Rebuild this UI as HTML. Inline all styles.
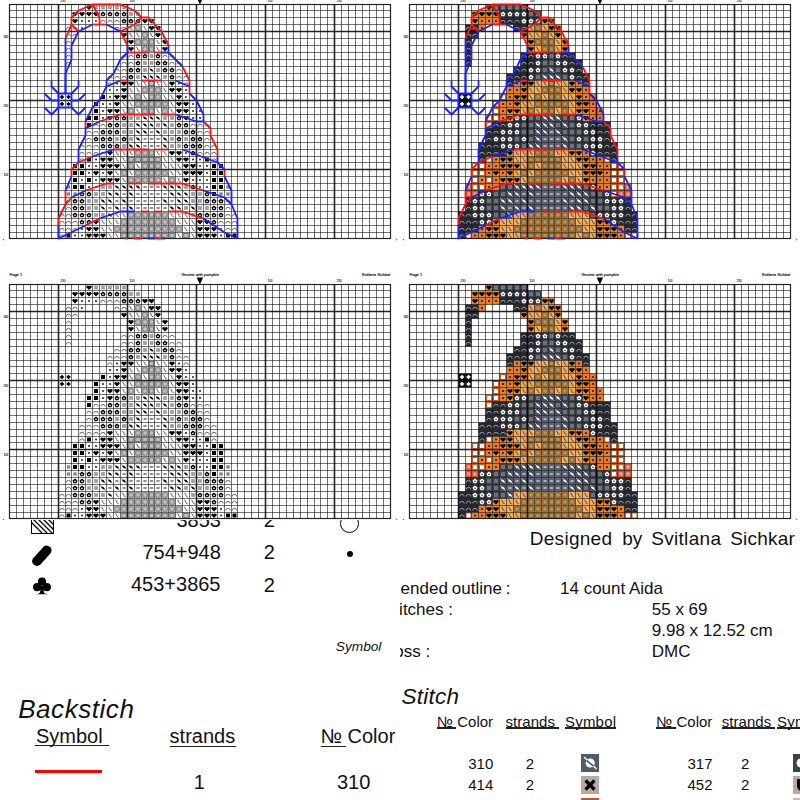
<!DOCTYPE html>
<html><head><meta charset="utf-8">
<style>
html,body{margin:0;padding:0;background:#fff;}
body{width:800px;height:800px;position:relative;overflow:hidden;font-family:"Liberation Sans",sans-serif;color:#111;}
.t{position:absolute;white-space:nowrap;line-height:1;}
.pan{position:absolute;left:0;top:0;}
u{text-decoration:none;border-bottom:1.2px solid #222;}
</style></head><body>
<div class="t" style="left:30.5px;top:510.5px;width:23px;height:23.25px;box-sizing:border-box;border:1.3px solid #000;overflow:hidden;"><svg width="23" height="24" style="display:block"><path d="M-6,0L18,24M-1,0L23,24M4,0L28,24M9,0L33,24M-11,0L13,24M14,0L38,24M19,0L43,24" stroke="#000" stroke-width="1.3"/></svg></div>
<div class="t" style="top:510.37px;font-size:20px;right:579.00px;">3853</div>
<div class="t" style="top:510.37px;font-size:20px;left:263.80px;">2</div>
<div class="t" style="left:340.2px;top:513.8px;width:18.8px;height:18.8px;box-sizing:border-box;border:1.3px solid #000;border-radius:50%;"></div>
<div class="t" style="left:31px;top:544px;width:22px;height:22px;"><svg width="22" height="22" style="display:block"><path d="M2.2,14.2 L12.8,2.6 Q15.5,0.2 19.2,3.2 Q21.8,6.2 19.4,9.4 L9.2,20.8 Q6.2,23.2 2.6,20.6 Q-0.2,17.4 2.2,14.2Z" fill="#000"/></svg></div>
<div class="t" style="top:542.07px;font-size:20px;right:579.20px;">754+948</div>
<div class="t" style="top:542.27px;font-size:20px;left:263.80px;">2</div>
<div class="t" style="left:346.6px;top:551.1px;width:6.4px;height:6.4px;border-radius:50%;background:#000;"></div>
<div class="t" style="left:33px;top:576.5px;width:18px;height:18px;"><svg width="18" height="18" style="display:block"><circle cx="9" cy="4.6" r="4.1" fill="#000"/><circle cx="4.2" cy="10.2" r="4.1" fill="#000"/><circle cx="13.8" cy="10.2" r="4.1" fill="#000"/><path d="M8,9 L10,9 L11,15.5 Q12.5,17 14.5,17.3 L3.5,17.3 Q5.5,17 7,15.5Z" fill="#000"/></svg></div>
<div class="t" style="top:573.67px;font-size:20px;right:579.50px;">453+3865</div>
<div class="t" style="top:574.57px;font-size:20px;left:263.80px;">2</div>
<div class="t" style="top:640.40px;font-size:13.7px;font-style:italic;left:335.75px;">Symbol</div>
<div class="t" style="top:696.39px;font-size:26px;font-style:italic;letter-spacing:0.55px;left:18.20px;">Backstich</div>
<div class="t" style="top:726.47px;font-size:20px;left:36.00px;">Symbol</div>
<div class="t" style="left:35.20px;top:745.10px;width:73.40px;height:1.30px;background:#222;"></div>
<div class="t" style="top:725.67px;font-size:20px;left:169.60px;">strands</div>
<div class="t" style="left:169.60px;top:745.60px;width:66.00px;height:1.30px;background:#222;"></div>
<div class="t" style="top:725.67px;font-size:20px;left:320.50px;">№ Color</div>
<div class="t" style="left:320.50px;top:745.60px;width:25.50px;height:1.30px;background:#222;"></div>
<div class="t" style="left:35.00px;top:770.40px;width:66.50px;height:2.50px;background:#ff0000;"></div>
<div class="t" style="top:772.07px;font-size:20px;left:193.80px;">1</div>
<div class="t" style="top:772.07px;font-size:20px;left:337.00px;">310</div>
<div style="position:absolute;left:400px;top:520px;width:400px;height:280px;overflow:hidden;">
<div class="t" style="top:8.67px;font-size:19px;letter-spacing:0.28px;left:129.75px;">Designed</div>
<div class="t" style="top:8.67px;font-size:19px;letter-spacing:0.1px;left:222.20px;">by</div>
<div class="t" style="top:8.67px;font-size:19px;letter-spacing:0.3px;left:251.25px;">Svitlana</div>
<div class="t" style="top:8.67px;font-size:19px;letter-spacing:0.2px;left:330.20px;">Sichkar</div>
<div class="t" style="top:60.31px;font-size:17px;left:-13.57px;word-spacing:-0.8px;">mended outline :</div>
<div class="t" style="top:60.31px;font-size:17px;left:160.00px;">14 count Aida</div>
<div class="t" style="top:81.31px;font-size:17px;left:-16.96px;">Stitches :</div>
<div class="t" style="top:81.31px;font-size:17px;left:251.75px;">55 x 69</div>
<div class="t" style="top:102.31px;font-size:17px;left:251.75px;">9.98 x 12.52 cm</div>
<div class="t" style="top:123.31px;font-size:17px;left:-19.87px;">Floss :</div>
<div class="t" style="top:123.31px;font-size:17px;left:251.75px;">DMC</div>
<div class="t" style="top:166.45px;font-size:22.5px;font-style:italic;letter-spacing:0.25px;left:1.50px;">Stitch</div>
<div class="t" style="top:193.55px;font-size:15px;left:37.00px;">№ Color</div>
<div class="t" style="left:37.00px;top:207.40px;width:19.25px;height:1.20px;background:#222;"></div>
<div class="t" style="top:193.55px;font-size:15px;letter-spacing:0.05px;left:105.50px;">strands</div>
<div class="t" style="left:105.50px;top:207.40px;width:53.25px;height:1.20px;background:#222;"></div>
<div class="t" style="top:193.55px;font-size:15px;letter-spacing:0.2px;left:165.00px;">Symbol</div>
<div class="t" style="left:165.00px;top:207.40px;width:51.25px;height:1.20px;background:#222;"></div>
<div class="t" style="top:193.55px;font-size:15px;left:256.25px;">№ Color</div>
<div class="t" style="left:256.25px;top:207.40px;width:19.25px;height:1.20px;background:#222;"></div>
<div class="t" style="top:193.55px;font-size:15px;letter-spacing:0.05px;left:321.75px;">strands</div>
<div class="t" style="left:321.75px;top:207.40px;width:53.25px;height:1.20px;background:#222;"></div>
<div class="t" style="top:193.55px;font-size:15px;letter-spacing:0.2px;left:377.00px;">Symbol</div>
<div class="t" style="left:377.00px;top:207.40px;width:51.25px;height:1.20px;background:#222;"></div>
<div class="t" style="top:236.05px;font-size:15px;left:68.25px;">310</div>
<div class="t" style="top:236.05px;font-size:15px;left:125.75px;">2</div>
<div class="t" style="top:257.30px;font-size:15px;left:68.25px;">414</div>
<div class="t" style="top:257.30px;font-size:15px;left:125.75px;">2</div>
<div class="t" style="top:236.05px;font-size:15px;left:287.50px;">317</div>
<div class="t" style="top:236.05px;font-size:15px;left:341.00px;">2</div>
<div class="t" style="top:257.30px;font-size:15px;left:287.50px;">452</div>
<div class="t" style="top:257.30px;font-size:15px;left:341.00px;">2</div>
<div class="t" style="left:181.25px;top:234.25px;width:18px;height:17.5px;background:#525a6c;"><svg width="18" height="18" style="display:block"><circle cx="9.2" cy="9" r="4.6" fill="#fff"/><path d="M3,3 L15.5,15" stroke="#fff" stroke-width="1.4"/><path d="M5.5,6.5 L12.5,12" stroke="#525a6c" stroke-width="1.6"/></svg></div>
<div class="t" style="left:181.25px;top:256.25px;width:18px;height:17.5px;background:#b9a9a3;"><svg width="18" height="18" style="display:block"><path d="M4.5,4.5 L13.5,13.5 M13.5,4.5 L4.5,13.5" stroke="#000" stroke-width="3.2"/></svg></div>
<div class="t" style="left:181.25px;top:278.25px;width:18.00px;height:3.75px;background:#d0502c;"></div>
<div class="t" style="left:393px;top:234.25px;width:18px;height:17.5px;background:#3c414a;"><svg width="18" height="18" style="display:block"><circle cx="8" cy="9" r="4.5" fill="#fff"/></svg></div>
<div class="t" style="left:393px;top:256.25px;width:18px;height:17.5px;background:#bba89c;"><svg width="18" height="18" style="display:block"><path d="M4,3 L13,3 L13,9 Q13,14 8.5,15.5 Q4,14 4,9Z" fill="#000"/></svg></div>
<div class="t" style="left:393.00px;top:278.25px;width:18.00px;height:3.75px;background:#f4b08a;"></div>
</div>

<svg class="pan" width="800" height="520" viewBox="0 0 800 520"><rect x="0" y="252" width="800" height="268" fill="#fff"/><path d="M16.5,4.5V238.5M23.5,4.5V238.5M30.5,4.5V238.5M37.5,4.5V238.5M44.5,4.5V238.5M51.5,4.5V238.5M65.5,4.5V238.5M71.5,4.5V238.5M78.5,4.5V238.5M85.5,4.5V238.5M92.5,4.5V238.5M99.5,4.5V238.5M106.5,4.5V238.5M113.5,4.5V238.5M120.5,4.5V238.5M134.5,4.5V238.5M141.5,4.5V238.5M148.5,4.5V238.5M154.5,4.5V238.5M161.5,4.5V238.5M168.5,4.5V238.5M175.5,4.5V238.5M182.5,4.5V238.5M189.5,4.5V238.5M203.5,4.5V238.5M210.5,4.5V238.5M217.5,4.5V238.5M224.5,4.5V238.5M231.5,4.5V238.5M237.5,4.5V238.5M244.5,4.5V238.5M251.5,4.5V238.5M258.5,4.5V238.5M272.5,4.5V238.5M279.5,4.5V238.5M286.5,4.5V238.5M293.5,4.5V238.5M300.5,4.5V238.5M307.5,4.5V238.5M314.5,4.5V238.5M320.5,4.5V238.5M327.5,4.5V238.5M341.5,4.5V238.5M348.5,4.5V238.5M355.5,4.5V238.5M362.5,4.5V238.5M369.5,4.5V238.5M376.5,4.5V238.5M383.5,4.5V238.5M9.5,10.5H390.5M9.5,17.5H390.5M9.5,24.5H390.5M9.5,38.5H390.5M9.5,45.5H390.5M9.5,52.5H390.5M9.5,59.5H390.5M9.5,66.5H390.5M9.5,73.5H390.5M9.5,80.5H390.5M9.5,86.5H390.5M9.5,93.5H390.5M9.5,107.5H390.5M9.5,114.5H390.5M9.5,121.5H390.5M9.5,128.5H390.5M9.5,135.5H390.5M9.5,142.5H390.5M9.5,149.5H390.5M9.5,156.5H390.5M9.5,162.5H390.5M9.5,176.5H390.5M9.5,183.5H390.5M9.5,190.5H390.5M9.5,197.5H390.5M9.5,204.5H390.5M9.5,211.5H390.5M9.5,218.5H390.5M9.5,225.5H390.5M9.5,232.5H390.5" stroke="rgba(0,0,0,0.55)" stroke-width="1" fill="none"/><path d="M58.5,4.5V238.5M127.5,4.5V238.5M196.5,4.5V238.5M265.5,4.5V238.5M334.5,4.5V238.5M9.5,31.5H390.5M9.5,100.5H390.5M9.5,169.5H390.5" stroke="rgba(0,0,0,0.85)" stroke-width="1.6" fill="none"/><rect x="9.5" y="4.5" width="381.0" height="234.0" stroke="rgba(0,0,0,0.85)" stroke-width="1.2" fill="none"/><path d="M89.0,9.9 L86.2,7.2 Q86.2,5.4 87.6,5.4 Q89.0,5.4 89.0,6.5 Q89.0,5.4 90.4,5.4 Q91.8,5.4 91.8,7.2 Z" fill="#000"/><rect x="94.2" y="5.7" width="3.6" height="3.6" fill="#8e8e8e"/><path d="M96.0,5.7V9.3M94.2,7.5H97.8" stroke="#c8c8c8" stroke-width="0.35"/><rect x="101.2" y="5.7" width="3.6" height="3.6" fill="#8e8e8e"/><path d="M103.0,5.7V9.3M101.2,7.5H104.8" stroke="#c8c8c8" stroke-width="0.35"/><rect x="108.2" y="5.7" width="3.6" height="3.6" fill="#8e8e8e"/><path d="M110.0,5.7V9.3M108.2,7.5H111.8" stroke="#c8c8c8" stroke-width="0.35"/><rect x="115.2" y="5.7" width="3.6" height="3.6" fill="#8e8e8e"/><path d="M117.0,5.7V9.3M115.2,7.5H118.8" stroke="#c8c8c8" stroke-width="0.35"/><rect x="122.2" y="5.7" width="3.6" height="3.6" fill="#8e8e8e"/><path d="M124.0,5.7V9.3M122.2,7.5H125.8" stroke="#c8c8c8" stroke-width="0.35"/><path d="M75.0,16.4 L72.2,13.7 Q72.2,11.9 73.6,11.9 Q75.0,11.9 75.0,13.0 Q75.0,11.9 76.4,11.9 Q77.8,11.9 77.8,13.7 Z" fill="#000"/><path d="M82.0,16.4 L79.2,13.7 Q79.2,11.9 80.6,11.9 Q82.0,11.9 82.0,13.0 Q82.0,11.9 83.4,11.9 Q84.8,11.9 84.8,13.7 Z" fill="#000"/><path d="M89.0,16.4 L86.2,13.7 Q86.2,11.9 87.6,11.9 Q89.0,11.9 89.0,13.0 Q89.0,11.9 90.4,11.9 Q91.8,11.9 91.8,13.7 Z" fill="#000"/><path d="M96.0,16.4 L93.2,13.7 Q93.2,11.9 94.6,11.9 Q96.0,11.9 96.0,13.0 Q96.0,11.9 97.4,11.9 Q98.8,11.9 98.8,13.7 Z" fill="#000"/><polygon points="103.0,11.6 105.5,13.4 104.5,16.3 101.5,16.3 100.5,13.4" fill="#000"/><circle cx="103.0" cy="14.3" r="0.85" fill="#fff"/><circle cx="103.0" cy="14.3" r="0.35" fill="#555"/><polygon points="110.0,11.6 112.5,13.4 111.5,16.3 108.5,16.3 107.5,13.4" fill="#000"/><circle cx="110.0" cy="14.3" r="0.85" fill="#fff"/><circle cx="110.0" cy="14.3" r="0.35" fill="#555"/><polygon points="117.0,11.6 119.5,13.4 118.5,16.3 115.5,16.3 114.5,13.4" fill="#000"/><circle cx="117.0" cy="14.3" r="0.85" fill="#fff"/><circle cx="117.0" cy="14.3" r="0.35" fill="#555"/><polygon points="124.0,11.6 126.5,13.4 125.5,16.3 122.5,16.3 121.5,13.4" fill="#000"/><circle cx="124.0" cy="14.3" r="0.85" fill="#fff"/><circle cx="124.0" cy="14.3" r="0.35" fill="#555"/><rect x="129.2" y="12.2" width="3.6" height="3.6" fill="#8e8e8e"/><path d="M131.0,12.2V15.8M129.2,14.0H132.8" stroke="#c8c8c8" stroke-width="0.35"/><rect x="136.2" y="12.2" width="3.6" height="3.6" fill="#8e8e8e"/><path d="M138.0,12.2V15.8M136.2,14.0H139.8" stroke="#c8c8c8" stroke-width="0.35"/><path d="M75.0,23.4 L72.2,20.7 Q72.2,18.9 73.6,18.9 Q75.0,18.9 75.0,20.0 Q75.0,18.9 76.4,18.9 Q77.8,18.9 77.8,20.7 Z" fill="#000"/><rect x="81.2" y="20.2" width="1.6" height="1.6" fill="#000"/><rect x="88.2" y="20.2" width="1.6" height="1.6" fill="#000"/><rect x="95.2" y="20.2" width="1.6" height="1.6" fill="#000"/><path d="M100.8,22.5 A2.2,2.2 0 0 1 105.2,22.5" fill="none" stroke="#3a3a3a" stroke-width="0.7"/><path d="M107.8,22.5 A2.2,2.2 0 0 1 112.2,22.5" fill="none" stroke="#3a3a3a" stroke-width="0.7"/><path d="M114.8,22.5 A2.2,2.2 0 0 1 119.2,22.5" fill="none" stroke="#3a3a3a" stroke-width="0.7"/><polygon points="124.0,18.6 126.5,20.4 125.5,23.3 122.5,23.3 121.5,20.4" fill="#000"/><circle cx="124.0" cy="21.3" r="0.85" fill="#fff"/><circle cx="124.0" cy="21.3" r="0.35" fill="#555"/><polygon points="131.0,18.6 133.5,20.4 132.5,23.3 129.5,23.3 128.5,20.4" fill="#000"/><circle cx="131.0" cy="21.3" r="0.85" fill="#fff"/><circle cx="131.0" cy="21.3" r="0.35" fill="#555"/><polygon points="138.0,18.6 140.5,20.4 139.5,23.3 136.5,23.3 135.5,20.4" fill="#000"/><circle cx="138.0" cy="21.3" r="0.85" fill="#fff"/><circle cx="138.0" cy="21.3" r="0.35" fill="#555"/><path d="M145.0,23.4 L142.2,20.7 Q142.2,18.9 143.6,18.9 Q145.0,18.9 145.0,20.0 Q145.0,18.9 146.4,18.9 Q147.8,18.9 147.8,20.7 Z" fill="#000"/><path d="M151.5,23.4 L148.7,20.7 Q148.7,18.9 150.1,18.9 Q151.5,18.9 151.5,20.0 Q151.5,18.9 152.9,18.9 Q154.3,18.9 154.3,20.7 Z" fill="#000"/><path d="M66.3,29.5 A2.2,2.2 0 0 1 70.7,29.5" fill="none" stroke="#3a3a3a" stroke-width="0.7"/><path d="M72.8,29.5 A2.2,2.2 0 0 1 77.2,29.5" fill="none" stroke="#3a3a3a" stroke-width="0.7"/><rect x="81.2" y="27.2" width="1.6" height="1.6" fill="#000"/><path d="M114.8,29.5 A2.2,2.2 0 0 1 119.2,29.5" fill="none" stroke="#3a3a3a" stroke-width="0.7"/><path d="M121.8,29.5 A2.2,2.2 0 0 1 126.2,29.5" fill="none" stroke="#3a3a3a" stroke-width="0.7"/><path d="M129.3,26.1 L130.4,26.7 L130.8,28.1 L131.5,29.4 L132.7,29.8" fill="none" stroke="#505050" stroke-width="0.9"/><rect x="135.8" y="25.8" width="4.4" height="4.4" fill="#c2c2c2" stroke="#4a4a4a" stroke-width="0.75"/><path d="M143.3,26.1 L144.4,26.7 L144.8,28.1 L145.5,29.4 L146.7,29.8" fill="none" stroke="#505050" stroke-width="0.9"/><path d="M151.5,30.4 L148.7,27.7 Q148.7,25.9 150.1,25.9 Q151.5,25.9 151.5,27.0 Q151.5,25.9 152.9,25.9 Q154.3,25.9 154.3,27.7 Z" fill="#000"/><path d="M158.0,30.4 L155.2,27.7 Q155.2,25.9 156.6,25.9 Q158.0,25.9 158.0,27.0 Q158.0,25.9 159.4,25.9 Q160.8,25.9 160.8,27.7 Z" fill="#000"/><path d="M66.3,36.5 A2.2,2.2 0 0 1 70.7,36.5" fill="none" stroke="#3a3a3a" stroke-width="0.7"/><path d="M72.8,36.5 A2.2,2.2 0 0 1 77.2,36.5" fill="none" stroke="#3a3a3a" stroke-width="0.7"/><path d="M124.0,37.4 L121.2,34.7 Q121.2,32.9 122.6,32.9 Q124.0,32.9 124.0,34.0 Q124.0,32.9 125.4,32.9 Q126.8,32.9 126.8,34.7 Z" fill="#000"/><path d="M129.3,33.1 L130.4,33.7 L130.8,35.1 L131.5,36.4 L132.7,36.8" fill="none" stroke="#505050" stroke-width="0.9"/><path d="M136.3,33.1 L137.4,33.7 L137.8,35.1 L138.5,36.4 L139.7,36.8" fill="none" stroke="#505050" stroke-width="0.9"/><rect x="142.8" y="32.8" width="4.4" height="4.4" fill="#c2c2c2" stroke="#4a4a4a" stroke-width="0.75"/><path d="M149.8,33.1 L150.9,33.7 L151.3,35.1 L152.0,36.4 L153.2,36.8" fill="none" stroke="#505050" stroke-width="0.9"/><path d="M158.0,37.4 L155.2,34.7 Q155.2,32.9 156.6,32.9 Q158.0,32.9 158.0,34.0 Q158.0,32.9 159.4,32.9 Q160.8,32.9 160.8,34.7 Z" fill="#000"/><path d="M66.3,43.5 A2.2,2.2 0 0 1 70.7,43.5" fill="none" stroke="#3a3a3a" stroke-width="0.7"/><path d="M131.0,44.4 L128.2,41.7 Q128.2,39.9 129.6,39.9 Q131.0,39.9 131.0,41.0 Q131.0,39.9 132.4,39.9 Q133.8,39.9 133.8,41.7 Z" fill="#000"/><rect x="135.8" y="39.8" width="4.4" height="4.4" fill="#c2c2c2" stroke="#4a4a4a" stroke-width="0.75"/><rect x="142.8" y="39.8" width="4.4" height="4.4" fill="#c2c2c2" stroke="#4a4a4a" stroke-width="0.75"/><rect x="149.3" y="39.8" width="4.4" height="4.4" fill="#c2c2c2" stroke="#4a4a4a" stroke-width="0.75"/><path d="M156.3,40.1 L157.4,40.7 L157.8,42.1 L158.5,43.4 L159.7,43.8" fill="none" stroke="#505050" stroke-width="0.9"/><path d="M165.0,44.4 L162.2,41.7 Q162.2,39.9 163.6,39.9 Q165.0,39.9 165.0,41.0 Q165.0,39.9 166.4,39.9 Q167.8,39.9 167.8,41.7 Z" fill="#000"/><path d="M66.3,50.5 A2.2,2.2 0 0 1 70.7,50.5" fill="none" stroke="#3a3a3a" stroke-width="0.7"/><path d="M131.0,51.4 L128.2,48.7 Q128.2,46.9 129.6,46.9 Q131.0,46.9 131.0,48.0 Q131.0,46.9 132.4,46.9 Q133.8,46.9 133.8,48.7 Z" fill="#000"/><path d="M136.3,47.1 L137.4,47.7 L137.8,49.1 L138.5,50.4 L139.7,50.8" fill="none" stroke="#505050" stroke-width="0.9"/><rect x="142.8" y="46.8" width="4.4" height="4.4" fill="#c2c2c2" stroke="#4a4a4a" stroke-width="0.75"/><rect x="149.3" y="46.8" width="4.4" height="4.4" fill="#c2c2c2" stroke="#4a4a4a" stroke-width="0.75"/><path d="M156.3,47.1 L157.4,47.7 L157.8,49.1 L158.5,50.4 L159.7,50.8" fill="none" stroke="#505050" stroke-width="0.9"/><path d="M165.0,51.4 L162.2,48.7 Q162.2,46.9 163.6,46.9 Q165.0,46.9 165.0,48.0 Q165.0,46.9 166.4,46.9 Q167.8,46.9 167.8,48.7 Z" fill="#000"/><path d="M66.3,57.5 A2.2,2.2 0 0 1 70.7,57.5" fill="none" stroke="#3a3a3a" stroke-width="0.7"/><path d="M121.8,57.5 A2.2,2.2 0 0 1 126.2,57.5" fill="none" stroke="#3a3a3a" stroke-width="0.7"/><path d="M128.8,57.5 A2.2,2.2 0 0 1 133.2,57.5" fill="none" stroke="#3a3a3a" stroke-width="0.7"/><polygon points="138.0,53.6 140.5,55.4 139.5,58.3 136.5,58.3 135.5,55.4" fill="#000"/><circle cx="138.0" cy="56.3" r="0.85" fill="#fff"/><circle cx="138.0" cy="56.3" r="0.35" fill="#555"/><polygon points="145.0,53.6 147.5,55.4 146.5,58.3 143.5,58.3 142.5,55.4" fill="#000"/><circle cx="145.0" cy="56.3" r="0.85" fill="#fff"/><circle cx="145.0" cy="56.3" r="0.35" fill="#555"/><rect x="149.7" y="54.2" width="3.6" height="3.6" fill="#8e8e8e"/><path d="M151.5,54.2V57.8M149.7,56.0H153.3" stroke="#c8c8c8" stroke-width="0.35"/><polygon points="158.0,53.6 160.5,55.4 159.5,58.3 156.5,58.3 155.5,55.4" fill="#000"/><circle cx="158.0" cy="56.3" r="0.85" fill="#fff"/><circle cx="158.0" cy="56.3" r="0.35" fill="#555"/><path d="M162.8,57.5 A2.2,2.2 0 0 1 167.2,57.5" fill="none" stroke="#3a3a3a" stroke-width="0.7"/><path d="M169.8,57.5 A2.2,2.2 0 0 1 174.2,57.5" fill="none" stroke="#3a3a3a" stroke-width="0.7"/><path d="M66.3,64.5 A2.2,2.2 0 0 1 70.7,64.5" fill="none" stroke="#3a3a3a" stroke-width="0.7"/><path d="M121.8,64.5 A2.2,2.2 0 0 1 126.2,64.5" fill="none" stroke="#3a3a3a" stroke-width="0.7"/><path d="M128.8,64.5 A2.2,2.2 0 0 1 133.2,64.5" fill="none" stroke="#3a3a3a" stroke-width="0.7"/><polygon points="138.0,60.6 140.5,62.4 139.5,65.3 136.5,65.3 135.5,62.4" fill="#000"/><circle cx="138.0" cy="63.3" r="0.85" fill="#fff"/><circle cx="138.0" cy="63.3" r="0.35" fill="#555"/><rect x="143.2" y="61.2" width="3.6" height="3.6" fill="#8e8e8e"/><path d="M145.0,61.2V64.8M143.2,63.0H146.8" stroke="#c8c8c8" stroke-width="0.35"/><rect x="149.7" y="61.2" width="3.6" height="3.6" fill="#8e8e8e"/><path d="M151.5,61.2V64.8M149.7,63.0H153.3" stroke="#c8c8c8" stroke-width="0.35"/><polygon points="158.0,60.6 160.5,62.4 159.5,65.3 156.5,65.3 155.5,62.4" fill="#000"/><circle cx="158.0" cy="63.3" r="0.85" fill="#fff"/><circle cx="158.0" cy="63.3" r="0.35" fill="#555"/><polygon points="165.0,60.6 167.5,62.4 166.5,65.3 163.5,65.3 162.5,62.4" fill="#000"/><circle cx="165.0" cy="63.3" r="0.85" fill="#fff"/><circle cx="165.0" cy="63.3" r="0.35" fill="#555"/><path d="M169.8,64.5 A2.2,2.2 0 0 1 174.2,64.5" fill="none" stroke="#3a3a3a" stroke-width="0.7"/><path d="M176.8,64.5 A2.2,2.2 0 0 1 181.2,64.5" fill="none" stroke="#3a3a3a" stroke-width="0.7"/><path d="M114.8,71.5 A2.2,2.2 0 0 1 119.2,71.5" fill="none" stroke="#3a3a3a" stroke-width="0.7"/><path d="M121.8,71.5 A2.2,2.2 0 0 1 126.2,71.5" fill="none" stroke="#3a3a3a" stroke-width="0.7"/><polygon points="131.0,67.6 133.5,69.4 132.5,72.3 129.5,72.3 128.5,69.4" fill="#000"/><circle cx="131.0" cy="70.3" r="0.85" fill="#fff"/><circle cx="131.0" cy="70.3" r="0.35" fill="#555"/><polygon points="138.0,67.6 140.5,69.4 139.5,72.3 136.5,72.3 135.5,69.4" fill="#000"/><circle cx="138.0" cy="70.3" r="0.85" fill="#fff"/><circle cx="138.0" cy="70.3" r="0.35" fill="#555"/><rect x="143.2" y="68.2" width="3.6" height="3.6" fill="#8e8e8e"/><path d="M145.0,68.2V71.8M143.2,70.0H146.8" stroke="#c8c8c8" stroke-width="0.35"/><line x1="148.5" y1="67.0" x2="154.5" y2="73.0" stroke="#777" stroke-width="0.5"/><ellipse cx="151.5" cy="70.0" rx="2.1" ry="1.05" transform="rotate(38 151.5 70.0)" fill="#000"/><rect x="156.2" y="68.2" width="3.6" height="3.6" fill="#8e8e8e"/><path d="M158.0,68.2V71.8M156.2,70.0H159.8" stroke="#c8c8c8" stroke-width="0.35"/><polygon points="165.0,67.6 167.5,69.4 166.5,72.3 163.5,72.3 162.5,69.4" fill="#000"/><circle cx="165.0" cy="70.3" r="0.85" fill="#fff"/><circle cx="165.0" cy="70.3" r="0.35" fill="#555"/><polygon points="172.0,67.6 174.5,69.4 173.5,72.3 170.5,72.3 169.5,69.4" fill="#000"/><circle cx="172.0" cy="70.3" r="0.85" fill="#fff"/><circle cx="172.0" cy="70.3" r="0.35" fill="#555"/><path d="M176.8,71.5 A2.2,2.2 0 0 1 181.2,71.5" fill="none" stroke="#3a3a3a" stroke-width="0.7"/><path d="M107.8,78.5 A2.2,2.2 0 0 1 112.2,78.5" fill="none" stroke="#3a3a3a" stroke-width="0.7"/><path d="M114.8,78.5 A2.2,2.2 0 0 1 119.2,78.5" fill="none" stroke="#3a3a3a" stroke-width="0.7"/><path d="M121.8,78.5 A2.2,2.2 0 0 1 126.2,78.5" fill="none" stroke="#3a3a3a" stroke-width="0.7"/><polygon points="131.0,74.6 133.5,76.4 132.5,79.3 129.5,79.3 128.5,76.4" fill="#000"/><circle cx="131.0" cy="77.3" r="0.85" fill="#fff"/><circle cx="131.0" cy="77.3" r="0.35" fill="#555"/><rect x="136.2" y="75.2" width="3.6" height="3.6" fill="#8e8e8e"/><path d="M138.0,75.2V78.8M136.2,77.0H139.8" stroke="#c8c8c8" stroke-width="0.35"/><line x1="142.0" y1="74.0" x2="148.0" y2="80.0" stroke="#777" stroke-width="0.5"/><ellipse cx="145.0" cy="77.0" rx="2.1" ry="1.05" transform="rotate(38 145.0 77.0)" fill="#000"/><line x1="148.5" y1="74.0" x2="154.5" y2="80.0" stroke="#777" stroke-width="0.5"/><ellipse cx="151.5" cy="77.0" rx="2.1" ry="1.05" transform="rotate(38 151.5 77.0)" fill="#000"/><line x1="155.0" y1="74.0" x2="161.0" y2="80.0" stroke="#777" stroke-width="0.5"/><ellipse cx="158.0" cy="77.0" rx="2.1" ry="1.05" transform="rotate(38 158.0 77.0)" fill="#000"/><rect x="163.2" y="75.2" width="3.6" height="3.6" fill="#8e8e8e"/><path d="M165.0,75.2V78.8M163.2,77.0H166.8" stroke="#c8c8c8" stroke-width="0.35"/><polygon points="172.0,74.6 174.5,76.4 173.5,79.3 170.5,79.3 169.5,76.4" fill="#000"/><circle cx="172.0" cy="77.3" r="0.85" fill="#fff"/><circle cx="172.0" cy="77.3" r="0.35" fill="#555"/><path d="M176.8,78.5 A2.2,2.2 0 0 1 181.2,78.5" fill="none" stroke="#3a3a3a" stroke-width="0.7"/><path d="M183.8,78.5 A2.2,2.2 0 0 1 188.2,78.5" fill="none" stroke="#3a3a3a" stroke-width="0.7"/><path d="M107.8,85.0 A2.2,2.2 0 0 1 112.2,85.0" fill="none" stroke="#3a3a3a" stroke-width="0.7"/><rect x="116.2" y="82.7" width="1.6" height="1.6" fill="#000"/><path d="M124.0,85.9 L121.2,83.2 Q121.2,81.4 122.6,81.4 Q124.0,81.4 124.0,82.5 Q124.0,81.4 125.4,81.4 Q126.8,81.4 126.8,83.2 Z" fill="#000"/><path d="M131.0,85.9 L128.2,83.2 Q128.2,81.4 129.6,81.4 Q131.0,81.4 131.0,82.5 Q131.0,81.4 132.4,81.4 Q133.8,81.4 133.8,83.2 Z" fill="#000"/><path d="M136.3,81.6 L137.4,82.2 L137.8,83.6 L138.5,84.9 L139.7,85.3" fill="none" stroke="#505050" stroke-width="0.9"/><path d="M143.3,81.6 L144.4,82.2 L144.8,83.6 L145.5,84.9 L146.7,85.3" fill="none" stroke="#505050" stroke-width="0.9"/><rect x="149.3" y="81.3" width="4.4" height="4.4" fill="#c2c2c2" stroke="#4a4a4a" stroke-width="0.75"/><path d="M156.3,81.6 L157.4,82.2 L157.8,83.6 L158.5,84.9 L159.7,85.3" fill="none" stroke="#505050" stroke-width="0.9"/><path d="M163.3,81.6 L164.4,82.2 L164.8,83.6 L165.5,84.9 L166.7,85.3" fill="none" stroke="#505050" stroke-width="0.9"/><path d="M172.0,85.9 L169.2,83.2 Q169.2,81.4 170.6,81.4 Q172.0,81.4 172.0,82.5 Q172.0,81.4 173.4,81.4 Q174.8,81.4 174.8,83.2 Z" fill="#000"/><rect x="178.2" y="82.7" width="1.6" height="1.6" fill="#000"/><path d="M183.8,85.0 A2.2,2.2 0 0 1 188.2,85.0" fill="none" stroke="#3a3a3a" stroke-width="0.7"/><rect x="109.2" y="89.2" width="1.6" height="1.6" fill="#000"/><rect x="116.2" y="89.2" width="1.6" height="1.6" fill="#000"/><path d="M124.0,92.4 L121.2,89.7 Q121.2,87.9 122.6,87.9 Q124.0,87.9 124.0,89.0 Q124.0,87.9 125.4,87.9 Q126.8,87.9 126.8,89.7 Z" fill="#000"/><path d="M129.3,88.1 L130.4,88.7 L130.8,90.1 L131.5,91.4 L132.7,91.8" fill="none" stroke="#505050" stroke-width="0.9"/><path d="M136.3,88.1 L137.4,88.7 L137.8,90.1 L138.5,91.4 L139.7,91.8" fill="none" stroke="#505050" stroke-width="0.9"/><rect x="142.8" y="87.8" width="4.4" height="4.4" fill="#c2c2c2" stroke="#4a4a4a" stroke-width="0.75"/><rect x="149.3" y="87.8" width="4.4" height="4.4" fill="#c2c2c2" stroke="#4a4a4a" stroke-width="0.75"/><rect x="155.8" y="87.8" width="4.4" height="4.4" fill="#c2c2c2" stroke="#4a4a4a" stroke-width="0.75"/><path d="M163.3,88.1 L164.4,88.7 L164.8,90.1 L165.5,91.4 L166.7,91.8" fill="none" stroke="#505050" stroke-width="0.9"/><path d="M172.0,92.4 L169.2,89.7 Q169.2,87.9 170.6,87.9 Q172.0,87.9 172.0,89.0 Q172.0,87.9 173.4,87.9 Q174.8,87.9 174.8,89.7 Z" fill="#000"/><path d="M179.0,92.4 L176.2,89.7 Q176.2,87.9 177.6,87.9 Q179.0,87.9 179.0,89.0 Q179.0,87.9 180.4,87.9 Q181.8,87.9 181.8,89.7 Z" fill="#000"/><rect x="185.2" y="89.2" width="1.6" height="1.6" fill="#000"/><path d="M62.0,94.7L64.3,97.0L62.0,99.3L59.7,97.0Z" fill="#000"/><path d="M68.5,94.7L70.8,97.0L68.5,99.3L66.2,97.0Z" fill="#000"/><rect x="101.0" y="95.0" width="4.0" height="4.0" fill="#000"/><rect x="109.2" y="96.2" width="1.6" height="1.6" fill="#000"/><path d="M117.0,99.4 L114.2,96.7 Q114.2,94.9 115.6,94.9 Q117.0,94.9 117.0,96.0 Q117.0,94.9 118.4,94.9 Q119.8,94.9 119.8,96.7 Z" fill="#000"/><path d="M124.0,99.4 L121.2,96.7 Q121.2,94.9 122.6,94.9 Q124.0,94.9 124.0,96.0 Q124.0,94.9 125.4,94.9 Q126.8,94.9 126.8,96.7 Z" fill="#000"/><path d="M129.3,95.1 L130.4,95.7 L130.8,97.1 L131.5,98.4 L132.7,98.8" fill="none" stroke="#505050" stroke-width="0.9"/><rect x="135.8" y="94.8" width="4.4" height="4.4" fill="#c2c2c2" stroke="#4a4a4a" stroke-width="0.75"/><path d="M143.3,95.1 L144.4,95.7 L144.8,97.1 L145.5,98.4 L146.7,98.8" fill="none" stroke="#505050" stroke-width="0.9"/><rect x="149.3" y="94.8" width="4.4" height="4.4" fill="#c2c2c2" stroke="#4a4a4a" stroke-width="0.75"/><rect x="155.8" y="94.8" width="4.4" height="4.4" fill="#c2c2c2" stroke="#4a4a4a" stroke-width="0.75"/><path d="M163.3,95.1 L164.4,95.7 L164.8,97.1 L165.5,98.4 L166.7,98.8" fill="none" stroke="#505050" stroke-width="0.9"/><path d="M170.3,95.1 L171.4,95.7 L171.8,97.1 L172.5,98.4 L173.7,98.8" fill="none" stroke="#505050" stroke-width="0.9"/><path d="M179.0,99.4 L176.2,96.7 Q176.2,94.9 177.6,94.9 Q179.0,94.9 179.0,96.0 Q179.0,94.9 180.4,94.9 Q181.8,94.9 181.8,96.7 Z" fill="#000"/><rect x="185.2" y="96.2" width="1.6" height="1.6" fill="#000"/><rect x="192.2" y="96.2" width="1.6" height="1.6" fill="#000"/><path d="M62.0,101.7L64.3,104.0L62.0,106.3L59.7,104.0Z" fill="#000"/><path d="M68.5,101.7L70.8,104.0L68.5,106.3L66.2,104.0Z" fill="#000"/><rect x="94.0" y="102.0" width="4.0" height="4.0" fill="#000"/><rect x="102.2" y="103.2" width="1.6" height="1.6" fill="#000"/><rect x="109.2" y="103.2" width="1.6" height="1.6" fill="#000"/><path d="M117.0,106.4 L114.2,103.7 Q114.2,101.9 115.6,101.9 Q117.0,101.9 117.0,103.0 Q117.0,101.9 118.4,101.9 Q119.8,101.9 119.8,103.7 Z" fill="#000"/><path d="M122.3,102.1 L123.4,102.7 L123.8,104.1 L124.5,105.4 L125.7,105.8" fill="none" stroke="#505050" stroke-width="0.9"/><path d="M129.3,102.1 L130.4,102.7 L130.8,104.1 L131.5,105.4 L132.7,105.8" fill="none" stroke="#505050" stroke-width="0.9"/><rect x="135.8" y="101.8" width="4.4" height="4.4" fill="#c2c2c2" stroke="#4a4a4a" stroke-width="0.75"/><rect x="142.8" y="101.8" width="4.4" height="4.4" fill="#c2c2c2" stroke="#4a4a4a" stroke-width="0.75"/><rect x="149.3" y="101.8" width="4.4" height="4.4" fill="#c2c2c2" stroke="#4a4a4a" stroke-width="0.75"/><rect x="155.8" y="101.8" width="4.4" height="4.4" fill="#c2c2c2" stroke="#4a4a4a" stroke-width="0.75"/><rect x="162.8" y="101.8" width="4.4" height="4.4" fill="#c2c2c2" stroke="#4a4a4a" stroke-width="0.75"/><path d="M170.3,102.1 L171.4,102.7 L171.8,104.1 L172.5,105.4 L173.7,105.8" fill="none" stroke="#505050" stroke-width="0.9"/><path d="M179.0,106.4 L176.2,103.7 Q176.2,101.9 177.6,101.9 Q179.0,101.9 179.0,103.0 Q179.0,101.9 180.4,101.9 Q181.8,101.9 181.8,103.7 Z" fill="#000"/><path d="M186.0,106.4 L183.2,103.7 Q183.2,101.9 184.6,101.9 Q186.0,101.9 186.0,103.0 Q186.0,101.9 187.4,101.9 Q188.8,101.9 188.8,103.7 Z" fill="#000"/><rect x="192.2" y="103.2" width="1.6" height="1.6" fill="#000"/><rect x="94.0" y="109.0" width="4.0" height="4.0" fill="#000"/><rect x="102.2" y="110.2" width="1.6" height="1.6" fill="#000"/><path d="M110.0,113.4 L107.2,110.7 Q107.2,108.9 108.6,108.9 Q110.0,108.9 110.0,110.0 Q110.0,108.9 111.4,108.9 Q112.8,108.9 112.8,110.7 Z" fill="#000"/><path d="M117.0,113.4 L114.2,110.7 Q114.2,108.9 115.6,108.9 Q117.0,108.9 117.0,110.0 Q117.0,108.9 118.4,108.9 Q119.8,108.9 119.8,110.7 Z" fill="#000"/><path d="M122.3,109.1 L123.4,109.7 L123.8,111.1 L124.5,112.4 L125.7,112.8" fill="none" stroke="#505050" stroke-width="0.9"/><rect x="128.8" y="108.8" width="4.4" height="4.4" fill="#c2c2c2" stroke="#4a4a4a" stroke-width="0.75"/><path d="M136.3,109.1 L137.4,109.7 L137.8,111.1 L138.5,112.4 L139.7,112.8" fill="none" stroke="#505050" stroke-width="0.9"/><rect x="142.8" y="108.8" width="4.4" height="4.4" fill="#c2c2c2" stroke="#4a4a4a" stroke-width="0.75"/><rect x="149.3" y="108.8" width="4.4" height="4.4" fill="#c2c2c2" stroke="#4a4a4a" stroke-width="0.75"/><path d="M156.3,109.1 L157.4,109.7 L157.8,111.1 L158.5,112.4 L159.7,112.8" fill="none" stroke="#505050" stroke-width="0.9"/><rect x="162.8" y="108.8" width="4.4" height="4.4" fill="#c2c2c2" stroke="#4a4a4a" stroke-width="0.75"/><path d="M170.3,109.1 L171.4,109.7 L171.8,111.1 L172.5,112.4 L173.7,112.8" fill="none" stroke="#505050" stroke-width="0.9"/><path d="M179.0,113.4 L176.2,110.7 Q176.2,108.9 177.6,108.9 Q179.0,108.9 179.0,110.0 Q179.0,108.9 180.4,108.9 Q181.8,108.9 181.8,110.7 Z" fill="#000"/><path d="M186.0,113.4 L183.2,110.7 Q183.2,108.9 184.6,108.9 Q186.0,108.9 186.0,110.0 Q186.0,108.9 187.4,108.9 Q188.8,108.9 188.8,110.7 Z" fill="#000"/><rect x="192.2" y="110.2" width="1.6" height="1.6" fill="#000"/><rect x="199.2" y="110.2" width="1.6" height="1.6" fill="#000"/><rect x="87.0" y="116.0" width="4.0" height="4.0" fill="#000"/><rect x="94.0" y="116.0" width="4.0" height="4.0" fill="#000"/><rect x="102.2" y="117.2" width="1.6" height="1.6" fill="#000"/><path d="M110.0,120.4 L107.2,117.7 Q107.2,115.9 108.6,115.9 Q110.0,115.9 110.0,117.0 Q110.0,115.9 111.4,115.9 Q112.8,115.9 112.8,117.7 Z" fill="#000"/><polygon points="117.0,115.6 119.5,117.4 118.5,120.3 115.5,120.3 114.5,117.4" fill="#000"/><circle cx="117.0" cy="118.3" r="0.85" fill="#fff"/><circle cx="117.0" cy="118.3" r="0.35" fill="#555"/><polygon points="124.0,115.6 126.5,117.4 125.5,120.3 122.5,120.3 121.5,117.4" fill="#000"/><circle cx="124.0" cy="118.3" r="0.85" fill="#fff"/><circle cx="124.0" cy="118.3" r="0.35" fill="#555"/><rect x="129.2" y="116.2" width="3.6" height="3.6" fill="#8e8e8e"/><path d="M131.0,116.2V119.8M129.2,118.0H132.8" stroke="#c8c8c8" stroke-width="0.35"/><rect x="136.2" y="116.2" width="3.6" height="3.6" fill="#8e8e8e"/><path d="M138.0,116.2V119.8M136.2,118.0H139.8" stroke="#c8c8c8" stroke-width="0.35"/><line x1="142.0" y1="115.0" x2="148.0" y2="121.0" stroke="#777" stroke-width="0.5"/><ellipse cx="145.0" cy="118.0" rx="2.1" ry="1.05" transform="rotate(38 145.0 118.0)" fill="#000"/><line x1="148.5" y1="115.0" x2="154.5" y2="121.0" stroke="#777" stroke-width="0.5"/><ellipse cx="151.5" cy="118.0" rx="2.1" ry="1.05" transform="rotate(38 151.5 118.0)" fill="#000"/><line x1="155.0" y1="115.0" x2="161.0" y2="121.0" stroke="#777" stroke-width="0.5"/><ellipse cx="158.0" cy="118.0" rx="2.1" ry="1.05" transform="rotate(38 158.0 118.0)" fill="#000"/><rect x="163.2" y="116.2" width="3.6" height="3.6" fill="#8e8e8e"/><path d="M165.0,116.2V119.8M163.2,118.0H166.8" stroke="#c8c8c8" stroke-width="0.35"/><rect x="170.2" y="116.2" width="3.6" height="3.6" fill="#8e8e8e"/><path d="M172.0,116.2V119.8M170.2,118.0H173.8" stroke="#c8c8c8" stroke-width="0.35"/><polygon points="179.0,115.6 181.5,117.4 180.5,120.3 177.5,120.3 176.5,117.4" fill="#000"/><circle cx="179.0" cy="118.3" r="0.85" fill="#fff"/><circle cx="179.0" cy="118.3" r="0.35" fill="#555"/><path d="M186.0,120.4 L183.2,117.7 Q183.2,115.9 184.6,115.9 Q186.0,115.9 186.0,117.0 Q186.0,115.9 187.4,115.9 Q188.8,115.9 188.8,117.7 Z" fill="#000"/><rect x="192.2" y="117.2" width="1.6" height="1.6" fill="#000"/><rect x="199.2" y="117.2" width="1.6" height="1.6" fill="#000"/><rect x="87.0" y="123.0" width="4.0" height="4.0" fill="#000"/><path d="M93.8,126.5 A2.2,2.2 0 0 1 98.2,126.5" fill="none" stroke="#3a3a3a" stroke-width="0.7"/><path d="M100.8,126.5 A2.2,2.2 0 0 1 105.2,126.5" fill="none" stroke="#3a3a3a" stroke-width="0.7"/><polygon points="110.0,122.6 112.5,124.4 111.5,127.3 108.5,127.3 107.5,124.4" fill="#000"/><circle cx="110.0" cy="125.3" r="0.85" fill="#fff"/><circle cx="110.0" cy="125.3" r="0.35" fill="#555"/><polygon points="117.0,122.6 119.5,124.4 118.5,127.3 115.5,127.3 114.5,124.4" fill="#000"/><circle cx="117.0" cy="125.3" r="0.85" fill="#fff"/><circle cx="117.0" cy="125.3" r="0.35" fill="#555"/><rect x="122.2" y="123.2" width="3.6" height="3.6" fill="#8e8e8e"/><path d="M124.0,123.2V126.8M122.2,125.0H125.8" stroke="#c8c8c8" stroke-width="0.35"/><rect x="129.2" y="123.2" width="3.6" height="3.6" fill="#8e8e8e"/><path d="M131.0,123.2V126.8M129.2,125.0H132.8" stroke="#c8c8c8" stroke-width="0.35"/><line x1="135.0" y1="122.0" x2="141.0" y2="128.0" stroke="#777" stroke-width="0.5"/><ellipse cx="138.0" cy="125.0" rx="2.1" ry="1.05" transform="rotate(38 138.0 125.0)" fill="#000"/><line x1="142.0" y1="122.0" x2="148.0" y2="128.0" stroke="#777" stroke-width="0.5"/><ellipse cx="145.0" cy="125.0" rx="2.1" ry="1.05" transform="rotate(38 145.0 125.0)" fill="#000"/><line x1="148.5" y1="122.0" x2="154.5" y2="128.0" stroke="#777" stroke-width="0.5"/><ellipse cx="151.5" cy="125.0" rx="2.1" ry="1.05" transform="rotate(38 151.5 125.0)" fill="#000"/><rect x="156.2" y="123.2" width="3.6" height="3.6" fill="#8e8e8e"/><path d="M158.0,123.2V126.8M156.2,125.0H159.8" stroke="#c8c8c8" stroke-width="0.35"/><line x1="162.0" y1="122.0" x2="168.0" y2="128.0" stroke="#777" stroke-width="0.5"/><ellipse cx="165.0" cy="125.0" rx="2.1" ry="1.05" transform="rotate(38 165.0 125.0)" fill="#000"/><rect x="170.2" y="123.2" width="3.6" height="3.6" fill="#8e8e8e"/><path d="M172.0,123.2V126.8M170.2,125.0H173.8" stroke="#c8c8c8" stroke-width="0.35"/><polygon points="179.0,122.6 181.5,124.4 180.5,127.3 177.5,127.3 176.5,124.4" fill="#000"/><circle cx="179.0" cy="125.3" r="0.85" fill="#fff"/><circle cx="179.0" cy="125.3" r="0.35" fill="#555"/><polygon points="186.0,122.6 188.5,124.4 187.5,127.3 184.5,127.3 183.5,124.4" fill="#000"/><circle cx="186.0" cy="125.3" r="0.85" fill="#fff"/><circle cx="186.0" cy="125.3" r="0.35" fill="#555"/><path d="M190.8,126.5 A2.2,2.2 0 0 1 195.2,126.5" fill="none" stroke="#3a3a3a" stroke-width="0.7"/><path d="M197.8,126.5 A2.2,2.2 0 0 1 202.2,126.5" fill="none" stroke="#3a3a3a" stroke-width="0.7"/><path d="M204.8,126.5 A2.2,2.2 0 0 1 209.2,126.5" fill="none" stroke="#3a3a3a" stroke-width="0.7"/><path d="M86.8,133.5 A2.2,2.2 0 0 1 91.2,133.5" fill="none" stroke="#3a3a3a" stroke-width="0.7"/><path d="M93.8,133.5 A2.2,2.2 0 0 1 98.2,133.5" fill="none" stroke="#3a3a3a" stroke-width="0.7"/><polygon points="103.0,129.6 105.5,131.4 104.5,134.3 101.5,134.3 100.5,131.4" fill="#000"/><circle cx="103.0" cy="132.3" r="0.85" fill="#fff"/><circle cx="103.0" cy="132.3" r="0.35" fill="#555"/><polygon points="110.0,129.6 112.5,131.4 111.5,134.3 108.5,134.3 107.5,131.4" fill="#000"/><circle cx="110.0" cy="132.3" r="0.85" fill="#fff"/><circle cx="110.0" cy="132.3" r="0.35" fill="#555"/><polygon points="117.0,129.6 119.5,131.4 118.5,134.3 115.5,134.3 114.5,131.4" fill="#000"/><circle cx="117.0" cy="132.3" r="0.85" fill="#fff"/><circle cx="117.0" cy="132.3" r="0.35" fill="#555"/><rect x="122.2" y="130.2" width="3.6" height="3.6" fill="#8e8e8e"/><path d="M124.0,130.2V133.8M122.2,132.0H125.8" stroke="#c8c8c8" stroke-width="0.35"/><rect x="129.2" y="130.2" width="3.6" height="3.6" fill="#8e8e8e"/><path d="M131.0,130.2V133.8M129.2,132.0H132.8" stroke="#c8c8c8" stroke-width="0.35"/><line x1="135.0" y1="129.0" x2="141.0" y2="135.0" stroke="#777" stroke-width="0.5"/><ellipse cx="138.0" cy="132.0" rx="2.1" ry="1.05" transform="rotate(38 138.0 132.0)" fill="#000"/><line x1="142.0" y1="129.0" x2="148.0" y2="135.0" stroke="#777" stroke-width="0.5"/><ellipse cx="145.0" cy="132.0" rx="2.1" ry="1.05" transform="rotate(38 145.0 132.0)" fill="#000"/><rect x="149.9" y="131.4" width="3.2" height="1.2" fill="#444"/><line x1="155.0" y1="129.0" x2="161.0" y2="135.0" stroke="#777" stroke-width="0.5"/><ellipse cx="158.0" cy="132.0" rx="2.1" ry="1.05" transform="rotate(38 158.0 132.0)" fill="#000"/><rect x="163.2" y="130.2" width="3.6" height="3.6" fill="#8e8e8e"/><path d="M165.0,130.2V133.8M163.2,132.0H166.8" stroke="#c8c8c8" stroke-width="0.35"/><rect x="170.2" y="130.2" width="3.6" height="3.6" fill="#8e8e8e"/><path d="M172.0,130.2V133.8M170.2,132.0H173.8" stroke="#c8c8c8" stroke-width="0.35"/><rect x="177.2" y="130.2" width="3.6" height="3.6" fill="#8e8e8e"/><path d="M179.0,130.2V133.8M177.2,132.0H180.8" stroke="#c8c8c8" stroke-width="0.35"/><polygon points="186.0,129.6 188.5,131.4 187.5,134.3 184.5,134.3 183.5,131.4" fill="#000"/><circle cx="186.0" cy="132.3" r="0.85" fill="#fff"/><circle cx="186.0" cy="132.3" r="0.35" fill="#555"/><polygon points="193.0,129.6 195.5,131.4 194.5,134.3 191.5,134.3 190.5,131.4" fill="#000"/><circle cx="193.0" cy="132.3" r="0.85" fill="#fff"/><circle cx="193.0" cy="132.3" r="0.35" fill="#555"/><path d="M197.8,133.5 A2.2,2.2 0 0 1 202.2,133.5" fill="none" stroke="#3a3a3a" stroke-width="0.7"/><path d="M204.8,133.5 A2.2,2.2 0 0 1 209.2,133.5" fill="none" stroke="#3a3a3a" stroke-width="0.7"/><path d="M86.8,140.5 A2.2,2.2 0 0 1 91.2,140.5" fill="none" stroke="#3a3a3a" stroke-width="0.7"/><polygon points="96.0,136.6 98.5,138.4 97.5,141.3 94.5,141.3 93.5,138.4" fill="#000"/><circle cx="96.0" cy="139.3" r="0.85" fill="#fff"/><circle cx="96.0" cy="139.3" r="0.35" fill="#555"/><polygon points="103.0,136.6 105.5,138.4 104.5,141.3 101.5,141.3 100.5,138.4" fill="#000"/><circle cx="103.0" cy="139.3" r="0.85" fill="#fff"/><circle cx="103.0" cy="139.3" r="0.35" fill="#555"/><polygon points="110.0,136.6 112.5,138.4 111.5,141.3 108.5,141.3 107.5,138.4" fill="#000"/><circle cx="110.0" cy="139.3" r="0.85" fill="#fff"/><circle cx="110.0" cy="139.3" r="0.35" fill="#555"/><rect x="115.2" y="137.2" width="3.6" height="3.6" fill="#8e8e8e"/><path d="M117.0,137.2V140.8M115.2,139.0H118.8" stroke="#c8c8c8" stroke-width="0.35"/><polygon points="124.0,136.6 126.5,138.4 125.5,141.3 122.5,141.3 121.5,138.4" fill="#000"/><circle cx="124.0" cy="139.3" r="0.85" fill="#fff"/><circle cx="124.0" cy="139.3" r="0.35" fill="#555"/><rect x="129.2" y="137.2" width="3.6" height="3.6" fill="#8e8e8e"/><path d="M131.0,137.2V140.8M129.2,139.0H132.8" stroke="#c8c8c8" stroke-width="0.35"/><line x1="135.0" y1="136.0" x2="141.0" y2="142.0" stroke="#777" stroke-width="0.5"/><ellipse cx="138.0" cy="139.0" rx="2.1" ry="1.05" transform="rotate(38 138.0 139.0)" fill="#000"/><rect x="143.4" y="138.4" width="3.2" height="1.2" fill="#444"/><rect x="149.9" y="138.4" width="3.2" height="1.2" fill="#444"/><rect x="156.4" y="138.4" width="3.2" height="1.2" fill="#444"/><line x1="162.0" y1="136.0" x2="168.0" y2="142.0" stroke="#777" stroke-width="0.5"/><ellipse cx="165.0" cy="139.0" rx="2.1" ry="1.05" transform="rotate(38 165.0 139.0)" fill="#000"/><rect x="170.2" y="137.2" width="3.6" height="3.6" fill="#8e8e8e"/><path d="M172.0,137.2V140.8M170.2,139.0H173.8" stroke="#c8c8c8" stroke-width="0.35"/><polygon points="179.0,136.6 181.5,138.4 180.5,141.3 177.5,141.3 176.5,138.4" fill="#000"/><circle cx="179.0" cy="139.3" r="0.85" fill="#fff"/><circle cx="179.0" cy="139.3" r="0.35" fill="#555"/><rect x="184.2" y="137.2" width="3.6" height="3.6" fill="#8e8e8e"/><path d="M186.0,137.2V140.8M184.2,139.0H187.8" stroke="#c8c8c8" stroke-width="0.35"/><polygon points="193.0,136.6 195.5,138.4 194.5,141.3 191.5,141.3 190.5,138.4" fill="#000"/><circle cx="193.0" cy="139.3" r="0.85" fill="#fff"/><circle cx="193.0" cy="139.3" r="0.35" fill="#555"/><polygon points="200.0,136.6 202.5,138.4 201.5,141.3 198.5,141.3 197.5,138.4" fill="#000"/><circle cx="200.0" cy="139.3" r="0.85" fill="#fff"/><circle cx="200.0" cy="139.3" r="0.35" fill="#555"/><path d="M204.8,140.5 A2.2,2.2 0 0 1 209.2,140.5" fill="none" stroke="#3a3a3a" stroke-width="0.7"/><path d="M79.8,147.5 A2.2,2.2 0 0 1 84.2,147.5" fill="none" stroke="#3a3a3a" stroke-width="0.7"/><path d="M86.8,147.5 A2.2,2.2 0 0 1 91.2,147.5" fill="none" stroke="#3a3a3a" stroke-width="0.7"/><path d="M93.8,147.5 A2.2,2.2 0 0 1 98.2,147.5" fill="none" stroke="#3a3a3a" stroke-width="0.7"/><polygon points="103.0,143.6 105.5,145.4 104.5,148.3 101.5,148.3 100.5,145.4" fill="#000"/><circle cx="103.0" cy="146.3" r="0.85" fill="#fff"/><circle cx="103.0" cy="146.3" r="0.35" fill="#555"/><polygon points="110.0,143.6 112.5,145.4 111.5,148.3 108.5,148.3 107.5,145.4" fill="#000"/><circle cx="110.0" cy="146.3" r="0.85" fill="#fff"/><circle cx="110.0" cy="146.3" r="0.35" fill="#555"/><polygon points="117.0,143.6 119.5,145.4 118.5,148.3 115.5,148.3 114.5,145.4" fill="#000"/><circle cx="117.0" cy="146.3" r="0.85" fill="#fff"/><circle cx="117.0" cy="146.3" r="0.35" fill="#555"/><rect x="122.2" y="144.2" width="3.6" height="3.6" fill="#8e8e8e"/><path d="M124.0,144.2V147.8M122.2,146.0H125.8" stroke="#c8c8c8" stroke-width="0.35"/><line x1="128.0" y1="143.0" x2="134.0" y2="149.0" stroke="#777" stroke-width="0.5"/><ellipse cx="131.0" cy="146.0" rx="2.1" ry="1.05" transform="rotate(38 131.0 146.0)" fill="#000"/><line x1="135.0" y1="143.0" x2="141.0" y2="149.0" stroke="#777" stroke-width="0.5"/><ellipse cx="138.0" cy="146.0" rx="2.1" ry="1.05" transform="rotate(38 138.0 146.0)" fill="#000"/><rect x="143.4" y="145.4" width="3.2" height="1.2" fill="#444"/><rect x="149.9" y="145.4" width="3.2" height="1.2" fill="#444"/><rect x="156.4" y="145.4" width="3.2" height="1.2" fill="#444"/><line x1="162.0" y1="143.0" x2="168.0" y2="149.0" stroke="#777" stroke-width="0.5"/><ellipse cx="165.0" cy="146.0" rx="2.1" ry="1.05" transform="rotate(38 165.0 146.0)" fill="#000"/><rect x="170.2" y="144.2" width="3.6" height="3.6" fill="#8e8e8e"/><path d="M172.0,144.2V147.8M170.2,146.0H173.8" stroke="#c8c8c8" stroke-width="0.35"/><rect x="177.2" y="144.2" width="3.6" height="3.6" fill="#8e8e8e"/><path d="M179.0,144.2V147.8M177.2,146.0H180.8" stroke="#c8c8c8" stroke-width="0.35"/><polygon points="186.0,143.6 188.5,145.4 187.5,148.3 184.5,148.3 183.5,145.4" fill="#000"/><circle cx="186.0" cy="146.3" r="0.85" fill="#fff"/><circle cx="186.0" cy="146.3" r="0.35" fill="#555"/><polygon points="193.0,143.6 195.5,145.4 194.5,148.3 191.5,148.3 190.5,145.4" fill="#000"/><circle cx="193.0" cy="146.3" r="0.85" fill="#fff"/><circle cx="193.0" cy="146.3" r="0.35" fill="#555"/><polygon points="200.0,143.6 202.5,145.4 201.5,148.3 198.5,148.3 197.5,145.4" fill="#000"/><circle cx="200.0" cy="146.3" r="0.85" fill="#fff"/><circle cx="200.0" cy="146.3" r="0.35" fill="#555"/><path d="M204.8,147.5 A2.2,2.2 0 0 1 209.2,147.5" fill="none" stroke="#3a3a3a" stroke-width="0.7"/><path d="M211.8,147.5 A2.2,2.2 0 0 1 216.2,147.5" fill="none" stroke="#3a3a3a" stroke-width="0.7"/><path d="M79.8,154.5 A2.2,2.2 0 0 1 84.2,154.5" fill="none" stroke="#3a3a3a" stroke-width="0.7"/><path d="M86.8,154.5 A2.2,2.2 0 0 1 91.2,154.5" fill="none" stroke="#3a3a3a" stroke-width="0.7"/><path d="M93.8,154.5 A2.2,2.2 0 0 1 98.2,154.5" fill="none" stroke="#3a3a3a" stroke-width="0.7"/><path d="M100.8,154.5 A2.2,2.2 0 0 1 105.2,154.5" fill="none" stroke="#3a3a3a" stroke-width="0.7"/><path d="M110.0,155.4 L107.2,152.7 Q107.2,150.9 108.6,150.9 Q110.0,150.9 110.0,152.0 Q110.0,150.9 111.4,150.9 Q112.8,150.9 112.8,152.7 Z" fill="#000"/><path d="M115.3,151.1 L116.4,151.7 L116.8,153.1 L117.5,154.4 L118.7,154.8" fill="none" stroke="#505050" stroke-width="0.9"/><path d="M122.3,151.1 L123.4,151.7 L123.8,153.1 L124.5,154.4 L125.7,154.8" fill="none" stroke="#505050" stroke-width="0.9"/><path d="M129.3,151.1 L130.4,151.7 L130.8,153.1 L131.5,154.4 L132.7,154.8" fill="none" stroke="#505050" stroke-width="0.9"/><rect x="135.8" y="150.8" width="4.4" height="4.4" fill="#c2c2c2" stroke="#4a4a4a" stroke-width="0.75"/><rect x="142.8" y="150.8" width="4.4" height="4.4" fill="#c2c2c2" stroke="#4a4a4a" stroke-width="0.75"/><rect x="149.3" y="150.8" width="4.4" height="4.4" fill="#c2c2c2" stroke="#4a4a4a" stroke-width="0.75"/><path d="M156.3,151.1 L157.4,151.7 L157.8,153.1 L158.5,154.4 L159.7,154.8" fill="none" stroke="#505050" stroke-width="0.9"/><path d="M163.3,151.1 L164.4,151.7 L164.8,153.1 L165.5,154.4 L166.7,154.8" fill="none" stroke="#505050" stroke-width="0.9"/><path d="M172.0,155.4 L169.2,152.7 Q169.2,150.9 170.6,150.9 Q172.0,150.9 172.0,152.0 Q172.0,150.9 173.4,150.9 Q174.8,150.9 174.8,152.7 Z" fill="#000"/><path d="M179.0,155.4 L176.2,152.7 Q176.2,150.9 177.6,150.9 Q179.0,150.9 179.0,152.0 Q179.0,150.9 180.4,150.9 Q181.8,150.9 181.8,152.7 Z" fill="#000"/><rect x="185.2" y="152.2" width="1.6" height="1.6" fill="#000"/><polygon points="193.0,150.6 195.5,152.4 194.5,155.3 191.5,155.3 190.5,152.4" fill="#000"/><circle cx="193.0" cy="153.3" r="0.85" fill="#fff"/><circle cx="193.0" cy="153.3" r="0.35" fill="#555"/><path d="M197.8,154.5 A2.2,2.2 0 0 1 202.2,154.5" fill="none" stroke="#3a3a3a" stroke-width="0.7"/><path d="M204.8,154.5 A2.2,2.2 0 0 1 209.2,154.5" fill="none" stroke="#3a3a3a" stroke-width="0.7"/><path d="M211.8,154.5 A2.2,2.2 0 0 1 216.2,154.5" fill="none" stroke="#3a3a3a" stroke-width="0.7"/><path d="M79.8,161.0 A2.2,2.2 0 0 1 84.2,161.0" fill="none" stroke="#3a3a3a" stroke-width="0.7"/><rect x="87.0" y="157.5" width="4.0" height="4.0" fill="#000"/><rect x="95.2" y="158.7" width="1.6" height="1.6" fill="#000"/><path d="M103.0,161.9 L100.2,159.2 Q100.2,157.4 101.6,157.4 Q103.0,157.4 103.0,158.5 Q103.0,157.4 104.4,157.4 Q105.8,157.4 105.8,159.2 Z" fill="#000"/><path d="M110.0,161.9 L107.2,159.2 Q107.2,157.4 108.6,157.4 Q110.0,157.4 110.0,158.5 Q110.0,157.4 111.4,157.4 Q112.8,157.4 112.8,159.2 Z" fill="#000"/><path d="M115.3,157.6 L116.4,158.2 L116.8,159.6 L117.5,160.9 L118.7,161.3" fill="none" stroke="#505050" stroke-width="0.9"/><path d="M122.3,157.6 L123.4,158.2 L123.8,159.6 L124.5,160.9 L125.7,161.3" fill="none" stroke="#505050" stroke-width="0.9"/><rect x="128.8" y="157.3" width="4.4" height="4.4" fill="#c2c2c2" stroke="#4a4a4a" stroke-width="0.75"/><rect x="135.8" y="157.3" width="4.4" height="4.4" fill="#c2c2c2" stroke="#4a4a4a" stroke-width="0.75"/><rect x="142.8" y="157.3" width="4.4" height="4.4" fill="#c2c2c2" stroke="#4a4a4a" stroke-width="0.75"/><rect x="149.3" y="157.3" width="4.4" height="4.4" fill="#c2c2c2" stroke="#4a4a4a" stroke-width="0.75"/><rect x="155.8" y="157.3" width="4.4" height="4.4" fill="#c2c2c2" stroke="#4a4a4a" stroke-width="0.75"/><path d="M163.3,157.6 L164.4,158.2 L164.8,159.6 L165.5,160.9 L166.7,161.3" fill="none" stroke="#505050" stroke-width="0.9"/><path d="M170.3,157.6 L171.4,158.2 L171.8,159.6 L172.5,160.9 L173.7,161.3" fill="none" stroke="#505050" stroke-width="0.9"/><path d="M179.0,161.9 L176.2,159.2 Q176.2,157.4 177.6,157.4 Q179.0,157.4 179.0,158.5 Q179.0,157.4 180.4,157.4 Q181.8,157.4 181.8,159.2 Z" fill="#000"/><path d="M186.0,161.9 L183.2,159.2 Q183.2,157.4 184.6,157.4 Q186.0,157.4 186.0,158.5 Q186.0,157.4 187.4,157.4 Q188.8,157.4 188.8,159.2 Z" fill="#000"/><rect x="192.2" y="158.7" width="1.6" height="1.6" fill="#000"/><rect x="199.2" y="158.7" width="1.6" height="1.6" fill="#000"/><rect x="205.0" y="157.5" width="4.0" height="4.0" fill="#000"/><path d="M211.8,161.0 A2.2,2.2 0 0 1 216.2,161.0" fill="none" stroke="#3a3a3a" stroke-width="0.7"/><rect x="73.0" y="164.0" width="4.0" height="4.0" fill="#000"/><rect x="80.0" y="164.0" width="4.0" height="4.0" fill="#000"/><rect x="88.2" y="165.2" width="1.6" height="1.6" fill="#000"/><rect x="95.2" y="165.2" width="1.6" height="1.6" fill="#000"/><path d="M103.0,168.4 L100.2,165.7 Q100.2,163.9 101.6,163.9 Q103.0,163.9 103.0,165.0 Q103.0,163.9 104.4,163.9 Q105.8,163.9 105.8,165.7 Z" fill="#000"/><path d="M110.0,168.4 L107.2,165.7 Q107.2,163.9 108.6,163.9 Q110.0,163.9 110.0,165.0 Q110.0,163.9 111.4,163.9 Q112.8,163.9 112.8,165.7 Z" fill="#000"/><path d="M117.0,168.4 L114.2,165.7 Q114.2,163.9 115.6,163.9 Q117.0,163.9 117.0,165.0 Q117.0,163.9 118.4,163.9 Q119.8,163.9 119.8,165.7 Z" fill="#000"/><path d="M122.3,164.1 L123.4,164.7 L123.8,166.1 L124.5,167.4 L125.7,167.8" fill="none" stroke="#505050" stroke-width="0.9"/><rect x="128.8" y="163.8" width="4.4" height="4.4" fill="#c2c2c2" stroke="#4a4a4a" stroke-width="0.75"/><path d="M136.3,164.1 L137.4,164.7 L137.8,166.1 L138.5,167.4 L139.7,167.8" fill="none" stroke="#505050" stroke-width="0.9"/><rect x="142.8" y="163.8" width="4.4" height="4.4" fill="#c2c2c2" stroke="#4a4a4a" stroke-width="0.75"/><rect x="149.3" y="163.8" width="4.4" height="4.4" fill="#c2c2c2" stroke="#4a4a4a" stroke-width="0.75"/><rect x="155.8" y="163.8" width="4.4" height="4.4" fill="#c2c2c2" stroke="#4a4a4a" stroke-width="0.75"/><path d="M163.3,164.1 L164.4,164.7 L164.8,166.1 L165.5,167.4 L166.7,167.8" fill="none" stroke="#505050" stroke-width="0.9"/><path d="M170.3,164.1 L171.4,164.7 L171.8,166.1 L172.5,167.4 L173.7,167.8" fill="none" stroke="#505050" stroke-width="0.9"/><path d="M177.3,164.1 L178.4,164.7 L178.8,166.1 L179.5,167.4 L180.7,167.8" fill="none" stroke="#505050" stroke-width="0.9"/><path d="M186.0,168.4 L183.2,165.7 Q183.2,163.9 184.6,163.9 Q186.0,163.9 186.0,165.0 Q186.0,163.9 187.4,163.9 Q188.8,163.9 188.8,165.7 Z" fill="#000"/><path d="M193.0,168.4 L190.2,165.7 Q190.2,163.9 191.6,163.9 Q193.0,163.9 193.0,165.0 Q193.0,163.9 194.4,163.9 Q195.8,163.9 195.8,165.7 Z" fill="#000"/><rect x="199.2" y="165.2" width="1.6" height="1.6" fill="#000"/><rect x="206.2" y="165.2" width="1.6" height="1.6" fill="#000"/><rect x="212.0" y="164.0" width="4.0" height="4.0" fill="#000"/><rect x="219.0" y="164.0" width="4.0" height="4.0" fill="#000"/><rect x="73.0" y="171.0" width="4.0" height="4.0" fill="#000"/><rect x="80.0" y="171.0" width="4.0" height="4.0" fill="#000"/><rect x="88.2" y="172.2" width="1.6" height="1.6" fill="#000"/><path d="M96.0,175.4 L93.2,172.7 Q93.2,170.9 94.6,170.9 Q96.0,170.9 96.0,172.0 Q96.0,170.9 97.4,170.9 Q98.8,170.9 98.8,172.7 Z" fill="#000"/><rect x="102.2" y="172.2" width="1.6" height="1.6" fill="#000"/><path d="M110.0,175.4 L107.2,172.7 Q107.2,170.9 108.6,170.9 Q110.0,170.9 110.0,172.0 Q110.0,170.9 111.4,170.9 Q112.8,170.9 112.8,172.7 Z" fill="#000"/><path d="M115.3,171.1 L116.4,171.7 L116.8,173.1 L117.5,174.4 L118.7,174.8" fill="none" stroke="#505050" stroke-width="0.9"/><rect x="121.8" y="170.8" width="4.4" height="4.4" fill="#c2c2c2" stroke="#4a4a4a" stroke-width="0.75"/><path d="M129.3,171.1 L130.4,171.7 L130.8,173.1 L131.5,174.4 L132.7,174.8" fill="none" stroke="#505050" stroke-width="0.9"/><rect x="135.8" y="170.8" width="4.4" height="4.4" fill="#c2c2c2" stroke="#4a4a4a" stroke-width="0.75"/><rect x="142.8" y="170.8" width="4.4" height="4.4" fill="#c2c2c2" stroke="#4a4a4a" stroke-width="0.75"/><rect x="149.3" y="170.8" width="4.4" height="4.4" fill="#c2c2c2" stroke="#4a4a4a" stroke-width="0.75"/><rect x="155.8" y="170.8" width="4.4" height="4.4" fill="#c2c2c2" stroke="#4a4a4a" stroke-width="0.75"/><rect x="162.8" y="170.8" width="4.4" height="4.4" fill="#c2c2c2" stroke="#4a4a4a" stroke-width="0.75"/><path d="M170.3,171.1 L171.4,171.7 L171.8,173.1 L172.5,174.4 L173.7,174.8" fill="none" stroke="#505050" stroke-width="0.9"/><path d="M177.3,171.1 L178.4,171.7 L178.8,173.1 L179.5,174.4 L180.7,174.8" fill="none" stroke="#505050" stroke-width="0.9"/><path d="M186.0,175.4 L183.2,172.7 Q183.2,170.9 184.6,170.9 Q186.0,170.9 186.0,172.0 Q186.0,170.9 187.4,170.9 Q188.8,170.9 188.8,172.7 Z" fill="#000"/><path d="M193.0,175.4 L190.2,172.7 Q190.2,170.9 191.6,170.9 Q193.0,170.9 193.0,172.0 Q193.0,170.9 194.4,170.9 Q195.8,170.9 195.8,172.7 Z" fill="#000"/><path d="M200.0,175.4 L197.2,172.7 Q197.2,170.9 198.6,170.9 Q200.0,170.9 200.0,172.0 Q200.0,170.9 201.4,170.9 Q202.8,170.9 202.8,172.7 Z" fill="#000"/><rect x="206.2" y="172.2" width="1.6" height="1.6" fill="#000"/><rect x="212.0" y="171.0" width="4.0" height="4.0" fill="#000"/><rect x="219.0" y="171.0" width="4.0" height="4.0" fill="#000"/><rect x="73.0" y="178.0" width="4.0" height="4.0" fill="#000"/><rect x="81.2" y="179.2" width="1.6" height="1.6" fill="#000"/><rect x="87.0" y="178.0" width="4.0" height="4.0" fill="#000"/><rect x="95.2" y="179.2" width="1.6" height="1.6" fill="#000"/><path d="M103.0,182.4 L100.2,179.7 Q100.2,177.9 101.6,177.9 Q103.0,177.9 103.0,179.0 Q103.0,177.9 104.4,177.9 Q105.8,177.9 105.8,179.7 Z" fill="#000"/><path d="M110.0,182.4 L107.2,179.7 Q107.2,177.9 108.6,177.9 Q110.0,177.9 110.0,179.0 Q110.0,177.9 111.4,177.9 Q112.8,177.9 112.8,179.7 Z" fill="#000"/><path d="M117.0,182.4 L114.2,179.7 Q114.2,177.9 115.6,177.9 Q117.0,177.9 117.0,179.0 Q117.0,177.9 118.4,177.9 Q119.8,177.9 119.8,179.7 Z" fill="#000"/><path d="M122.3,178.1 L123.4,178.7 L123.8,180.1 L124.5,181.4 L125.7,181.8" fill="none" stroke="#505050" stroke-width="0.9"/><rect x="128.8" y="177.8" width="4.4" height="4.4" fill="#c2c2c2" stroke="#4a4a4a" stroke-width="0.75"/><rect x="135.8" y="177.8" width="4.4" height="4.4" fill="#c2c2c2" stroke="#4a4a4a" stroke-width="0.75"/><rect x="142.8" y="177.8" width="4.4" height="4.4" fill="#c2c2c2" stroke="#4a4a4a" stroke-width="0.75"/><rect x="149.3" y="177.8" width="4.4" height="4.4" fill="#c2c2c2" stroke="#4a4a4a" stroke-width="0.75"/><rect x="155.8" y="177.8" width="4.4" height="4.4" fill="#c2c2c2" stroke="#4a4a4a" stroke-width="0.75"/><path d="M163.3,178.1 L164.4,178.7 L164.8,180.1 L165.5,181.4 L166.7,181.8" fill="none" stroke="#505050" stroke-width="0.9"/><rect x="169.8" y="177.8" width="4.4" height="4.4" fill="#c2c2c2" stroke="#4a4a4a" stroke-width="0.75"/><path d="M177.3,178.1 L178.4,178.7 L178.8,180.1 L179.5,181.4 L180.7,181.8" fill="none" stroke="#505050" stroke-width="0.9"/><path d="M186.0,182.4 L183.2,179.7 Q183.2,177.9 184.6,177.9 Q186.0,177.9 186.0,179.0 Q186.0,177.9 187.4,177.9 Q188.8,177.9 188.8,179.7 Z" fill="#000"/><rect x="192.2" y="179.2" width="1.6" height="1.6" fill="#000"/><rect x="199.2" y="179.2" width="1.6" height="1.6" fill="#000"/><rect x="206.2" y="179.2" width="1.6" height="1.6" fill="#000"/><rect x="212.0" y="178.0" width="4.0" height="4.0" fill="#000"/><rect x="219.0" y="178.0" width="4.0" height="4.0" fill="#000"/><path d="M67.7,185.3V188.7M69.3,185.3V188.7M66.8,186.2H70.2M66.8,187.8H70.2" stroke="#555" stroke-width="0.7"/><rect x="73.0" y="185.0" width="4.0" height="4.0" fill="#000"/><rect x="80.0" y="185.0" width="4.0" height="4.0" fill="#000"/><rect x="88.2" y="186.2" width="1.6" height="1.6" fill="#000"/><rect x="95.2" y="186.2" width="1.6" height="1.6" fill="#000"/><rect x="101.2" y="185.2" width="3.6" height="3.6" fill="#8e8e8e"/><path d="M103.0,185.2V188.8M101.2,187.0H104.8" stroke="#c8c8c8" stroke-width="0.35"/><rect x="108.2" y="185.2" width="3.6" height="3.6" fill="#8e8e8e"/><path d="M110.0,185.2V188.8M108.2,187.0H111.8" stroke="#c8c8c8" stroke-width="0.35"/><line x1="114.0" y1="184.0" x2="120.0" y2="190.0" stroke="#777" stroke-width="0.5"/><ellipse cx="117.0" cy="187.0" rx="2.1" ry="1.05" transform="rotate(38 117.0 187.0)" fill="#000"/><line x1="121.0" y1="184.0" x2="127.0" y2="190.0" stroke="#777" stroke-width="0.5"/><ellipse cx="124.0" cy="187.0" rx="2.1" ry="1.05" transform="rotate(38 124.0 187.0)" fill="#000"/><line x1="128.0" y1="184.0" x2="134.0" y2="190.0" stroke="#777" stroke-width="0.5"/><ellipse cx="131.0" cy="187.0" rx="2.1" ry="1.05" transform="rotate(38 131.0 187.0)" fill="#000"/><line x1="135.0" y1="184.0" x2="141.0" y2="190.0" stroke="#777" stroke-width="0.5"/><ellipse cx="138.0" cy="187.0" rx="2.1" ry="1.05" transform="rotate(38 138.0 187.0)" fill="#000"/><rect x="143.4" y="186.4" width="3.2" height="1.2" fill="#444"/><rect x="149.9" y="186.4" width="3.2" height="1.2" fill="#444"/><rect x="156.4" y="186.4" width="3.2" height="1.2" fill="#444"/><line x1="162.0" y1="184.0" x2="168.0" y2="190.0" stroke="#777" stroke-width="0.5"/><ellipse cx="165.0" cy="187.0" rx="2.1" ry="1.05" transform="rotate(38 165.0 187.0)" fill="#000"/><line x1="169.0" y1="184.0" x2="175.0" y2="190.0" stroke="#777" stroke-width="0.5"/><ellipse cx="172.0" cy="187.0" rx="2.1" ry="1.05" transform="rotate(38 172.0 187.0)" fill="#000"/><line x1="176.0" y1="184.0" x2="182.0" y2="190.0" stroke="#777" stroke-width="0.5"/><ellipse cx="179.0" cy="187.0" rx="2.1" ry="1.05" transform="rotate(38 179.0 187.0)" fill="#000"/><rect x="184.2" y="185.2" width="3.6" height="3.6" fill="#8e8e8e"/><path d="M186.0,185.2V188.8M184.2,187.0H187.8" stroke="#c8c8c8" stroke-width="0.35"/><polygon points="193.0,184.6 195.5,186.4 194.5,189.3 191.5,189.3 190.5,186.4" fill="#000"/><circle cx="193.0" cy="187.3" r="0.85" fill="#fff"/><circle cx="193.0" cy="187.3" r="0.35" fill="#555"/><rect x="199.2" y="186.2" width="1.6" height="1.6" fill="#000"/><rect x="206.2" y="186.2" width="1.6" height="1.6" fill="#000"/><rect x="212.0" y="185.0" width="4.0" height="4.0" fill="#000"/><rect x="219.0" y="185.0" width="4.0" height="4.0" fill="#000"/><path d="M227.2,185.3V188.7M228.8,185.3V188.7M226.3,186.2H229.7M226.3,187.8H229.7" stroke="#555" stroke-width="0.7"/><path d="M67.7,192.3V195.7M69.3,192.3V195.7M66.8,193.2H70.2M66.8,194.8H70.2" stroke="#555" stroke-width="0.7"/><path d="M74.2,192.3V195.7M75.8,192.3V195.7M73.3,193.2H76.7M73.3,194.8H76.7" stroke="#555" stroke-width="0.7"/><polygon points="82.0,191.6 84.5,193.4 83.5,196.3 80.5,196.3 79.5,193.4" fill="#000"/><circle cx="82.0" cy="194.3" r="0.85" fill="#fff"/><circle cx="82.0" cy="194.3" r="0.35" fill="#555"/><polygon points="89.0,191.6 91.5,193.4 90.5,196.3 87.5,196.3 86.5,193.4" fill="#000"/><circle cx="89.0" cy="194.3" r="0.85" fill="#fff"/><circle cx="89.0" cy="194.3" r="0.35" fill="#555"/><rect x="94.2" y="192.2" width="3.6" height="3.6" fill="#8e8e8e"/><path d="M96.0,192.2V195.8M94.2,194.0H97.8" stroke="#c8c8c8" stroke-width="0.35"/><rect x="101.2" y="192.2" width="3.6" height="3.6" fill="#8e8e8e"/><path d="M103.0,192.2V195.8M101.2,194.0H104.8" stroke="#c8c8c8" stroke-width="0.35"/><line x1="107.0" y1="191.0" x2="113.0" y2="197.0" stroke="#777" stroke-width="0.5"/><ellipse cx="110.0" cy="194.0" rx="2.1" ry="1.05" transform="rotate(38 110.0 194.0)" fill="#000"/><line x1="114.0" y1="191.0" x2="120.0" y2="197.0" stroke="#777" stroke-width="0.5"/><ellipse cx="117.0" cy="194.0" rx="2.1" ry="1.05" transform="rotate(38 117.0 194.0)" fill="#000"/><rect x="122.4" y="193.4" width="3.2" height="1.2" fill="#444"/><line x1="128.0" y1="191.0" x2="134.0" y2="197.0" stroke="#777" stroke-width="0.5"/><ellipse cx="131.0" cy="194.0" rx="2.1" ry="1.05" transform="rotate(38 131.0 194.0)" fill="#000"/><rect x="136.4" y="193.4" width="3.2" height="1.2" fill="#444"/><rect x="143.4" y="193.4" width="3.2" height="1.2" fill="#444"/><rect x="149.9" y="193.4" width="3.2" height="1.2" fill="#444"/><rect x="156.4" y="193.4" width="3.2" height="1.2" fill="#444"/><rect x="163.4" y="193.4" width="3.2" height="1.2" fill="#444"/><line x1="169.0" y1="191.0" x2="175.0" y2="197.0" stroke="#777" stroke-width="0.5"/><ellipse cx="172.0" cy="194.0" rx="2.1" ry="1.05" transform="rotate(38 172.0 194.0)" fill="#000"/><line x1="176.0" y1="191.0" x2="182.0" y2="197.0" stroke="#777" stroke-width="0.5"/><ellipse cx="179.0" cy="194.0" rx="2.1" ry="1.05" transform="rotate(38 179.0 194.0)" fill="#000"/><line x1="183.0" y1="191.0" x2="189.0" y2="197.0" stroke="#777" stroke-width="0.5"/><ellipse cx="186.0" cy="194.0" rx="2.1" ry="1.05" transform="rotate(38 186.0 194.0)" fill="#000"/><rect x="191.2" y="192.2" width="3.6" height="3.6" fill="#8e8e8e"/><path d="M193.0,192.2V195.8M191.2,194.0H194.8" stroke="#c8c8c8" stroke-width="0.35"/><rect x="198.2" y="192.2" width="3.6" height="3.6" fill="#8e8e8e"/><path d="M200.0,192.2V195.8M198.2,194.0H201.8" stroke="#c8c8c8" stroke-width="0.35"/><polygon points="207.0,191.6 209.5,193.4 208.5,196.3 205.5,196.3 204.5,193.4" fill="#000"/><circle cx="207.0" cy="194.3" r="0.85" fill="#fff"/><circle cx="207.0" cy="194.3" r="0.35" fill="#555"/><rect x="212.0" y="192.0" width="4.0" height="4.0" fill="#000"/><path d="M220.2,192.3V195.7M221.8,192.3V195.7M219.3,193.2H222.7M219.3,194.8H222.7" stroke="#555" stroke-width="0.7"/><path d="M227.2,192.3V195.7M228.8,192.3V195.7M226.3,193.2H229.7M226.3,194.8H229.7" stroke="#555" stroke-width="0.7"/><path d="M66.3,202.5 A2.2,2.2 0 0 1 70.7,202.5" fill="none" stroke="#3a3a3a" stroke-width="0.7"/><polygon points="75.0,198.6 77.5,200.4 76.5,203.3 73.5,203.3 72.5,200.4" fill="#000"/><circle cx="75.0" cy="201.3" r="0.85" fill="#fff"/><circle cx="75.0" cy="201.3" r="0.35" fill="#555"/><polygon points="82.0,198.6 84.5,200.4 83.5,203.3 80.5,203.3 79.5,200.4" fill="#000"/><circle cx="82.0" cy="201.3" r="0.85" fill="#fff"/><circle cx="82.0" cy="201.3" r="0.35" fill="#555"/><rect x="87.2" y="199.2" width="3.6" height="3.6" fill="#8e8e8e"/><path d="M89.0,199.2V202.8M87.2,201.0H90.8" stroke="#c8c8c8" stroke-width="0.35"/><rect x="94.2" y="199.2" width="3.6" height="3.6" fill="#8e8e8e"/><path d="M96.0,199.2V202.8M94.2,201.0H97.8" stroke="#c8c8c8" stroke-width="0.35"/><line x1="100.0" y1="198.0" x2="106.0" y2="204.0" stroke="#777" stroke-width="0.5"/><ellipse cx="103.0" cy="201.0" rx="2.1" ry="1.05" transform="rotate(38 103.0 201.0)" fill="#000"/><line x1="107.0" y1="198.0" x2="113.0" y2="204.0" stroke="#777" stroke-width="0.5"/><ellipse cx="110.0" cy="201.0" rx="2.1" ry="1.05" transform="rotate(38 110.0 201.0)" fill="#000"/><rect x="115.4" y="200.4" width="3.2" height="1.2" fill="#444"/><line x1="121.0" y1="198.0" x2="127.0" y2="204.0" stroke="#777" stroke-width="0.5"/><ellipse cx="124.0" cy="201.0" rx="2.1" ry="1.05" transform="rotate(38 124.0 201.0)" fill="#000"/><rect x="129.4" y="200.4" width="3.2" height="1.2" fill="#444"/><rect x="136.4" y="200.4" width="3.2" height="1.2" fill="#444"/><rect x="143.4" y="200.4" width="3.2" height="1.2" fill="#444"/><rect x="149.9" y="200.4" width="3.2" height="1.2" fill="#444"/><rect x="156.4" y="200.4" width="3.2" height="1.2" fill="#444"/><line x1="162.0" y1="198.0" x2="168.0" y2="204.0" stroke="#777" stroke-width="0.5"/><ellipse cx="165.0" cy="201.0" rx="2.1" ry="1.05" transform="rotate(38 165.0 201.0)" fill="#000"/><rect x="170.4" y="200.4" width="3.2" height="1.2" fill="#444"/><line x1="176.0" y1="198.0" x2="182.0" y2="204.0" stroke="#777" stroke-width="0.5"/><ellipse cx="179.0" cy="201.0" rx="2.1" ry="1.05" transform="rotate(38 179.0 201.0)" fill="#000"/><line x1="183.0" y1="198.0" x2="189.0" y2="204.0" stroke="#777" stroke-width="0.5"/><ellipse cx="186.0" cy="201.0" rx="2.1" ry="1.05" transform="rotate(38 186.0 201.0)" fill="#000"/><rect x="191.2" y="199.2" width="3.6" height="3.6" fill="#8e8e8e"/><path d="M193.0,199.2V202.8M191.2,201.0H194.8" stroke="#c8c8c8" stroke-width="0.35"/><rect x="198.2" y="199.2" width="3.6" height="3.6" fill="#8e8e8e"/><path d="M200.0,199.2V202.8M198.2,201.0H201.8" stroke="#c8c8c8" stroke-width="0.35"/><polygon points="207.0,198.6 209.5,200.4 208.5,203.3 205.5,203.3 204.5,200.4" fill="#000"/><circle cx="207.0" cy="201.3" r="0.85" fill="#fff"/><circle cx="207.0" cy="201.3" r="0.35" fill="#555"/><polygon points="214.0,198.6 216.5,200.4 215.5,203.3 212.5,203.3 211.5,200.4" fill="#000"/><circle cx="214.0" cy="201.3" r="0.85" fill="#fff"/><circle cx="214.0" cy="201.3" r="0.35" fill="#555"/><polygon points="221.0,198.6 223.5,200.4 222.5,203.3 219.5,203.3 218.5,200.4" fill="#000"/><circle cx="221.0" cy="201.3" r="0.85" fill="#fff"/><circle cx="221.0" cy="201.3" r="0.35" fill="#555"/><path d="M225.8,202.5 A2.2,2.2 0 0 1 230.2,202.5" fill="none" stroke="#3a3a3a" stroke-width="0.7"/><path d="M66.3,209.5 A2.2,2.2 0 0 1 70.7,209.5" fill="none" stroke="#3a3a3a" stroke-width="0.7"/><polygon points="75.0,205.6 77.5,207.4 76.5,210.3 73.5,210.3 72.5,207.4" fill="#000"/><circle cx="75.0" cy="208.3" r="0.85" fill="#fff"/><circle cx="75.0" cy="208.3" r="0.35" fill="#555"/><polygon points="82.0,205.6 84.5,207.4 83.5,210.3 80.5,210.3 79.5,207.4" fill="#000"/><circle cx="82.0" cy="208.3" r="0.85" fill="#fff"/><circle cx="82.0" cy="208.3" r="0.35" fill="#555"/><rect x="87.2" y="206.2" width="3.6" height="3.6" fill="#8e8e8e"/><path d="M89.0,206.2V209.8M87.2,208.0H90.8" stroke="#c8c8c8" stroke-width="0.35"/><rect x="94.2" y="206.2" width="3.6" height="3.6" fill="#8e8e8e"/><path d="M96.0,206.2V209.8M94.2,208.0H97.8" stroke="#c8c8c8" stroke-width="0.35"/><line x1="100.0" y1="205.0" x2="106.0" y2="211.0" stroke="#777" stroke-width="0.5"/><ellipse cx="103.0" cy="208.0" rx="2.1" ry="1.05" transform="rotate(38 103.0 208.0)" fill="#000"/><rect x="108.4" y="207.4" width="3.2" height="1.2" fill="#444"/><line x1="114.0" y1="205.0" x2="120.0" y2="211.0" stroke="#777" stroke-width="0.5"/><ellipse cx="117.0" cy="208.0" rx="2.1" ry="1.05" transform="rotate(38 117.0 208.0)" fill="#000"/><rect x="122.4" y="207.4" width="3.2" height="1.2" fill="#444"/><line x1="128.0" y1="205.0" x2="134.0" y2="211.0" stroke="#777" stroke-width="0.5"/><ellipse cx="131.0" cy="208.0" rx="2.1" ry="1.05" transform="rotate(38 131.0 208.0)" fill="#000"/><rect x="136.4" y="207.4" width="3.2" height="1.2" fill="#444"/><rect x="143.4" y="207.4" width="3.2" height="1.2" fill="#444"/><rect x="149.9" y="207.4" width="3.2" height="1.2" fill="#444"/><rect x="156.4" y="207.4" width="3.2" height="1.2" fill="#444"/><rect x="163.4" y="207.4" width="3.2" height="1.2" fill="#444"/><line x1="169.0" y1="205.0" x2="175.0" y2="211.0" stroke="#777" stroke-width="0.5"/><ellipse cx="172.0" cy="208.0" rx="2.1" ry="1.05" transform="rotate(38 172.0 208.0)" fill="#000"/><line x1="176.0" y1="205.0" x2="182.0" y2="211.0" stroke="#777" stroke-width="0.5"/><ellipse cx="179.0" cy="208.0" rx="2.1" ry="1.05" transform="rotate(38 179.0 208.0)" fill="#000"/><rect x="184.2" y="206.2" width="3.6" height="3.6" fill="#8e8e8e"/><path d="M186.0,206.2V209.8M184.2,208.0H187.8" stroke="#c8c8c8" stroke-width="0.35"/><line x1="190.0" y1="205.0" x2="196.0" y2="211.0" stroke="#777" stroke-width="0.5"/><ellipse cx="193.0" cy="208.0" rx="2.1" ry="1.05" transform="rotate(38 193.0 208.0)" fill="#000"/><rect x="198.2" y="206.2" width="3.6" height="3.6" fill="#8e8e8e"/><path d="M200.0,206.2V209.8M198.2,208.0H201.8" stroke="#c8c8c8" stroke-width="0.35"/><rect x="205.2" y="206.2" width="3.6" height="3.6" fill="#8e8e8e"/><path d="M207.0,206.2V209.8M205.2,208.0H208.8" stroke="#c8c8c8" stroke-width="0.35"/><polygon points="214.0,205.6 216.5,207.4 215.5,210.3 212.5,210.3 211.5,207.4" fill="#000"/><circle cx="214.0" cy="208.3" r="0.85" fill="#fff"/><circle cx="214.0" cy="208.3" r="0.35" fill="#555"/><polygon points="221.0,205.6 223.5,207.4 222.5,210.3 219.5,210.3 218.5,207.4" fill="#000"/><circle cx="221.0" cy="208.3" r="0.85" fill="#fff"/><circle cx="221.0" cy="208.3" r="0.35" fill="#555"/><path d="M225.8,209.5 A2.2,2.2 0 0 1 230.2,209.5" fill="none" stroke="#3a3a3a" stroke-width="0.7"/><path d="M59.8,216.5 A2.2,2.2 0 0 1 64.2,216.5" fill="none" stroke="#3a3a3a" stroke-width="0.7"/><path d="M66.3,216.5 A2.2,2.2 0 0 1 70.7,216.5" fill="none" stroke="#3a3a3a" stroke-width="0.7"/><polygon points="75.0,212.6 77.5,214.4 76.5,217.3 73.5,217.3 72.5,214.4" fill="#000"/><circle cx="75.0" cy="215.3" r="0.85" fill="#fff"/><circle cx="75.0" cy="215.3" r="0.35" fill="#555"/><polygon points="82.0,212.6 84.5,214.4 83.5,217.3 80.5,217.3 79.5,214.4" fill="#000"/><circle cx="82.0" cy="215.3" r="0.85" fill="#fff"/><circle cx="82.0" cy="215.3" r="0.35" fill="#555"/><polygon points="89.0,212.6 91.5,214.4 90.5,217.3 87.5,217.3 86.5,214.4" fill="#000"/><circle cx="89.0" cy="215.3" r="0.85" fill="#fff"/><circle cx="89.0" cy="215.3" r="0.35" fill="#555"/><rect x="94.2" y="213.2" width="3.6" height="3.6" fill="#8e8e8e"/><path d="M96.0,213.2V216.8M94.2,215.0H97.8" stroke="#c8c8c8" stroke-width="0.35"/><rect x="101.2" y="213.2" width="3.6" height="3.6" fill="#8e8e8e"/><path d="M103.0,213.2V216.8M101.2,215.0H104.8" stroke="#c8c8c8" stroke-width="0.35"/><line x1="107.0" y1="212.0" x2="113.0" y2="218.0" stroke="#777" stroke-width="0.5"/><ellipse cx="110.0" cy="215.0" rx="2.1" ry="1.05" transform="rotate(38 110.0 215.0)" fill="#000"/><path d="M115.3,213.1 L116.4,213.7 L116.8,215.1 L117.5,216.4 L118.7,216.8" fill="none" stroke="#505050" stroke-width="0.9"/><path d="M122.3,213.1 L123.4,213.7 L123.8,215.1 L124.5,216.4 L125.7,216.8" fill="none" stroke="#505050" stroke-width="0.9"/><rect x="128.8" y="212.8" width="4.4" height="4.4" fill="#c2c2c2" stroke="#4a4a4a" stroke-width="0.75"/><rect x="135.8" y="212.8" width="4.4" height="4.4" fill="#c2c2c2" stroke="#4a4a4a" stroke-width="0.75"/><rect x="142.8" y="212.8" width="4.4" height="4.4" fill="#c2c2c2" stroke="#4a4a4a" stroke-width="0.75"/><rect x="149.3" y="212.8" width="4.4" height="4.4" fill="#c2c2c2" stroke="#4a4a4a" stroke-width="0.75"/><rect x="155.8" y="212.8" width="4.4" height="4.4" fill="#c2c2c2" stroke="#4a4a4a" stroke-width="0.75"/><rect x="162.8" y="212.8" width="4.4" height="4.4" fill="#c2c2c2" stroke="#4a4a4a" stroke-width="0.75"/><path d="M170.3,213.1 L171.4,213.7 L171.8,215.1 L172.5,216.4 L173.7,216.8" fill="none" stroke="#505050" stroke-width="0.9"/><path d="M177.3,213.1 L178.4,213.7 L178.8,215.1 L179.5,216.4 L180.7,216.8" fill="none" stroke="#505050" stroke-width="0.9"/><path d="M184.3,213.1 L185.4,213.7 L185.8,215.1 L186.5,216.4 L187.7,216.8" fill="none" stroke="#505050" stroke-width="0.9"/><rect x="191.2" y="213.2" width="3.6" height="3.6" fill="#8e8e8e"/><path d="M193.0,213.2V216.8M191.2,215.0H194.8" stroke="#c8c8c8" stroke-width="0.35"/><polygon points="200.0,212.6 202.5,214.4 201.5,217.3 198.5,217.3 197.5,214.4" fill="#000"/><circle cx="200.0" cy="215.3" r="0.85" fill="#fff"/><circle cx="200.0" cy="215.3" r="0.35" fill="#555"/><polygon points="207.0,212.6 209.5,214.4 208.5,217.3 205.5,217.3 204.5,214.4" fill="#000"/><circle cx="207.0" cy="215.3" r="0.85" fill="#fff"/><circle cx="207.0" cy="215.3" r="0.35" fill="#555"/><polygon points="214.0,212.6 216.5,214.4 215.5,217.3 212.5,217.3 211.5,214.4" fill="#000"/><circle cx="214.0" cy="215.3" r="0.85" fill="#fff"/><circle cx="214.0" cy="215.3" r="0.35" fill="#555"/><polygon points="221.0,212.6 223.5,214.4 222.5,217.3 219.5,217.3 218.5,214.4" fill="#000"/><circle cx="221.0" cy="215.3" r="0.85" fill="#fff"/><circle cx="221.0" cy="215.3" r="0.35" fill="#555"/><path d="M225.8,216.5 A2.2,2.2 0 0 1 230.2,216.5" fill="none" stroke="#3a3a3a" stroke-width="0.7"/><path d="M232.3,216.5 A2.2,2.2 0 0 1 236.7,216.5" fill="none" stroke="#3a3a3a" stroke-width="0.7"/><path d="M59.8,223.5 A2.2,2.2 0 0 1 64.2,223.5" fill="none" stroke="#3a3a3a" stroke-width="0.7"/><path d="M66.3,223.5 A2.2,2.2 0 0 1 70.7,223.5" fill="none" stroke="#3a3a3a" stroke-width="0.7"/><path d="M72.8,223.5 A2.2,2.2 0 0 1 77.2,223.5" fill="none" stroke="#3a3a3a" stroke-width="0.7"/><polygon points="82.0,219.6 84.5,221.4 83.5,224.3 80.5,224.3 79.5,221.4" fill="#000"/><circle cx="82.0" cy="222.3" r="0.85" fill="#fff"/><circle cx="82.0" cy="222.3" r="0.35" fill="#555"/><polygon points="89.0,219.6 91.5,221.4 90.5,224.3 87.5,224.3 86.5,221.4" fill="#000"/><circle cx="89.0" cy="222.3" r="0.85" fill="#fff"/><circle cx="89.0" cy="222.3" r="0.35" fill="#555"/><path d="M96.0,224.4 L93.2,221.7 Q93.2,219.9 94.6,219.9 Q96.0,219.9 96.0,221.0 Q96.0,219.9 97.4,219.9 Q98.8,219.9 98.8,221.7 Z" fill="#000"/><path d="M101.3,220.1 L102.4,220.7 L102.8,222.1 L103.5,223.4 L104.7,223.8" fill="none" stroke="#505050" stroke-width="0.9"/><path d="M108.3,220.1 L109.4,220.7 L109.8,222.1 L110.5,223.4 L111.7,223.8" fill="none" stroke="#505050" stroke-width="0.9"/><path d="M115.3,220.1 L116.4,220.7 L116.8,222.1 L117.5,223.4 L118.7,223.8" fill="none" stroke="#505050" stroke-width="0.9"/><rect x="121.8" y="219.8" width="4.4" height="4.4" fill="#c2c2c2" stroke="#4a4a4a" stroke-width="0.75"/><rect x="128.8" y="219.8" width="4.4" height="4.4" fill="#c2c2c2" stroke="#4a4a4a" stroke-width="0.75"/><rect x="135.8" y="219.8" width="4.4" height="4.4" fill="#c2c2c2" stroke="#4a4a4a" stroke-width="0.75"/><rect x="142.8" y="219.8" width="4.4" height="4.4" fill="#c2c2c2" stroke="#4a4a4a" stroke-width="0.75"/><rect x="149.3" y="219.8" width="4.4" height="4.4" fill="#c2c2c2" stroke="#4a4a4a" stroke-width="0.75"/><rect x="155.8" y="219.8" width="4.4" height="4.4" fill="#c2c2c2" stroke="#4a4a4a" stroke-width="0.75"/><rect x="162.8" y="219.8" width="4.4" height="4.4" fill="#c2c2c2" stroke="#4a4a4a" stroke-width="0.75"/><rect x="169.8" y="219.8" width="4.4" height="4.4" fill="#c2c2c2" stroke="#4a4a4a" stroke-width="0.75"/><path d="M177.3,220.1 L178.4,220.7 L178.8,222.1 L179.5,223.4 L180.7,223.8" fill="none" stroke="#505050" stroke-width="0.9"/><path d="M184.3,220.1 L185.4,220.7 L185.8,222.1 L186.5,223.4 L187.7,223.8" fill="none" stroke="#505050" stroke-width="0.9"/><path d="M191.3,220.1 L192.4,220.7 L192.8,222.1 L193.5,223.4 L194.7,223.8" fill="none" stroke="#505050" stroke-width="0.9"/><path d="M200.0,224.4 L197.2,221.7 Q197.2,219.9 198.6,219.9 Q200.0,219.9 200.0,221.0 Q200.0,219.9 201.4,219.9 Q202.8,219.9 202.8,221.7 Z" fill="#000"/><path d="M207.0,224.4 L204.2,221.7 Q204.2,219.9 205.6,219.9 Q207.0,219.9 207.0,221.0 Q207.0,219.9 208.4,219.9 Q209.8,219.9 209.8,221.7 Z" fill="#000"/><polygon points="214.0,219.6 216.5,221.4 215.5,224.3 212.5,224.3 211.5,221.4" fill="#000"/><circle cx="214.0" cy="222.3" r="0.85" fill="#fff"/><circle cx="214.0" cy="222.3" r="0.35" fill="#555"/><path d="M218.8,223.5 A2.2,2.2 0 0 1 223.2,223.5" fill="none" stroke="#3a3a3a" stroke-width="0.7"/><path d="M225.8,223.5 A2.2,2.2 0 0 1 230.2,223.5" fill="none" stroke="#3a3a3a" stroke-width="0.7"/><path d="M232.3,223.5 A2.2,2.2 0 0 1 236.7,223.5" fill="none" stroke="#3a3a3a" stroke-width="0.7"/><path d="M59.8,230.5 A2.2,2.2 0 0 1 64.2,230.5" fill="none" stroke="#3a3a3a" stroke-width="0.7"/><path d="M66.3,230.5 A2.2,2.2 0 0 1 70.7,230.5" fill="none" stroke="#3a3a3a" stroke-width="0.7"/><path d="M72.8,230.5 A2.2,2.2 0 0 1 77.2,230.5" fill="none" stroke="#3a3a3a" stroke-width="0.7"/><rect x="81.2" y="228.2" width="1.6" height="1.6" fill="#000"/><path d="M89.0,231.4 L86.2,228.7 Q86.2,226.9 87.6,226.9 Q89.0,226.9 89.0,228.0 Q89.0,226.9 90.4,226.9 Q91.8,226.9 91.8,228.7 Z" fill="#000"/><path d="M96.0,231.4 L93.2,228.7 Q93.2,226.9 94.6,226.9 Q96.0,226.9 96.0,228.0 Q96.0,226.9 97.4,226.9 Q98.8,226.9 98.8,228.7 Z" fill="#000"/><path d="M101.3,227.1 L102.4,227.7 L102.8,229.1 L103.5,230.4 L104.7,230.8" fill="none" stroke="#505050" stroke-width="0.9"/><path d="M108.3,227.1 L109.4,227.7 L109.8,229.1 L110.5,230.4 L111.7,230.8" fill="none" stroke="#505050" stroke-width="0.9"/><rect x="114.8" y="226.8" width="4.4" height="4.4" fill="#c2c2c2" stroke="#4a4a4a" stroke-width="0.75"/><rect x="121.8" y="226.8" width="4.4" height="4.4" fill="#c2c2c2" stroke="#4a4a4a" stroke-width="0.75"/><rect x="128.8" y="226.8" width="4.4" height="4.4" fill="#c2c2c2" stroke="#4a4a4a" stroke-width="0.75"/><rect x="135.8" y="226.8" width="4.4" height="4.4" fill="#c2c2c2" stroke="#4a4a4a" stroke-width="0.75"/><rect x="142.8" y="226.8" width="4.4" height="4.4" fill="#c2c2c2" stroke="#4a4a4a" stroke-width="0.75"/><rect x="149.3" y="226.8" width="4.4" height="4.4" fill="#c2c2c2" stroke="#4a4a4a" stroke-width="0.75"/><rect x="155.8" y="226.8" width="4.4" height="4.4" fill="#c2c2c2" stroke="#4a4a4a" stroke-width="0.75"/><rect x="162.8" y="226.8" width="4.4" height="4.4" fill="#c2c2c2" stroke="#4a4a4a" stroke-width="0.75"/><rect x="169.8" y="226.8" width="4.4" height="4.4" fill="#c2c2c2" stroke="#4a4a4a" stroke-width="0.75"/><rect x="176.8" y="226.8" width="4.4" height="4.4" fill="#c2c2c2" stroke="#4a4a4a" stroke-width="0.75"/><path d="M184.3,227.1 L185.4,227.7 L185.8,229.1 L186.5,230.4 L187.7,230.8" fill="none" stroke="#505050" stroke-width="0.9"/><path d="M191.3,227.1 L192.4,227.7 L192.8,229.1 L193.5,230.4 L194.7,230.8" fill="none" stroke="#505050" stroke-width="0.9"/><path d="M200.0,231.4 L197.2,228.7 Q197.2,226.9 198.6,226.9 Q200.0,226.9 200.0,228.0 Q200.0,226.9 201.4,226.9 Q202.8,226.9 202.8,228.7 Z" fill="#000"/><path d="M207.0,231.4 L204.2,228.7 Q204.2,226.9 205.6,226.9 Q207.0,226.9 207.0,228.0 Q207.0,226.9 208.4,226.9 Q209.8,226.9 209.8,228.7 Z" fill="#000"/><path d="M214.0,231.4 L211.2,228.7 Q211.2,226.9 212.6,226.9 Q214.0,226.9 214.0,228.0 Q214.0,226.9 215.4,226.9 Q216.8,226.9 216.8,228.7 Z" fill="#000"/><rect x="220.2" y="228.2" width="1.6" height="1.6" fill="#000"/><path d="M225.8,230.5 A2.2,2.2 0 0 1 230.2,230.5" fill="none" stroke="#3a3a3a" stroke-width="0.7"/><path d="M232.3,230.5 A2.2,2.2 0 0 1 236.7,230.5" fill="none" stroke="#3a3a3a" stroke-width="0.7"/><path d="M59.8,237.0 A2.2,2.2 0 0 1 64.2,237.0" fill="none" stroke="#3a3a3a" stroke-width="0.7"/><rect x="66.5" y="233.5" width="4.0" height="4.0" fill="#000"/><rect x="74.2" y="234.7" width="1.6" height="1.6" fill="#000"/><rect x="81.2" y="234.7" width="1.6" height="1.6" fill="#000"/><path d="M89.0,237.9 L86.2,235.2 Q86.2,233.4 87.6,233.4 Q89.0,233.4 89.0,234.5 Q89.0,233.4 90.4,233.4 Q91.8,233.4 91.8,235.2 Z" fill="#000"/><path d="M96.0,237.9 L93.2,235.2 Q93.2,233.4 94.6,233.4 Q96.0,233.4 96.0,234.5 Q96.0,233.4 97.4,233.4 Q98.8,233.4 98.8,235.2 Z" fill="#000"/><path d="M103.0,237.9 L100.2,235.2 Q100.2,233.4 101.6,233.4 Q103.0,233.4 103.0,234.5 Q103.0,233.4 104.4,233.4 Q105.8,233.4 105.8,235.2 Z" fill="#000"/><path d="M108.3,233.6 L109.4,234.2 L109.8,235.6 L110.5,236.9 L111.7,237.3" fill="none" stroke="#505050" stroke-width="0.9"/><path d="M115.3,233.6 L116.4,234.2 L116.8,235.6 L117.5,236.9 L118.7,237.3" fill="none" stroke="#505050" stroke-width="0.9"/><rect x="121.8" y="233.3" width="4.4" height="4.4" fill="#c2c2c2" stroke="#4a4a4a" stroke-width="0.75"/><rect x="128.8" y="233.3" width="4.4" height="4.4" fill="#c2c2c2" stroke="#4a4a4a" stroke-width="0.75"/><rect x="135.8" y="233.3" width="4.4" height="4.4" fill="#c2c2c2" stroke="#4a4a4a" stroke-width="0.75"/><rect x="142.8" y="233.3" width="4.4" height="4.4" fill="#c2c2c2" stroke="#4a4a4a" stroke-width="0.75"/><rect x="149.3" y="233.3" width="4.4" height="4.4" fill="#c2c2c2" stroke="#4a4a4a" stroke-width="0.75"/><rect x="155.8" y="233.3" width="4.4" height="4.4" fill="#c2c2c2" stroke="#4a4a4a" stroke-width="0.75"/><rect x="162.8" y="233.3" width="4.4" height="4.4" fill="#c2c2c2" stroke="#4a4a4a" stroke-width="0.75"/><rect x="169.8" y="233.3" width="4.4" height="4.4" fill="#c2c2c2" stroke="#4a4a4a" stroke-width="0.75"/><path d="M177.3,233.6 L178.4,234.2 L178.8,235.6 L179.5,236.9 L180.7,237.3" fill="none" stroke="#505050" stroke-width="0.9"/><rect x="183.8" y="233.3" width="4.4" height="4.4" fill="#c2c2c2" stroke="#4a4a4a" stroke-width="0.75"/><path d="M191.3,233.6 L192.4,234.2 L192.8,235.6 L193.5,236.9 L194.7,237.3" fill="none" stroke="#505050" stroke-width="0.9"/><path d="M200.0,237.9 L197.2,235.2 Q197.2,233.4 198.6,233.4 Q200.0,233.4 200.0,234.5 Q200.0,233.4 201.4,233.4 Q202.8,233.4 202.8,235.2 Z" fill="#000"/><path d="M207.0,237.9 L204.2,235.2 Q204.2,233.4 205.6,233.4 Q207.0,233.4 207.0,234.5 Q207.0,233.4 208.4,233.4 Q209.8,233.4 209.8,235.2 Z" fill="#000"/><path d="M214.0,237.9 L211.2,235.2 Q211.2,233.4 212.6,233.4 Q214.0,233.4 214.0,234.5 Q214.0,233.4 215.4,233.4 Q216.8,233.4 216.8,235.2 Z" fill="#000"/><rect x="220.2" y="234.7" width="1.6" height="1.6" fill="#000"/><rect x="226.0" y="233.5" width="4.0" height="4.0" fill="#000"/><rect x="232.5" y="233.5" width="4.0" height="4.0" fill="#000"/><polyline points="65.5,38.5 71.5,24.5 71.5,17.5 78.5,10.5 92.5,4.5 120.5,4.5 134.5,10.5 141.5,17.5 148.5,17.5 161.5,31.5 168.5,45.5" fill="none" stroke="#ff1010" stroke-width="1.8" stroke-linejoin="round"/><polyline points="141.5,17.5 134.5,24.5 120.5,31.5 127.5,45.5" fill="none" stroke="#ff1010" stroke-width="1.8" stroke-linejoin="round"/><polyline points="92.5,4.5 99.5,17.5 99.5,24.5" fill="none" stroke="#ff1010" stroke-width="1.8" stroke-linejoin="round"/><polyline points="92.5,24.5 106.5,24.5" fill="none" stroke="#ff1010" stroke-width="1.8" stroke-linejoin="round"/><polyline points="71.5,24.5 78.5,31.5" fill="none" stroke="#ff1010" stroke-width="1.8" stroke-linejoin="round"/><polyline points="127.5,52.5 148.5,52.5" fill="none" stroke="#ff1010" stroke-width="1.8" stroke-linejoin="round"/><polyline points="154.5,52.5 161.5,52.5" fill="none" stroke="#ff1010" stroke-width="1.8" stroke-linejoin="round"/><polyline points="120.5,80.5 127.5,80.5" fill="none" stroke="#ff1010" stroke-width="1.8" stroke-linejoin="round"/><polyline points="141.5,80.5 161.5,80.5" fill="none" stroke="#ff1010" stroke-width="1.8" stroke-linejoin="round"/><polyline points="182.5,66.5 189.5,80.5 189.5,93.5" fill="none" stroke="#ff1010" stroke-width="1.8" stroke-linejoin="round"/><polyline points="85.5,121.5 85.5,128.5" fill="none" stroke="#ff1010" stroke-width="1.8" stroke-linejoin="round"/><polyline points="99.5,121.5 120.5,114.5 154.5,114.5" fill="none" stroke="#ff1010" stroke-width="1.8" stroke-linejoin="round"/><polyline points="161.5,114.5 175.5,114.5" fill="none" stroke="#ff1010" stroke-width="1.8" stroke-linejoin="round"/><polyline points="203.5,121.5 210.5,128.5 210.5,135.5 217.5,149.5 217.5,156.5" fill="none" stroke="#ff1010" stroke-width="1.8" stroke-linejoin="round"/><polyline points="71.5,176.5 71.5,169.5 78.5,162.5 92.5,156.5" fill="none" stroke="#ff1010" stroke-width="1.8" stroke-linejoin="round"/><polyline points="113.5,149.5 148.5,149.5" fill="none" stroke="#ff1010" stroke-width="1.8" stroke-linejoin="round"/><polyline points="154.5,149.5 168.5,149.5" fill="none" stroke="#ff1010" stroke-width="1.8" stroke-linejoin="round"/><polyline points="224.5,169.5 224.5,176.5" fill="none" stroke="#ff1010" stroke-width="1.8" stroke-linejoin="round"/><polyline points="65.5,190.5 65.5,204.5 58.5,218.5 58.5,225.5" fill="none" stroke="#ff1010" stroke-width="1.8" stroke-linejoin="round"/><polyline points="65.5,204.5 71.5,197.5" fill="none" stroke="#ff1010" stroke-width="1.8" stroke-linejoin="round"/><polyline points="85.5,190.5 106.5,183.5 113.5,183.5" fill="none" stroke="#ff1010" stroke-width="1.8" stroke-linejoin="round"/><polyline points="127.5,183.5 141.5,183.5" fill="none" stroke="#ff1010" stroke-width="1.8" stroke-linejoin="round"/><polyline points="148.5,183.5 182.5,183.5 203.5,190.5" fill="none" stroke="#ff1010" stroke-width="1.8" stroke-linejoin="round"/><polyline points="85.5,225.5 99.5,218.5" fill="none" stroke="#ff1010" stroke-width="1.8" stroke-linejoin="round"/><polyline points="141.5,211.5 148.5,211.5" fill="none" stroke="#ff1010" stroke-width="1.8" stroke-linejoin="round"/><polyline points="154.5,211.5 161.5,211.5" fill="none" stroke="#ff1010" stroke-width="1.8" stroke-linejoin="round"/><polyline points="168.5,211.5 182.5,211.5 203.5,218.5" fill="none" stroke="#ff1010" stroke-width="1.8" stroke-linejoin="round"/><polyline points="78.5,31.5 92.5,24.5" fill="none" stroke="#1a22ff" stroke-width="1.8" stroke-linejoin="round"/><polyline points="106.5,24.5 120.5,31.5" fill="none" stroke="#1a22ff" stroke-width="1.8" stroke-linejoin="round"/><polyline points="127.5,45.5 127.5,52.5 120.5,59.5 113.5,73.5 106.5,80.5 106.5,86.5 99.5,100.5 92.5,107.5 85.5,121.5" fill="none" stroke="#1a22ff" stroke-width="1.8" stroke-linejoin="round"/><polyline points="106.5,86.5 120.5,80.5" fill="none" stroke="#1a22ff" stroke-width="1.8" stroke-linejoin="round"/><polyline points="85.5,128.5 99.5,121.5" fill="none" stroke="#1a22ff" stroke-width="1.8" stroke-linejoin="round"/><polyline points="85.5,128.5 85.5,135.5 78.5,149.5 78.5,162.5" fill="none" stroke="#1a22ff" stroke-width="1.8" stroke-linejoin="round"/><polyline points="92.5,156.5 113.5,149.5" fill="none" stroke="#1a22ff" stroke-width="1.8" stroke-linejoin="round"/><polyline points="71.5,176.5 65.5,190.5" fill="none" stroke="#1a22ff" stroke-width="1.8" stroke-linejoin="round"/><polyline points="58.5,225.5 58.5,238.5 85.5,225.5" fill="none" stroke="#1a22ff" stroke-width="1.8" stroke-linejoin="round"/><polyline points="99.5,218.5 120.5,211.5 134.5,211.5" fill="none" stroke="#1a22ff" stroke-width="1.8" stroke-linejoin="round"/><polyline points="71.5,197.5 85.5,190.5" fill="none" stroke="#1a22ff" stroke-width="1.8" stroke-linejoin="round"/><polyline points="78.5,31.5 71.5,45.5 71.5,59.5 65.5,73.5 65.5,93.5" fill="none" stroke="#1a22ff" stroke-width="1.8" stroke-linejoin="round"/><polyline points="65.5,38.5 65.5,93.5" fill="none" stroke="#1a22ff" stroke-width="1.8" stroke-linejoin="round"/><polyline points="58.5,93.5 71.5,93.5 71.5,107.5 58.5,107.5 58.5,93.5" fill="none" stroke="#1a22ff" stroke-width="1.8" stroke-linejoin="round"/><polyline points="58.5,93.5 51.5,86.5 51.5,80.5" fill="none" stroke="#1a22ff" stroke-width="1.8" stroke-linejoin="round"/><polyline points="71.5,93.5 78.5,86.5 78.5,80.5" fill="none" stroke="#1a22ff" stroke-width="1.8" stroke-linejoin="round"/><polyline points="58.5,100.5 51.5,100.5 44.5,93.5" fill="none" stroke="#1a22ff" stroke-width="1.8" stroke-linejoin="round"/><polyline points="71.5,100.5 78.5,100.5 85.5,93.5" fill="none" stroke="#1a22ff" stroke-width="1.8" stroke-linejoin="round"/><polyline points="58.5,107.5 51.5,114.5 44.5,107.5" fill="none" stroke="#1a22ff" stroke-width="1.8" stroke-linejoin="round"/><polyline points="71.5,107.5 78.5,114.5 85.5,107.5" fill="none" stroke="#1a22ff" stroke-width="1.8" stroke-linejoin="round"/><polyline points="161.5,52.5 168.5,52.5 182.5,66.5" fill="none" stroke="#1a22ff" stroke-width="1.8" stroke-linejoin="round"/><polyline points="168.5,45.5 168.5,52.5" fill="none" stroke="#1a22ff" stroke-width="1.8" stroke-linejoin="round"/><polyline points="175.5,80.5 189.5,86.5" fill="none" stroke="#1a22ff" stroke-width="1.8" stroke-linejoin="round"/><polyline points="189.5,93.5 196.5,100.5 203.5,114.5 203.5,121.5" fill="none" stroke="#1a22ff" stroke-width="1.8" stroke-linejoin="round"/><polyline points="175.5,114.5 196.5,121.5 203.5,121.5" fill="none" stroke="#1a22ff" stroke-width="1.8" stroke-linejoin="round"/><polyline points="217.5,156.5 217.5,162.5" fill="none" stroke="#1a22ff" stroke-width="1.8" stroke-linejoin="round"/><polyline points="182.5,149.5 217.5,162.5" fill="none" stroke="#1a22ff" stroke-width="1.8" stroke-linejoin="round"/><polyline points="217.5,162.5 224.5,169.5" fill="none" stroke="#1a22ff" stroke-width="1.8" stroke-linejoin="round"/><polyline points="224.5,176.5 231.5,190.5 231.5,204.5 237.5,218.5 237.5,238.5" fill="none" stroke="#1a22ff" stroke-width="1.8" stroke-linejoin="round"/><polyline points="203.5,190.5 224.5,197.5 231.5,204.5" fill="none" stroke="#1a22ff" stroke-width="1.8" stroke-linejoin="round"/><polyline points="203.5,218.5 224.5,232.5 237.5,238.5" fill="none" stroke="#1a22ff" stroke-width="1.8" stroke-linejoin="round"/><line x1="125.0" y1="238.5" x2="128.0" y2="238.5" stroke="#ff1010" stroke-width="1.8"/><line x1="134.0" y1="238.5" x2="141.5" y2="238.5" stroke="#ff1010" stroke-width="1.8"/><line x1="147.5" y1="238.5" x2="155.0" y2="238.5" stroke="#1a22ff" stroke-width="1.8"/><line x1="155.0" y1="238.5" x2="161.0" y2="238.5" stroke="#ff1010" stroke-width="1.8"/><line x1="161.0" y1="238.5" x2="165.0" y2="238.5" stroke="#1a22ff" stroke-width="1.8"/><text x="60.6" y="2.4" font-family="Liberation Sans" font-size="4.3" fill="#111" stroke="#111" stroke-width="0.12">20</text><text x="129.6" y="2.4" font-family="Liberation Sans" font-size="4.3" fill="#111" stroke="#111" stroke-width="0.12">10</text><text x="267.6" y="2.4" font-family="Liberation Sans" font-size="4.3" fill="#111" stroke="#111" stroke-width="0.12">10</text><text x="336.6" y="2.4" font-family="Liberation Sans" font-size="4.3" fill="#111" stroke="#111" stroke-width="0.12">20</text><path d="M196.7,-2.4H203.1L199.9,4.5Z" fill="#000"/><text x="8.2" y="37.8" font-family="Liberation Sans" font-size="4.3" fill="#111" stroke="#111" stroke-width="0.12" text-anchor="end">30</text><text x="8.2" y="106.8" font-family="Liberation Sans" font-size="4.3" fill="#111" stroke="#111" stroke-width="0.12" text-anchor="end">20</text><text x="8.2" y="175.8" font-family="Liberation Sans" font-size="4.3" fill="#111" stroke="#111" stroke-width="0.12" text-anchor="end">10</text><rect x="485.5" y="4.5" width="7" height="6" fill="#f0882c"/><rect x="492.5" y="4.5" width="7" height="6" fill="#3c414a"/><rect x="499.5" y="4.5" width="7" height="6" fill="#3c414a"/><rect x="506.5" y="4.5" width="7" height="6" fill="#3c414a"/><rect x="513.5" y="4.5" width="7" height="6" fill="#3c414a"/><rect x="520.5" y="4.5" width="7" height="6" fill="#3c414a"/><rect x="471.5" y="10.5" width="7" height="7" fill="#f0882c"/><rect x="478.5" y="10.5" width="7" height="7" fill="#f0882c"/><rect x="485.5" y="10.5" width="7" height="7" fill="#f0882c"/><rect x="492.5" y="10.5" width="7" height="7" fill="#f0882c"/><rect x="499.5" y="10.5" width="7" height="7" fill="#2c2f37"/><rect x="506.5" y="10.5" width="7" height="7" fill="#2c2f37"/><rect x="513.5" y="10.5" width="7" height="7" fill="#2c2f37"/><rect x="520.5" y="10.5" width="7" height="7" fill="#2c2f37"/><rect x="527.5" y="10.5" width="7" height="7" fill="#3c414a"/><rect x="534.5" y="10.5" width="7" height="7" fill="#3c414a"/><rect x="471.5" y="17.5" width="7" height="7" fill="#f0882c"/><rect x="478.5" y="17.5" width="7" height="7" fill="#ea7b2c"/><rect x="485.5" y="17.5" width="7" height="7" fill="#ea7b2c"/><rect x="492.5" y="17.5" width="7" height="7" fill="#ea7b2c"/><rect x="499.5" y="17.5" width="7" height="7" fill="#24272e"/><rect x="506.5" y="17.5" width="7" height="7" fill="#24272e"/><rect x="513.5" y="17.5" width="7" height="7" fill="#24272e"/><rect x="520.5" y="17.5" width="7" height="7" fill="#2c2f37"/><rect x="527.5" y="17.5" width="7" height="7" fill="#2c2f37"/><rect x="534.5" y="17.5" width="7" height="7" fill="#2c2f37"/><rect x="541.5" y="17.5" width="7" height="7" fill="#f0882c"/><rect x="548.5" y="17.5" width="6" height="7" fill="#f0882c"/><rect x="465.5" y="24.5" width="6" height="7" fill="#24272e"/><rect x="471.5" y="24.5" width="7" height="7" fill="#24272e"/><rect x="478.5" y="24.5" width="7" height="7" fill="#ea7b2c"/><rect x="513.5" y="24.5" width="7" height="7" fill="#24272e"/><rect x="520.5" y="24.5" width="7" height="7" fill="#24272e"/><rect x="527.5" y="24.5" width="7" height="7" fill="#f4ae5e"/><rect x="534.5" y="24.5" width="7" height="7" fill="#d8a458"/><rect x="541.5" y="24.5" width="7" height="7" fill="#f4ae5e"/><rect x="548.5" y="24.5" width="6" height="7" fill="#f0882c"/><rect x="554.5" y="24.5" width="7" height="7" fill="#f0882c"/><rect x="465.5" y="31.5" width="6" height="7" fill="#24272e"/><rect x="471.5" y="31.5" width="7" height="7" fill="#24272e"/><rect x="520.5" y="31.5" width="7" height="7" fill="#f0882c"/><rect x="527.5" y="31.5" width="7" height="7" fill="#f4ae5e"/><rect x="534.5" y="31.5" width="7" height="7" fill="#f4ae5e"/><rect x="541.5" y="31.5" width="7" height="7" fill="#d8a458"/><rect x="548.5" y="31.5" width="6" height="7" fill="#f4ae5e"/><rect x="554.5" y="31.5" width="7" height="7" fill="#f0882c"/><rect x="465.5" y="38.5" width="6" height="7" fill="#24272e"/><rect x="527.5" y="38.5" width="7" height="7" fill="#f0882c"/><rect x="534.5" y="38.5" width="7" height="7" fill="#d8a458"/><rect x="541.5" y="38.5" width="7" height="7" fill="#d8a458"/><rect x="548.5" y="38.5" width="6" height="7" fill="#d8a458"/><rect x="554.5" y="38.5" width="7" height="7" fill="#f4ae5e"/><rect x="561.5" y="38.5" width="7" height="7" fill="#f0882c"/><rect x="465.5" y="45.5" width="6" height="7" fill="#24272e"/><rect x="527.5" y="45.5" width="7" height="7" fill="#f0882c"/><rect x="534.5" y="45.5" width="7" height="7" fill="#f4ae5e"/><rect x="541.5" y="45.5" width="7" height="7" fill="#d8a458"/><rect x="548.5" y="45.5" width="6" height="7" fill="#d8a458"/><rect x="554.5" y="45.5" width="7" height="7" fill="#f4ae5e"/><rect x="561.5" y="45.5" width="7" height="7" fill="#f0882c"/><rect x="465.5" y="52.5" width="6" height="7" fill="#24272e"/><rect x="520.5" y="52.5" width="7" height="7" fill="#24272e"/><rect x="527.5" y="52.5" width="7" height="7" fill="#24272e"/><rect x="534.5" y="52.5" width="7" height="7" fill="#2c2f37"/><rect x="541.5" y="52.5" width="7" height="7" fill="#2c2f37"/><rect x="548.5" y="52.5" width="6" height="7" fill="#3c414a"/><rect x="554.5" y="52.5" width="7" height="7" fill="#2c2f37"/><rect x="561.5" y="52.5" width="7" height="7" fill="#24272e"/><rect x="568.5" y="52.5" width="7" height="7" fill="#24272e"/><rect x="465.5" y="59.5" width="6" height="7" fill="#24272e"/><rect x="520.5" y="59.5" width="7" height="7" fill="#24272e"/><rect x="527.5" y="59.5" width="7" height="7" fill="#24272e"/><rect x="534.5" y="59.5" width="7" height="7" fill="#2c2f37"/><rect x="541.5" y="59.5" width="7" height="7" fill="#3c414a"/><rect x="548.5" y="59.5" width="6" height="7" fill="#3c414a"/><rect x="554.5" y="59.5" width="7" height="7" fill="#2c2f37"/><rect x="561.5" y="59.5" width="7" height="7" fill="#2c2f37"/><rect x="568.5" y="59.5" width="7" height="7" fill="#24272e"/><rect x="575.5" y="59.5" width="7" height="7" fill="#24272e"/><rect x="513.5" y="66.5" width="7" height="7" fill="#24272e"/><rect x="520.5" y="66.5" width="7" height="7" fill="#24272e"/><rect x="527.5" y="66.5" width="7" height="7" fill="#2c2f37"/><rect x="534.5" y="66.5" width="7" height="7" fill="#2c2f37"/><rect x="541.5" y="66.5" width="7" height="7" fill="#3c414a"/><rect x="548.5" y="66.5" width="6" height="7" fill="#4a5060"/><rect x="554.5" y="66.5" width="7" height="7" fill="#3c414a"/><rect x="561.5" y="66.5" width="7" height="7" fill="#2c2f37"/><rect x="568.5" y="66.5" width="7" height="7" fill="#2c2f37"/><rect x="575.5" y="66.5" width="7" height="7" fill="#24272e"/><rect x="506.5" y="73.5" width="7" height="7" fill="#24272e"/><rect x="513.5" y="73.5" width="7" height="7" fill="#24272e"/><rect x="520.5" y="73.5" width="7" height="7" fill="#24272e"/><rect x="527.5" y="73.5" width="7" height="7" fill="#2c2f37"/><rect x="534.5" y="73.5" width="7" height="7" fill="#3c414a"/><rect x="541.5" y="73.5" width="7" height="7" fill="#4a5060"/><rect x="548.5" y="73.5" width="6" height="7" fill="#4a5060"/><rect x="554.5" y="73.5" width="7" height="7" fill="#4a5060"/><rect x="561.5" y="73.5" width="7" height="7" fill="#3c414a"/><rect x="568.5" y="73.5" width="7" height="7" fill="#2c2f37"/><rect x="575.5" y="73.5" width="7" height="7" fill="#24272e"/><rect x="582.5" y="73.5" width="7" height="7" fill="#24272e"/><rect x="506.5" y="80.5" width="7" height="6" fill="#24272e"/><rect x="513.5" y="80.5" width="7" height="6" fill="#ea7b2c"/><rect x="520.5" y="80.5" width="7" height="6" fill="#f0882c"/><rect x="527.5" y="80.5" width="7" height="6" fill="#f0882c"/><rect x="534.5" y="80.5" width="7" height="6" fill="#f4ae5e"/><rect x="541.5" y="80.5" width="7" height="6" fill="#f4ae5e"/><rect x="548.5" y="80.5" width="6" height="6" fill="#d8a458"/><rect x="554.5" y="80.5" width="7" height="6" fill="#f4ae5e"/><rect x="561.5" y="80.5" width="7" height="6" fill="#f4ae5e"/><rect x="568.5" y="80.5" width="7" height="6" fill="#f0882c"/><rect x="575.5" y="80.5" width="7" height="6" fill="#ea7b2c"/><rect x="582.5" y="80.5" width="7" height="6" fill="#24272e"/><rect x="506.5" y="86.5" width="7" height="7" fill="#ea7b2c"/><rect x="513.5" y="86.5" width="7" height="7" fill="#ea7b2c"/><rect x="520.5" y="86.5" width="7" height="7" fill="#f0882c"/><rect x="527.5" y="86.5" width="7" height="7" fill="#f4ae5e"/><rect x="534.5" y="86.5" width="7" height="7" fill="#f4ae5e"/><rect x="541.5" y="86.5" width="7" height="7" fill="#d8a458"/><rect x="548.5" y="86.5" width="6" height="7" fill="#d8a458"/><rect x="554.5" y="86.5" width="7" height="7" fill="#d8a458"/><rect x="561.5" y="86.5" width="7" height="7" fill="#f4ae5e"/><rect x="568.5" y="86.5" width="7" height="7" fill="#f0882c"/><rect x="575.5" y="86.5" width="7" height="7" fill="#f0882c"/><rect x="582.5" y="86.5" width="7" height="7" fill="#ea7b2c"/><rect x="458.5" y="93.5" width="7" height="7" fill="#111111"/><rect x="465.5" y="93.5" width="6" height="7" fill="#111111"/><rect x="499.5" y="93.5" width="7" height="7" fill="#d0581e"/><rect x="506.5" y="93.5" width="7" height="7" fill="#ea7b2c"/><rect x="513.5" y="93.5" width="7" height="7" fill="#f0882c"/><rect x="520.5" y="93.5" width="7" height="7" fill="#f0882c"/><rect x="527.5" y="93.5" width="7" height="7" fill="#f4ae5e"/><rect x="534.5" y="93.5" width="7" height="7" fill="#d8a458"/><rect x="541.5" y="93.5" width="7" height="7" fill="#f4ae5e"/><rect x="548.5" y="93.5" width="6" height="7" fill="#d8a458"/><rect x="554.5" y="93.5" width="7" height="7" fill="#d8a458"/><rect x="561.5" y="93.5" width="7" height="7" fill="#f4ae5e"/><rect x="568.5" y="93.5" width="7" height="7" fill="#f4ae5e"/><rect x="575.5" y="93.5" width="7" height="7" fill="#f0882c"/><rect x="582.5" y="93.5" width="7" height="7" fill="#ea7b2c"/><rect x="589.5" y="93.5" width="7" height="7" fill="#ea7b2c"/><rect x="458.5" y="100.5" width="7" height="7" fill="#111111"/><rect x="465.5" y="100.5" width="6" height="7" fill="#111111"/><rect x="492.5" y="100.5" width="7" height="7" fill="#d0581e"/><rect x="499.5" y="100.5" width="7" height="7" fill="#ea7b2c"/><rect x="506.5" y="100.5" width="7" height="7" fill="#ea7b2c"/><rect x="513.5" y="100.5" width="7" height="7" fill="#f0882c"/><rect x="520.5" y="100.5" width="7" height="7" fill="#f4ae5e"/><rect x="527.5" y="100.5" width="7" height="7" fill="#f4ae5e"/><rect x="534.5" y="100.5" width="7" height="7" fill="#d8a458"/><rect x="541.5" y="100.5" width="7" height="7" fill="#d8a458"/><rect x="548.5" y="100.5" width="6" height="7" fill="#d8a458"/><rect x="554.5" y="100.5" width="7" height="7" fill="#d8a458"/><rect x="561.5" y="100.5" width="7" height="7" fill="#d8a458"/><rect x="568.5" y="100.5" width="7" height="7" fill="#f4ae5e"/><rect x="575.5" y="100.5" width="7" height="7" fill="#f0882c"/><rect x="582.5" y="100.5" width="7" height="7" fill="#f0882c"/><rect x="589.5" y="100.5" width="7" height="7" fill="#ea7b2c"/><rect x="492.5" y="107.5" width="7" height="7" fill="#d0581e"/><rect x="499.5" y="107.5" width="7" height="7" fill="#ea7b2c"/><rect x="506.5" y="107.5" width="7" height="7" fill="#f0882c"/><rect x="513.5" y="107.5" width="7" height="7" fill="#f0882c"/><rect x="520.5" y="107.5" width="7" height="7" fill="#f4ae5e"/><rect x="527.5" y="107.5" width="7" height="7" fill="#d8a458"/><rect x="534.5" y="107.5" width="7" height="7" fill="#f4ae5e"/><rect x="541.5" y="107.5" width="7" height="7" fill="#d8a458"/><rect x="548.5" y="107.5" width="6" height="7" fill="#d8a458"/><rect x="554.5" y="107.5" width="7" height="7" fill="#f4ae5e"/><rect x="561.5" y="107.5" width="7" height="7" fill="#d8a458"/><rect x="568.5" y="107.5" width="7" height="7" fill="#f4ae5e"/><rect x="575.5" y="107.5" width="7" height="7" fill="#f0882c"/><rect x="582.5" y="107.5" width="7" height="7" fill="#f0882c"/><rect x="589.5" y="107.5" width="7" height="7" fill="#ea7b2c"/><rect x="596.5" y="107.5" width="7" height="7" fill="#ea7b2c"/><rect x="485.5" y="114.5" width="7" height="7" fill="#d0581e"/><rect x="492.5" y="114.5" width="7" height="7" fill="#d0581e"/><rect x="499.5" y="114.5" width="7" height="7" fill="#ea7b2c"/><rect x="506.5" y="114.5" width="7" height="7" fill="#f0882c"/><rect x="513.5" y="114.5" width="7" height="7" fill="#2c2f37"/><rect x="520.5" y="114.5" width="7" height="7" fill="#2c2f37"/><rect x="527.5" y="114.5" width="7" height="7" fill="#3c414a"/><rect x="534.5" y="114.5" width="7" height="7" fill="#3c414a"/><rect x="541.5" y="114.5" width="7" height="7" fill="#4a5060"/><rect x="548.5" y="114.5" width="6" height="7" fill="#4a5060"/><rect x="554.5" y="114.5" width="7" height="7" fill="#4a5060"/><rect x="561.5" y="114.5" width="7" height="7" fill="#3c414a"/><rect x="568.5" y="114.5" width="7" height="7" fill="#3c414a"/><rect x="575.5" y="114.5" width="7" height="7" fill="#2c2f37"/><rect x="582.5" y="114.5" width="7" height="7" fill="#f0882c"/><rect x="589.5" y="114.5" width="7" height="7" fill="#ea7b2c"/><rect x="596.5" y="114.5" width="7" height="7" fill="#ea7b2c"/><rect x="485.5" y="121.5" width="7" height="7" fill="#d0581e"/><rect x="492.5" y="121.5" width="7" height="7" fill="#24272e"/><rect x="499.5" y="121.5" width="7" height="7" fill="#24272e"/><rect x="506.5" y="121.5" width="7" height="7" fill="#2c2f37"/><rect x="513.5" y="121.5" width="7" height="7" fill="#2c2f37"/><rect x="520.5" y="121.5" width="7" height="7" fill="#3c414a"/><rect x="527.5" y="121.5" width="7" height="7" fill="#3c414a"/><rect x="534.5" y="121.5" width="7" height="7" fill="#4a5060"/><rect x="541.5" y="121.5" width="7" height="7" fill="#4a5060"/><rect x="548.5" y="121.5" width="6" height="7" fill="#4a5060"/><rect x="554.5" y="121.5" width="7" height="7" fill="#3c414a"/><rect x="561.5" y="121.5" width="7" height="7" fill="#4a5060"/><rect x="568.5" y="121.5" width="7" height="7" fill="#3c414a"/><rect x="575.5" y="121.5" width="7" height="7" fill="#2c2f37"/><rect x="582.5" y="121.5" width="7" height="7" fill="#2c2f37"/><rect x="589.5" y="121.5" width="7" height="7" fill="#24272e"/><rect x="596.5" y="121.5" width="7" height="7" fill="#24272e"/><rect x="603.5" y="121.5" width="7" height="7" fill="#24272e"/><rect x="485.5" y="128.5" width="7" height="7" fill="#24272e"/><rect x="492.5" y="128.5" width="7" height="7" fill="#24272e"/><rect x="499.5" y="128.5" width="7" height="7" fill="#2c2f37"/><rect x="506.5" y="128.5" width="7" height="7" fill="#2c2f37"/><rect x="513.5" y="128.5" width="7" height="7" fill="#2c2f37"/><rect x="520.5" y="128.5" width="7" height="7" fill="#3c414a"/><rect x="527.5" y="128.5" width="7" height="7" fill="#3c414a"/><rect x="534.5" y="128.5" width="7" height="7" fill="#4a5060"/><rect x="541.5" y="128.5" width="7" height="7" fill="#4a5060"/><rect x="548.5" y="128.5" width="6" height="7" fill="#5a6172"/><rect x="554.5" y="128.5" width="7" height="7" fill="#4a5060"/><rect x="561.5" y="128.5" width="7" height="7" fill="#3c414a"/><rect x="568.5" y="128.5" width="7" height="7" fill="#3c414a"/><rect x="575.5" y="128.5" width="7" height="7" fill="#3c414a"/><rect x="582.5" y="128.5" width="7" height="7" fill="#2c2f37"/><rect x="589.5" y="128.5" width="7" height="7" fill="#2c2f37"/><rect x="596.5" y="128.5" width="7" height="7" fill="#24272e"/><rect x="603.5" y="128.5" width="7" height="7" fill="#24272e"/><rect x="485.5" y="135.5" width="7" height="7" fill="#24272e"/><rect x="492.5" y="135.5" width="7" height="7" fill="#2c2f37"/><rect x="499.5" y="135.5" width="7" height="7" fill="#2c2f37"/><rect x="506.5" y="135.5" width="7" height="7" fill="#2c2f37"/><rect x="513.5" y="135.5" width="7" height="7" fill="#3c414a"/><rect x="520.5" y="135.5" width="7" height="7" fill="#2c2f37"/><rect x="527.5" y="135.5" width="7" height="7" fill="#3c414a"/><rect x="534.5" y="135.5" width="7" height="7" fill="#4a5060"/><rect x="541.5" y="135.5" width="7" height="7" fill="#5a6172"/><rect x="548.5" y="135.5" width="6" height="7" fill="#5a6172"/><rect x="554.5" y="135.5" width="7" height="7" fill="#5a6172"/><rect x="561.5" y="135.5" width="7" height="7" fill="#4a5060"/><rect x="568.5" y="135.5" width="7" height="7" fill="#3c414a"/><rect x="575.5" y="135.5" width="7" height="7" fill="#2c2f37"/><rect x="582.5" y="135.5" width="7" height="7" fill="#3c414a"/><rect x="589.5" y="135.5" width="7" height="7" fill="#2c2f37"/><rect x="596.5" y="135.5" width="7" height="7" fill="#2c2f37"/><rect x="603.5" y="135.5" width="7" height="7" fill="#24272e"/><rect x="478.5" y="142.5" width="7" height="7" fill="#24272e"/><rect x="485.5" y="142.5" width="7" height="7" fill="#24272e"/><rect x="492.5" y="142.5" width="7" height="7" fill="#24272e"/><rect x="499.5" y="142.5" width="7" height="7" fill="#2c2f37"/><rect x="506.5" y="142.5" width="7" height="7" fill="#2c2f37"/><rect x="513.5" y="142.5" width="7" height="7" fill="#2c2f37"/><rect x="520.5" y="142.5" width="7" height="7" fill="#3c414a"/><rect x="527.5" y="142.5" width="7" height="7" fill="#4a5060"/><rect x="534.5" y="142.5" width="7" height="7" fill="#4a5060"/><rect x="541.5" y="142.5" width="7" height="7" fill="#5a6172"/><rect x="548.5" y="142.5" width="6" height="7" fill="#5a6172"/><rect x="554.5" y="142.5" width="7" height="7" fill="#5a6172"/><rect x="561.5" y="142.5" width="7" height="7" fill="#4a5060"/><rect x="568.5" y="142.5" width="7" height="7" fill="#3c414a"/><rect x="575.5" y="142.5" width="7" height="7" fill="#3c414a"/><rect x="582.5" y="142.5" width="7" height="7" fill="#2c2f37"/><rect x="589.5" y="142.5" width="7" height="7" fill="#2c2f37"/><rect x="596.5" y="142.5" width="7" height="7" fill="#2c2f37"/><rect x="603.5" y="142.5" width="7" height="7" fill="#24272e"/><rect x="610.5" y="142.5" width="7" height="7" fill="#24272e"/><rect x="478.5" y="149.5" width="7" height="7" fill="#24272e"/><rect x="485.5" y="149.5" width="7" height="7" fill="#24272e"/><rect x="492.5" y="149.5" width="7" height="7" fill="#24272e"/><rect x="499.5" y="149.5" width="7" height="7" fill="#24272e"/><rect x="506.5" y="149.5" width="7" height="7" fill="#f0882c"/><rect x="513.5" y="149.5" width="7" height="7" fill="#f4ae5e"/><rect x="520.5" y="149.5" width="7" height="7" fill="#f4ae5e"/><rect x="527.5" y="149.5" width="7" height="7" fill="#f4ae5e"/><rect x="534.5" y="149.5" width="7" height="7" fill="#d8a458"/><rect x="541.5" y="149.5" width="7" height="7" fill="#d8a458"/><rect x="548.5" y="149.5" width="6" height="7" fill="#d8a458"/><rect x="554.5" y="149.5" width="7" height="7" fill="#f4ae5e"/><rect x="561.5" y="149.5" width="7" height="7" fill="#f4ae5e"/><rect x="568.5" y="149.5" width="7" height="7" fill="#f0882c"/><rect x="575.5" y="149.5" width="7" height="7" fill="#f0882c"/><rect x="582.5" y="149.5" width="7" height="7" fill="#ea7b2c"/><rect x="589.5" y="149.5" width="7" height="7" fill="#2c2f37"/><rect x="596.5" y="149.5" width="7" height="7" fill="#24272e"/><rect x="603.5" y="149.5" width="7" height="7" fill="#24272e"/><rect x="610.5" y="149.5" width="7" height="7" fill="#24272e"/><rect x="478.5" y="156.5" width="7" height="6" fill="#24272e"/><rect x="485.5" y="156.5" width="7" height="6" fill="#d0581e"/><rect x="492.5" y="156.5" width="7" height="6" fill="#ea7b2c"/><rect x="499.5" y="156.5" width="7" height="6" fill="#f0882c"/><rect x="506.5" y="156.5" width="7" height="6" fill="#f0882c"/><rect x="513.5" y="156.5" width="7" height="6" fill="#f4ae5e"/><rect x="520.5" y="156.5" width="7" height="6" fill="#f4ae5e"/><rect x="527.5" y="156.5" width="7" height="6" fill="#d8a458"/><rect x="534.5" y="156.5" width="7" height="6" fill="#d8a458"/><rect x="541.5" y="156.5" width="7" height="6" fill="#d8a458"/><rect x="548.5" y="156.5" width="6" height="6" fill="#d8a458"/><rect x="554.5" y="156.5" width="7" height="6" fill="#d8a458"/><rect x="561.5" y="156.5" width="7" height="6" fill="#f4ae5e"/><rect x="568.5" y="156.5" width="7" height="6" fill="#f4ae5e"/><rect x="575.5" y="156.5" width="7" height="6" fill="#f0882c"/><rect x="582.5" y="156.5" width="7" height="6" fill="#f0882c"/><rect x="589.5" y="156.5" width="7" height="6" fill="#ea7b2c"/><rect x="596.5" y="156.5" width="7" height="6" fill="#ea7b2c"/><rect x="603.5" y="156.5" width="7" height="6" fill="#d0581e"/><rect x="610.5" y="156.5" width="7" height="6" fill="#24272e"/><rect x="471.5" y="162.5" width="7" height="7" fill="#d0581e"/><rect x="478.5" y="162.5" width="7" height="7" fill="#d0581e"/><rect x="485.5" y="162.5" width="7" height="7" fill="#ea7b2c"/><rect x="492.5" y="162.5" width="7" height="7" fill="#ea7b2c"/><rect x="499.5" y="162.5" width="7" height="7" fill="#f0882c"/><rect x="506.5" y="162.5" width="7" height="7" fill="#f0882c"/><rect x="513.5" y="162.5" width="7" height="7" fill="#f0882c"/><rect x="520.5" y="162.5" width="7" height="7" fill="#f4ae5e"/><rect x="527.5" y="162.5" width="7" height="7" fill="#d8a458"/><rect x="534.5" y="162.5" width="7" height="7" fill="#f4ae5e"/><rect x="541.5" y="162.5" width="7" height="7" fill="#d8a458"/><rect x="548.5" y="162.5" width="6" height="7" fill="#d8a458"/><rect x="554.5" y="162.5" width="7" height="7" fill="#d8a458"/><rect x="561.5" y="162.5" width="7" height="7" fill="#f4ae5e"/><rect x="568.5" y="162.5" width="7" height="7" fill="#f4ae5e"/><rect x="575.5" y="162.5" width="7" height="7" fill="#f4ae5e"/><rect x="582.5" y="162.5" width="7" height="7" fill="#f0882c"/><rect x="589.5" y="162.5" width="7" height="7" fill="#f0882c"/><rect x="596.5" y="162.5" width="7" height="7" fill="#ea7b2c"/><rect x="603.5" y="162.5" width="7" height="7" fill="#ea7b2c"/><rect x="610.5" y="162.5" width="7" height="7" fill="#d0581e"/><rect x="617.5" y="162.5" width="7" height="7" fill="#d0581e"/><rect x="471.5" y="169.5" width="7" height="7" fill="#d0581e"/><rect x="478.5" y="169.5" width="7" height="7" fill="#d0581e"/><rect x="485.5" y="169.5" width="7" height="7" fill="#ea7b2c"/><rect x="492.5" y="169.5" width="7" height="7" fill="#f0882c"/><rect x="499.5" y="169.5" width="7" height="7" fill="#ea7b2c"/><rect x="506.5" y="169.5" width="7" height="7" fill="#f0882c"/><rect x="513.5" y="169.5" width="7" height="7" fill="#f4ae5e"/><rect x="520.5" y="169.5" width="7" height="7" fill="#d8a458"/><rect x="527.5" y="169.5" width="7" height="7" fill="#f4ae5e"/><rect x="534.5" y="169.5" width="7" height="7" fill="#d8a458"/><rect x="541.5" y="169.5" width="7" height="7" fill="#d8a458"/><rect x="548.5" y="169.5" width="6" height="7" fill="#d8a458"/><rect x="554.5" y="169.5" width="7" height="7" fill="#d8a458"/><rect x="561.5" y="169.5" width="7" height="7" fill="#d8a458"/><rect x="568.5" y="169.5" width="7" height="7" fill="#f4ae5e"/><rect x="575.5" y="169.5" width="7" height="7" fill="#f4ae5e"/><rect x="582.5" y="169.5" width="7" height="7" fill="#f0882c"/><rect x="589.5" y="169.5" width="7" height="7" fill="#f0882c"/><rect x="596.5" y="169.5" width="7" height="7" fill="#f0882c"/><rect x="603.5" y="169.5" width="7" height="7" fill="#ea7b2c"/><rect x="610.5" y="169.5" width="7" height="7" fill="#d0581e"/><rect x="617.5" y="169.5" width="7" height="7" fill="#d0581e"/><rect x="471.5" y="176.5" width="7" height="7" fill="#d0581e"/><rect x="478.5" y="176.5" width="7" height="7" fill="#ea7b2c"/><rect x="485.5" y="176.5" width="7" height="7" fill="#d0581e"/><rect x="492.5" y="176.5" width="7" height="7" fill="#ea7b2c"/><rect x="499.5" y="176.5" width="7" height="7" fill="#f0882c"/><rect x="506.5" y="176.5" width="7" height="7" fill="#f0882c"/><rect x="513.5" y="176.5" width="7" height="7" fill="#f0882c"/><rect x="520.5" y="176.5" width="7" height="7" fill="#f4ae5e"/><rect x="527.5" y="176.5" width="7" height="7" fill="#d8a458"/><rect x="534.5" y="176.5" width="7" height="7" fill="#d8a458"/><rect x="541.5" y="176.5" width="7" height="7" fill="#d8a458"/><rect x="548.5" y="176.5" width="6" height="7" fill="#d8a458"/><rect x="554.5" y="176.5" width="7" height="7" fill="#d8a458"/><rect x="561.5" y="176.5" width="7" height="7" fill="#f4ae5e"/><rect x="568.5" y="176.5" width="7" height="7" fill="#d8a458"/><rect x="575.5" y="176.5" width="7" height="7" fill="#f4ae5e"/><rect x="582.5" y="176.5" width="7" height="7" fill="#f0882c"/><rect x="589.5" y="176.5" width="7" height="7" fill="#ea7b2c"/><rect x="596.5" y="176.5" width="7" height="7" fill="#ea7b2c"/><rect x="603.5" y="176.5" width="7" height="7" fill="#ea7b2c"/><rect x="610.5" y="176.5" width="7" height="7" fill="#d0581e"/><rect x="617.5" y="176.5" width="7" height="7" fill="#d0581e"/><rect x="465.5" y="183.5" width="6" height="7" fill="#d8502c"/><rect x="471.5" y="183.5" width="7" height="7" fill="#d0581e"/><rect x="478.5" y="183.5" width="7" height="7" fill="#d0581e"/><rect x="485.5" y="183.5" width="7" height="7" fill="#ea7b2c"/><rect x="492.5" y="183.5" width="7" height="7" fill="#ea7b2c"/><rect x="499.5" y="183.5" width="7" height="7" fill="#3c414a"/><rect x="506.5" y="183.5" width="7" height="7" fill="#3c414a"/><rect x="513.5" y="183.5" width="7" height="7" fill="#4a5060"/><rect x="520.5" y="183.5" width="7" height="7" fill="#4a5060"/><rect x="527.5" y="183.5" width="7" height="7" fill="#4a5060"/><rect x="534.5" y="183.5" width="7" height="7" fill="#4a5060"/><rect x="541.5" y="183.5" width="7" height="7" fill="#5a6172"/><rect x="548.5" y="183.5" width="6" height="7" fill="#5a6172"/><rect x="554.5" y="183.5" width="7" height="7" fill="#5a6172"/><rect x="561.5" y="183.5" width="7" height="7" fill="#4a5060"/><rect x="568.5" y="183.5" width="7" height="7" fill="#4a5060"/><rect x="575.5" y="183.5" width="7" height="7" fill="#4a5060"/><rect x="582.5" y="183.5" width="7" height="7" fill="#3c414a"/><rect x="589.5" y="183.5" width="7" height="7" fill="#2c2f37"/><rect x="596.5" y="183.5" width="7" height="7" fill="#ea7b2c"/><rect x="603.5" y="183.5" width="7" height="7" fill="#ea7b2c"/><rect x="610.5" y="183.5" width="7" height="7" fill="#d0581e"/><rect x="617.5" y="183.5" width="7" height="7" fill="#d0581e"/><rect x="624.5" y="183.5" width="7" height="7" fill="#d8502c"/><rect x="465.5" y="190.5" width="6" height="7" fill="#d8502c"/><rect x="471.5" y="190.5" width="7" height="7" fill="#d8502c"/><rect x="478.5" y="190.5" width="7" height="7" fill="#2c2f37"/><rect x="485.5" y="190.5" width="7" height="7" fill="#2c2f37"/><rect x="492.5" y="190.5" width="7" height="7" fill="#3c414a"/><rect x="499.5" y="190.5" width="7" height="7" fill="#3c414a"/><rect x="506.5" y="190.5" width="7" height="7" fill="#4a5060"/><rect x="513.5" y="190.5" width="7" height="7" fill="#4a5060"/><rect x="520.5" y="190.5" width="7" height="7" fill="#5a6172"/><rect x="527.5" y="190.5" width="7" height="7" fill="#4a5060"/><rect x="534.5" y="190.5" width="7" height="7" fill="#5a6172"/><rect x="541.5" y="190.5" width="7" height="7" fill="#5a6172"/><rect x="548.5" y="190.5" width="6" height="7" fill="#5a6172"/><rect x="554.5" y="190.5" width="7" height="7" fill="#5a6172"/><rect x="561.5" y="190.5" width="7" height="7" fill="#5a6172"/><rect x="568.5" y="190.5" width="7" height="7" fill="#4a5060"/><rect x="575.5" y="190.5" width="7" height="7" fill="#4a5060"/><rect x="582.5" y="190.5" width="7" height="7" fill="#4a5060"/><rect x="589.5" y="190.5" width="7" height="7" fill="#3c414a"/><rect x="596.5" y="190.5" width="7" height="7" fill="#3c414a"/><rect x="603.5" y="190.5" width="7" height="7" fill="#2c2f37"/><rect x="610.5" y="190.5" width="7" height="7" fill="#d0581e"/><rect x="617.5" y="190.5" width="7" height="7" fill="#d8502c"/><rect x="624.5" y="190.5" width="7" height="7" fill="#d8502c"/><rect x="465.5" y="197.5" width="6" height="7" fill="#24272e"/><rect x="471.5" y="197.5" width="7" height="7" fill="#2c2f37"/><rect x="478.5" y="197.5" width="7" height="7" fill="#2c2f37"/><rect x="485.5" y="197.5" width="7" height="7" fill="#3c414a"/><rect x="492.5" y="197.5" width="7" height="7" fill="#3c414a"/><rect x="499.5" y="197.5" width="7" height="7" fill="#4a5060"/><rect x="506.5" y="197.5" width="7" height="7" fill="#4a5060"/><rect x="513.5" y="197.5" width="7" height="7" fill="#5a6172"/><rect x="520.5" y="197.5" width="7" height="7" fill="#4a5060"/><rect x="527.5" y="197.5" width="7" height="7" fill="#5a6172"/><rect x="534.5" y="197.5" width="7" height="7" fill="#5a6172"/><rect x="541.5" y="197.5" width="7" height="7" fill="#5a6172"/><rect x="548.5" y="197.5" width="6" height="7" fill="#5a6172"/><rect x="554.5" y="197.5" width="7" height="7" fill="#5a6172"/><rect x="561.5" y="197.5" width="7" height="7" fill="#4a5060"/><rect x="568.5" y="197.5" width="7" height="7" fill="#5a6172"/><rect x="575.5" y="197.5" width="7" height="7" fill="#4a5060"/><rect x="582.5" y="197.5" width="7" height="7" fill="#4a5060"/><rect x="589.5" y="197.5" width="7" height="7" fill="#3c414a"/><rect x="596.5" y="197.5" width="7" height="7" fill="#3c414a"/><rect x="603.5" y="197.5" width="7" height="7" fill="#2c2f37"/><rect x="610.5" y="197.5" width="7" height="7" fill="#2c2f37"/><rect x="617.5" y="197.5" width="7" height="7" fill="#2c2f37"/><rect x="624.5" y="197.5" width="7" height="7" fill="#24272e"/><rect x="465.5" y="204.5" width="6" height="7" fill="#24272e"/><rect x="471.5" y="204.5" width="7" height="7" fill="#2c2f37"/><rect x="478.5" y="204.5" width="7" height="7" fill="#2c2f37"/><rect x="485.5" y="204.5" width="7" height="7" fill="#3c414a"/><rect x="492.5" y="204.5" width="7" height="7" fill="#3c414a"/><rect x="499.5" y="204.5" width="7" height="7" fill="#4a5060"/><rect x="506.5" y="204.5" width="7" height="7" fill="#5a6172"/><rect x="513.5" y="204.5" width="7" height="7" fill="#4a5060"/><rect x="520.5" y="204.5" width="7" height="7" fill="#5a6172"/><rect x="527.5" y="204.5" width="7" height="7" fill="#4a5060"/><rect x="534.5" y="204.5" width="7" height="7" fill="#5a6172"/><rect x="541.5" y="204.5" width="7" height="7" fill="#5a6172"/><rect x="548.5" y="204.5" width="6" height="7" fill="#5a6172"/><rect x="554.5" y="204.5" width="7" height="7" fill="#5a6172"/><rect x="561.5" y="204.5" width="7" height="7" fill="#5a6172"/><rect x="568.5" y="204.5" width="7" height="7" fill="#4a5060"/><rect x="575.5" y="204.5" width="7" height="7" fill="#4a5060"/><rect x="582.5" y="204.5" width="7" height="7" fill="#3c414a"/><rect x="589.5" y="204.5" width="7" height="7" fill="#4a5060"/><rect x="596.5" y="204.5" width="7" height="7" fill="#3c414a"/><rect x="603.5" y="204.5" width="7" height="7" fill="#3c414a"/><rect x="610.5" y="204.5" width="7" height="7" fill="#2c2f37"/><rect x="617.5" y="204.5" width="7" height="7" fill="#2c2f37"/><rect x="624.5" y="204.5" width="7" height="7" fill="#24272e"/><rect x="458.5" y="211.5" width="7" height="7" fill="#24272e"/><rect x="465.5" y="211.5" width="6" height="7" fill="#24272e"/><rect x="471.5" y="211.5" width="7" height="7" fill="#2c2f37"/><rect x="478.5" y="211.5" width="7" height="7" fill="#2c2f37"/><rect x="485.5" y="211.5" width="7" height="7" fill="#2c2f37"/><rect x="492.5" y="211.5" width="7" height="7" fill="#3c414a"/><rect x="499.5" y="211.5" width="7" height="7" fill="#3c414a"/><rect x="506.5" y="211.5" width="7" height="7" fill="#4a5060"/><rect x="513.5" y="211.5" width="7" height="7" fill="#f4ae5e"/><rect x="520.5" y="211.5" width="7" height="7" fill="#f4ae5e"/><rect x="527.5" y="211.5" width="7" height="7" fill="#d8a458"/><rect x="534.5" y="211.5" width="7" height="7" fill="#d8a458"/><rect x="541.5" y="211.5" width="7" height="7" fill="#d8a458"/><rect x="548.5" y="211.5" width="6" height="7" fill="#d8a458"/><rect x="554.5" y="211.5" width="7" height="7" fill="#d8a458"/><rect x="561.5" y="211.5" width="7" height="7" fill="#d8a458"/><rect x="568.5" y="211.5" width="7" height="7" fill="#f4ae5e"/><rect x="575.5" y="211.5" width="7" height="7" fill="#f4ae5e"/><rect x="582.5" y="211.5" width="7" height="7" fill="#f4ae5e"/><rect x="589.5" y="211.5" width="7" height="7" fill="#3c414a"/><rect x="596.5" y="211.5" width="7" height="7" fill="#2c2f37"/><rect x="603.5" y="211.5" width="7" height="7" fill="#2c2f37"/><rect x="610.5" y="211.5" width="7" height="7" fill="#2c2f37"/><rect x="617.5" y="211.5" width="7" height="7" fill="#2c2f37"/><rect x="624.5" y="211.5" width="7" height="7" fill="#24272e"/><rect x="631.5" y="211.5" width="6" height="7" fill="#24272e"/><rect x="458.5" y="218.5" width="7" height="7" fill="#24272e"/><rect x="465.5" y="218.5" width="6" height="7" fill="#24272e"/><rect x="471.5" y="218.5" width="7" height="7" fill="#24272e"/><rect x="478.5" y="218.5" width="7" height="7" fill="#2c2f37"/><rect x="485.5" y="218.5" width="7" height="7" fill="#2c2f37"/><rect x="492.5" y="218.5" width="7" height="7" fill="#f0882c"/><rect x="499.5" y="218.5" width="7" height="7" fill="#f4ae5e"/><rect x="506.5" y="218.5" width="7" height="7" fill="#f4ae5e"/><rect x="513.5" y="218.5" width="7" height="7" fill="#f4ae5e"/><rect x="520.5" y="218.5" width="7" height="7" fill="#d8a458"/><rect x="527.5" y="218.5" width="7" height="7" fill="#d8a458"/><rect x="534.5" y="218.5" width="7" height="7" fill="#d8a458"/><rect x="541.5" y="218.5" width="7" height="7" fill="#d8a458"/><rect x="548.5" y="218.5" width="6" height="7" fill="#d8a458"/><rect x="554.5" y="218.5" width="7" height="7" fill="#d8a458"/><rect x="561.5" y="218.5" width="7" height="7" fill="#d8a458"/><rect x="568.5" y="218.5" width="7" height="7" fill="#d8a458"/><rect x="575.5" y="218.5" width="7" height="7" fill="#f4ae5e"/><rect x="582.5" y="218.5" width="7" height="7" fill="#f4ae5e"/><rect x="589.5" y="218.5" width="7" height="7" fill="#f4ae5e"/><rect x="596.5" y="218.5" width="7" height="7" fill="#f0882c"/><rect x="603.5" y="218.5" width="7" height="7" fill="#f0882c"/><rect x="610.5" y="218.5" width="7" height="7" fill="#2c2f37"/><rect x="617.5" y="218.5" width="7" height="7" fill="#24272e"/><rect x="624.5" y="218.5" width="7" height="7" fill="#24272e"/><rect x="631.5" y="218.5" width="6" height="7" fill="#24272e"/><rect x="458.5" y="225.5" width="7" height="7" fill="#24272e"/><rect x="465.5" y="225.5" width="6" height="7" fill="#24272e"/><rect x="471.5" y="225.5" width="7" height="7" fill="#24272e"/><rect x="478.5" y="225.5" width="7" height="7" fill="#ea7b2c"/><rect x="485.5" y="225.5" width="7" height="7" fill="#f0882c"/><rect x="492.5" y="225.5" width="7" height="7" fill="#f0882c"/><rect x="499.5" y="225.5" width="7" height="7" fill="#f4ae5e"/><rect x="506.5" y="225.5" width="7" height="7" fill="#f4ae5e"/><rect x="513.5" y="225.5" width="7" height="7" fill="#d8a458"/><rect x="520.5" y="225.5" width="7" height="7" fill="#d8a458"/><rect x="527.5" y="225.5" width="7" height="7" fill="#d8a458"/><rect x="534.5" y="225.5" width="7" height="7" fill="#d8a458"/><rect x="541.5" y="225.5" width="7" height="7" fill="#d8a458"/><rect x="548.5" y="225.5" width="6" height="7" fill="#d8a458"/><rect x="554.5" y="225.5" width="7" height="7" fill="#d8a458"/><rect x="561.5" y="225.5" width="7" height="7" fill="#d8a458"/><rect x="568.5" y="225.5" width="7" height="7" fill="#d8a458"/><rect x="575.5" y="225.5" width="7" height="7" fill="#d8a458"/><rect x="582.5" y="225.5" width="7" height="7" fill="#f4ae5e"/><rect x="589.5" y="225.5" width="7" height="7" fill="#f4ae5e"/><rect x="596.5" y="225.5" width="7" height="7" fill="#f0882c"/><rect x="603.5" y="225.5" width="7" height="7" fill="#f0882c"/><rect x="610.5" y="225.5" width="7" height="7" fill="#f0882c"/><rect x="617.5" y="225.5" width="7" height="7" fill="#ea7b2c"/><rect x="624.5" y="225.5" width="7" height="7" fill="#24272e"/><rect x="631.5" y="225.5" width="6" height="7" fill="#24272e"/><rect x="458.5" y="232.5" width="7" height="6" fill="#24272e"/><rect x="465.5" y="232.5" width="6" height="6" fill="#d0581e"/><rect x="471.5" y="232.5" width="7" height="6" fill="#ea7b2c"/><rect x="478.5" y="232.5" width="7" height="6" fill="#ea7b2c"/><rect x="485.5" y="232.5" width="7" height="6" fill="#f0882c"/><rect x="492.5" y="232.5" width="7" height="6" fill="#f0882c"/><rect x="499.5" y="232.5" width="7" height="6" fill="#f0882c"/><rect x="506.5" y="232.5" width="7" height="6" fill="#f4ae5e"/><rect x="513.5" y="232.5" width="7" height="6" fill="#f4ae5e"/><rect x="520.5" y="232.5" width="7" height="6" fill="#d8a458"/><rect x="527.5" y="232.5" width="7" height="6" fill="#d8a458"/><rect x="534.5" y="232.5" width="7" height="6" fill="#d8a458"/><rect x="541.5" y="232.5" width="7" height="6" fill="#d8a458"/><rect x="548.5" y="232.5" width="6" height="6" fill="#d8a458"/><rect x="554.5" y="232.5" width="7" height="6" fill="#d8a458"/><rect x="561.5" y="232.5" width="7" height="6" fill="#d8a458"/><rect x="568.5" y="232.5" width="7" height="6" fill="#d8a458"/><rect x="575.5" y="232.5" width="7" height="6" fill="#f4ae5e"/><rect x="582.5" y="232.5" width="7" height="6" fill="#d8a458"/><rect x="589.5" y="232.5" width="7" height="6" fill="#f4ae5e"/><rect x="596.5" y="232.5" width="7" height="6" fill="#f0882c"/><rect x="603.5" y="232.5" width="7" height="6" fill="#f0882c"/><rect x="610.5" y="232.5" width="7" height="6" fill="#f0882c"/><rect x="617.5" y="232.5" width="7" height="6" fill="#ea7b2c"/><rect x="624.5" y="232.5" width="7" height="6" fill="#d0581e"/><rect x="631.5" y="232.5" width="6" height="6" fill="#d0581e"/><path d="M416.5,4.5V238.5M423.5,4.5V238.5M430.5,4.5V238.5M437.5,4.5V238.5M444.5,4.5V238.5M451.5,4.5V238.5M465.5,4.5V238.5M471.5,4.5V238.5M478.5,4.5V238.5M485.5,4.5V238.5M492.5,4.5V238.5M499.5,4.5V238.5M506.5,4.5V238.5M513.5,4.5V238.5M520.5,4.5V238.5M534.5,4.5V238.5M541.5,4.5V238.5M548.5,4.5V238.5M554.5,4.5V238.5M561.5,4.5V238.5M568.5,4.5V238.5M575.5,4.5V238.5M582.5,4.5V238.5M589.5,4.5V238.5M603.5,4.5V238.5M610.5,4.5V238.5M617.5,4.5V238.5M624.5,4.5V238.5M631.5,4.5V238.5M637.5,4.5V238.5M644.5,4.5V238.5M651.5,4.5V238.5M658.5,4.5V238.5M672.5,4.5V238.5M679.5,4.5V238.5M686.5,4.5V238.5M693.5,4.5V238.5M700.5,4.5V238.5M707.5,4.5V238.5M714.5,4.5V238.5M720.5,4.5V238.5M727.5,4.5V238.5M741.5,4.5V238.5M748.5,4.5V238.5M755.5,4.5V238.5M762.5,4.5V238.5M769.5,4.5V238.5M776.5,4.5V238.5M783.5,4.5V238.5M409.5,10.5H790.5M409.5,17.5H790.5M409.5,24.5H790.5M409.5,38.5H790.5M409.5,45.5H790.5M409.5,52.5H790.5M409.5,59.5H790.5M409.5,66.5H790.5M409.5,73.5H790.5M409.5,80.5H790.5M409.5,86.5H790.5M409.5,93.5H790.5M409.5,107.5H790.5M409.5,114.5H790.5M409.5,121.5H790.5M409.5,128.5H790.5M409.5,135.5H790.5M409.5,142.5H790.5M409.5,149.5H790.5M409.5,156.5H790.5M409.5,162.5H790.5M409.5,176.5H790.5M409.5,183.5H790.5M409.5,190.5H790.5M409.5,197.5H790.5M409.5,204.5H790.5M409.5,211.5H790.5M409.5,218.5H790.5M409.5,225.5H790.5M409.5,232.5H790.5" stroke="rgba(0,0,0,0.55)" stroke-width="1" fill="none"/><path d="M458.5,4.5V238.5M527.5,4.5V238.5M596.5,4.5V238.5M665.5,4.5V238.5M734.5,4.5V238.5M409.5,31.5H790.5M409.5,100.5H790.5M409.5,169.5H790.5" stroke="rgba(0,0,0,0.85)" stroke-width="1.6" fill="none"/><rect x="409.5" y="4.5" width="381.0" height="234.0" stroke="rgba(0,0,0,0.85)" stroke-width="1.2" fill="none"/><path d="M489.0,9.9 L486.2,7.2 Q486.2,5.4 487.6,5.4 Q489.0,5.4 489.0,6.5 Q489.0,5.4 490.4,5.4 Q491.8,5.4 491.8,7.2 Z" fill="#000"/><rect x="494.2" y="5.7" width="3.6" height="3.6" fill="#858b96"/><path d="M496.0,5.7V9.3M494.2,7.5H497.8" stroke="#3c414a" stroke-width="0.35"/><rect x="501.2" y="5.7" width="3.6" height="3.6" fill="#858b96"/><path d="M503.0,5.7V9.3M501.2,7.5H504.8" stroke="#3c414a" stroke-width="0.35"/><rect x="508.2" y="5.7" width="3.6" height="3.6" fill="#858b96"/><path d="M510.0,5.7V9.3M508.2,7.5H511.8" stroke="#3c414a" stroke-width="0.35"/><rect x="515.2" y="5.7" width="3.6" height="3.6" fill="#858b96"/><path d="M517.0,5.7V9.3M515.2,7.5H518.8" stroke="#3c414a" stroke-width="0.35"/><rect x="522.2" y="5.7" width="3.6" height="3.6" fill="#858b96"/><path d="M524.0,5.7V9.3M522.2,7.5H525.8" stroke="#3c414a" stroke-width="0.35"/><path d="M475.0,16.4 L472.2,13.7 Q472.2,11.9 473.6,11.9 Q475.0,11.9 475.0,13.0 Q475.0,11.9 476.4,11.9 Q477.8,11.9 477.8,13.7 Z" fill="#000"/><path d="M482.0,16.4 L479.2,13.7 Q479.2,11.9 480.6,11.9 Q482.0,11.9 482.0,13.0 Q482.0,11.9 483.4,11.9 Q484.8,11.9 484.8,13.7 Z" fill="#000"/><path d="M489.0,16.4 L486.2,13.7 Q486.2,11.9 487.6,11.9 Q489.0,11.9 489.0,13.0 Q489.0,11.9 490.4,11.9 Q491.8,11.9 491.8,13.7 Z" fill="#000"/><path d="M496.0,16.4 L493.2,13.7 Q493.2,11.9 494.6,11.9 Q496.0,11.9 496.0,13.0 Q496.0,11.9 497.4,11.9 Q498.8,11.9 498.8,13.7 Z" fill="#000"/><polygon points="503.0,11.6 505.5,13.4 504.5,16.3 501.5,16.3 500.5,13.4" fill="#fff"/><circle cx="503.0" cy="14.3" r="0.8" fill="#333"/><polygon points="510.0,11.6 512.5,13.4 511.5,16.3 508.5,16.3 507.5,13.4" fill="#fff"/><circle cx="510.0" cy="14.3" r="0.8" fill="#333"/><polygon points="517.0,11.6 519.5,13.4 518.5,16.3 515.5,16.3 514.5,13.4" fill="#fff"/><circle cx="517.0" cy="14.3" r="0.8" fill="#333"/><polygon points="524.0,11.6 526.5,13.4 525.5,16.3 522.5,16.3 521.5,13.4" fill="#fff"/><circle cx="524.0" cy="14.3" r="0.8" fill="#333"/><rect x="529.2" y="12.2" width="3.6" height="3.6" fill="#858b96"/><path d="M531.0,12.2V15.8M529.2,14.0H532.8" stroke="#3c414a" stroke-width="0.35"/><rect x="536.2" y="12.2" width="3.6" height="3.6" fill="#858b96"/><path d="M538.0,12.2V15.8M536.2,14.0H539.8" stroke="#3c414a" stroke-width="0.35"/><path d="M475.0,23.4 L472.2,20.7 Q472.2,18.9 473.6,18.9 Q475.0,18.9 475.0,20.0 Q475.0,18.9 476.4,18.9 Q477.8,18.9 477.8,20.7 Z" fill="#000"/><rect x="481.2" y="20.2" width="1.6" height="1.6" fill="#000"/><rect x="488.2" y="20.2" width="1.6" height="1.6" fill="#000"/><rect x="495.2" y="20.2" width="1.6" height="1.6" fill="#000"/><path d="M500.8,22.5 A2.2,2.2 0 0 1 505.2,22.5" fill="none" stroke="#a8aeb8" stroke-width="0.85"/><path d="M507.8,22.5 A2.2,2.2 0 0 1 512.2,22.5" fill="none" stroke="#a8aeb8" stroke-width="0.85"/><path d="M514.8,22.5 A2.2,2.2 0 0 1 519.2,22.5" fill="none" stroke="#a8aeb8" stroke-width="0.85"/><polygon points="524.0,18.6 526.5,20.4 525.5,23.3 522.5,23.3 521.5,20.4" fill="#fff"/><circle cx="524.0" cy="21.3" r="0.8" fill="#333"/><polygon points="531.0,18.6 533.5,20.4 532.5,23.3 529.5,23.3 528.5,20.4" fill="#fff"/><circle cx="531.0" cy="21.3" r="0.8" fill="#333"/><polygon points="538.0,18.6 540.5,20.4 539.5,23.3 536.5,23.3 535.5,20.4" fill="#fff"/><circle cx="538.0" cy="21.3" r="0.8" fill="#333"/><path d="M545.0,23.4 L542.2,20.7 Q542.2,18.9 543.6,18.9 Q545.0,18.9 545.0,20.0 Q545.0,18.9 546.4,18.9 Q547.8,18.9 547.8,20.7 Z" fill="#000"/><path d="M551.5,23.4 L548.7,20.7 Q548.7,18.9 550.1,18.9 Q551.5,18.9 551.5,20.0 Q551.5,18.9 552.9,18.9 Q554.3,18.9 554.3,20.7 Z" fill="#000"/><path d="M466.3,29.5 A2.2,2.2 0 0 1 470.7,29.5" fill="none" stroke="#a8aeb8" stroke-width="0.85"/><path d="M472.8,29.5 A2.2,2.2 0 0 1 477.2,29.5" fill="none" stroke="#a8aeb8" stroke-width="0.85"/><rect x="481.2" y="27.2" width="1.6" height="1.6" fill="#000"/><path d="M514.8,29.5 A2.2,2.2 0 0 1 519.2,29.5" fill="none" stroke="#a8aeb8" stroke-width="0.85"/><path d="M521.8,29.5 A2.2,2.2 0 0 1 526.2,29.5" fill="none" stroke="#a8aeb8" stroke-width="0.85"/><path d="M529.3,26.1 L530.4,26.7 L530.8,28.1 L531.5,29.4 L532.7,29.8" fill="none" stroke="#5a3410" stroke-width="0.9"/><rect x="535.8" y="25.8" width="4.4" height="4.4" fill="#c0904c" stroke="#5a3c18" stroke-width="0.7"/><path d="M543.3,26.1 L544.4,26.7 L544.8,28.1 L545.5,29.4 L546.7,29.8" fill="none" stroke="#5a3410" stroke-width="0.9"/><path d="M551.5,30.4 L548.7,27.7 Q548.7,25.9 550.1,25.9 Q551.5,25.9 551.5,27.0 Q551.5,25.9 552.9,25.9 Q554.3,25.9 554.3,27.7 Z" fill="#000"/><path d="M558.0,30.4 L555.2,27.7 Q555.2,25.9 556.6,25.9 Q558.0,25.9 558.0,27.0 Q558.0,25.9 559.4,25.9 Q560.8,25.9 560.8,27.7 Z" fill="#000"/><path d="M466.3,36.5 A2.2,2.2 0 0 1 470.7,36.5" fill="none" stroke="#a8aeb8" stroke-width="0.85"/><path d="M472.8,36.5 A2.2,2.2 0 0 1 477.2,36.5" fill="none" stroke="#a8aeb8" stroke-width="0.85"/><path d="M524.0,37.4 L521.2,34.7 Q521.2,32.9 522.6,32.9 Q524.0,32.9 524.0,34.0 Q524.0,32.9 525.4,32.9 Q526.8,32.9 526.8,34.7 Z" fill="#000"/><path d="M529.3,33.1 L530.4,33.7 L530.8,35.1 L531.5,36.4 L532.7,36.8" fill="none" stroke="#5a3410" stroke-width="0.9"/><path d="M536.3,33.1 L537.4,33.7 L537.8,35.1 L538.5,36.4 L539.7,36.8" fill="none" stroke="#5a3410" stroke-width="0.9"/><rect x="542.8" y="32.8" width="4.4" height="4.4" fill="#c0904c" stroke="#5a3c18" stroke-width="0.7"/><path d="M549.8,33.1 L550.9,33.7 L551.3,35.1 L552.0,36.4 L553.2,36.8" fill="none" stroke="#5a3410" stroke-width="0.9"/><path d="M558.0,37.4 L555.2,34.7 Q555.2,32.9 556.6,32.9 Q558.0,32.9 558.0,34.0 Q558.0,32.9 559.4,32.9 Q560.8,32.9 560.8,34.7 Z" fill="#000"/><path d="M466.3,43.5 A2.2,2.2 0 0 1 470.7,43.5" fill="none" stroke="#a8aeb8" stroke-width="0.85"/><path d="M531.0,44.4 L528.2,41.7 Q528.2,39.9 529.6,39.9 Q531.0,39.9 531.0,41.0 Q531.0,39.9 532.4,39.9 Q533.8,39.9 533.8,41.7 Z" fill="#000"/><rect x="535.8" y="39.8" width="4.4" height="4.4" fill="#c0904c" stroke="#5a3c18" stroke-width="0.7"/><rect x="542.8" y="39.8" width="4.4" height="4.4" fill="#c0904c" stroke="#5a3c18" stroke-width="0.7"/><rect x="549.3" y="39.8" width="4.4" height="4.4" fill="#c0904c" stroke="#5a3c18" stroke-width="0.7"/><path d="M556.3,40.1 L557.4,40.7 L557.8,42.1 L558.5,43.4 L559.7,43.8" fill="none" stroke="#5a3410" stroke-width="0.9"/><path d="M565.0,44.4 L562.2,41.7 Q562.2,39.9 563.6,39.9 Q565.0,39.9 565.0,41.0 Q565.0,39.9 566.4,39.9 Q567.8,39.9 567.8,41.7 Z" fill="#000"/><path d="M466.3,50.5 A2.2,2.2 0 0 1 470.7,50.5" fill="none" stroke="#a8aeb8" stroke-width="0.85"/><path d="M531.0,51.4 L528.2,48.7 Q528.2,46.9 529.6,46.9 Q531.0,46.9 531.0,48.0 Q531.0,46.9 532.4,46.9 Q533.8,46.9 533.8,48.7 Z" fill="#000"/><path d="M536.3,47.1 L537.4,47.7 L537.8,49.1 L538.5,50.4 L539.7,50.8" fill="none" stroke="#5a3410" stroke-width="0.9"/><rect x="542.8" y="46.8" width="4.4" height="4.4" fill="#c0904c" stroke="#5a3c18" stroke-width="0.7"/><rect x="549.3" y="46.8" width="4.4" height="4.4" fill="#c0904c" stroke="#5a3c18" stroke-width="0.7"/><path d="M556.3,47.1 L557.4,47.7 L557.8,49.1 L558.5,50.4 L559.7,50.8" fill="none" stroke="#5a3410" stroke-width="0.9"/><path d="M565.0,51.4 L562.2,48.7 Q562.2,46.9 563.6,46.9 Q565.0,46.9 565.0,48.0 Q565.0,46.9 566.4,46.9 Q567.8,46.9 567.8,48.7 Z" fill="#000"/><path d="M466.3,57.5 A2.2,2.2 0 0 1 470.7,57.5" fill="none" stroke="#a8aeb8" stroke-width="0.85"/><path d="M521.8,57.5 A2.2,2.2 0 0 1 526.2,57.5" fill="none" stroke="#a8aeb8" stroke-width="0.85"/><path d="M528.8,57.5 A2.2,2.2 0 0 1 533.2,57.5" fill="none" stroke="#a8aeb8" stroke-width="0.85"/><polygon points="538.0,53.6 540.5,55.4 539.5,58.3 536.5,58.3 535.5,55.4" fill="#fff"/><circle cx="538.0" cy="56.3" r="0.8" fill="#333"/><polygon points="545.0,53.6 547.5,55.4 546.5,58.3 543.5,58.3 542.5,55.4" fill="#fff"/><circle cx="545.0" cy="56.3" r="0.8" fill="#333"/><rect x="549.7" y="54.2" width="3.6" height="3.6" fill="#858b96"/><path d="M551.5,54.2V57.8M549.7,56.0H553.3" stroke="#3c414a" stroke-width="0.35"/><polygon points="558.0,53.6 560.5,55.4 559.5,58.3 556.5,58.3 555.5,55.4" fill="#fff"/><circle cx="558.0" cy="56.3" r="0.8" fill="#333"/><path d="M562.8,57.5 A2.2,2.2 0 0 1 567.2,57.5" fill="none" stroke="#a8aeb8" stroke-width="0.85"/><path d="M569.8,57.5 A2.2,2.2 0 0 1 574.2,57.5" fill="none" stroke="#a8aeb8" stroke-width="0.85"/><path d="M466.3,64.5 A2.2,2.2 0 0 1 470.7,64.5" fill="none" stroke="#a8aeb8" stroke-width="0.85"/><path d="M521.8,64.5 A2.2,2.2 0 0 1 526.2,64.5" fill="none" stroke="#a8aeb8" stroke-width="0.85"/><path d="M528.8,64.5 A2.2,2.2 0 0 1 533.2,64.5" fill="none" stroke="#a8aeb8" stroke-width="0.85"/><polygon points="538.0,60.6 540.5,62.4 539.5,65.3 536.5,65.3 535.5,62.4" fill="#fff"/><circle cx="538.0" cy="63.3" r="0.8" fill="#333"/><rect x="543.2" y="61.2" width="3.6" height="3.6" fill="#858b96"/><path d="M545.0,61.2V64.8M543.2,63.0H546.8" stroke="#3c414a" stroke-width="0.35"/><rect x="549.7" y="61.2" width="3.6" height="3.6" fill="#858b96"/><path d="M551.5,61.2V64.8M549.7,63.0H553.3" stroke="#3c414a" stroke-width="0.35"/><polygon points="558.0,60.6 560.5,62.4 559.5,65.3 556.5,65.3 555.5,62.4" fill="#fff"/><circle cx="558.0" cy="63.3" r="0.8" fill="#333"/><polygon points="565.0,60.6 567.5,62.4 566.5,65.3 563.5,65.3 562.5,62.4" fill="#fff"/><circle cx="565.0" cy="63.3" r="0.8" fill="#333"/><path d="M569.8,64.5 A2.2,2.2 0 0 1 574.2,64.5" fill="none" stroke="#a8aeb8" stroke-width="0.85"/><path d="M576.8,64.5 A2.2,2.2 0 0 1 581.2,64.5" fill="none" stroke="#a8aeb8" stroke-width="0.85"/><path d="M514.8,71.5 A2.2,2.2 0 0 1 519.2,71.5" fill="none" stroke="#a8aeb8" stroke-width="0.85"/><path d="M521.8,71.5 A2.2,2.2 0 0 1 526.2,71.5" fill="none" stroke="#a8aeb8" stroke-width="0.85"/><polygon points="531.0,67.6 533.5,69.4 532.5,72.3 529.5,72.3 528.5,69.4" fill="#fff"/><circle cx="531.0" cy="70.3" r="0.8" fill="#333"/><polygon points="538.0,67.6 540.5,69.4 539.5,72.3 536.5,72.3 535.5,69.4" fill="#fff"/><circle cx="538.0" cy="70.3" r="0.8" fill="#333"/><rect x="543.2" y="68.2" width="3.6" height="3.6" fill="#858b96"/><path d="M545.0,68.2V71.8M543.2,70.0H546.8" stroke="#3c414a" stroke-width="0.35"/><line x1="548.5" y1="67.0" x2="554.5" y2="73.0" stroke="#fff" stroke-width="0.5"/><ellipse cx="551.5" cy="70.0" rx="2.1" ry="1.05" transform="rotate(38 551.5 70.0)" fill="#fff"/><rect x="556.2" y="68.2" width="3.6" height="3.6" fill="#858b96"/><path d="M558.0,68.2V71.8M556.2,70.0H559.8" stroke="#3c414a" stroke-width="0.35"/><polygon points="565.0,67.6 567.5,69.4 566.5,72.3 563.5,72.3 562.5,69.4" fill="#fff"/><circle cx="565.0" cy="70.3" r="0.8" fill="#333"/><polygon points="572.0,67.6 574.5,69.4 573.5,72.3 570.5,72.3 569.5,69.4" fill="#fff"/><circle cx="572.0" cy="70.3" r="0.8" fill="#333"/><path d="M576.8,71.5 A2.2,2.2 0 0 1 581.2,71.5" fill="none" stroke="#a8aeb8" stroke-width="0.85"/><path d="M507.8,78.5 A2.2,2.2 0 0 1 512.2,78.5" fill="none" stroke="#a8aeb8" stroke-width="0.85"/><path d="M514.8,78.5 A2.2,2.2 0 0 1 519.2,78.5" fill="none" stroke="#a8aeb8" stroke-width="0.85"/><path d="M521.8,78.5 A2.2,2.2 0 0 1 526.2,78.5" fill="none" stroke="#a8aeb8" stroke-width="0.85"/><polygon points="531.0,74.6 533.5,76.4 532.5,79.3 529.5,79.3 528.5,76.4" fill="#fff"/><circle cx="531.0" cy="77.3" r="0.8" fill="#333"/><rect x="536.2" y="75.2" width="3.6" height="3.6" fill="#858b96"/><path d="M538.0,75.2V78.8M536.2,77.0H539.8" stroke="#3c414a" stroke-width="0.35"/><line x1="542.0" y1="74.0" x2="548.0" y2="80.0" stroke="#fff" stroke-width="0.5"/><ellipse cx="545.0" cy="77.0" rx="2.1" ry="1.05" transform="rotate(38 545.0 77.0)" fill="#fff"/><line x1="548.5" y1="74.0" x2="554.5" y2="80.0" stroke="#fff" stroke-width="0.5"/><ellipse cx="551.5" cy="77.0" rx="2.1" ry="1.05" transform="rotate(38 551.5 77.0)" fill="#fff"/><line x1="555.0" y1="74.0" x2="561.0" y2="80.0" stroke="#fff" stroke-width="0.5"/><ellipse cx="558.0" cy="77.0" rx="2.1" ry="1.05" transform="rotate(38 558.0 77.0)" fill="#fff"/><rect x="563.2" y="75.2" width="3.6" height="3.6" fill="#858b96"/><path d="M565.0,75.2V78.8M563.2,77.0H566.8" stroke="#3c414a" stroke-width="0.35"/><polygon points="572.0,74.6 574.5,76.4 573.5,79.3 570.5,79.3 569.5,76.4" fill="#fff"/><circle cx="572.0" cy="77.3" r="0.8" fill="#333"/><path d="M576.8,78.5 A2.2,2.2 0 0 1 581.2,78.5" fill="none" stroke="#a8aeb8" stroke-width="0.85"/><path d="M583.8,78.5 A2.2,2.2 0 0 1 588.2,78.5" fill="none" stroke="#a8aeb8" stroke-width="0.85"/><path d="M507.8,85.0 A2.2,2.2 0 0 1 512.2,85.0" fill="none" stroke="#a8aeb8" stroke-width="0.85"/><rect x="516.2" y="82.7" width="1.6" height="1.6" fill="#000"/><path d="M524.0,85.9 L521.2,83.2 Q521.2,81.4 522.6,81.4 Q524.0,81.4 524.0,82.5 Q524.0,81.4 525.4,81.4 Q526.8,81.4 526.8,83.2 Z" fill="#000"/><path d="M531.0,85.9 L528.2,83.2 Q528.2,81.4 529.6,81.4 Q531.0,81.4 531.0,82.5 Q531.0,81.4 532.4,81.4 Q533.8,81.4 533.8,83.2 Z" fill="#000"/><path d="M536.3,81.6 L537.4,82.2 L537.8,83.6 L538.5,84.9 L539.7,85.3" fill="none" stroke="#5a3410" stroke-width="0.9"/><path d="M543.3,81.6 L544.4,82.2 L544.8,83.6 L545.5,84.9 L546.7,85.3" fill="none" stroke="#5a3410" stroke-width="0.9"/><rect x="549.3" y="81.3" width="4.4" height="4.4" fill="#c0904c" stroke="#5a3c18" stroke-width="0.7"/><path d="M556.3,81.6 L557.4,82.2 L557.8,83.6 L558.5,84.9 L559.7,85.3" fill="none" stroke="#5a3410" stroke-width="0.9"/><path d="M563.3,81.6 L564.4,82.2 L564.8,83.6 L565.5,84.9 L566.7,85.3" fill="none" stroke="#5a3410" stroke-width="0.9"/><path d="M572.0,85.9 L569.2,83.2 Q569.2,81.4 570.6,81.4 Q572.0,81.4 572.0,82.5 Q572.0,81.4 573.4,81.4 Q574.8,81.4 574.8,83.2 Z" fill="#000"/><rect x="578.2" y="82.7" width="1.6" height="1.6" fill="#000"/><path d="M583.8,85.0 A2.2,2.2 0 0 1 588.2,85.0" fill="none" stroke="#a8aeb8" stroke-width="0.85"/><rect x="509.2" y="89.2" width="1.6" height="1.6" fill="#000"/><rect x="516.2" y="89.2" width="1.6" height="1.6" fill="#000"/><path d="M524.0,92.4 L521.2,89.7 Q521.2,87.9 522.6,87.9 Q524.0,87.9 524.0,89.0 Q524.0,87.9 525.4,87.9 Q526.8,87.9 526.8,89.7 Z" fill="#000"/><path d="M529.3,88.1 L530.4,88.7 L530.8,90.1 L531.5,91.4 L532.7,91.8" fill="none" stroke="#5a3410" stroke-width="0.9"/><path d="M536.3,88.1 L537.4,88.7 L537.8,90.1 L538.5,91.4 L539.7,91.8" fill="none" stroke="#5a3410" stroke-width="0.9"/><rect x="542.8" y="87.8" width="4.4" height="4.4" fill="#c0904c" stroke="#5a3c18" stroke-width="0.7"/><rect x="549.3" y="87.8" width="4.4" height="4.4" fill="#c0904c" stroke="#5a3c18" stroke-width="0.7"/><rect x="555.8" y="87.8" width="4.4" height="4.4" fill="#c0904c" stroke="#5a3c18" stroke-width="0.7"/><path d="M563.3,88.1 L564.4,88.7 L564.8,90.1 L565.5,91.4 L566.7,91.8" fill="none" stroke="#5a3410" stroke-width="0.9"/><path d="M572.0,92.4 L569.2,89.7 Q569.2,87.9 570.6,87.9 Q572.0,87.9 572.0,89.0 Q572.0,87.9 573.4,87.9 Q574.8,87.9 574.8,89.7 Z" fill="#000"/><path d="M579.0,92.4 L576.2,89.7 Q576.2,87.9 577.6,87.9 Q579.0,87.9 579.0,89.0 Q579.0,87.9 580.4,87.9 Q581.8,87.9 581.8,89.7 Z" fill="#000"/><rect x="585.2" y="89.2" width="1.6" height="1.6" fill="#000"/><path d="M462.0,94.7L464.3,97.0L462.0,99.3L459.7,97.0Z" fill="#fff"/><path d="M468.5,94.7L470.8,97.0L468.5,99.3L466.2,97.0Z" fill="#fff"/><rect x="501.0" y="95.0" width="4.0" height="4.0" fill="#fff"/><rect x="509.2" y="96.2" width="1.6" height="1.6" fill="#000"/><path d="M517.0,99.4 L514.2,96.7 Q514.2,94.9 515.6,94.9 Q517.0,94.9 517.0,96.0 Q517.0,94.9 518.4,94.9 Q519.8,94.9 519.8,96.7 Z" fill="#000"/><path d="M524.0,99.4 L521.2,96.7 Q521.2,94.9 522.6,94.9 Q524.0,94.9 524.0,96.0 Q524.0,94.9 525.4,94.9 Q526.8,94.9 526.8,96.7 Z" fill="#000"/><path d="M529.3,95.1 L530.4,95.7 L530.8,97.1 L531.5,98.4 L532.7,98.8" fill="none" stroke="#5a3410" stroke-width="0.9"/><rect x="535.8" y="94.8" width="4.4" height="4.4" fill="#c0904c" stroke="#5a3c18" stroke-width="0.7"/><path d="M543.3,95.1 L544.4,95.7 L544.8,97.1 L545.5,98.4 L546.7,98.8" fill="none" stroke="#5a3410" stroke-width="0.9"/><rect x="549.3" y="94.8" width="4.4" height="4.4" fill="#c0904c" stroke="#5a3c18" stroke-width="0.7"/><rect x="555.8" y="94.8" width="4.4" height="4.4" fill="#c0904c" stroke="#5a3c18" stroke-width="0.7"/><path d="M563.3,95.1 L564.4,95.7 L564.8,97.1 L565.5,98.4 L566.7,98.8" fill="none" stroke="#5a3410" stroke-width="0.9"/><path d="M570.3,95.1 L571.4,95.7 L571.8,97.1 L572.5,98.4 L573.7,98.8" fill="none" stroke="#5a3410" stroke-width="0.9"/><path d="M579.0,99.4 L576.2,96.7 Q576.2,94.9 577.6,94.9 Q579.0,94.9 579.0,96.0 Q579.0,94.9 580.4,94.9 Q581.8,94.9 581.8,96.7 Z" fill="#000"/><rect x="585.2" y="96.2" width="1.6" height="1.6" fill="#000"/><rect x="592.2" y="96.2" width="1.6" height="1.6" fill="#000"/><path d="M462.0,101.7L464.3,104.0L462.0,106.3L459.7,104.0Z" fill="#fff"/><path d="M468.5,101.7L470.8,104.0L468.5,106.3L466.2,104.0Z" fill="#fff"/><rect x="494.0" y="102.0" width="4.0" height="4.0" fill="#fff"/><rect x="502.2" y="103.2" width="1.6" height="1.6" fill="#000"/><rect x="509.2" y="103.2" width="1.6" height="1.6" fill="#000"/><path d="M517.0,106.4 L514.2,103.7 Q514.2,101.9 515.6,101.9 Q517.0,101.9 517.0,103.0 Q517.0,101.9 518.4,101.9 Q519.8,101.9 519.8,103.7 Z" fill="#000"/><path d="M522.3,102.1 L523.4,102.7 L523.8,104.1 L524.5,105.4 L525.7,105.8" fill="none" stroke="#5a3410" stroke-width="0.9"/><path d="M529.3,102.1 L530.4,102.7 L530.8,104.1 L531.5,105.4 L532.7,105.8" fill="none" stroke="#5a3410" stroke-width="0.9"/><rect x="535.8" y="101.8" width="4.4" height="4.4" fill="#c0904c" stroke="#5a3c18" stroke-width="0.7"/><rect x="542.8" y="101.8" width="4.4" height="4.4" fill="#c0904c" stroke="#5a3c18" stroke-width="0.7"/><rect x="549.3" y="101.8" width="4.4" height="4.4" fill="#c0904c" stroke="#5a3c18" stroke-width="0.7"/><rect x="555.8" y="101.8" width="4.4" height="4.4" fill="#c0904c" stroke="#5a3c18" stroke-width="0.7"/><rect x="562.8" y="101.8" width="4.4" height="4.4" fill="#c0904c" stroke="#5a3c18" stroke-width="0.7"/><path d="M570.3,102.1 L571.4,102.7 L571.8,104.1 L572.5,105.4 L573.7,105.8" fill="none" stroke="#5a3410" stroke-width="0.9"/><path d="M579.0,106.4 L576.2,103.7 Q576.2,101.9 577.6,101.9 Q579.0,101.9 579.0,103.0 Q579.0,101.9 580.4,101.9 Q581.8,101.9 581.8,103.7 Z" fill="#000"/><path d="M586.0,106.4 L583.2,103.7 Q583.2,101.9 584.6,101.9 Q586.0,101.9 586.0,103.0 Q586.0,101.9 587.4,101.9 Q588.8,101.9 588.8,103.7 Z" fill="#000"/><rect x="592.2" y="103.2" width="1.6" height="1.6" fill="#000"/><rect x="494.0" y="109.0" width="4.0" height="4.0" fill="#fff"/><rect x="502.2" y="110.2" width="1.6" height="1.6" fill="#000"/><path d="M510.0,113.4 L507.2,110.7 Q507.2,108.9 508.6,108.9 Q510.0,108.9 510.0,110.0 Q510.0,108.9 511.4,108.9 Q512.8,108.9 512.8,110.7 Z" fill="#000"/><path d="M517.0,113.4 L514.2,110.7 Q514.2,108.9 515.6,108.9 Q517.0,108.9 517.0,110.0 Q517.0,108.9 518.4,108.9 Q519.8,108.9 519.8,110.7 Z" fill="#000"/><path d="M522.3,109.1 L523.4,109.7 L523.8,111.1 L524.5,112.4 L525.7,112.8" fill="none" stroke="#5a3410" stroke-width="0.9"/><rect x="528.8" y="108.8" width="4.4" height="4.4" fill="#c0904c" stroke="#5a3c18" stroke-width="0.7"/><path d="M536.3,109.1 L537.4,109.7 L537.8,111.1 L538.5,112.4 L539.7,112.8" fill="none" stroke="#5a3410" stroke-width="0.9"/><rect x="542.8" y="108.8" width="4.4" height="4.4" fill="#c0904c" stroke="#5a3c18" stroke-width="0.7"/><rect x="549.3" y="108.8" width="4.4" height="4.4" fill="#c0904c" stroke="#5a3c18" stroke-width="0.7"/><path d="M556.3,109.1 L557.4,109.7 L557.8,111.1 L558.5,112.4 L559.7,112.8" fill="none" stroke="#5a3410" stroke-width="0.9"/><rect x="562.8" y="108.8" width="4.4" height="4.4" fill="#c0904c" stroke="#5a3c18" stroke-width="0.7"/><path d="M570.3,109.1 L571.4,109.7 L571.8,111.1 L572.5,112.4 L573.7,112.8" fill="none" stroke="#5a3410" stroke-width="0.9"/><path d="M579.0,113.4 L576.2,110.7 Q576.2,108.9 577.6,108.9 Q579.0,108.9 579.0,110.0 Q579.0,108.9 580.4,108.9 Q581.8,108.9 581.8,110.7 Z" fill="#000"/><path d="M586.0,113.4 L583.2,110.7 Q583.2,108.9 584.6,108.9 Q586.0,108.9 586.0,110.0 Q586.0,108.9 587.4,108.9 Q588.8,108.9 588.8,110.7 Z" fill="#000"/><rect x="592.2" y="110.2" width="1.6" height="1.6" fill="#000"/><rect x="599.2" y="110.2" width="1.6" height="1.6" fill="#000"/><rect x="487.0" y="116.0" width="4.0" height="4.0" fill="#fff"/><rect x="494.0" y="116.0" width="4.0" height="4.0" fill="#fff"/><rect x="502.2" y="117.2" width="1.6" height="1.6" fill="#000"/><path d="M510.0,120.4 L507.2,117.7 Q507.2,115.9 508.6,115.9 Q510.0,115.9 510.0,117.0 Q510.0,115.9 511.4,115.9 Q512.8,115.9 512.8,117.7 Z" fill="#000"/><polygon points="517.0,115.6 519.5,117.4 518.5,120.3 515.5,120.3 514.5,117.4" fill="#fff"/><circle cx="517.0" cy="118.3" r="0.8" fill="#333"/><polygon points="524.0,115.6 526.5,117.4 525.5,120.3 522.5,120.3 521.5,117.4" fill="#fff"/><circle cx="524.0" cy="118.3" r="0.8" fill="#333"/><rect x="529.2" y="116.2" width="3.6" height="3.6" fill="#858b96"/><path d="M531.0,116.2V119.8M529.2,118.0H532.8" stroke="#3c414a" stroke-width="0.35"/><rect x="536.2" y="116.2" width="3.6" height="3.6" fill="#858b96"/><path d="M538.0,116.2V119.8M536.2,118.0H539.8" stroke="#3c414a" stroke-width="0.35"/><line x1="542.0" y1="115.0" x2="548.0" y2="121.0" stroke="#fff" stroke-width="0.5"/><ellipse cx="545.0" cy="118.0" rx="2.1" ry="1.05" transform="rotate(38 545.0 118.0)" fill="#fff"/><line x1="548.5" y1="115.0" x2="554.5" y2="121.0" stroke="#fff" stroke-width="0.5"/><ellipse cx="551.5" cy="118.0" rx="2.1" ry="1.05" transform="rotate(38 551.5 118.0)" fill="#fff"/><line x1="555.0" y1="115.0" x2="561.0" y2="121.0" stroke="#fff" stroke-width="0.5"/><ellipse cx="558.0" cy="118.0" rx="2.1" ry="1.05" transform="rotate(38 558.0 118.0)" fill="#fff"/><rect x="563.2" y="116.2" width="3.6" height="3.6" fill="#858b96"/><path d="M565.0,116.2V119.8M563.2,118.0H566.8" stroke="#3c414a" stroke-width="0.35"/><rect x="570.2" y="116.2" width="3.6" height="3.6" fill="#858b96"/><path d="M572.0,116.2V119.8M570.2,118.0H573.8" stroke="#3c414a" stroke-width="0.35"/><polygon points="579.0,115.6 581.5,117.4 580.5,120.3 577.5,120.3 576.5,117.4" fill="#fff"/><circle cx="579.0" cy="118.3" r="0.8" fill="#333"/><path d="M586.0,120.4 L583.2,117.7 Q583.2,115.9 584.6,115.9 Q586.0,115.9 586.0,117.0 Q586.0,115.9 587.4,115.9 Q588.8,115.9 588.8,117.7 Z" fill="#000"/><rect x="592.2" y="117.2" width="1.6" height="1.6" fill="#000"/><rect x="599.2" y="117.2" width="1.6" height="1.6" fill="#000"/><rect x="487.0" y="123.0" width="4.0" height="4.0" fill="#fff"/><path d="M493.8,126.5 A2.2,2.2 0 0 1 498.2,126.5" fill="none" stroke="#a8aeb8" stroke-width="0.85"/><path d="M500.8,126.5 A2.2,2.2 0 0 1 505.2,126.5" fill="none" stroke="#a8aeb8" stroke-width="0.85"/><polygon points="510.0,122.6 512.5,124.4 511.5,127.3 508.5,127.3 507.5,124.4" fill="#fff"/><circle cx="510.0" cy="125.3" r="0.8" fill="#333"/><polygon points="517.0,122.6 519.5,124.4 518.5,127.3 515.5,127.3 514.5,124.4" fill="#fff"/><circle cx="517.0" cy="125.3" r="0.8" fill="#333"/><rect x="522.2" y="123.2" width="3.6" height="3.6" fill="#858b96"/><path d="M524.0,123.2V126.8M522.2,125.0H525.8" stroke="#3c414a" stroke-width="0.35"/><rect x="529.2" y="123.2" width="3.6" height="3.6" fill="#858b96"/><path d="M531.0,123.2V126.8M529.2,125.0H532.8" stroke="#3c414a" stroke-width="0.35"/><line x1="535.0" y1="122.0" x2="541.0" y2="128.0" stroke="#fff" stroke-width="0.5"/><ellipse cx="538.0" cy="125.0" rx="2.1" ry="1.05" transform="rotate(38 538.0 125.0)" fill="#fff"/><line x1="542.0" y1="122.0" x2="548.0" y2="128.0" stroke="#fff" stroke-width="0.5"/><ellipse cx="545.0" cy="125.0" rx="2.1" ry="1.05" transform="rotate(38 545.0 125.0)" fill="#fff"/><line x1="548.5" y1="122.0" x2="554.5" y2="128.0" stroke="#fff" stroke-width="0.5"/><ellipse cx="551.5" cy="125.0" rx="2.1" ry="1.05" transform="rotate(38 551.5 125.0)" fill="#fff"/><rect x="556.2" y="123.2" width="3.6" height="3.6" fill="#858b96"/><path d="M558.0,123.2V126.8M556.2,125.0H559.8" stroke="#3c414a" stroke-width="0.35"/><line x1="562.0" y1="122.0" x2="568.0" y2="128.0" stroke="#fff" stroke-width="0.5"/><ellipse cx="565.0" cy="125.0" rx="2.1" ry="1.05" transform="rotate(38 565.0 125.0)" fill="#fff"/><rect x="570.2" y="123.2" width="3.6" height="3.6" fill="#858b96"/><path d="M572.0,123.2V126.8M570.2,125.0H573.8" stroke="#3c414a" stroke-width="0.35"/><polygon points="579.0,122.6 581.5,124.4 580.5,127.3 577.5,127.3 576.5,124.4" fill="#fff"/><circle cx="579.0" cy="125.3" r="0.8" fill="#333"/><polygon points="586.0,122.6 588.5,124.4 587.5,127.3 584.5,127.3 583.5,124.4" fill="#fff"/><circle cx="586.0" cy="125.3" r="0.8" fill="#333"/><path d="M590.8,126.5 A2.2,2.2 0 0 1 595.2,126.5" fill="none" stroke="#a8aeb8" stroke-width="0.85"/><path d="M597.8,126.5 A2.2,2.2 0 0 1 602.2,126.5" fill="none" stroke="#a8aeb8" stroke-width="0.85"/><path d="M604.8,126.5 A2.2,2.2 0 0 1 609.2,126.5" fill="none" stroke="#a8aeb8" stroke-width="0.85"/><path d="M486.8,133.5 A2.2,2.2 0 0 1 491.2,133.5" fill="none" stroke="#a8aeb8" stroke-width="0.85"/><path d="M493.8,133.5 A2.2,2.2 0 0 1 498.2,133.5" fill="none" stroke="#a8aeb8" stroke-width="0.85"/><polygon points="503.0,129.6 505.5,131.4 504.5,134.3 501.5,134.3 500.5,131.4" fill="#fff"/><circle cx="503.0" cy="132.3" r="0.8" fill="#333"/><polygon points="510.0,129.6 512.5,131.4 511.5,134.3 508.5,134.3 507.5,131.4" fill="#fff"/><circle cx="510.0" cy="132.3" r="0.8" fill="#333"/><polygon points="517.0,129.6 519.5,131.4 518.5,134.3 515.5,134.3 514.5,131.4" fill="#fff"/><circle cx="517.0" cy="132.3" r="0.8" fill="#333"/><rect x="522.2" y="130.2" width="3.6" height="3.6" fill="#858b96"/><path d="M524.0,130.2V133.8M522.2,132.0H525.8" stroke="#3c414a" stroke-width="0.35"/><rect x="529.2" y="130.2" width="3.6" height="3.6" fill="#858b96"/><path d="M531.0,130.2V133.8M529.2,132.0H532.8" stroke="#3c414a" stroke-width="0.35"/><line x1="535.0" y1="129.0" x2="541.0" y2="135.0" stroke="#fff" stroke-width="0.5"/><ellipse cx="538.0" cy="132.0" rx="2.1" ry="1.05" transform="rotate(38 538.0 132.0)" fill="#fff"/><line x1="542.0" y1="129.0" x2="548.0" y2="135.0" stroke="#fff" stroke-width="0.5"/><ellipse cx="545.0" cy="132.0" rx="2.1" ry="1.05" transform="rotate(38 545.0 132.0)" fill="#fff"/><rect x="549.9" y="131.4" width="3.2" height="1.2" fill="#dde0e6"/><line x1="555.0" y1="129.0" x2="561.0" y2="135.0" stroke="#fff" stroke-width="0.5"/><ellipse cx="558.0" cy="132.0" rx="2.1" ry="1.05" transform="rotate(38 558.0 132.0)" fill="#fff"/><rect x="563.2" y="130.2" width="3.6" height="3.6" fill="#858b96"/><path d="M565.0,130.2V133.8M563.2,132.0H566.8" stroke="#3c414a" stroke-width="0.35"/><rect x="570.2" y="130.2" width="3.6" height="3.6" fill="#858b96"/><path d="M572.0,130.2V133.8M570.2,132.0H573.8" stroke="#3c414a" stroke-width="0.35"/><rect x="577.2" y="130.2" width="3.6" height="3.6" fill="#858b96"/><path d="M579.0,130.2V133.8M577.2,132.0H580.8" stroke="#3c414a" stroke-width="0.35"/><polygon points="586.0,129.6 588.5,131.4 587.5,134.3 584.5,134.3 583.5,131.4" fill="#fff"/><circle cx="586.0" cy="132.3" r="0.8" fill="#333"/><polygon points="593.0,129.6 595.5,131.4 594.5,134.3 591.5,134.3 590.5,131.4" fill="#fff"/><circle cx="593.0" cy="132.3" r="0.8" fill="#333"/><path d="M597.8,133.5 A2.2,2.2 0 0 1 602.2,133.5" fill="none" stroke="#a8aeb8" stroke-width="0.85"/><path d="M604.8,133.5 A2.2,2.2 0 0 1 609.2,133.5" fill="none" stroke="#a8aeb8" stroke-width="0.85"/><path d="M486.8,140.5 A2.2,2.2 0 0 1 491.2,140.5" fill="none" stroke="#a8aeb8" stroke-width="0.85"/><polygon points="496.0,136.6 498.5,138.4 497.5,141.3 494.5,141.3 493.5,138.4" fill="#fff"/><circle cx="496.0" cy="139.3" r="0.8" fill="#333"/><polygon points="503.0,136.6 505.5,138.4 504.5,141.3 501.5,141.3 500.5,138.4" fill="#fff"/><circle cx="503.0" cy="139.3" r="0.8" fill="#333"/><polygon points="510.0,136.6 512.5,138.4 511.5,141.3 508.5,141.3 507.5,138.4" fill="#fff"/><circle cx="510.0" cy="139.3" r="0.8" fill="#333"/><rect x="515.2" y="137.2" width="3.6" height="3.6" fill="#858b96"/><path d="M517.0,137.2V140.8M515.2,139.0H518.8" stroke="#3c414a" stroke-width="0.35"/><polygon points="524.0,136.6 526.5,138.4 525.5,141.3 522.5,141.3 521.5,138.4" fill="#fff"/><circle cx="524.0" cy="139.3" r="0.8" fill="#333"/><rect x="529.2" y="137.2" width="3.6" height="3.6" fill="#858b96"/><path d="M531.0,137.2V140.8M529.2,139.0H532.8" stroke="#3c414a" stroke-width="0.35"/><line x1="535.0" y1="136.0" x2="541.0" y2="142.0" stroke="#fff" stroke-width="0.5"/><ellipse cx="538.0" cy="139.0" rx="2.1" ry="1.05" transform="rotate(38 538.0 139.0)" fill="#fff"/><rect x="543.4" y="138.4" width="3.2" height="1.2" fill="#dde0e6"/><rect x="549.9" y="138.4" width="3.2" height="1.2" fill="#dde0e6"/><rect x="556.4" y="138.4" width="3.2" height="1.2" fill="#dde0e6"/><line x1="562.0" y1="136.0" x2="568.0" y2="142.0" stroke="#fff" stroke-width="0.5"/><ellipse cx="565.0" cy="139.0" rx="2.1" ry="1.05" transform="rotate(38 565.0 139.0)" fill="#fff"/><rect x="570.2" y="137.2" width="3.6" height="3.6" fill="#858b96"/><path d="M572.0,137.2V140.8M570.2,139.0H573.8" stroke="#3c414a" stroke-width="0.35"/><polygon points="579.0,136.6 581.5,138.4 580.5,141.3 577.5,141.3 576.5,138.4" fill="#fff"/><circle cx="579.0" cy="139.3" r="0.8" fill="#333"/><rect x="584.2" y="137.2" width="3.6" height="3.6" fill="#858b96"/><path d="M586.0,137.2V140.8M584.2,139.0H587.8" stroke="#3c414a" stroke-width="0.35"/><polygon points="593.0,136.6 595.5,138.4 594.5,141.3 591.5,141.3 590.5,138.4" fill="#fff"/><circle cx="593.0" cy="139.3" r="0.8" fill="#333"/><polygon points="600.0,136.6 602.5,138.4 601.5,141.3 598.5,141.3 597.5,138.4" fill="#fff"/><circle cx="600.0" cy="139.3" r="0.8" fill="#333"/><path d="M604.8,140.5 A2.2,2.2 0 0 1 609.2,140.5" fill="none" stroke="#a8aeb8" stroke-width="0.85"/><path d="M479.8,147.5 A2.2,2.2 0 0 1 484.2,147.5" fill="none" stroke="#a8aeb8" stroke-width="0.85"/><path d="M486.8,147.5 A2.2,2.2 0 0 1 491.2,147.5" fill="none" stroke="#a8aeb8" stroke-width="0.85"/><path d="M493.8,147.5 A2.2,2.2 0 0 1 498.2,147.5" fill="none" stroke="#a8aeb8" stroke-width="0.85"/><polygon points="503.0,143.6 505.5,145.4 504.5,148.3 501.5,148.3 500.5,145.4" fill="#fff"/><circle cx="503.0" cy="146.3" r="0.8" fill="#333"/><polygon points="510.0,143.6 512.5,145.4 511.5,148.3 508.5,148.3 507.5,145.4" fill="#fff"/><circle cx="510.0" cy="146.3" r="0.8" fill="#333"/><polygon points="517.0,143.6 519.5,145.4 518.5,148.3 515.5,148.3 514.5,145.4" fill="#fff"/><circle cx="517.0" cy="146.3" r="0.8" fill="#333"/><rect x="522.2" y="144.2" width="3.6" height="3.6" fill="#858b96"/><path d="M524.0,144.2V147.8M522.2,146.0H525.8" stroke="#3c414a" stroke-width="0.35"/><line x1="528.0" y1="143.0" x2="534.0" y2="149.0" stroke="#fff" stroke-width="0.5"/><ellipse cx="531.0" cy="146.0" rx="2.1" ry="1.05" transform="rotate(38 531.0 146.0)" fill="#fff"/><line x1="535.0" y1="143.0" x2="541.0" y2="149.0" stroke="#fff" stroke-width="0.5"/><ellipse cx="538.0" cy="146.0" rx="2.1" ry="1.05" transform="rotate(38 538.0 146.0)" fill="#fff"/><rect x="543.4" y="145.4" width="3.2" height="1.2" fill="#dde0e6"/><rect x="549.9" y="145.4" width="3.2" height="1.2" fill="#dde0e6"/><rect x="556.4" y="145.4" width="3.2" height="1.2" fill="#dde0e6"/><line x1="562.0" y1="143.0" x2="568.0" y2="149.0" stroke="#fff" stroke-width="0.5"/><ellipse cx="565.0" cy="146.0" rx="2.1" ry="1.05" transform="rotate(38 565.0 146.0)" fill="#fff"/><rect x="570.2" y="144.2" width="3.6" height="3.6" fill="#858b96"/><path d="M572.0,144.2V147.8M570.2,146.0H573.8" stroke="#3c414a" stroke-width="0.35"/><rect x="577.2" y="144.2" width="3.6" height="3.6" fill="#858b96"/><path d="M579.0,144.2V147.8M577.2,146.0H580.8" stroke="#3c414a" stroke-width="0.35"/><polygon points="586.0,143.6 588.5,145.4 587.5,148.3 584.5,148.3 583.5,145.4" fill="#fff"/><circle cx="586.0" cy="146.3" r="0.8" fill="#333"/><polygon points="593.0,143.6 595.5,145.4 594.5,148.3 591.5,148.3 590.5,145.4" fill="#fff"/><circle cx="593.0" cy="146.3" r="0.8" fill="#333"/><polygon points="600.0,143.6 602.5,145.4 601.5,148.3 598.5,148.3 597.5,145.4" fill="#fff"/><circle cx="600.0" cy="146.3" r="0.8" fill="#333"/><path d="M604.8,147.5 A2.2,2.2 0 0 1 609.2,147.5" fill="none" stroke="#a8aeb8" stroke-width="0.85"/><path d="M611.8,147.5 A2.2,2.2 0 0 1 616.2,147.5" fill="none" stroke="#a8aeb8" stroke-width="0.85"/><path d="M479.8,154.5 A2.2,2.2 0 0 1 484.2,154.5" fill="none" stroke="#a8aeb8" stroke-width="0.85"/><path d="M486.8,154.5 A2.2,2.2 0 0 1 491.2,154.5" fill="none" stroke="#a8aeb8" stroke-width="0.85"/><path d="M493.8,154.5 A2.2,2.2 0 0 1 498.2,154.5" fill="none" stroke="#a8aeb8" stroke-width="0.85"/><path d="M500.8,154.5 A2.2,2.2 0 0 1 505.2,154.5" fill="none" stroke="#a8aeb8" stroke-width="0.85"/><path d="M510.0,155.4 L507.2,152.7 Q507.2,150.9 508.6,150.9 Q510.0,150.9 510.0,152.0 Q510.0,150.9 511.4,150.9 Q512.8,150.9 512.8,152.7 Z" fill="#000"/><path d="M515.3,151.1 L516.4,151.7 L516.8,153.1 L517.5,154.4 L518.7,154.8" fill="none" stroke="#5a3410" stroke-width="0.9"/><path d="M522.3,151.1 L523.4,151.7 L523.8,153.1 L524.5,154.4 L525.7,154.8" fill="none" stroke="#5a3410" stroke-width="0.9"/><path d="M529.3,151.1 L530.4,151.7 L530.8,153.1 L531.5,154.4 L532.7,154.8" fill="none" stroke="#5a3410" stroke-width="0.9"/><rect x="535.8" y="150.8" width="4.4" height="4.4" fill="#c0904c" stroke="#5a3c18" stroke-width="0.7"/><rect x="542.8" y="150.8" width="4.4" height="4.4" fill="#c0904c" stroke="#5a3c18" stroke-width="0.7"/><rect x="549.3" y="150.8" width="4.4" height="4.4" fill="#c0904c" stroke="#5a3c18" stroke-width="0.7"/><path d="M556.3,151.1 L557.4,151.7 L557.8,153.1 L558.5,154.4 L559.7,154.8" fill="none" stroke="#5a3410" stroke-width="0.9"/><path d="M563.3,151.1 L564.4,151.7 L564.8,153.1 L565.5,154.4 L566.7,154.8" fill="none" stroke="#5a3410" stroke-width="0.9"/><path d="M572.0,155.4 L569.2,152.7 Q569.2,150.9 570.6,150.9 Q572.0,150.9 572.0,152.0 Q572.0,150.9 573.4,150.9 Q574.8,150.9 574.8,152.7 Z" fill="#000"/><path d="M579.0,155.4 L576.2,152.7 Q576.2,150.9 577.6,150.9 Q579.0,150.9 579.0,152.0 Q579.0,150.9 580.4,150.9 Q581.8,150.9 581.8,152.7 Z" fill="#000"/><rect x="585.2" y="152.2" width="1.6" height="1.6" fill="#000"/><polygon points="593.0,150.6 595.5,152.4 594.5,155.3 591.5,155.3 590.5,152.4" fill="#fff"/><circle cx="593.0" cy="153.3" r="0.8" fill="#333"/><path d="M597.8,154.5 A2.2,2.2 0 0 1 602.2,154.5" fill="none" stroke="#a8aeb8" stroke-width="0.85"/><path d="M604.8,154.5 A2.2,2.2 0 0 1 609.2,154.5" fill="none" stroke="#a8aeb8" stroke-width="0.85"/><path d="M611.8,154.5 A2.2,2.2 0 0 1 616.2,154.5" fill="none" stroke="#a8aeb8" stroke-width="0.85"/><path d="M479.8,161.0 A2.2,2.2 0 0 1 484.2,161.0" fill="none" stroke="#a8aeb8" stroke-width="0.85"/><rect x="487.0" y="157.5" width="4.0" height="4.0" fill="#fff"/><rect x="495.2" y="158.7" width="1.6" height="1.6" fill="#000"/><path d="M503.0,161.9 L500.2,159.2 Q500.2,157.4 501.6,157.4 Q503.0,157.4 503.0,158.5 Q503.0,157.4 504.4,157.4 Q505.8,157.4 505.8,159.2 Z" fill="#000"/><path d="M510.0,161.9 L507.2,159.2 Q507.2,157.4 508.6,157.4 Q510.0,157.4 510.0,158.5 Q510.0,157.4 511.4,157.4 Q512.8,157.4 512.8,159.2 Z" fill="#000"/><path d="M515.3,157.6 L516.4,158.2 L516.8,159.6 L517.5,160.9 L518.7,161.3" fill="none" stroke="#5a3410" stroke-width="0.9"/><path d="M522.3,157.6 L523.4,158.2 L523.8,159.6 L524.5,160.9 L525.7,161.3" fill="none" stroke="#5a3410" stroke-width="0.9"/><rect x="528.8" y="157.3" width="4.4" height="4.4" fill="#c0904c" stroke="#5a3c18" stroke-width="0.7"/><rect x="535.8" y="157.3" width="4.4" height="4.4" fill="#c0904c" stroke="#5a3c18" stroke-width="0.7"/><rect x="542.8" y="157.3" width="4.4" height="4.4" fill="#c0904c" stroke="#5a3c18" stroke-width="0.7"/><rect x="549.3" y="157.3" width="4.4" height="4.4" fill="#c0904c" stroke="#5a3c18" stroke-width="0.7"/><rect x="555.8" y="157.3" width="4.4" height="4.4" fill="#c0904c" stroke="#5a3c18" stroke-width="0.7"/><path d="M563.3,157.6 L564.4,158.2 L564.8,159.6 L565.5,160.9 L566.7,161.3" fill="none" stroke="#5a3410" stroke-width="0.9"/><path d="M570.3,157.6 L571.4,158.2 L571.8,159.6 L572.5,160.9 L573.7,161.3" fill="none" stroke="#5a3410" stroke-width="0.9"/><path d="M579.0,161.9 L576.2,159.2 Q576.2,157.4 577.6,157.4 Q579.0,157.4 579.0,158.5 Q579.0,157.4 580.4,157.4 Q581.8,157.4 581.8,159.2 Z" fill="#000"/><path d="M586.0,161.9 L583.2,159.2 Q583.2,157.4 584.6,157.4 Q586.0,157.4 586.0,158.5 Q586.0,157.4 587.4,157.4 Q588.8,157.4 588.8,159.2 Z" fill="#000"/><rect x="592.2" y="158.7" width="1.6" height="1.6" fill="#000"/><rect x="599.2" y="158.7" width="1.6" height="1.6" fill="#000"/><rect x="605.0" y="157.5" width="4.0" height="4.0" fill="#fff"/><path d="M611.8,161.0 A2.2,2.2 0 0 1 616.2,161.0" fill="none" stroke="#a8aeb8" stroke-width="0.85"/><rect x="473.0" y="164.0" width="4.0" height="4.0" fill="#fff"/><rect x="480.0" y="164.0" width="4.0" height="4.0" fill="#fff"/><rect x="488.2" y="165.2" width="1.6" height="1.6" fill="#000"/><rect x="495.2" y="165.2" width="1.6" height="1.6" fill="#000"/><path d="M503.0,168.4 L500.2,165.7 Q500.2,163.9 501.6,163.9 Q503.0,163.9 503.0,165.0 Q503.0,163.9 504.4,163.9 Q505.8,163.9 505.8,165.7 Z" fill="#000"/><path d="M510.0,168.4 L507.2,165.7 Q507.2,163.9 508.6,163.9 Q510.0,163.9 510.0,165.0 Q510.0,163.9 511.4,163.9 Q512.8,163.9 512.8,165.7 Z" fill="#000"/><path d="M517.0,168.4 L514.2,165.7 Q514.2,163.9 515.6,163.9 Q517.0,163.9 517.0,165.0 Q517.0,163.9 518.4,163.9 Q519.8,163.9 519.8,165.7 Z" fill="#000"/><path d="M522.3,164.1 L523.4,164.7 L523.8,166.1 L524.5,167.4 L525.7,167.8" fill="none" stroke="#5a3410" stroke-width="0.9"/><rect x="528.8" y="163.8" width="4.4" height="4.4" fill="#c0904c" stroke="#5a3c18" stroke-width="0.7"/><path d="M536.3,164.1 L537.4,164.7 L537.8,166.1 L538.5,167.4 L539.7,167.8" fill="none" stroke="#5a3410" stroke-width="0.9"/><rect x="542.8" y="163.8" width="4.4" height="4.4" fill="#c0904c" stroke="#5a3c18" stroke-width="0.7"/><rect x="549.3" y="163.8" width="4.4" height="4.4" fill="#c0904c" stroke="#5a3c18" stroke-width="0.7"/><rect x="555.8" y="163.8" width="4.4" height="4.4" fill="#c0904c" stroke="#5a3c18" stroke-width="0.7"/><path d="M563.3,164.1 L564.4,164.7 L564.8,166.1 L565.5,167.4 L566.7,167.8" fill="none" stroke="#5a3410" stroke-width="0.9"/><path d="M570.3,164.1 L571.4,164.7 L571.8,166.1 L572.5,167.4 L573.7,167.8" fill="none" stroke="#5a3410" stroke-width="0.9"/><path d="M577.3,164.1 L578.4,164.7 L578.8,166.1 L579.5,167.4 L580.7,167.8" fill="none" stroke="#5a3410" stroke-width="0.9"/><path d="M586.0,168.4 L583.2,165.7 Q583.2,163.9 584.6,163.9 Q586.0,163.9 586.0,165.0 Q586.0,163.9 587.4,163.9 Q588.8,163.9 588.8,165.7 Z" fill="#000"/><path d="M593.0,168.4 L590.2,165.7 Q590.2,163.9 591.6,163.9 Q593.0,163.9 593.0,165.0 Q593.0,163.9 594.4,163.9 Q595.8,163.9 595.8,165.7 Z" fill="#000"/><rect x="599.2" y="165.2" width="1.6" height="1.6" fill="#000"/><rect x="606.2" y="165.2" width="1.6" height="1.6" fill="#000"/><rect x="612.0" y="164.0" width="4.0" height="4.0" fill="#fff"/><rect x="619.0" y="164.0" width="4.0" height="4.0" fill="#fff"/><rect x="473.0" y="171.0" width="4.0" height="4.0" fill="#fff"/><rect x="480.0" y="171.0" width="4.0" height="4.0" fill="#fff"/><rect x="488.2" y="172.2" width="1.6" height="1.6" fill="#000"/><path d="M496.0,175.4 L493.2,172.7 Q493.2,170.9 494.6,170.9 Q496.0,170.9 496.0,172.0 Q496.0,170.9 497.4,170.9 Q498.8,170.9 498.8,172.7 Z" fill="#000"/><rect x="502.2" y="172.2" width="1.6" height="1.6" fill="#000"/><path d="M510.0,175.4 L507.2,172.7 Q507.2,170.9 508.6,170.9 Q510.0,170.9 510.0,172.0 Q510.0,170.9 511.4,170.9 Q512.8,170.9 512.8,172.7 Z" fill="#000"/><path d="M515.3,171.1 L516.4,171.7 L516.8,173.1 L517.5,174.4 L518.7,174.8" fill="none" stroke="#5a3410" stroke-width="0.9"/><rect x="521.8" y="170.8" width="4.4" height="4.4" fill="#c0904c" stroke="#5a3c18" stroke-width="0.7"/><path d="M529.3,171.1 L530.4,171.7 L530.8,173.1 L531.5,174.4 L532.7,174.8" fill="none" stroke="#5a3410" stroke-width="0.9"/><rect x="535.8" y="170.8" width="4.4" height="4.4" fill="#c0904c" stroke="#5a3c18" stroke-width="0.7"/><rect x="542.8" y="170.8" width="4.4" height="4.4" fill="#c0904c" stroke="#5a3c18" stroke-width="0.7"/><rect x="549.3" y="170.8" width="4.4" height="4.4" fill="#c0904c" stroke="#5a3c18" stroke-width="0.7"/><rect x="555.8" y="170.8" width="4.4" height="4.4" fill="#c0904c" stroke="#5a3c18" stroke-width="0.7"/><rect x="562.8" y="170.8" width="4.4" height="4.4" fill="#c0904c" stroke="#5a3c18" stroke-width="0.7"/><path d="M570.3,171.1 L571.4,171.7 L571.8,173.1 L572.5,174.4 L573.7,174.8" fill="none" stroke="#5a3410" stroke-width="0.9"/><path d="M577.3,171.1 L578.4,171.7 L578.8,173.1 L579.5,174.4 L580.7,174.8" fill="none" stroke="#5a3410" stroke-width="0.9"/><path d="M586.0,175.4 L583.2,172.7 Q583.2,170.9 584.6,170.9 Q586.0,170.9 586.0,172.0 Q586.0,170.9 587.4,170.9 Q588.8,170.9 588.8,172.7 Z" fill="#000"/><path d="M593.0,175.4 L590.2,172.7 Q590.2,170.9 591.6,170.9 Q593.0,170.9 593.0,172.0 Q593.0,170.9 594.4,170.9 Q595.8,170.9 595.8,172.7 Z" fill="#000"/><path d="M600.0,175.4 L597.2,172.7 Q597.2,170.9 598.6,170.9 Q600.0,170.9 600.0,172.0 Q600.0,170.9 601.4,170.9 Q602.8,170.9 602.8,172.7 Z" fill="#000"/><rect x="606.2" y="172.2" width="1.6" height="1.6" fill="#000"/><rect x="612.0" y="171.0" width="4.0" height="4.0" fill="#fff"/><rect x="619.0" y="171.0" width="4.0" height="4.0" fill="#fff"/><rect x="473.0" y="178.0" width="4.0" height="4.0" fill="#fff"/><rect x="481.2" y="179.2" width="1.6" height="1.6" fill="#000"/><rect x="487.0" y="178.0" width="4.0" height="4.0" fill="#fff"/><rect x="495.2" y="179.2" width="1.6" height="1.6" fill="#000"/><path d="M503.0,182.4 L500.2,179.7 Q500.2,177.9 501.6,177.9 Q503.0,177.9 503.0,179.0 Q503.0,177.9 504.4,177.9 Q505.8,177.9 505.8,179.7 Z" fill="#000"/><path d="M510.0,182.4 L507.2,179.7 Q507.2,177.9 508.6,177.9 Q510.0,177.9 510.0,179.0 Q510.0,177.9 511.4,177.9 Q512.8,177.9 512.8,179.7 Z" fill="#000"/><path d="M517.0,182.4 L514.2,179.7 Q514.2,177.9 515.6,177.9 Q517.0,177.9 517.0,179.0 Q517.0,177.9 518.4,177.9 Q519.8,177.9 519.8,179.7 Z" fill="#000"/><path d="M522.3,178.1 L523.4,178.7 L523.8,180.1 L524.5,181.4 L525.7,181.8" fill="none" stroke="#5a3410" stroke-width="0.9"/><rect x="528.8" y="177.8" width="4.4" height="4.4" fill="#c0904c" stroke="#5a3c18" stroke-width="0.7"/><rect x="535.8" y="177.8" width="4.4" height="4.4" fill="#c0904c" stroke="#5a3c18" stroke-width="0.7"/><rect x="542.8" y="177.8" width="4.4" height="4.4" fill="#c0904c" stroke="#5a3c18" stroke-width="0.7"/><rect x="549.3" y="177.8" width="4.4" height="4.4" fill="#c0904c" stroke="#5a3c18" stroke-width="0.7"/><rect x="555.8" y="177.8" width="4.4" height="4.4" fill="#c0904c" stroke="#5a3c18" stroke-width="0.7"/><path d="M563.3,178.1 L564.4,178.7 L564.8,180.1 L565.5,181.4 L566.7,181.8" fill="none" stroke="#5a3410" stroke-width="0.9"/><rect x="569.8" y="177.8" width="4.4" height="4.4" fill="#c0904c" stroke="#5a3c18" stroke-width="0.7"/><path d="M577.3,178.1 L578.4,178.7 L578.8,180.1 L579.5,181.4 L580.7,181.8" fill="none" stroke="#5a3410" stroke-width="0.9"/><path d="M586.0,182.4 L583.2,179.7 Q583.2,177.9 584.6,177.9 Q586.0,177.9 586.0,179.0 Q586.0,177.9 587.4,177.9 Q588.8,177.9 588.8,179.7 Z" fill="#000"/><rect x="592.2" y="179.2" width="1.6" height="1.6" fill="#000"/><rect x="599.2" y="179.2" width="1.6" height="1.6" fill="#000"/><rect x="606.2" y="179.2" width="1.6" height="1.6" fill="#000"/><rect x="612.0" y="178.0" width="4.0" height="4.0" fill="#fff"/><rect x="619.0" y="178.0" width="4.0" height="4.0" fill="#fff"/><path d="M467.7,185.3V188.7M469.3,185.3V188.7M466.8,186.2H470.2M466.8,187.8H470.2" stroke="#f6c8b8" stroke-width="0.7"/><rect x="473.0" y="185.0" width="4.0" height="4.0" fill="#fff"/><rect x="480.0" y="185.0" width="4.0" height="4.0" fill="#fff"/><rect x="488.2" y="186.2" width="1.6" height="1.6" fill="#000"/><rect x="495.2" y="186.2" width="1.6" height="1.6" fill="#000"/><rect x="501.2" y="185.2" width="3.6" height="3.6" fill="#858b96"/><path d="M503.0,185.2V188.8M501.2,187.0H504.8" stroke="#3c414a" stroke-width="0.35"/><rect x="508.2" y="185.2" width="3.6" height="3.6" fill="#858b96"/><path d="M510.0,185.2V188.8M508.2,187.0H511.8" stroke="#3c414a" stroke-width="0.35"/><line x1="514.0" y1="184.0" x2="520.0" y2="190.0" stroke="#fff" stroke-width="0.5"/><ellipse cx="517.0" cy="187.0" rx="2.1" ry="1.05" transform="rotate(38 517.0 187.0)" fill="#fff"/><line x1="521.0" y1="184.0" x2="527.0" y2="190.0" stroke="#fff" stroke-width="0.5"/><ellipse cx="524.0" cy="187.0" rx="2.1" ry="1.05" transform="rotate(38 524.0 187.0)" fill="#fff"/><line x1="528.0" y1="184.0" x2="534.0" y2="190.0" stroke="#fff" stroke-width="0.5"/><ellipse cx="531.0" cy="187.0" rx="2.1" ry="1.05" transform="rotate(38 531.0 187.0)" fill="#fff"/><line x1="535.0" y1="184.0" x2="541.0" y2="190.0" stroke="#fff" stroke-width="0.5"/><ellipse cx="538.0" cy="187.0" rx="2.1" ry="1.05" transform="rotate(38 538.0 187.0)" fill="#fff"/><rect x="543.4" y="186.4" width="3.2" height="1.2" fill="#dde0e6"/><rect x="549.9" y="186.4" width="3.2" height="1.2" fill="#dde0e6"/><rect x="556.4" y="186.4" width="3.2" height="1.2" fill="#dde0e6"/><line x1="562.0" y1="184.0" x2="568.0" y2="190.0" stroke="#fff" stroke-width="0.5"/><ellipse cx="565.0" cy="187.0" rx="2.1" ry="1.05" transform="rotate(38 565.0 187.0)" fill="#fff"/><line x1="569.0" y1="184.0" x2="575.0" y2="190.0" stroke="#fff" stroke-width="0.5"/><ellipse cx="572.0" cy="187.0" rx="2.1" ry="1.05" transform="rotate(38 572.0 187.0)" fill="#fff"/><line x1="576.0" y1="184.0" x2="582.0" y2="190.0" stroke="#fff" stroke-width="0.5"/><ellipse cx="579.0" cy="187.0" rx="2.1" ry="1.05" transform="rotate(38 579.0 187.0)" fill="#fff"/><rect x="584.2" y="185.2" width="3.6" height="3.6" fill="#858b96"/><path d="M586.0,185.2V188.8M584.2,187.0H587.8" stroke="#3c414a" stroke-width="0.35"/><polygon points="593.0,184.6 595.5,186.4 594.5,189.3 591.5,189.3 590.5,186.4" fill="#fff"/><circle cx="593.0" cy="187.3" r="0.8" fill="#333"/><rect x="599.2" y="186.2" width="1.6" height="1.6" fill="#000"/><rect x="606.2" y="186.2" width="1.6" height="1.6" fill="#000"/><rect x="612.0" y="185.0" width="4.0" height="4.0" fill="#fff"/><rect x="619.0" y="185.0" width="4.0" height="4.0" fill="#fff"/><path d="M627.2,185.3V188.7M628.8,185.3V188.7M626.3,186.2H629.7M626.3,187.8H629.7" stroke="#f6c8b8" stroke-width="0.7"/><path d="M467.7,192.3V195.7M469.3,192.3V195.7M466.8,193.2H470.2M466.8,194.8H470.2" stroke="#f6c8b8" stroke-width="0.7"/><path d="M474.2,192.3V195.7M475.8,192.3V195.7M473.3,193.2H476.7M473.3,194.8H476.7" stroke="#f6c8b8" stroke-width="0.7"/><polygon points="482.0,191.6 484.5,193.4 483.5,196.3 480.5,196.3 479.5,193.4" fill="#fff"/><circle cx="482.0" cy="194.3" r="0.8" fill="#333"/><polygon points="489.0,191.6 491.5,193.4 490.5,196.3 487.5,196.3 486.5,193.4" fill="#fff"/><circle cx="489.0" cy="194.3" r="0.8" fill="#333"/><rect x="494.2" y="192.2" width="3.6" height="3.6" fill="#858b96"/><path d="M496.0,192.2V195.8M494.2,194.0H497.8" stroke="#3c414a" stroke-width="0.35"/><rect x="501.2" y="192.2" width="3.6" height="3.6" fill="#858b96"/><path d="M503.0,192.2V195.8M501.2,194.0H504.8" stroke="#3c414a" stroke-width="0.35"/><line x1="507.0" y1="191.0" x2="513.0" y2="197.0" stroke="#fff" stroke-width="0.5"/><ellipse cx="510.0" cy="194.0" rx="2.1" ry="1.05" transform="rotate(38 510.0 194.0)" fill="#fff"/><line x1="514.0" y1="191.0" x2="520.0" y2="197.0" stroke="#fff" stroke-width="0.5"/><ellipse cx="517.0" cy="194.0" rx="2.1" ry="1.05" transform="rotate(38 517.0 194.0)" fill="#fff"/><rect x="522.4" y="193.4" width="3.2" height="1.2" fill="#dde0e6"/><line x1="528.0" y1="191.0" x2="534.0" y2="197.0" stroke="#fff" stroke-width="0.5"/><ellipse cx="531.0" cy="194.0" rx="2.1" ry="1.05" transform="rotate(38 531.0 194.0)" fill="#fff"/><rect x="536.4" y="193.4" width="3.2" height="1.2" fill="#dde0e6"/><rect x="543.4" y="193.4" width="3.2" height="1.2" fill="#dde0e6"/><rect x="549.9" y="193.4" width="3.2" height="1.2" fill="#dde0e6"/><rect x="556.4" y="193.4" width="3.2" height="1.2" fill="#dde0e6"/><rect x="563.4" y="193.4" width="3.2" height="1.2" fill="#dde0e6"/><line x1="569.0" y1="191.0" x2="575.0" y2="197.0" stroke="#fff" stroke-width="0.5"/><ellipse cx="572.0" cy="194.0" rx="2.1" ry="1.05" transform="rotate(38 572.0 194.0)" fill="#fff"/><line x1="576.0" y1="191.0" x2="582.0" y2="197.0" stroke="#fff" stroke-width="0.5"/><ellipse cx="579.0" cy="194.0" rx="2.1" ry="1.05" transform="rotate(38 579.0 194.0)" fill="#fff"/><line x1="583.0" y1="191.0" x2="589.0" y2="197.0" stroke="#fff" stroke-width="0.5"/><ellipse cx="586.0" cy="194.0" rx="2.1" ry="1.05" transform="rotate(38 586.0 194.0)" fill="#fff"/><rect x="591.2" y="192.2" width="3.6" height="3.6" fill="#858b96"/><path d="M593.0,192.2V195.8M591.2,194.0H594.8" stroke="#3c414a" stroke-width="0.35"/><rect x="598.2" y="192.2" width="3.6" height="3.6" fill="#858b96"/><path d="M600.0,192.2V195.8M598.2,194.0H601.8" stroke="#3c414a" stroke-width="0.35"/><polygon points="607.0,191.6 609.5,193.4 608.5,196.3 605.5,196.3 604.5,193.4" fill="#fff"/><circle cx="607.0" cy="194.3" r="0.8" fill="#333"/><rect x="612.0" y="192.0" width="4.0" height="4.0" fill="#fff"/><path d="M620.2,192.3V195.7M621.8,192.3V195.7M619.3,193.2H622.7M619.3,194.8H622.7" stroke="#f6c8b8" stroke-width="0.7"/><path d="M627.2,192.3V195.7M628.8,192.3V195.7M626.3,193.2H629.7M626.3,194.8H629.7" stroke="#f6c8b8" stroke-width="0.7"/><path d="M466.3,202.5 A2.2,2.2 0 0 1 470.7,202.5" fill="none" stroke="#a8aeb8" stroke-width="0.85"/><polygon points="475.0,198.6 477.5,200.4 476.5,203.3 473.5,203.3 472.5,200.4" fill="#fff"/><circle cx="475.0" cy="201.3" r="0.8" fill="#333"/><polygon points="482.0,198.6 484.5,200.4 483.5,203.3 480.5,203.3 479.5,200.4" fill="#fff"/><circle cx="482.0" cy="201.3" r="0.8" fill="#333"/><rect x="487.2" y="199.2" width="3.6" height="3.6" fill="#858b96"/><path d="M489.0,199.2V202.8M487.2,201.0H490.8" stroke="#3c414a" stroke-width="0.35"/><rect x="494.2" y="199.2" width="3.6" height="3.6" fill="#858b96"/><path d="M496.0,199.2V202.8M494.2,201.0H497.8" stroke="#3c414a" stroke-width="0.35"/><line x1="500.0" y1="198.0" x2="506.0" y2="204.0" stroke="#fff" stroke-width="0.5"/><ellipse cx="503.0" cy="201.0" rx="2.1" ry="1.05" transform="rotate(38 503.0 201.0)" fill="#fff"/><line x1="507.0" y1="198.0" x2="513.0" y2="204.0" stroke="#fff" stroke-width="0.5"/><ellipse cx="510.0" cy="201.0" rx="2.1" ry="1.05" transform="rotate(38 510.0 201.0)" fill="#fff"/><rect x="515.4" y="200.4" width="3.2" height="1.2" fill="#dde0e6"/><line x1="521.0" y1="198.0" x2="527.0" y2="204.0" stroke="#fff" stroke-width="0.5"/><ellipse cx="524.0" cy="201.0" rx="2.1" ry="1.05" transform="rotate(38 524.0 201.0)" fill="#fff"/><rect x="529.4" y="200.4" width="3.2" height="1.2" fill="#dde0e6"/><rect x="536.4" y="200.4" width="3.2" height="1.2" fill="#dde0e6"/><rect x="543.4" y="200.4" width="3.2" height="1.2" fill="#dde0e6"/><rect x="549.9" y="200.4" width="3.2" height="1.2" fill="#dde0e6"/><rect x="556.4" y="200.4" width="3.2" height="1.2" fill="#dde0e6"/><line x1="562.0" y1="198.0" x2="568.0" y2="204.0" stroke="#fff" stroke-width="0.5"/><ellipse cx="565.0" cy="201.0" rx="2.1" ry="1.05" transform="rotate(38 565.0 201.0)" fill="#fff"/><rect x="570.4" y="200.4" width="3.2" height="1.2" fill="#dde0e6"/><line x1="576.0" y1="198.0" x2="582.0" y2="204.0" stroke="#fff" stroke-width="0.5"/><ellipse cx="579.0" cy="201.0" rx="2.1" ry="1.05" transform="rotate(38 579.0 201.0)" fill="#fff"/><line x1="583.0" y1="198.0" x2="589.0" y2="204.0" stroke="#fff" stroke-width="0.5"/><ellipse cx="586.0" cy="201.0" rx="2.1" ry="1.05" transform="rotate(38 586.0 201.0)" fill="#fff"/><rect x="591.2" y="199.2" width="3.6" height="3.6" fill="#858b96"/><path d="M593.0,199.2V202.8M591.2,201.0H594.8" stroke="#3c414a" stroke-width="0.35"/><rect x="598.2" y="199.2" width="3.6" height="3.6" fill="#858b96"/><path d="M600.0,199.2V202.8M598.2,201.0H601.8" stroke="#3c414a" stroke-width="0.35"/><polygon points="607.0,198.6 609.5,200.4 608.5,203.3 605.5,203.3 604.5,200.4" fill="#fff"/><circle cx="607.0" cy="201.3" r="0.8" fill="#333"/><polygon points="614.0,198.6 616.5,200.4 615.5,203.3 612.5,203.3 611.5,200.4" fill="#fff"/><circle cx="614.0" cy="201.3" r="0.8" fill="#333"/><polygon points="621.0,198.6 623.5,200.4 622.5,203.3 619.5,203.3 618.5,200.4" fill="#fff"/><circle cx="621.0" cy="201.3" r="0.8" fill="#333"/><path d="M625.8,202.5 A2.2,2.2 0 0 1 630.2,202.5" fill="none" stroke="#a8aeb8" stroke-width="0.85"/><path d="M466.3,209.5 A2.2,2.2 0 0 1 470.7,209.5" fill="none" stroke="#a8aeb8" stroke-width="0.85"/><polygon points="475.0,205.6 477.5,207.4 476.5,210.3 473.5,210.3 472.5,207.4" fill="#fff"/><circle cx="475.0" cy="208.3" r="0.8" fill="#333"/><polygon points="482.0,205.6 484.5,207.4 483.5,210.3 480.5,210.3 479.5,207.4" fill="#fff"/><circle cx="482.0" cy="208.3" r="0.8" fill="#333"/><rect x="487.2" y="206.2" width="3.6" height="3.6" fill="#858b96"/><path d="M489.0,206.2V209.8M487.2,208.0H490.8" stroke="#3c414a" stroke-width="0.35"/><rect x="494.2" y="206.2" width="3.6" height="3.6" fill="#858b96"/><path d="M496.0,206.2V209.8M494.2,208.0H497.8" stroke="#3c414a" stroke-width="0.35"/><line x1="500.0" y1="205.0" x2="506.0" y2="211.0" stroke="#fff" stroke-width="0.5"/><ellipse cx="503.0" cy="208.0" rx="2.1" ry="1.05" transform="rotate(38 503.0 208.0)" fill="#fff"/><rect x="508.4" y="207.4" width="3.2" height="1.2" fill="#dde0e6"/><line x1="514.0" y1="205.0" x2="520.0" y2="211.0" stroke="#fff" stroke-width="0.5"/><ellipse cx="517.0" cy="208.0" rx="2.1" ry="1.05" transform="rotate(38 517.0 208.0)" fill="#fff"/><rect x="522.4" y="207.4" width="3.2" height="1.2" fill="#dde0e6"/><line x1="528.0" y1="205.0" x2="534.0" y2="211.0" stroke="#fff" stroke-width="0.5"/><ellipse cx="531.0" cy="208.0" rx="2.1" ry="1.05" transform="rotate(38 531.0 208.0)" fill="#fff"/><rect x="536.4" y="207.4" width="3.2" height="1.2" fill="#dde0e6"/><rect x="543.4" y="207.4" width="3.2" height="1.2" fill="#dde0e6"/><rect x="549.9" y="207.4" width="3.2" height="1.2" fill="#dde0e6"/><rect x="556.4" y="207.4" width="3.2" height="1.2" fill="#dde0e6"/><rect x="563.4" y="207.4" width="3.2" height="1.2" fill="#dde0e6"/><line x1="569.0" y1="205.0" x2="575.0" y2="211.0" stroke="#fff" stroke-width="0.5"/><ellipse cx="572.0" cy="208.0" rx="2.1" ry="1.05" transform="rotate(38 572.0 208.0)" fill="#fff"/><line x1="576.0" y1="205.0" x2="582.0" y2="211.0" stroke="#fff" stroke-width="0.5"/><ellipse cx="579.0" cy="208.0" rx="2.1" ry="1.05" transform="rotate(38 579.0 208.0)" fill="#fff"/><rect x="584.2" y="206.2" width="3.6" height="3.6" fill="#858b96"/><path d="M586.0,206.2V209.8M584.2,208.0H587.8" stroke="#3c414a" stroke-width="0.35"/><line x1="590.0" y1="205.0" x2="596.0" y2="211.0" stroke="#fff" stroke-width="0.5"/><ellipse cx="593.0" cy="208.0" rx="2.1" ry="1.05" transform="rotate(38 593.0 208.0)" fill="#fff"/><rect x="598.2" y="206.2" width="3.6" height="3.6" fill="#858b96"/><path d="M600.0,206.2V209.8M598.2,208.0H601.8" stroke="#3c414a" stroke-width="0.35"/><rect x="605.2" y="206.2" width="3.6" height="3.6" fill="#858b96"/><path d="M607.0,206.2V209.8M605.2,208.0H608.8" stroke="#3c414a" stroke-width="0.35"/><polygon points="614.0,205.6 616.5,207.4 615.5,210.3 612.5,210.3 611.5,207.4" fill="#fff"/><circle cx="614.0" cy="208.3" r="0.8" fill="#333"/><polygon points="621.0,205.6 623.5,207.4 622.5,210.3 619.5,210.3 618.5,207.4" fill="#fff"/><circle cx="621.0" cy="208.3" r="0.8" fill="#333"/><path d="M625.8,209.5 A2.2,2.2 0 0 1 630.2,209.5" fill="none" stroke="#a8aeb8" stroke-width="0.85"/><path d="M459.8,216.5 A2.2,2.2 0 0 1 464.2,216.5" fill="none" stroke="#a8aeb8" stroke-width="0.85"/><path d="M466.3,216.5 A2.2,2.2 0 0 1 470.7,216.5" fill="none" stroke="#a8aeb8" stroke-width="0.85"/><polygon points="475.0,212.6 477.5,214.4 476.5,217.3 473.5,217.3 472.5,214.4" fill="#fff"/><circle cx="475.0" cy="215.3" r="0.8" fill="#333"/><polygon points="482.0,212.6 484.5,214.4 483.5,217.3 480.5,217.3 479.5,214.4" fill="#fff"/><circle cx="482.0" cy="215.3" r="0.8" fill="#333"/><polygon points="489.0,212.6 491.5,214.4 490.5,217.3 487.5,217.3 486.5,214.4" fill="#fff"/><circle cx="489.0" cy="215.3" r="0.8" fill="#333"/><rect x="494.2" y="213.2" width="3.6" height="3.6" fill="#858b96"/><path d="M496.0,213.2V216.8M494.2,215.0H497.8" stroke="#3c414a" stroke-width="0.35"/><rect x="501.2" y="213.2" width="3.6" height="3.6" fill="#858b96"/><path d="M503.0,213.2V216.8M501.2,215.0H504.8" stroke="#3c414a" stroke-width="0.35"/><line x1="507.0" y1="212.0" x2="513.0" y2="218.0" stroke="#fff" stroke-width="0.5"/><ellipse cx="510.0" cy="215.0" rx="2.1" ry="1.05" transform="rotate(38 510.0 215.0)" fill="#fff"/><path d="M515.3,213.1 L516.4,213.7 L516.8,215.1 L517.5,216.4 L518.7,216.8" fill="none" stroke="#5a3410" stroke-width="0.9"/><path d="M522.3,213.1 L523.4,213.7 L523.8,215.1 L524.5,216.4 L525.7,216.8" fill="none" stroke="#5a3410" stroke-width="0.9"/><rect x="528.8" y="212.8" width="4.4" height="4.4" fill="#c0904c" stroke="#5a3c18" stroke-width="0.7"/><rect x="535.8" y="212.8" width="4.4" height="4.4" fill="#c0904c" stroke="#5a3c18" stroke-width="0.7"/><rect x="542.8" y="212.8" width="4.4" height="4.4" fill="#c0904c" stroke="#5a3c18" stroke-width="0.7"/><rect x="549.3" y="212.8" width="4.4" height="4.4" fill="#c0904c" stroke="#5a3c18" stroke-width="0.7"/><rect x="555.8" y="212.8" width="4.4" height="4.4" fill="#c0904c" stroke="#5a3c18" stroke-width="0.7"/><rect x="562.8" y="212.8" width="4.4" height="4.4" fill="#c0904c" stroke="#5a3c18" stroke-width="0.7"/><path d="M570.3,213.1 L571.4,213.7 L571.8,215.1 L572.5,216.4 L573.7,216.8" fill="none" stroke="#5a3410" stroke-width="0.9"/><path d="M577.3,213.1 L578.4,213.7 L578.8,215.1 L579.5,216.4 L580.7,216.8" fill="none" stroke="#5a3410" stroke-width="0.9"/><path d="M584.3,213.1 L585.4,213.7 L585.8,215.1 L586.5,216.4 L587.7,216.8" fill="none" stroke="#5a3410" stroke-width="0.9"/><rect x="591.2" y="213.2" width="3.6" height="3.6" fill="#858b96"/><path d="M593.0,213.2V216.8M591.2,215.0H594.8" stroke="#3c414a" stroke-width="0.35"/><polygon points="600.0,212.6 602.5,214.4 601.5,217.3 598.5,217.3 597.5,214.4" fill="#fff"/><circle cx="600.0" cy="215.3" r="0.8" fill="#333"/><polygon points="607.0,212.6 609.5,214.4 608.5,217.3 605.5,217.3 604.5,214.4" fill="#fff"/><circle cx="607.0" cy="215.3" r="0.8" fill="#333"/><polygon points="614.0,212.6 616.5,214.4 615.5,217.3 612.5,217.3 611.5,214.4" fill="#fff"/><circle cx="614.0" cy="215.3" r="0.8" fill="#333"/><polygon points="621.0,212.6 623.5,214.4 622.5,217.3 619.5,217.3 618.5,214.4" fill="#fff"/><circle cx="621.0" cy="215.3" r="0.8" fill="#333"/><path d="M625.8,216.5 A2.2,2.2 0 0 1 630.2,216.5" fill="none" stroke="#a8aeb8" stroke-width="0.85"/><path d="M632.3,216.5 A2.2,2.2 0 0 1 636.7,216.5" fill="none" stroke="#a8aeb8" stroke-width="0.85"/><path d="M459.8,223.5 A2.2,2.2 0 0 1 464.2,223.5" fill="none" stroke="#a8aeb8" stroke-width="0.85"/><path d="M466.3,223.5 A2.2,2.2 0 0 1 470.7,223.5" fill="none" stroke="#a8aeb8" stroke-width="0.85"/><path d="M472.8,223.5 A2.2,2.2 0 0 1 477.2,223.5" fill="none" stroke="#a8aeb8" stroke-width="0.85"/><polygon points="482.0,219.6 484.5,221.4 483.5,224.3 480.5,224.3 479.5,221.4" fill="#fff"/><circle cx="482.0" cy="222.3" r="0.8" fill="#333"/><polygon points="489.0,219.6 491.5,221.4 490.5,224.3 487.5,224.3 486.5,221.4" fill="#fff"/><circle cx="489.0" cy="222.3" r="0.8" fill="#333"/><path d="M496.0,224.4 L493.2,221.7 Q493.2,219.9 494.6,219.9 Q496.0,219.9 496.0,221.0 Q496.0,219.9 497.4,219.9 Q498.8,219.9 498.8,221.7 Z" fill="#000"/><path d="M501.3,220.1 L502.4,220.7 L502.8,222.1 L503.5,223.4 L504.7,223.8" fill="none" stroke="#5a3410" stroke-width="0.9"/><path d="M508.3,220.1 L509.4,220.7 L509.8,222.1 L510.5,223.4 L511.7,223.8" fill="none" stroke="#5a3410" stroke-width="0.9"/><path d="M515.3,220.1 L516.4,220.7 L516.8,222.1 L517.5,223.4 L518.7,223.8" fill="none" stroke="#5a3410" stroke-width="0.9"/><rect x="521.8" y="219.8" width="4.4" height="4.4" fill="#c0904c" stroke="#5a3c18" stroke-width="0.7"/><rect x="528.8" y="219.8" width="4.4" height="4.4" fill="#c0904c" stroke="#5a3c18" stroke-width="0.7"/><rect x="535.8" y="219.8" width="4.4" height="4.4" fill="#c0904c" stroke="#5a3c18" stroke-width="0.7"/><rect x="542.8" y="219.8" width="4.4" height="4.4" fill="#c0904c" stroke="#5a3c18" stroke-width="0.7"/><rect x="549.3" y="219.8" width="4.4" height="4.4" fill="#c0904c" stroke="#5a3c18" stroke-width="0.7"/><rect x="555.8" y="219.8" width="4.4" height="4.4" fill="#c0904c" stroke="#5a3c18" stroke-width="0.7"/><rect x="562.8" y="219.8" width="4.4" height="4.4" fill="#c0904c" stroke="#5a3c18" stroke-width="0.7"/><rect x="569.8" y="219.8" width="4.4" height="4.4" fill="#c0904c" stroke="#5a3c18" stroke-width="0.7"/><path d="M577.3,220.1 L578.4,220.7 L578.8,222.1 L579.5,223.4 L580.7,223.8" fill="none" stroke="#5a3410" stroke-width="0.9"/><path d="M584.3,220.1 L585.4,220.7 L585.8,222.1 L586.5,223.4 L587.7,223.8" fill="none" stroke="#5a3410" stroke-width="0.9"/><path d="M591.3,220.1 L592.4,220.7 L592.8,222.1 L593.5,223.4 L594.7,223.8" fill="none" stroke="#5a3410" stroke-width="0.9"/><path d="M600.0,224.4 L597.2,221.7 Q597.2,219.9 598.6,219.9 Q600.0,219.9 600.0,221.0 Q600.0,219.9 601.4,219.9 Q602.8,219.9 602.8,221.7 Z" fill="#000"/><path d="M607.0,224.4 L604.2,221.7 Q604.2,219.9 605.6,219.9 Q607.0,219.9 607.0,221.0 Q607.0,219.9 608.4,219.9 Q609.8,219.9 609.8,221.7 Z" fill="#000"/><polygon points="614.0,219.6 616.5,221.4 615.5,224.3 612.5,224.3 611.5,221.4" fill="#fff"/><circle cx="614.0" cy="222.3" r="0.8" fill="#333"/><path d="M618.8,223.5 A2.2,2.2 0 0 1 623.2,223.5" fill="none" stroke="#a8aeb8" stroke-width="0.85"/><path d="M625.8,223.5 A2.2,2.2 0 0 1 630.2,223.5" fill="none" stroke="#a8aeb8" stroke-width="0.85"/><path d="M632.3,223.5 A2.2,2.2 0 0 1 636.7,223.5" fill="none" stroke="#a8aeb8" stroke-width="0.85"/><path d="M459.8,230.5 A2.2,2.2 0 0 1 464.2,230.5" fill="none" stroke="#a8aeb8" stroke-width="0.85"/><path d="M466.3,230.5 A2.2,2.2 0 0 1 470.7,230.5" fill="none" stroke="#a8aeb8" stroke-width="0.85"/><path d="M472.8,230.5 A2.2,2.2 0 0 1 477.2,230.5" fill="none" stroke="#a8aeb8" stroke-width="0.85"/><rect x="481.2" y="228.2" width="1.6" height="1.6" fill="#000"/><path d="M489.0,231.4 L486.2,228.7 Q486.2,226.9 487.6,226.9 Q489.0,226.9 489.0,228.0 Q489.0,226.9 490.4,226.9 Q491.8,226.9 491.8,228.7 Z" fill="#000"/><path d="M496.0,231.4 L493.2,228.7 Q493.2,226.9 494.6,226.9 Q496.0,226.9 496.0,228.0 Q496.0,226.9 497.4,226.9 Q498.8,226.9 498.8,228.7 Z" fill="#000"/><path d="M501.3,227.1 L502.4,227.7 L502.8,229.1 L503.5,230.4 L504.7,230.8" fill="none" stroke="#5a3410" stroke-width="0.9"/><path d="M508.3,227.1 L509.4,227.7 L509.8,229.1 L510.5,230.4 L511.7,230.8" fill="none" stroke="#5a3410" stroke-width="0.9"/><rect x="514.8" y="226.8" width="4.4" height="4.4" fill="#c0904c" stroke="#5a3c18" stroke-width="0.7"/><rect x="521.8" y="226.8" width="4.4" height="4.4" fill="#c0904c" stroke="#5a3c18" stroke-width="0.7"/><rect x="528.8" y="226.8" width="4.4" height="4.4" fill="#c0904c" stroke="#5a3c18" stroke-width="0.7"/><rect x="535.8" y="226.8" width="4.4" height="4.4" fill="#c0904c" stroke="#5a3c18" stroke-width="0.7"/><rect x="542.8" y="226.8" width="4.4" height="4.4" fill="#c0904c" stroke="#5a3c18" stroke-width="0.7"/><rect x="549.3" y="226.8" width="4.4" height="4.4" fill="#c0904c" stroke="#5a3c18" stroke-width="0.7"/><rect x="555.8" y="226.8" width="4.4" height="4.4" fill="#c0904c" stroke="#5a3c18" stroke-width="0.7"/><rect x="562.8" y="226.8" width="4.4" height="4.4" fill="#c0904c" stroke="#5a3c18" stroke-width="0.7"/><rect x="569.8" y="226.8" width="4.4" height="4.4" fill="#c0904c" stroke="#5a3c18" stroke-width="0.7"/><rect x="576.8" y="226.8" width="4.4" height="4.4" fill="#c0904c" stroke="#5a3c18" stroke-width="0.7"/><path d="M584.3,227.1 L585.4,227.7 L585.8,229.1 L586.5,230.4 L587.7,230.8" fill="none" stroke="#5a3410" stroke-width="0.9"/><path d="M591.3,227.1 L592.4,227.7 L592.8,229.1 L593.5,230.4 L594.7,230.8" fill="none" stroke="#5a3410" stroke-width="0.9"/><path d="M600.0,231.4 L597.2,228.7 Q597.2,226.9 598.6,226.9 Q600.0,226.9 600.0,228.0 Q600.0,226.9 601.4,226.9 Q602.8,226.9 602.8,228.7 Z" fill="#000"/><path d="M607.0,231.4 L604.2,228.7 Q604.2,226.9 605.6,226.9 Q607.0,226.9 607.0,228.0 Q607.0,226.9 608.4,226.9 Q609.8,226.9 609.8,228.7 Z" fill="#000"/><path d="M614.0,231.4 L611.2,228.7 Q611.2,226.9 612.6,226.9 Q614.0,226.9 614.0,228.0 Q614.0,226.9 615.4,226.9 Q616.8,226.9 616.8,228.7 Z" fill="#000"/><rect x="620.2" y="228.2" width="1.6" height="1.6" fill="#000"/><path d="M625.8,230.5 A2.2,2.2 0 0 1 630.2,230.5" fill="none" stroke="#a8aeb8" stroke-width="0.85"/><path d="M632.3,230.5 A2.2,2.2 0 0 1 636.7,230.5" fill="none" stroke="#a8aeb8" stroke-width="0.85"/><path d="M459.8,237.0 A2.2,2.2 0 0 1 464.2,237.0" fill="none" stroke="#a8aeb8" stroke-width="0.85"/><rect x="466.5" y="233.5" width="4.0" height="4.0" fill="#fff"/><rect x="474.2" y="234.7" width="1.6" height="1.6" fill="#000"/><rect x="481.2" y="234.7" width="1.6" height="1.6" fill="#000"/><path d="M489.0,237.9 L486.2,235.2 Q486.2,233.4 487.6,233.4 Q489.0,233.4 489.0,234.5 Q489.0,233.4 490.4,233.4 Q491.8,233.4 491.8,235.2 Z" fill="#000"/><path d="M496.0,237.9 L493.2,235.2 Q493.2,233.4 494.6,233.4 Q496.0,233.4 496.0,234.5 Q496.0,233.4 497.4,233.4 Q498.8,233.4 498.8,235.2 Z" fill="#000"/><path d="M503.0,237.9 L500.2,235.2 Q500.2,233.4 501.6,233.4 Q503.0,233.4 503.0,234.5 Q503.0,233.4 504.4,233.4 Q505.8,233.4 505.8,235.2 Z" fill="#000"/><path d="M508.3,233.6 L509.4,234.2 L509.8,235.6 L510.5,236.9 L511.7,237.3" fill="none" stroke="#5a3410" stroke-width="0.9"/><path d="M515.3,233.6 L516.4,234.2 L516.8,235.6 L517.5,236.9 L518.7,237.3" fill="none" stroke="#5a3410" stroke-width="0.9"/><rect x="521.8" y="233.3" width="4.4" height="4.4" fill="#c0904c" stroke="#5a3c18" stroke-width="0.7"/><rect x="528.8" y="233.3" width="4.4" height="4.4" fill="#c0904c" stroke="#5a3c18" stroke-width="0.7"/><rect x="535.8" y="233.3" width="4.4" height="4.4" fill="#c0904c" stroke="#5a3c18" stroke-width="0.7"/><rect x="542.8" y="233.3" width="4.4" height="4.4" fill="#c0904c" stroke="#5a3c18" stroke-width="0.7"/><rect x="549.3" y="233.3" width="4.4" height="4.4" fill="#c0904c" stroke="#5a3c18" stroke-width="0.7"/><rect x="555.8" y="233.3" width="4.4" height="4.4" fill="#c0904c" stroke="#5a3c18" stroke-width="0.7"/><rect x="562.8" y="233.3" width="4.4" height="4.4" fill="#c0904c" stroke="#5a3c18" stroke-width="0.7"/><rect x="569.8" y="233.3" width="4.4" height="4.4" fill="#c0904c" stroke="#5a3c18" stroke-width="0.7"/><path d="M577.3,233.6 L578.4,234.2 L578.8,235.6 L579.5,236.9 L580.7,237.3" fill="none" stroke="#5a3410" stroke-width="0.9"/><rect x="583.8" y="233.3" width="4.4" height="4.4" fill="#c0904c" stroke="#5a3c18" stroke-width="0.7"/><path d="M591.3,233.6 L592.4,234.2 L592.8,235.6 L593.5,236.9 L594.7,237.3" fill="none" stroke="#5a3410" stroke-width="0.9"/><path d="M600.0,237.9 L597.2,235.2 Q597.2,233.4 598.6,233.4 Q600.0,233.4 600.0,234.5 Q600.0,233.4 601.4,233.4 Q602.8,233.4 602.8,235.2 Z" fill="#000"/><path d="M607.0,237.9 L604.2,235.2 Q604.2,233.4 605.6,233.4 Q607.0,233.4 607.0,234.5 Q607.0,233.4 608.4,233.4 Q609.8,233.4 609.8,235.2 Z" fill="#000"/><path d="M614.0,237.9 L611.2,235.2 Q611.2,233.4 612.6,233.4 Q614.0,233.4 614.0,234.5 Q614.0,233.4 615.4,233.4 Q616.8,233.4 616.8,235.2 Z" fill="#000"/><rect x="620.2" y="234.7" width="1.6" height="1.6" fill="#000"/><rect x="626.0" y="233.5" width="4.0" height="4.0" fill="#fff"/><rect x="632.5" y="233.5" width="4.0" height="4.0" fill="#fff"/><polyline points="465.5,38.5 471.5,24.5 471.5,17.5 478.5,10.5 492.5,4.5 520.5,4.5 534.5,10.5 541.5,17.5 548.5,17.5 561.5,31.5 568.5,45.5" fill="none" stroke="#ff1010" stroke-width="1.8" stroke-linejoin="round"/><polyline points="541.5,17.5 534.5,24.5 520.5,31.5 527.5,45.5" fill="none" stroke="#ff1010" stroke-width="1.8" stroke-linejoin="round"/><polyline points="492.5,4.5 499.5,17.5 499.5,24.5" fill="none" stroke="#ff1010" stroke-width="1.8" stroke-linejoin="round"/><polyline points="492.5,24.5 506.5,24.5" fill="none" stroke="#ff1010" stroke-width="1.8" stroke-linejoin="round"/><polyline points="471.5,24.5 478.5,31.5" fill="none" stroke="#ff1010" stroke-width="1.8" stroke-linejoin="round"/><polyline points="527.5,52.5 548.5,52.5" fill="none" stroke="#ff1010" stroke-width="1.8" stroke-linejoin="round"/><polyline points="554.5,52.5 561.5,52.5" fill="none" stroke="#ff1010" stroke-width="1.8" stroke-linejoin="round"/><polyline points="520.5,80.5 527.5,80.5" fill="none" stroke="#ff1010" stroke-width="1.8" stroke-linejoin="round"/><polyline points="541.5,80.5 561.5,80.5" fill="none" stroke="#ff1010" stroke-width="1.8" stroke-linejoin="round"/><polyline points="582.5,66.5 589.5,80.5 589.5,93.5" fill="none" stroke="#ff1010" stroke-width="1.8" stroke-linejoin="round"/><polyline points="485.5,121.5 485.5,128.5" fill="none" stroke="#ff1010" stroke-width="1.8" stroke-linejoin="round"/><polyline points="499.5,121.5 520.5,114.5 554.5,114.5" fill="none" stroke="#ff1010" stroke-width="1.8" stroke-linejoin="round"/><polyline points="561.5,114.5 575.5,114.5" fill="none" stroke="#ff1010" stroke-width="1.8" stroke-linejoin="round"/><polyline points="603.5,121.5 610.5,128.5 610.5,135.5 617.5,149.5 617.5,156.5" fill="none" stroke="#ff1010" stroke-width="1.8" stroke-linejoin="round"/><polyline points="471.5,176.5 471.5,169.5 478.5,162.5 492.5,156.5" fill="none" stroke="#ff1010" stroke-width="1.8" stroke-linejoin="round"/><polyline points="513.5,149.5 548.5,149.5" fill="none" stroke="#ff1010" stroke-width="1.8" stroke-linejoin="round"/><polyline points="554.5,149.5 568.5,149.5" fill="none" stroke="#ff1010" stroke-width="1.8" stroke-linejoin="round"/><polyline points="624.5,169.5 624.5,176.5" fill="none" stroke="#ff1010" stroke-width="1.8" stroke-linejoin="round"/><polyline points="465.5,190.5 465.5,204.5 458.5,218.5 458.5,225.5" fill="none" stroke="#ff1010" stroke-width="1.8" stroke-linejoin="round"/><polyline points="465.5,204.5 471.5,197.5" fill="none" stroke="#ff1010" stroke-width="1.8" stroke-linejoin="round"/><polyline points="485.5,190.5 506.5,183.5 513.5,183.5" fill="none" stroke="#ff1010" stroke-width="1.8" stroke-linejoin="round"/><polyline points="527.5,183.5 541.5,183.5" fill="none" stroke="#ff1010" stroke-width="1.8" stroke-linejoin="round"/><polyline points="548.5,183.5 582.5,183.5 603.5,190.5" fill="none" stroke="#ff1010" stroke-width="1.8" stroke-linejoin="round"/><polyline points="485.5,225.5 499.5,218.5" fill="none" stroke="#ff1010" stroke-width="1.8" stroke-linejoin="round"/><polyline points="541.5,211.5 548.5,211.5" fill="none" stroke="#ff1010" stroke-width="1.8" stroke-linejoin="round"/><polyline points="554.5,211.5 561.5,211.5" fill="none" stroke="#ff1010" stroke-width="1.8" stroke-linejoin="round"/><polyline points="568.5,211.5 582.5,211.5 603.5,218.5" fill="none" stroke="#ff1010" stroke-width="1.8" stroke-linejoin="round"/><polyline points="478.5,31.5 492.5,24.5" fill="none" stroke="#1a22ff" stroke-width="1.8" stroke-linejoin="round"/><polyline points="506.5,24.5 520.5,31.5" fill="none" stroke="#1a22ff" stroke-width="1.8" stroke-linejoin="round"/><polyline points="527.5,45.5 527.5,52.5 520.5,59.5 513.5,73.5 506.5,80.5 506.5,86.5 499.5,100.5 492.5,107.5 485.5,121.5" fill="none" stroke="#1a22ff" stroke-width="1.8" stroke-linejoin="round"/><polyline points="506.5,86.5 520.5,80.5" fill="none" stroke="#1a22ff" stroke-width="1.8" stroke-linejoin="round"/><polyline points="485.5,128.5 499.5,121.5" fill="none" stroke="#1a22ff" stroke-width="1.8" stroke-linejoin="round"/><polyline points="485.5,128.5 485.5,135.5 478.5,149.5 478.5,162.5" fill="none" stroke="#1a22ff" stroke-width="1.8" stroke-linejoin="round"/><polyline points="492.5,156.5 513.5,149.5" fill="none" stroke="#1a22ff" stroke-width="1.8" stroke-linejoin="round"/><polyline points="471.5,176.5 465.5,190.5" fill="none" stroke="#1a22ff" stroke-width="1.8" stroke-linejoin="round"/><polyline points="458.5,225.5 458.5,238.5 485.5,225.5" fill="none" stroke="#1a22ff" stroke-width="1.8" stroke-linejoin="round"/><polyline points="499.5,218.5 520.5,211.5 534.5,211.5" fill="none" stroke="#1a22ff" stroke-width="1.8" stroke-linejoin="round"/><polyline points="471.5,197.5 485.5,190.5" fill="none" stroke="#1a22ff" stroke-width="1.8" stroke-linejoin="round"/><polyline points="478.5,31.5 471.5,45.5 471.5,59.5 465.5,73.5 465.5,93.5" fill="none" stroke="#1a22ff" stroke-width="1.8" stroke-linejoin="round"/><polyline points="465.5,38.5 465.5,93.5" fill="none" stroke="#1a22ff" stroke-width="1.8" stroke-linejoin="round"/><polyline points="458.5,93.5 471.5,93.5 471.5,107.5 458.5,107.5 458.5,93.5" fill="none" stroke="#1a22ff" stroke-width="1.8" stroke-linejoin="round"/><polyline points="458.5,93.5 451.5,86.5 451.5,80.5" fill="none" stroke="#1a22ff" stroke-width="1.8" stroke-linejoin="round"/><polyline points="471.5,93.5 478.5,86.5 478.5,80.5" fill="none" stroke="#1a22ff" stroke-width="1.8" stroke-linejoin="round"/><polyline points="458.5,100.5 451.5,100.5 444.5,93.5" fill="none" stroke="#1a22ff" stroke-width="1.8" stroke-linejoin="round"/><polyline points="471.5,100.5 478.5,100.5 485.5,93.5" fill="none" stroke="#1a22ff" stroke-width="1.8" stroke-linejoin="round"/><polyline points="458.5,107.5 451.5,114.5 444.5,107.5" fill="none" stroke="#1a22ff" stroke-width="1.8" stroke-linejoin="round"/><polyline points="471.5,107.5 478.5,114.5 485.5,107.5" fill="none" stroke="#1a22ff" stroke-width="1.8" stroke-linejoin="round"/><polyline points="561.5,52.5 568.5,52.5 582.5,66.5" fill="none" stroke="#1a22ff" stroke-width="1.8" stroke-linejoin="round"/><polyline points="568.5,45.5 568.5,52.5" fill="none" stroke="#1a22ff" stroke-width="1.8" stroke-linejoin="round"/><polyline points="575.5,80.5 589.5,86.5" fill="none" stroke="#1a22ff" stroke-width="1.8" stroke-linejoin="round"/><polyline points="589.5,93.5 596.5,100.5 603.5,114.5 603.5,121.5" fill="none" stroke="#1a22ff" stroke-width="1.8" stroke-linejoin="round"/><polyline points="575.5,114.5 596.5,121.5 603.5,121.5" fill="none" stroke="#1a22ff" stroke-width="1.8" stroke-linejoin="round"/><polyline points="617.5,156.5 617.5,162.5" fill="none" stroke="#1a22ff" stroke-width="1.8" stroke-linejoin="round"/><polyline points="582.5,149.5 617.5,162.5" fill="none" stroke="#1a22ff" stroke-width="1.8" stroke-linejoin="round"/><polyline points="617.5,162.5 624.5,169.5" fill="none" stroke="#1a22ff" stroke-width="1.8" stroke-linejoin="round"/><polyline points="624.5,176.5 631.5,190.5 631.5,204.5 637.5,218.5 637.5,238.5" fill="none" stroke="#1a22ff" stroke-width="1.8" stroke-linejoin="round"/><polyline points="603.5,190.5 624.5,197.5 631.5,204.5" fill="none" stroke="#1a22ff" stroke-width="1.8" stroke-linejoin="round"/><polyline points="603.5,218.5 624.5,232.5 637.5,238.5" fill="none" stroke="#1a22ff" stroke-width="1.8" stroke-linejoin="round"/><line x1="525.0" y1="238.5" x2="528.0" y2="238.5" stroke="#ff1010" stroke-width="1.8"/><line x1="534.0" y1="238.5" x2="541.5" y2="238.5" stroke="#ff1010" stroke-width="1.8"/><line x1="547.5" y1="238.5" x2="555.0" y2="238.5" stroke="#1a22ff" stroke-width="1.8"/><line x1="555.0" y1="238.5" x2="561.0" y2="238.5" stroke="#ff1010" stroke-width="1.8"/><line x1="561.0" y1="238.5" x2="565.0" y2="238.5" stroke="#1a22ff" stroke-width="1.8"/><text x="460.6" y="2.4" font-family="Liberation Sans" font-size="4.3" fill="#111" stroke="#111" stroke-width="0.12">20</text><text x="529.6" y="2.4" font-family="Liberation Sans" font-size="4.3" fill="#111" stroke="#111" stroke-width="0.12">10</text><text x="667.6" y="2.4" font-family="Liberation Sans" font-size="4.3" fill="#111" stroke="#111" stroke-width="0.12">10</text><text x="736.6" y="2.4" font-family="Liberation Sans" font-size="4.3" fill="#111" stroke="#111" stroke-width="0.12">20</text><path d="M596.7,-2.4H603.1L599.9,4.5Z" fill="#000"/><text x="408.2" y="37.8" font-family="Liberation Sans" font-size="4.3" fill="#111" stroke="#111" stroke-width="0.12" text-anchor="end">30</text><text x="408.2" y="106.8" font-family="Liberation Sans" font-size="4.3" fill="#111" stroke="#111" stroke-width="0.12" text-anchor="end">20</text><text x="408.2" y="175.8" font-family="Liberation Sans" font-size="4.3" fill="#111" stroke="#111" stroke-width="0.12" text-anchor="end">10</text><path d="M16.5,284.5V518.5M23.5,284.5V518.5M30.5,284.5V518.5M37.5,284.5V518.5M44.5,284.5V518.5M51.5,284.5V518.5M65.5,284.5V518.5M71.5,284.5V518.5M78.5,284.5V518.5M85.5,284.5V518.5M92.5,284.5V518.5M99.5,284.5V518.5M106.5,284.5V518.5M113.5,284.5V518.5M120.5,284.5V518.5M134.5,284.5V518.5M141.5,284.5V518.5M148.5,284.5V518.5M154.5,284.5V518.5M161.5,284.5V518.5M168.5,284.5V518.5M175.5,284.5V518.5M182.5,284.5V518.5M189.5,284.5V518.5M203.5,284.5V518.5M210.5,284.5V518.5M217.5,284.5V518.5M224.5,284.5V518.5M231.5,284.5V518.5M237.5,284.5V518.5M244.5,284.5V518.5M251.5,284.5V518.5M258.5,284.5V518.5M272.5,284.5V518.5M279.5,284.5V518.5M286.5,284.5V518.5M293.5,284.5V518.5M300.5,284.5V518.5M307.5,284.5V518.5M314.5,284.5V518.5M320.5,284.5V518.5M327.5,284.5V518.5M341.5,284.5V518.5M348.5,284.5V518.5M355.5,284.5V518.5M362.5,284.5V518.5M369.5,284.5V518.5M376.5,284.5V518.5M383.5,284.5V518.5M9.5,290.5H390.5M9.5,297.5H390.5M9.5,304.5H390.5M9.5,318.5H390.5M9.5,325.5H390.5M9.5,332.5H390.5M9.5,339.5H390.5M9.5,346.5H390.5M9.5,353.5H390.5M9.5,360.5H390.5M9.5,366.5H390.5M9.5,373.5H390.5M9.5,387.5H390.5M9.5,394.5H390.5M9.5,401.5H390.5M9.5,408.5H390.5M9.5,415.5H390.5M9.5,422.5H390.5M9.5,429.5H390.5M9.5,436.5H390.5M9.5,442.5H390.5M9.5,456.5H390.5M9.5,463.5H390.5M9.5,470.5H390.5M9.5,477.5H390.5M9.5,484.5H390.5M9.5,491.5H390.5M9.5,498.5H390.5M9.5,505.5H390.5M9.5,512.5H390.5" stroke="rgba(0,0,0,0.55)" stroke-width="1" fill="none"/><path d="M58.5,284.5V518.5M127.5,284.5V518.5M196.5,284.5V518.5M265.5,284.5V518.5M334.5,284.5V518.5M9.5,311.5H390.5M9.5,380.5H390.5M9.5,449.5H390.5" stroke="rgba(0,0,0,0.85)" stroke-width="1.6" fill="none"/><rect x="9.5" y="284.5" width="381.0" height="234.0" stroke="rgba(0,0,0,0.85)" stroke-width="1.2" fill="none"/><path d="M89.0,289.9 L86.2,287.2 Q86.2,285.4 87.6,285.4 Q89.0,285.4 89.0,286.5 Q89.0,285.4 90.4,285.4 Q91.8,285.4 91.8,287.2 Z" fill="#000"/><rect x="94.2" y="285.7" width="3.6" height="3.6" fill="#8e8e8e"/><path d="M96.0,285.7V289.3M94.2,287.5H97.8" stroke="#c8c8c8" stroke-width="0.35"/><rect x="101.2" y="285.7" width="3.6" height="3.6" fill="#8e8e8e"/><path d="M103.0,285.7V289.3M101.2,287.5H104.8" stroke="#c8c8c8" stroke-width="0.35"/><rect x="108.2" y="285.7" width="3.6" height="3.6" fill="#8e8e8e"/><path d="M110.0,285.7V289.3M108.2,287.5H111.8" stroke="#c8c8c8" stroke-width="0.35"/><rect x="115.2" y="285.7" width="3.6" height="3.6" fill="#8e8e8e"/><path d="M117.0,285.7V289.3M115.2,287.5H118.8" stroke="#c8c8c8" stroke-width="0.35"/><rect x="122.2" y="285.7" width="3.6" height="3.6" fill="#8e8e8e"/><path d="M124.0,285.7V289.3M122.2,287.5H125.8" stroke="#c8c8c8" stroke-width="0.35"/><path d="M75.0,296.4 L72.2,293.7 Q72.2,291.9 73.6,291.9 Q75.0,291.9 75.0,293.0 Q75.0,291.9 76.4,291.9 Q77.8,291.9 77.8,293.7 Z" fill="#000"/><path d="M82.0,296.4 L79.2,293.7 Q79.2,291.9 80.6,291.9 Q82.0,291.9 82.0,293.0 Q82.0,291.9 83.4,291.9 Q84.8,291.9 84.8,293.7 Z" fill="#000"/><path d="M89.0,296.4 L86.2,293.7 Q86.2,291.9 87.6,291.9 Q89.0,291.9 89.0,293.0 Q89.0,291.9 90.4,291.9 Q91.8,291.9 91.8,293.7 Z" fill="#000"/><path d="M96.0,296.4 L93.2,293.7 Q93.2,291.9 94.6,291.9 Q96.0,291.9 96.0,293.0 Q96.0,291.9 97.4,291.9 Q98.8,291.9 98.8,293.7 Z" fill="#000"/><polygon points="103.0,291.6 105.5,293.4 104.5,296.3 101.5,296.3 100.5,293.4" fill="#000"/><circle cx="103.0" cy="294.3" r="0.85" fill="#fff"/><circle cx="103.0" cy="294.3" r="0.35" fill="#555"/><polygon points="110.0,291.6 112.5,293.4 111.5,296.3 108.5,296.3 107.5,293.4" fill="#000"/><circle cx="110.0" cy="294.3" r="0.85" fill="#fff"/><circle cx="110.0" cy="294.3" r="0.35" fill="#555"/><polygon points="117.0,291.6 119.5,293.4 118.5,296.3 115.5,296.3 114.5,293.4" fill="#000"/><circle cx="117.0" cy="294.3" r="0.85" fill="#fff"/><circle cx="117.0" cy="294.3" r="0.35" fill="#555"/><polygon points="124.0,291.6 126.5,293.4 125.5,296.3 122.5,296.3 121.5,293.4" fill="#000"/><circle cx="124.0" cy="294.3" r="0.85" fill="#fff"/><circle cx="124.0" cy="294.3" r="0.35" fill="#555"/><rect x="129.2" y="292.2" width="3.6" height="3.6" fill="#8e8e8e"/><path d="M131.0,292.2V295.8M129.2,294.0H132.8" stroke="#c8c8c8" stroke-width="0.35"/><rect x="136.2" y="292.2" width="3.6" height="3.6" fill="#8e8e8e"/><path d="M138.0,292.2V295.8M136.2,294.0H139.8" stroke="#c8c8c8" stroke-width="0.35"/><path d="M75.0,303.4 L72.2,300.7 Q72.2,298.9 73.6,298.9 Q75.0,298.9 75.0,300.0 Q75.0,298.9 76.4,298.9 Q77.8,298.9 77.8,300.7 Z" fill="#000"/><rect x="81.2" y="300.2" width="1.6" height="1.6" fill="#000"/><rect x="88.2" y="300.2" width="1.6" height="1.6" fill="#000"/><rect x="95.2" y="300.2" width="1.6" height="1.6" fill="#000"/><path d="M100.8,302.5 A2.2,2.2 0 0 1 105.2,302.5" fill="none" stroke="#3a3a3a" stroke-width="0.7"/><path d="M107.8,302.5 A2.2,2.2 0 0 1 112.2,302.5" fill="none" stroke="#3a3a3a" stroke-width="0.7"/><path d="M114.8,302.5 A2.2,2.2 0 0 1 119.2,302.5" fill="none" stroke="#3a3a3a" stroke-width="0.7"/><polygon points="124.0,298.6 126.5,300.4 125.5,303.3 122.5,303.3 121.5,300.4" fill="#000"/><circle cx="124.0" cy="301.3" r="0.85" fill="#fff"/><circle cx="124.0" cy="301.3" r="0.35" fill="#555"/><polygon points="131.0,298.6 133.5,300.4 132.5,303.3 129.5,303.3 128.5,300.4" fill="#000"/><circle cx="131.0" cy="301.3" r="0.85" fill="#fff"/><circle cx="131.0" cy="301.3" r="0.35" fill="#555"/><polygon points="138.0,298.6 140.5,300.4 139.5,303.3 136.5,303.3 135.5,300.4" fill="#000"/><circle cx="138.0" cy="301.3" r="0.85" fill="#fff"/><circle cx="138.0" cy="301.3" r="0.35" fill="#555"/><path d="M145.0,303.4 L142.2,300.7 Q142.2,298.9 143.6,298.9 Q145.0,298.9 145.0,300.0 Q145.0,298.9 146.4,298.9 Q147.8,298.9 147.8,300.7 Z" fill="#000"/><path d="M151.5,303.4 L148.7,300.7 Q148.7,298.9 150.1,298.9 Q151.5,298.9 151.5,300.0 Q151.5,298.9 152.9,298.9 Q154.3,298.9 154.3,300.7 Z" fill="#000"/><path d="M66.3,309.5 A2.2,2.2 0 0 1 70.7,309.5" fill="none" stroke="#3a3a3a" stroke-width="0.7"/><path d="M72.8,309.5 A2.2,2.2 0 0 1 77.2,309.5" fill="none" stroke="#3a3a3a" stroke-width="0.7"/><rect x="81.2" y="307.2" width="1.6" height="1.6" fill="#000"/><path d="M114.8,309.5 A2.2,2.2 0 0 1 119.2,309.5" fill="none" stroke="#3a3a3a" stroke-width="0.7"/><path d="M121.8,309.5 A2.2,2.2 0 0 1 126.2,309.5" fill="none" stroke="#3a3a3a" stroke-width="0.7"/><path d="M129.3,306.1 L130.4,306.7 L130.8,308.1 L131.5,309.4 L132.7,309.8" fill="none" stroke="#505050" stroke-width="0.9"/><rect x="135.8" y="305.8" width="4.4" height="4.4" fill="#c2c2c2" stroke="#4a4a4a" stroke-width="0.75"/><path d="M143.3,306.1 L144.4,306.7 L144.8,308.1 L145.5,309.4 L146.7,309.8" fill="none" stroke="#505050" stroke-width="0.9"/><path d="M151.5,310.4 L148.7,307.7 Q148.7,305.9 150.1,305.9 Q151.5,305.9 151.5,307.0 Q151.5,305.9 152.9,305.9 Q154.3,305.9 154.3,307.7 Z" fill="#000"/><path d="M158.0,310.4 L155.2,307.7 Q155.2,305.9 156.6,305.9 Q158.0,305.9 158.0,307.0 Q158.0,305.9 159.4,305.9 Q160.8,305.9 160.8,307.7 Z" fill="#000"/><path d="M66.3,316.5 A2.2,2.2 0 0 1 70.7,316.5" fill="none" stroke="#3a3a3a" stroke-width="0.7"/><path d="M72.8,316.5 A2.2,2.2 0 0 1 77.2,316.5" fill="none" stroke="#3a3a3a" stroke-width="0.7"/><path d="M124.0,317.4 L121.2,314.7 Q121.2,312.9 122.6,312.9 Q124.0,312.9 124.0,314.0 Q124.0,312.9 125.4,312.9 Q126.8,312.9 126.8,314.7 Z" fill="#000"/><path d="M129.3,313.1 L130.4,313.7 L130.8,315.1 L131.5,316.4 L132.7,316.8" fill="none" stroke="#505050" stroke-width="0.9"/><path d="M136.3,313.1 L137.4,313.7 L137.8,315.1 L138.5,316.4 L139.7,316.8" fill="none" stroke="#505050" stroke-width="0.9"/><rect x="142.8" y="312.8" width="4.4" height="4.4" fill="#c2c2c2" stroke="#4a4a4a" stroke-width="0.75"/><path d="M149.8,313.1 L150.9,313.7 L151.3,315.1 L152.0,316.4 L153.2,316.8" fill="none" stroke="#505050" stroke-width="0.9"/><path d="M158.0,317.4 L155.2,314.7 Q155.2,312.9 156.6,312.9 Q158.0,312.9 158.0,314.0 Q158.0,312.9 159.4,312.9 Q160.8,312.9 160.8,314.7 Z" fill="#000"/><path d="M66.3,323.5 A2.2,2.2 0 0 1 70.7,323.5" fill="none" stroke="#3a3a3a" stroke-width="0.7"/><path d="M131.0,324.4 L128.2,321.7 Q128.2,319.9 129.6,319.9 Q131.0,319.9 131.0,321.0 Q131.0,319.9 132.4,319.9 Q133.8,319.9 133.8,321.7 Z" fill="#000"/><rect x="135.8" y="319.8" width="4.4" height="4.4" fill="#c2c2c2" stroke="#4a4a4a" stroke-width="0.75"/><rect x="142.8" y="319.8" width="4.4" height="4.4" fill="#c2c2c2" stroke="#4a4a4a" stroke-width="0.75"/><rect x="149.3" y="319.8" width="4.4" height="4.4" fill="#c2c2c2" stroke="#4a4a4a" stroke-width="0.75"/><path d="M156.3,320.1 L157.4,320.7 L157.8,322.1 L158.5,323.4 L159.7,323.8" fill="none" stroke="#505050" stroke-width="0.9"/><path d="M165.0,324.4 L162.2,321.7 Q162.2,319.9 163.6,319.9 Q165.0,319.9 165.0,321.0 Q165.0,319.9 166.4,319.9 Q167.8,319.9 167.8,321.7 Z" fill="#000"/><path d="M66.3,330.5 A2.2,2.2 0 0 1 70.7,330.5" fill="none" stroke="#3a3a3a" stroke-width="0.7"/><path d="M131.0,331.4 L128.2,328.7 Q128.2,326.9 129.6,326.9 Q131.0,326.9 131.0,328.0 Q131.0,326.9 132.4,326.9 Q133.8,326.9 133.8,328.7 Z" fill="#000"/><path d="M136.3,327.1 L137.4,327.7 L137.8,329.1 L138.5,330.4 L139.7,330.8" fill="none" stroke="#505050" stroke-width="0.9"/><rect x="142.8" y="326.8" width="4.4" height="4.4" fill="#c2c2c2" stroke="#4a4a4a" stroke-width="0.75"/><rect x="149.3" y="326.8" width="4.4" height="4.4" fill="#c2c2c2" stroke="#4a4a4a" stroke-width="0.75"/><path d="M156.3,327.1 L157.4,327.7 L157.8,329.1 L158.5,330.4 L159.7,330.8" fill="none" stroke="#505050" stroke-width="0.9"/><path d="M165.0,331.4 L162.2,328.7 Q162.2,326.9 163.6,326.9 Q165.0,326.9 165.0,328.0 Q165.0,326.9 166.4,326.9 Q167.8,326.9 167.8,328.7 Z" fill="#000"/><path d="M66.3,337.5 A2.2,2.2 0 0 1 70.7,337.5" fill="none" stroke="#3a3a3a" stroke-width="0.7"/><path d="M121.8,337.5 A2.2,2.2 0 0 1 126.2,337.5" fill="none" stroke="#3a3a3a" stroke-width="0.7"/><path d="M128.8,337.5 A2.2,2.2 0 0 1 133.2,337.5" fill="none" stroke="#3a3a3a" stroke-width="0.7"/><polygon points="138.0,333.6 140.5,335.4 139.5,338.3 136.5,338.3 135.5,335.4" fill="#000"/><circle cx="138.0" cy="336.3" r="0.85" fill="#fff"/><circle cx="138.0" cy="336.3" r="0.35" fill="#555"/><polygon points="145.0,333.6 147.5,335.4 146.5,338.3 143.5,338.3 142.5,335.4" fill="#000"/><circle cx="145.0" cy="336.3" r="0.85" fill="#fff"/><circle cx="145.0" cy="336.3" r="0.35" fill="#555"/><rect x="149.7" y="334.2" width="3.6" height="3.6" fill="#8e8e8e"/><path d="M151.5,334.2V337.8M149.7,336.0H153.3" stroke="#c8c8c8" stroke-width="0.35"/><polygon points="158.0,333.6 160.5,335.4 159.5,338.3 156.5,338.3 155.5,335.4" fill="#000"/><circle cx="158.0" cy="336.3" r="0.85" fill="#fff"/><circle cx="158.0" cy="336.3" r="0.35" fill="#555"/><path d="M162.8,337.5 A2.2,2.2 0 0 1 167.2,337.5" fill="none" stroke="#3a3a3a" stroke-width="0.7"/><path d="M169.8,337.5 A2.2,2.2 0 0 1 174.2,337.5" fill="none" stroke="#3a3a3a" stroke-width="0.7"/><path d="M66.3,344.5 A2.2,2.2 0 0 1 70.7,344.5" fill="none" stroke="#3a3a3a" stroke-width="0.7"/><path d="M121.8,344.5 A2.2,2.2 0 0 1 126.2,344.5" fill="none" stroke="#3a3a3a" stroke-width="0.7"/><path d="M128.8,344.5 A2.2,2.2 0 0 1 133.2,344.5" fill="none" stroke="#3a3a3a" stroke-width="0.7"/><polygon points="138.0,340.6 140.5,342.4 139.5,345.3 136.5,345.3 135.5,342.4" fill="#000"/><circle cx="138.0" cy="343.3" r="0.85" fill="#fff"/><circle cx="138.0" cy="343.3" r="0.35" fill="#555"/><rect x="143.2" y="341.2" width="3.6" height="3.6" fill="#8e8e8e"/><path d="M145.0,341.2V344.8M143.2,343.0H146.8" stroke="#c8c8c8" stroke-width="0.35"/><rect x="149.7" y="341.2" width="3.6" height="3.6" fill="#8e8e8e"/><path d="M151.5,341.2V344.8M149.7,343.0H153.3" stroke="#c8c8c8" stroke-width="0.35"/><polygon points="158.0,340.6 160.5,342.4 159.5,345.3 156.5,345.3 155.5,342.4" fill="#000"/><circle cx="158.0" cy="343.3" r="0.85" fill="#fff"/><circle cx="158.0" cy="343.3" r="0.35" fill="#555"/><polygon points="165.0,340.6 167.5,342.4 166.5,345.3 163.5,345.3 162.5,342.4" fill="#000"/><circle cx="165.0" cy="343.3" r="0.85" fill="#fff"/><circle cx="165.0" cy="343.3" r="0.35" fill="#555"/><path d="M169.8,344.5 A2.2,2.2 0 0 1 174.2,344.5" fill="none" stroke="#3a3a3a" stroke-width="0.7"/><path d="M176.8,344.5 A2.2,2.2 0 0 1 181.2,344.5" fill="none" stroke="#3a3a3a" stroke-width="0.7"/><path d="M114.8,351.5 A2.2,2.2 0 0 1 119.2,351.5" fill="none" stroke="#3a3a3a" stroke-width="0.7"/><path d="M121.8,351.5 A2.2,2.2 0 0 1 126.2,351.5" fill="none" stroke="#3a3a3a" stroke-width="0.7"/><polygon points="131.0,347.6 133.5,349.4 132.5,352.3 129.5,352.3 128.5,349.4" fill="#000"/><circle cx="131.0" cy="350.3" r="0.85" fill="#fff"/><circle cx="131.0" cy="350.3" r="0.35" fill="#555"/><polygon points="138.0,347.6 140.5,349.4 139.5,352.3 136.5,352.3 135.5,349.4" fill="#000"/><circle cx="138.0" cy="350.3" r="0.85" fill="#fff"/><circle cx="138.0" cy="350.3" r="0.35" fill="#555"/><rect x="143.2" y="348.2" width="3.6" height="3.6" fill="#8e8e8e"/><path d="M145.0,348.2V351.8M143.2,350.0H146.8" stroke="#c8c8c8" stroke-width="0.35"/><line x1="148.5" y1="347.0" x2="154.5" y2="353.0" stroke="#777" stroke-width="0.5"/><ellipse cx="151.5" cy="350.0" rx="2.1" ry="1.05" transform="rotate(38 151.5 350.0)" fill="#000"/><rect x="156.2" y="348.2" width="3.6" height="3.6" fill="#8e8e8e"/><path d="M158.0,348.2V351.8M156.2,350.0H159.8" stroke="#c8c8c8" stroke-width="0.35"/><polygon points="165.0,347.6 167.5,349.4 166.5,352.3 163.5,352.3 162.5,349.4" fill="#000"/><circle cx="165.0" cy="350.3" r="0.85" fill="#fff"/><circle cx="165.0" cy="350.3" r="0.35" fill="#555"/><polygon points="172.0,347.6 174.5,349.4 173.5,352.3 170.5,352.3 169.5,349.4" fill="#000"/><circle cx="172.0" cy="350.3" r="0.85" fill="#fff"/><circle cx="172.0" cy="350.3" r="0.35" fill="#555"/><path d="M176.8,351.5 A2.2,2.2 0 0 1 181.2,351.5" fill="none" stroke="#3a3a3a" stroke-width="0.7"/><path d="M107.8,358.5 A2.2,2.2 0 0 1 112.2,358.5" fill="none" stroke="#3a3a3a" stroke-width="0.7"/><path d="M114.8,358.5 A2.2,2.2 0 0 1 119.2,358.5" fill="none" stroke="#3a3a3a" stroke-width="0.7"/><path d="M121.8,358.5 A2.2,2.2 0 0 1 126.2,358.5" fill="none" stroke="#3a3a3a" stroke-width="0.7"/><polygon points="131.0,354.6 133.5,356.4 132.5,359.3 129.5,359.3 128.5,356.4" fill="#000"/><circle cx="131.0" cy="357.3" r="0.85" fill="#fff"/><circle cx="131.0" cy="357.3" r="0.35" fill="#555"/><rect x="136.2" y="355.2" width="3.6" height="3.6" fill="#8e8e8e"/><path d="M138.0,355.2V358.8M136.2,357.0H139.8" stroke="#c8c8c8" stroke-width="0.35"/><line x1="142.0" y1="354.0" x2="148.0" y2="360.0" stroke="#777" stroke-width="0.5"/><ellipse cx="145.0" cy="357.0" rx="2.1" ry="1.05" transform="rotate(38 145.0 357.0)" fill="#000"/><line x1="148.5" y1="354.0" x2="154.5" y2="360.0" stroke="#777" stroke-width="0.5"/><ellipse cx="151.5" cy="357.0" rx="2.1" ry="1.05" transform="rotate(38 151.5 357.0)" fill="#000"/><line x1="155.0" y1="354.0" x2="161.0" y2="360.0" stroke="#777" stroke-width="0.5"/><ellipse cx="158.0" cy="357.0" rx="2.1" ry="1.05" transform="rotate(38 158.0 357.0)" fill="#000"/><rect x="163.2" y="355.2" width="3.6" height="3.6" fill="#8e8e8e"/><path d="M165.0,355.2V358.8M163.2,357.0H166.8" stroke="#c8c8c8" stroke-width="0.35"/><polygon points="172.0,354.6 174.5,356.4 173.5,359.3 170.5,359.3 169.5,356.4" fill="#000"/><circle cx="172.0" cy="357.3" r="0.85" fill="#fff"/><circle cx="172.0" cy="357.3" r="0.35" fill="#555"/><path d="M176.8,358.5 A2.2,2.2 0 0 1 181.2,358.5" fill="none" stroke="#3a3a3a" stroke-width="0.7"/><path d="M183.8,358.5 A2.2,2.2 0 0 1 188.2,358.5" fill="none" stroke="#3a3a3a" stroke-width="0.7"/><path d="M107.8,365.0 A2.2,2.2 0 0 1 112.2,365.0" fill="none" stroke="#3a3a3a" stroke-width="0.7"/><rect x="116.2" y="362.7" width="1.6" height="1.6" fill="#000"/><path d="M124.0,365.9 L121.2,363.2 Q121.2,361.4 122.6,361.4 Q124.0,361.4 124.0,362.5 Q124.0,361.4 125.4,361.4 Q126.8,361.4 126.8,363.2 Z" fill="#000"/><path d="M131.0,365.9 L128.2,363.2 Q128.2,361.4 129.6,361.4 Q131.0,361.4 131.0,362.5 Q131.0,361.4 132.4,361.4 Q133.8,361.4 133.8,363.2 Z" fill="#000"/><path d="M136.3,361.6 L137.4,362.2 L137.8,363.6 L138.5,364.9 L139.7,365.3" fill="none" stroke="#505050" stroke-width="0.9"/><path d="M143.3,361.6 L144.4,362.2 L144.8,363.6 L145.5,364.9 L146.7,365.3" fill="none" stroke="#505050" stroke-width="0.9"/><rect x="149.3" y="361.3" width="4.4" height="4.4" fill="#c2c2c2" stroke="#4a4a4a" stroke-width="0.75"/><path d="M156.3,361.6 L157.4,362.2 L157.8,363.6 L158.5,364.9 L159.7,365.3" fill="none" stroke="#505050" stroke-width="0.9"/><path d="M163.3,361.6 L164.4,362.2 L164.8,363.6 L165.5,364.9 L166.7,365.3" fill="none" stroke="#505050" stroke-width="0.9"/><path d="M172.0,365.9 L169.2,363.2 Q169.2,361.4 170.6,361.4 Q172.0,361.4 172.0,362.5 Q172.0,361.4 173.4,361.4 Q174.8,361.4 174.8,363.2 Z" fill="#000"/><rect x="178.2" y="362.7" width="1.6" height="1.6" fill="#000"/><path d="M183.8,365.0 A2.2,2.2 0 0 1 188.2,365.0" fill="none" stroke="#3a3a3a" stroke-width="0.7"/><rect x="109.2" y="369.2" width="1.6" height="1.6" fill="#000"/><rect x="116.2" y="369.2" width="1.6" height="1.6" fill="#000"/><path d="M124.0,372.4 L121.2,369.7 Q121.2,367.9 122.6,367.9 Q124.0,367.9 124.0,369.0 Q124.0,367.9 125.4,367.9 Q126.8,367.9 126.8,369.7 Z" fill="#000"/><path d="M129.3,368.1 L130.4,368.7 L130.8,370.1 L131.5,371.4 L132.7,371.8" fill="none" stroke="#505050" stroke-width="0.9"/><path d="M136.3,368.1 L137.4,368.7 L137.8,370.1 L138.5,371.4 L139.7,371.8" fill="none" stroke="#505050" stroke-width="0.9"/><rect x="142.8" y="367.8" width="4.4" height="4.4" fill="#c2c2c2" stroke="#4a4a4a" stroke-width="0.75"/><rect x="149.3" y="367.8" width="4.4" height="4.4" fill="#c2c2c2" stroke="#4a4a4a" stroke-width="0.75"/><rect x="155.8" y="367.8" width="4.4" height="4.4" fill="#c2c2c2" stroke="#4a4a4a" stroke-width="0.75"/><path d="M163.3,368.1 L164.4,368.7 L164.8,370.1 L165.5,371.4 L166.7,371.8" fill="none" stroke="#505050" stroke-width="0.9"/><path d="M172.0,372.4 L169.2,369.7 Q169.2,367.9 170.6,367.9 Q172.0,367.9 172.0,369.0 Q172.0,367.9 173.4,367.9 Q174.8,367.9 174.8,369.7 Z" fill="#000"/><path d="M179.0,372.4 L176.2,369.7 Q176.2,367.9 177.6,367.9 Q179.0,367.9 179.0,369.0 Q179.0,367.9 180.4,367.9 Q181.8,367.9 181.8,369.7 Z" fill="#000"/><rect x="185.2" y="369.2" width="1.6" height="1.6" fill="#000"/><path d="M62.0,374.7L64.3,377.0L62.0,379.3L59.7,377.0Z" fill="#000"/><path d="M68.5,374.7L70.8,377.0L68.5,379.3L66.2,377.0Z" fill="#000"/><rect x="101.0" y="375.0" width="4.0" height="4.0" fill="#000"/><rect x="109.2" y="376.2" width="1.6" height="1.6" fill="#000"/><path d="M117.0,379.4 L114.2,376.7 Q114.2,374.9 115.6,374.9 Q117.0,374.9 117.0,376.0 Q117.0,374.9 118.4,374.9 Q119.8,374.9 119.8,376.7 Z" fill="#000"/><path d="M124.0,379.4 L121.2,376.7 Q121.2,374.9 122.6,374.9 Q124.0,374.9 124.0,376.0 Q124.0,374.9 125.4,374.9 Q126.8,374.9 126.8,376.7 Z" fill="#000"/><path d="M129.3,375.1 L130.4,375.7 L130.8,377.1 L131.5,378.4 L132.7,378.8" fill="none" stroke="#505050" stroke-width="0.9"/><rect x="135.8" y="374.8" width="4.4" height="4.4" fill="#c2c2c2" stroke="#4a4a4a" stroke-width="0.75"/><path d="M143.3,375.1 L144.4,375.7 L144.8,377.1 L145.5,378.4 L146.7,378.8" fill="none" stroke="#505050" stroke-width="0.9"/><rect x="149.3" y="374.8" width="4.4" height="4.4" fill="#c2c2c2" stroke="#4a4a4a" stroke-width="0.75"/><rect x="155.8" y="374.8" width="4.4" height="4.4" fill="#c2c2c2" stroke="#4a4a4a" stroke-width="0.75"/><path d="M163.3,375.1 L164.4,375.7 L164.8,377.1 L165.5,378.4 L166.7,378.8" fill="none" stroke="#505050" stroke-width="0.9"/><path d="M170.3,375.1 L171.4,375.7 L171.8,377.1 L172.5,378.4 L173.7,378.8" fill="none" stroke="#505050" stroke-width="0.9"/><path d="M179.0,379.4 L176.2,376.7 Q176.2,374.9 177.6,374.9 Q179.0,374.9 179.0,376.0 Q179.0,374.9 180.4,374.9 Q181.8,374.9 181.8,376.7 Z" fill="#000"/><rect x="185.2" y="376.2" width="1.6" height="1.6" fill="#000"/><rect x="192.2" y="376.2" width="1.6" height="1.6" fill="#000"/><path d="M62.0,381.7L64.3,384.0L62.0,386.3L59.7,384.0Z" fill="#000"/><path d="M68.5,381.7L70.8,384.0L68.5,386.3L66.2,384.0Z" fill="#000"/><rect x="94.0" y="382.0" width="4.0" height="4.0" fill="#000"/><rect x="102.2" y="383.2" width="1.6" height="1.6" fill="#000"/><rect x="109.2" y="383.2" width="1.6" height="1.6" fill="#000"/><path d="M117.0,386.4 L114.2,383.7 Q114.2,381.9 115.6,381.9 Q117.0,381.9 117.0,383.0 Q117.0,381.9 118.4,381.9 Q119.8,381.9 119.8,383.7 Z" fill="#000"/><path d="M122.3,382.1 L123.4,382.7 L123.8,384.1 L124.5,385.4 L125.7,385.8" fill="none" stroke="#505050" stroke-width="0.9"/><path d="M129.3,382.1 L130.4,382.7 L130.8,384.1 L131.5,385.4 L132.7,385.8" fill="none" stroke="#505050" stroke-width="0.9"/><rect x="135.8" y="381.8" width="4.4" height="4.4" fill="#c2c2c2" stroke="#4a4a4a" stroke-width="0.75"/><rect x="142.8" y="381.8" width="4.4" height="4.4" fill="#c2c2c2" stroke="#4a4a4a" stroke-width="0.75"/><rect x="149.3" y="381.8" width="4.4" height="4.4" fill="#c2c2c2" stroke="#4a4a4a" stroke-width="0.75"/><rect x="155.8" y="381.8" width="4.4" height="4.4" fill="#c2c2c2" stroke="#4a4a4a" stroke-width="0.75"/><rect x="162.8" y="381.8" width="4.4" height="4.4" fill="#c2c2c2" stroke="#4a4a4a" stroke-width="0.75"/><path d="M170.3,382.1 L171.4,382.7 L171.8,384.1 L172.5,385.4 L173.7,385.8" fill="none" stroke="#505050" stroke-width="0.9"/><path d="M179.0,386.4 L176.2,383.7 Q176.2,381.9 177.6,381.9 Q179.0,381.9 179.0,383.0 Q179.0,381.9 180.4,381.9 Q181.8,381.9 181.8,383.7 Z" fill="#000"/><path d="M186.0,386.4 L183.2,383.7 Q183.2,381.9 184.6,381.9 Q186.0,381.9 186.0,383.0 Q186.0,381.9 187.4,381.9 Q188.8,381.9 188.8,383.7 Z" fill="#000"/><rect x="192.2" y="383.2" width="1.6" height="1.6" fill="#000"/><rect x="94.0" y="389.0" width="4.0" height="4.0" fill="#000"/><rect x="102.2" y="390.2" width="1.6" height="1.6" fill="#000"/><path d="M110.0,393.4 L107.2,390.7 Q107.2,388.9 108.6,388.9 Q110.0,388.9 110.0,390.0 Q110.0,388.9 111.4,388.9 Q112.8,388.9 112.8,390.7 Z" fill="#000"/><path d="M117.0,393.4 L114.2,390.7 Q114.2,388.9 115.6,388.9 Q117.0,388.9 117.0,390.0 Q117.0,388.9 118.4,388.9 Q119.8,388.9 119.8,390.7 Z" fill="#000"/><path d="M122.3,389.1 L123.4,389.7 L123.8,391.1 L124.5,392.4 L125.7,392.8" fill="none" stroke="#505050" stroke-width="0.9"/><rect x="128.8" y="388.8" width="4.4" height="4.4" fill="#c2c2c2" stroke="#4a4a4a" stroke-width="0.75"/><path d="M136.3,389.1 L137.4,389.7 L137.8,391.1 L138.5,392.4 L139.7,392.8" fill="none" stroke="#505050" stroke-width="0.9"/><rect x="142.8" y="388.8" width="4.4" height="4.4" fill="#c2c2c2" stroke="#4a4a4a" stroke-width="0.75"/><rect x="149.3" y="388.8" width="4.4" height="4.4" fill="#c2c2c2" stroke="#4a4a4a" stroke-width="0.75"/><path d="M156.3,389.1 L157.4,389.7 L157.8,391.1 L158.5,392.4 L159.7,392.8" fill="none" stroke="#505050" stroke-width="0.9"/><rect x="162.8" y="388.8" width="4.4" height="4.4" fill="#c2c2c2" stroke="#4a4a4a" stroke-width="0.75"/><path d="M170.3,389.1 L171.4,389.7 L171.8,391.1 L172.5,392.4 L173.7,392.8" fill="none" stroke="#505050" stroke-width="0.9"/><path d="M179.0,393.4 L176.2,390.7 Q176.2,388.9 177.6,388.9 Q179.0,388.9 179.0,390.0 Q179.0,388.9 180.4,388.9 Q181.8,388.9 181.8,390.7 Z" fill="#000"/><path d="M186.0,393.4 L183.2,390.7 Q183.2,388.9 184.6,388.9 Q186.0,388.9 186.0,390.0 Q186.0,388.9 187.4,388.9 Q188.8,388.9 188.8,390.7 Z" fill="#000"/><rect x="192.2" y="390.2" width="1.6" height="1.6" fill="#000"/><rect x="199.2" y="390.2" width="1.6" height="1.6" fill="#000"/><rect x="87.0" y="396.0" width="4.0" height="4.0" fill="#000"/><rect x="94.0" y="396.0" width="4.0" height="4.0" fill="#000"/><rect x="102.2" y="397.2" width="1.6" height="1.6" fill="#000"/><path d="M110.0,400.4 L107.2,397.7 Q107.2,395.9 108.6,395.9 Q110.0,395.9 110.0,397.0 Q110.0,395.9 111.4,395.9 Q112.8,395.9 112.8,397.7 Z" fill="#000"/><polygon points="117.0,395.6 119.5,397.4 118.5,400.3 115.5,400.3 114.5,397.4" fill="#000"/><circle cx="117.0" cy="398.3" r="0.85" fill="#fff"/><circle cx="117.0" cy="398.3" r="0.35" fill="#555"/><polygon points="124.0,395.6 126.5,397.4 125.5,400.3 122.5,400.3 121.5,397.4" fill="#000"/><circle cx="124.0" cy="398.3" r="0.85" fill="#fff"/><circle cx="124.0" cy="398.3" r="0.35" fill="#555"/><rect x="129.2" y="396.2" width="3.6" height="3.6" fill="#8e8e8e"/><path d="M131.0,396.2V399.8M129.2,398.0H132.8" stroke="#c8c8c8" stroke-width="0.35"/><rect x="136.2" y="396.2" width="3.6" height="3.6" fill="#8e8e8e"/><path d="M138.0,396.2V399.8M136.2,398.0H139.8" stroke="#c8c8c8" stroke-width="0.35"/><line x1="142.0" y1="395.0" x2="148.0" y2="401.0" stroke="#777" stroke-width="0.5"/><ellipse cx="145.0" cy="398.0" rx="2.1" ry="1.05" transform="rotate(38 145.0 398.0)" fill="#000"/><line x1="148.5" y1="395.0" x2="154.5" y2="401.0" stroke="#777" stroke-width="0.5"/><ellipse cx="151.5" cy="398.0" rx="2.1" ry="1.05" transform="rotate(38 151.5 398.0)" fill="#000"/><line x1="155.0" y1="395.0" x2="161.0" y2="401.0" stroke="#777" stroke-width="0.5"/><ellipse cx="158.0" cy="398.0" rx="2.1" ry="1.05" transform="rotate(38 158.0 398.0)" fill="#000"/><rect x="163.2" y="396.2" width="3.6" height="3.6" fill="#8e8e8e"/><path d="M165.0,396.2V399.8M163.2,398.0H166.8" stroke="#c8c8c8" stroke-width="0.35"/><rect x="170.2" y="396.2" width="3.6" height="3.6" fill="#8e8e8e"/><path d="M172.0,396.2V399.8M170.2,398.0H173.8" stroke="#c8c8c8" stroke-width="0.35"/><polygon points="179.0,395.6 181.5,397.4 180.5,400.3 177.5,400.3 176.5,397.4" fill="#000"/><circle cx="179.0" cy="398.3" r="0.85" fill="#fff"/><circle cx="179.0" cy="398.3" r="0.35" fill="#555"/><path d="M186.0,400.4 L183.2,397.7 Q183.2,395.9 184.6,395.9 Q186.0,395.9 186.0,397.0 Q186.0,395.9 187.4,395.9 Q188.8,395.9 188.8,397.7 Z" fill="#000"/><rect x="192.2" y="397.2" width="1.6" height="1.6" fill="#000"/><rect x="199.2" y="397.2" width="1.6" height="1.6" fill="#000"/><rect x="87.0" y="403.0" width="4.0" height="4.0" fill="#000"/><path d="M93.8,406.5 A2.2,2.2 0 0 1 98.2,406.5" fill="none" stroke="#3a3a3a" stroke-width="0.7"/><path d="M100.8,406.5 A2.2,2.2 0 0 1 105.2,406.5" fill="none" stroke="#3a3a3a" stroke-width="0.7"/><polygon points="110.0,402.6 112.5,404.4 111.5,407.3 108.5,407.3 107.5,404.4" fill="#000"/><circle cx="110.0" cy="405.3" r="0.85" fill="#fff"/><circle cx="110.0" cy="405.3" r="0.35" fill="#555"/><polygon points="117.0,402.6 119.5,404.4 118.5,407.3 115.5,407.3 114.5,404.4" fill="#000"/><circle cx="117.0" cy="405.3" r="0.85" fill="#fff"/><circle cx="117.0" cy="405.3" r="0.35" fill="#555"/><rect x="122.2" y="403.2" width="3.6" height="3.6" fill="#8e8e8e"/><path d="M124.0,403.2V406.8M122.2,405.0H125.8" stroke="#c8c8c8" stroke-width="0.35"/><rect x="129.2" y="403.2" width="3.6" height="3.6" fill="#8e8e8e"/><path d="M131.0,403.2V406.8M129.2,405.0H132.8" stroke="#c8c8c8" stroke-width="0.35"/><line x1="135.0" y1="402.0" x2="141.0" y2="408.0" stroke="#777" stroke-width="0.5"/><ellipse cx="138.0" cy="405.0" rx="2.1" ry="1.05" transform="rotate(38 138.0 405.0)" fill="#000"/><line x1="142.0" y1="402.0" x2="148.0" y2="408.0" stroke="#777" stroke-width="0.5"/><ellipse cx="145.0" cy="405.0" rx="2.1" ry="1.05" transform="rotate(38 145.0 405.0)" fill="#000"/><line x1="148.5" y1="402.0" x2="154.5" y2="408.0" stroke="#777" stroke-width="0.5"/><ellipse cx="151.5" cy="405.0" rx="2.1" ry="1.05" transform="rotate(38 151.5 405.0)" fill="#000"/><rect x="156.2" y="403.2" width="3.6" height="3.6" fill="#8e8e8e"/><path d="M158.0,403.2V406.8M156.2,405.0H159.8" stroke="#c8c8c8" stroke-width="0.35"/><line x1="162.0" y1="402.0" x2="168.0" y2="408.0" stroke="#777" stroke-width="0.5"/><ellipse cx="165.0" cy="405.0" rx="2.1" ry="1.05" transform="rotate(38 165.0 405.0)" fill="#000"/><rect x="170.2" y="403.2" width="3.6" height="3.6" fill="#8e8e8e"/><path d="M172.0,403.2V406.8M170.2,405.0H173.8" stroke="#c8c8c8" stroke-width="0.35"/><polygon points="179.0,402.6 181.5,404.4 180.5,407.3 177.5,407.3 176.5,404.4" fill="#000"/><circle cx="179.0" cy="405.3" r="0.85" fill="#fff"/><circle cx="179.0" cy="405.3" r="0.35" fill="#555"/><polygon points="186.0,402.6 188.5,404.4 187.5,407.3 184.5,407.3 183.5,404.4" fill="#000"/><circle cx="186.0" cy="405.3" r="0.85" fill="#fff"/><circle cx="186.0" cy="405.3" r="0.35" fill="#555"/><path d="M190.8,406.5 A2.2,2.2 0 0 1 195.2,406.5" fill="none" stroke="#3a3a3a" stroke-width="0.7"/><path d="M197.8,406.5 A2.2,2.2 0 0 1 202.2,406.5" fill="none" stroke="#3a3a3a" stroke-width="0.7"/><path d="M204.8,406.5 A2.2,2.2 0 0 1 209.2,406.5" fill="none" stroke="#3a3a3a" stroke-width="0.7"/><path d="M86.8,413.5 A2.2,2.2 0 0 1 91.2,413.5" fill="none" stroke="#3a3a3a" stroke-width="0.7"/><path d="M93.8,413.5 A2.2,2.2 0 0 1 98.2,413.5" fill="none" stroke="#3a3a3a" stroke-width="0.7"/><polygon points="103.0,409.6 105.5,411.4 104.5,414.3 101.5,414.3 100.5,411.4" fill="#000"/><circle cx="103.0" cy="412.3" r="0.85" fill="#fff"/><circle cx="103.0" cy="412.3" r="0.35" fill="#555"/><polygon points="110.0,409.6 112.5,411.4 111.5,414.3 108.5,414.3 107.5,411.4" fill="#000"/><circle cx="110.0" cy="412.3" r="0.85" fill="#fff"/><circle cx="110.0" cy="412.3" r="0.35" fill="#555"/><polygon points="117.0,409.6 119.5,411.4 118.5,414.3 115.5,414.3 114.5,411.4" fill="#000"/><circle cx="117.0" cy="412.3" r="0.85" fill="#fff"/><circle cx="117.0" cy="412.3" r="0.35" fill="#555"/><rect x="122.2" y="410.2" width="3.6" height="3.6" fill="#8e8e8e"/><path d="M124.0,410.2V413.8M122.2,412.0H125.8" stroke="#c8c8c8" stroke-width="0.35"/><rect x="129.2" y="410.2" width="3.6" height="3.6" fill="#8e8e8e"/><path d="M131.0,410.2V413.8M129.2,412.0H132.8" stroke="#c8c8c8" stroke-width="0.35"/><line x1="135.0" y1="409.0" x2="141.0" y2="415.0" stroke="#777" stroke-width="0.5"/><ellipse cx="138.0" cy="412.0" rx="2.1" ry="1.05" transform="rotate(38 138.0 412.0)" fill="#000"/><line x1="142.0" y1="409.0" x2="148.0" y2="415.0" stroke="#777" stroke-width="0.5"/><ellipse cx="145.0" cy="412.0" rx="2.1" ry="1.05" transform="rotate(38 145.0 412.0)" fill="#000"/><rect x="149.9" y="411.4" width="3.2" height="1.2" fill="#444"/><line x1="155.0" y1="409.0" x2="161.0" y2="415.0" stroke="#777" stroke-width="0.5"/><ellipse cx="158.0" cy="412.0" rx="2.1" ry="1.05" transform="rotate(38 158.0 412.0)" fill="#000"/><rect x="163.2" y="410.2" width="3.6" height="3.6" fill="#8e8e8e"/><path d="M165.0,410.2V413.8M163.2,412.0H166.8" stroke="#c8c8c8" stroke-width="0.35"/><rect x="170.2" y="410.2" width="3.6" height="3.6" fill="#8e8e8e"/><path d="M172.0,410.2V413.8M170.2,412.0H173.8" stroke="#c8c8c8" stroke-width="0.35"/><rect x="177.2" y="410.2" width="3.6" height="3.6" fill="#8e8e8e"/><path d="M179.0,410.2V413.8M177.2,412.0H180.8" stroke="#c8c8c8" stroke-width="0.35"/><polygon points="186.0,409.6 188.5,411.4 187.5,414.3 184.5,414.3 183.5,411.4" fill="#000"/><circle cx="186.0" cy="412.3" r="0.85" fill="#fff"/><circle cx="186.0" cy="412.3" r="0.35" fill="#555"/><polygon points="193.0,409.6 195.5,411.4 194.5,414.3 191.5,414.3 190.5,411.4" fill="#000"/><circle cx="193.0" cy="412.3" r="0.85" fill="#fff"/><circle cx="193.0" cy="412.3" r="0.35" fill="#555"/><path d="M197.8,413.5 A2.2,2.2 0 0 1 202.2,413.5" fill="none" stroke="#3a3a3a" stroke-width="0.7"/><path d="M204.8,413.5 A2.2,2.2 0 0 1 209.2,413.5" fill="none" stroke="#3a3a3a" stroke-width="0.7"/><path d="M86.8,420.5 A2.2,2.2 0 0 1 91.2,420.5" fill="none" stroke="#3a3a3a" stroke-width="0.7"/><polygon points="96.0,416.6 98.5,418.4 97.5,421.3 94.5,421.3 93.5,418.4" fill="#000"/><circle cx="96.0" cy="419.3" r="0.85" fill="#fff"/><circle cx="96.0" cy="419.3" r="0.35" fill="#555"/><polygon points="103.0,416.6 105.5,418.4 104.5,421.3 101.5,421.3 100.5,418.4" fill="#000"/><circle cx="103.0" cy="419.3" r="0.85" fill="#fff"/><circle cx="103.0" cy="419.3" r="0.35" fill="#555"/><polygon points="110.0,416.6 112.5,418.4 111.5,421.3 108.5,421.3 107.5,418.4" fill="#000"/><circle cx="110.0" cy="419.3" r="0.85" fill="#fff"/><circle cx="110.0" cy="419.3" r="0.35" fill="#555"/><rect x="115.2" y="417.2" width="3.6" height="3.6" fill="#8e8e8e"/><path d="M117.0,417.2V420.8M115.2,419.0H118.8" stroke="#c8c8c8" stroke-width="0.35"/><polygon points="124.0,416.6 126.5,418.4 125.5,421.3 122.5,421.3 121.5,418.4" fill="#000"/><circle cx="124.0" cy="419.3" r="0.85" fill="#fff"/><circle cx="124.0" cy="419.3" r="0.35" fill="#555"/><rect x="129.2" y="417.2" width="3.6" height="3.6" fill="#8e8e8e"/><path d="M131.0,417.2V420.8M129.2,419.0H132.8" stroke="#c8c8c8" stroke-width="0.35"/><line x1="135.0" y1="416.0" x2="141.0" y2="422.0" stroke="#777" stroke-width="0.5"/><ellipse cx="138.0" cy="419.0" rx="2.1" ry="1.05" transform="rotate(38 138.0 419.0)" fill="#000"/><rect x="143.4" y="418.4" width="3.2" height="1.2" fill="#444"/><rect x="149.9" y="418.4" width="3.2" height="1.2" fill="#444"/><rect x="156.4" y="418.4" width="3.2" height="1.2" fill="#444"/><line x1="162.0" y1="416.0" x2="168.0" y2="422.0" stroke="#777" stroke-width="0.5"/><ellipse cx="165.0" cy="419.0" rx="2.1" ry="1.05" transform="rotate(38 165.0 419.0)" fill="#000"/><rect x="170.2" y="417.2" width="3.6" height="3.6" fill="#8e8e8e"/><path d="M172.0,417.2V420.8M170.2,419.0H173.8" stroke="#c8c8c8" stroke-width="0.35"/><polygon points="179.0,416.6 181.5,418.4 180.5,421.3 177.5,421.3 176.5,418.4" fill="#000"/><circle cx="179.0" cy="419.3" r="0.85" fill="#fff"/><circle cx="179.0" cy="419.3" r="0.35" fill="#555"/><rect x="184.2" y="417.2" width="3.6" height="3.6" fill="#8e8e8e"/><path d="M186.0,417.2V420.8M184.2,419.0H187.8" stroke="#c8c8c8" stroke-width="0.35"/><polygon points="193.0,416.6 195.5,418.4 194.5,421.3 191.5,421.3 190.5,418.4" fill="#000"/><circle cx="193.0" cy="419.3" r="0.85" fill="#fff"/><circle cx="193.0" cy="419.3" r="0.35" fill="#555"/><polygon points="200.0,416.6 202.5,418.4 201.5,421.3 198.5,421.3 197.5,418.4" fill="#000"/><circle cx="200.0" cy="419.3" r="0.85" fill="#fff"/><circle cx="200.0" cy="419.3" r="0.35" fill="#555"/><path d="M204.8,420.5 A2.2,2.2 0 0 1 209.2,420.5" fill="none" stroke="#3a3a3a" stroke-width="0.7"/><path d="M79.8,427.5 A2.2,2.2 0 0 1 84.2,427.5" fill="none" stroke="#3a3a3a" stroke-width="0.7"/><path d="M86.8,427.5 A2.2,2.2 0 0 1 91.2,427.5" fill="none" stroke="#3a3a3a" stroke-width="0.7"/><path d="M93.8,427.5 A2.2,2.2 0 0 1 98.2,427.5" fill="none" stroke="#3a3a3a" stroke-width="0.7"/><polygon points="103.0,423.6 105.5,425.4 104.5,428.3 101.5,428.3 100.5,425.4" fill="#000"/><circle cx="103.0" cy="426.3" r="0.85" fill="#fff"/><circle cx="103.0" cy="426.3" r="0.35" fill="#555"/><polygon points="110.0,423.6 112.5,425.4 111.5,428.3 108.5,428.3 107.5,425.4" fill="#000"/><circle cx="110.0" cy="426.3" r="0.85" fill="#fff"/><circle cx="110.0" cy="426.3" r="0.35" fill="#555"/><polygon points="117.0,423.6 119.5,425.4 118.5,428.3 115.5,428.3 114.5,425.4" fill="#000"/><circle cx="117.0" cy="426.3" r="0.85" fill="#fff"/><circle cx="117.0" cy="426.3" r="0.35" fill="#555"/><rect x="122.2" y="424.2" width="3.6" height="3.6" fill="#8e8e8e"/><path d="M124.0,424.2V427.8M122.2,426.0H125.8" stroke="#c8c8c8" stroke-width="0.35"/><line x1="128.0" y1="423.0" x2="134.0" y2="429.0" stroke="#777" stroke-width="0.5"/><ellipse cx="131.0" cy="426.0" rx="2.1" ry="1.05" transform="rotate(38 131.0 426.0)" fill="#000"/><line x1="135.0" y1="423.0" x2="141.0" y2="429.0" stroke="#777" stroke-width="0.5"/><ellipse cx="138.0" cy="426.0" rx="2.1" ry="1.05" transform="rotate(38 138.0 426.0)" fill="#000"/><rect x="143.4" y="425.4" width="3.2" height="1.2" fill="#444"/><rect x="149.9" y="425.4" width="3.2" height="1.2" fill="#444"/><rect x="156.4" y="425.4" width="3.2" height="1.2" fill="#444"/><line x1="162.0" y1="423.0" x2="168.0" y2="429.0" stroke="#777" stroke-width="0.5"/><ellipse cx="165.0" cy="426.0" rx="2.1" ry="1.05" transform="rotate(38 165.0 426.0)" fill="#000"/><rect x="170.2" y="424.2" width="3.6" height="3.6" fill="#8e8e8e"/><path d="M172.0,424.2V427.8M170.2,426.0H173.8" stroke="#c8c8c8" stroke-width="0.35"/><rect x="177.2" y="424.2" width="3.6" height="3.6" fill="#8e8e8e"/><path d="M179.0,424.2V427.8M177.2,426.0H180.8" stroke="#c8c8c8" stroke-width="0.35"/><polygon points="186.0,423.6 188.5,425.4 187.5,428.3 184.5,428.3 183.5,425.4" fill="#000"/><circle cx="186.0" cy="426.3" r="0.85" fill="#fff"/><circle cx="186.0" cy="426.3" r="0.35" fill="#555"/><polygon points="193.0,423.6 195.5,425.4 194.5,428.3 191.5,428.3 190.5,425.4" fill="#000"/><circle cx="193.0" cy="426.3" r="0.85" fill="#fff"/><circle cx="193.0" cy="426.3" r="0.35" fill="#555"/><polygon points="200.0,423.6 202.5,425.4 201.5,428.3 198.5,428.3 197.5,425.4" fill="#000"/><circle cx="200.0" cy="426.3" r="0.85" fill="#fff"/><circle cx="200.0" cy="426.3" r="0.35" fill="#555"/><path d="M204.8,427.5 A2.2,2.2 0 0 1 209.2,427.5" fill="none" stroke="#3a3a3a" stroke-width="0.7"/><path d="M211.8,427.5 A2.2,2.2 0 0 1 216.2,427.5" fill="none" stroke="#3a3a3a" stroke-width="0.7"/><path d="M79.8,434.5 A2.2,2.2 0 0 1 84.2,434.5" fill="none" stroke="#3a3a3a" stroke-width="0.7"/><path d="M86.8,434.5 A2.2,2.2 0 0 1 91.2,434.5" fill="none" stroke="#3a3a3a" stroke-width="0.7"/><path d="M93.8,434.5 A2.2,2.2 0 0 1 98.2,434.5" fill="none" stroke="#3a3a3a" stroke-width="0.7"/><path d="M100.8,434.5 A2.2,2.2 0 0 1 105.2,434.5" fill="none" stroke="#3a3a3a" stroke-width="0.7"/><path d="M110.0,435.4 L107.2,432.7 Q107.2,430.9 108.6,430.9 Q110.0,430.9 110.0,432.0 Q110.0,430.9 111.4,430.9 Q112.8,430.9 112.8,432.7 Z" fill="#000"/><path d="M115.3,431.1 L116.4,431.7 L116.8,433.1 L117.5,434.4 L118.7,434.8" fill="none" stroke="#505050" stroke-width="0.9"/><path d="M122.3,431.1 L123.4,431.7 L123.8,433.1 L124.5,434.4 L125.7,434.8" fill="none" stroke="#505050" stroke-width="0.9"/><path d="M129.3,431.1 L130.4,431.7 L130.8,433.1 L131.5,434.4 L132.7,434.8" fill="none" stroke="#505050" stroke-width="0.9"/><rect x="135.8" y="430.8" width="4.4" height="4.4" fill="#c2c2c2" stroke="#4a4a4a" stroke-width="0.75"/><rect x="142.8" y="430.8" width="4.4" height="4.4" fill="#c2c2c2" stroke="#4a4a4a" stroke-width="0.75"/><rect x="149.3" y="430.8" width="4.4" height="4.4" fill="#c2c2c2" stroke="#4a4a4a" stroke-width="0.75"/><path d="M156.3,431.1 L157.4,431.7 L157.8,433.1 L158.5,434.4 L159.7,434.8" fill="none" stroke="#505050" stroke-width="0.9"/><path d="M163.3,431.1 L164.4,431.7 L164.8,433.1 L165.5,434.4 L166.7,434.8" fill="none" stroke="#505050" stroke-width="0.9"/><path d="M172.0,435.4 L169.2,432.7 Q169.2,430.9 170.6,430.9 Q172.0,430.9 172.0,432.0 Q172.0,430.9 173.4,430.9 Q174.8,430.9 174.8,432.7 Z" fill="#000"/><path d="M179.0,435.4 L176.2,432.7 Q176.2,430.9 177.6,430.9 Q179.0,430.9 179.0,432.0 Q179.0,430.9 180.4,430.9 Q181.8,430.9 181.8,432.7 Z" fill="#000"/><rect x="185.2" y="432.2" width="1.6" height="1.6" fill="#000"/><polygon points="193.0,430.6 195.5,432.4 194.5,435.3 191.5,435.3 190.5,432.4" fill="#000"/><circle cx="193.0" cy="433.3" r="0.85" fill="#fff"/><circle cx="193.0" cy="433.3" r="0.35" fill="#555"/><path d="M197.8,434.5 A2.2,2.2 0 0 1 202.2,434.5" fill="none" stroke="#3a3a3a" stroke-width="0.7"/><path d="M204.8,434.5 A2.2,2.2 0 0 1 209.2,434.5" fill="none" stroke="#3a3a3a" stroke-width="0.7"/><path d="M211.8,434.5 A2.2,2.2 0 0 1 216.2,434.5" fill="none" stroke="#3a3a3a" stroke-width="0.7"/><path d="M79.8,441.0 A2.2,2.2 0 0 1 84.2,441.0" fill="none" stroke="#3a3a3a" stroke-width="0.7"/><rect x="87.0" y="437.5" width="4.0" height="4.0" fill="#000"/><rect x="95.2" y="438.7" width="1.6" height="1.6" fill="#000"/><path d="M103.0,441.9 L100.2,439.2 Q100.2,437.4 101.6,437.4 Q103.0,437.4 103.0,438.5 Q103.0,437.4 104.4,437.4 Q105.8,437.4 105.8,439.2 Z" fill="#000"/><path d="M110.0,441.9 L107.2,439.2 Q107.2,437.4 108.6,437.4 Q110.0,437.4 110.0,438.5 Q110.0,437.4 111.4,437.4 Q112.8,437.4 112.8,439.2 Z" fill="#000"/><path d="M115.3,437.6 L116.4,438.2 L116.8,439.6 L117.5,440.9 L118.7,441.3" fill="none" stroke="#505050" stroke-width="0.9"/><path d="M122.3,437.6 L123.4,438.2 L123.8,439.6 L124.5,440.9 L125.7,441.3" fill="none" stroke="#505050" stroke-width="0.9"/><rect x="128.8" y="437.3" width="4.4" height="4.4" fill="#c2c2c2" stroke="#4a4a4a" stroke-width="0.75"/><rect x="135.8" y="437.3" width="4.4" height="4.4" fill="#c2c2c2" stroke="#4a4a4a" stroke-width="0.75"/><rect x="142.8" y="437.3" width="4.4" height="4.4" fill="#c2c2c2" stroke="#4a4a4a" stroke-width="0.75"/><rect x="149.3" y="437.3" width="4.4" height="4.4" fill="#c2c2c2" stroke="#4a4a4a" stroke-width="0.75"/><rect x="155.8" y="437.3" width="4.4" height="4.4" fill="#c2c2c2" stroke="#4a4a4a" stroke-width="0.75"/><path d="M163.3,437.6 L164.4,438.2 L164.8,439.6 L165.5,440.9 L166.7,441.3" fill="none" stroke="#505050" stroke-width="0.9"/><path d="M170.3,437.6 L171.4,438.2 L171.8,439.6 L172.5,440.9 L173.7,441.3" fill="none" stroke="#505050" stroke-width="0.9"/><path d="M179.0,441.9 L176.2,439.2 Q176.2,437.4 177.6,437.4 Q179.0,437.4 179.0,438.5 Q179.0,437.4 180.4,437.4 Q181.8,437.4 181.8,439.2 Z" fill="#000"/><path d="M186.0,441.9 L183.2,439.2 Q183.2,437.4 184.6,437.4 Q186.0,437.4 186.0,438.5 Q186.0,437.4 187.4,437.4 Q188.8,437.4 188.8,439.2 Z" fill="#000"/><rect x="192.2" y="438.7" width="1.6" height="1.6" fill="#000"/><rect x="199.2" y="438.7" width="1.6" height="1.6" fill="#000"/><rect x="205.0" y="437.5" width="4.0" height="4.0" fill="#000"/><path d="M211.8,441.0 A2.2,2.2 0 0 1 216.2,441.0" fill="none" stroke="#3a3a3a" stroke-width="0.7"/><rect x="73.0" y="444.0" width="4.0" height="4.0" fill="#000"/><rect x="80.0" y="444.0" width="4.0" height="4.0" fill="#000"/><rect x="88.2" y="445.2" width="1.6" height="1.6" fill="#000"/><rect x="95.2" y="445.2" width="1.6" height="1.6" fill="#000"/><path d="M103.0,448.4 L100.2,445.7 Q100.2,443.9 101.6,443.9 Q103.0,443.9 103.0,445.0 Q103.0,443.9 104.4,443.9 Q105.8,443.9 105.8,445.7 Z" fill="#000"/><path d="M110.0,448.4 L107.2,445.7 Q107.2,443.9 108.6,443.9 Q110.0,443.9 110.0,445.0 Q110.0,443.9 111.4,443.9 Q112.8,443.9 112.8,445.7 Z" fill="#000"/><path d="M117.0,448.4 L114.2,445.7 Q114.2,443.9 115.6,443.9 Q117.0,443.9 117.0,445.0 Q117.0,443.9 118.4,443.9 Q119.8,443.9 119.8,445.7 Z" fill="#000"/><path d="M122.3,444.1 L123.4,444.7 L123.8,446.1 L124.5,447.4 L125.7,447.8" fill="none" stroke="#505050" stroke-width="0.9"/><rect x="128.8" y="443.8" width="4.4" height="4.4" fill="#c2c2c2" stroke="#4a4a4a" stroke-width="0.75"/><path d="M136.3,444.1 L137.4,444.7 L137.8,446.1 L138.5,447.4 L139.7,447.8" fill="none" stroke="#505050" stroke-width="0.9"/><rect x="142.8" y="443.8" width="4.4" height="4.4" fill="#c2c2c2" stroke="#4a4a4a" stroke-width="0.75"/><rect x="149.3" y="443.8" width="4.4" height="4.4" fill="#c2c2c2" stroke="#4a4a4a" stroke-width="0.75"/><rect x="155.8" y="443.8" width="4.4" height="4.4" fill="#c2c2c2" stroke="#4a4a4a" stroke-width="0.75"/><path d="M163.3,444.1 L164.4,444.7 L164.8,446.1 L165.5,447.4 L166.7,447.8" fill="none" stroke="#505050" stroke-width="0.9"/><path d="M170.3,444.1 L171.4,444.7 L171.8,446.1 L172.5,447.4 L173.7,447.8" fill="none" stroke="#505050" stroke-width="0.9"/><path d="M177.3,444.1 L178.4,444.7 L178.8,446.1 L179.5,447.4 L180.7,447.8" fill="none" stroke="#505050" stroke-width="0.9"/><path d="M186.0,448.4 L183.2,445.7 Q183.2,443.9 184.6,443.9 Q186.0,443.9 186.0,445.0 Q186.0,443.9 187.4,443.9 Q188.8,443.9 188.8,445.7 Z" fill="#000"/><path d="M193.0,448.4 L190.2,445.7 Q190.2,443.9 191.6,443.9 Q193.0,443.9 193.0,445.0 Q193.0,443.9 194.4,443.9 Q195.8,443.9 195.8,445.7 Z" fill="#000"/><rect x="199.2" y="445.2" width="1.6" height="1.6" fill="#000"/><rect x="206.2" y="445.2" width="1.6" height="1.6" fill="#000"/><rect x="212.0" y="444.0" width="4.0" height="4.0" fill="#000"/><rect x="219.0" y="444.0" width="4.0" height="4.0" fill="#000"/><rect x="73.0" y="451.0" width="4.0" height="4.0" fill="#000"/><rect x="80.0" y="451.0" width="4.0" height="4.0" fill="#000"/><rect x="88.2" y="452.2" width="1.6" height="1.6" fill="#000"/><path d="M96.0,455.4 L93.2,452.7 Q93.2,450.9 94.6,450.9 Q96.0,450.9 96.0,452.0 Q96.0,450.9 97.4,450.9 Q98.8,450.9 98.8,452.7 Z" fill="#000"/><rect x="102.2" y="452.2" width="1.6" height="1.6" fill="#000"/><path d="M110.0,455.4 L107.2,452.7 Q107.2,450.9 108.6,450.9 Q110.0,450.9 110.0,452.0 Q110.0,450.9 111.4,450.9 Q112.8,450.9 112.8,452.7 Z" fill="#000"/><path d="M115.3,451.1 L116.4,451.7 L116.8,453.1 L117.5,454.4 L118.7,454.8" fill="none" stroke="#505050" stroke-width="0.9"/><rect x="121.8" y="450.8" width="4.4" height="4.4" fill="#c2c2c2" stroke="#4a4a4a" stroke-width="0.75"/><path d="M129.3,451.1 L130.4,451.7 L130.8,453.1 L131.5,454.4 L132.7,454.8" fill="none" stroke="#505050" stroke-width="0.9"/><rect x="135.8" y="450.8" width="4.4" height="4.4" fill="#c2c2c2" stroke="#4a4a4a" stroke-width="0.75"/><rect x="142.8" y="450.8" width="4.4" height="4.4" fill="#c2c2c2" stroke="#4a4a4a" stroke-width="0.75"/><rect x="149.3" y="450.8" width="4.4" height="4.4" fill="#c2c2c2" stroke="#4a4a4a" stroke-width="0.75"/><rect x="155.8" y="450.8" width="4.4" height="4.4" fill="#c2c2c2" stroke="#4a4a4a" stroke-width="0.75"/><rect x="162.8" y="450.8" width="4.4" height="4.4" fill="#c2c2c2" stroke="#4a4a4a" stroke-width="0.75"/><path d="M170.3,451.1 L171.4,451.7 L171.8,453.1 L172.5,454.4 L173.7,454.8" fill="none" stroke="#505050" stroke-width="0.9"/><path d="M177.3,451.1 L178.4,451.7 L178.8,453.1 L179.5,454.4 L180.7,454.8" fill="none" stroke="#505050" stroke-width="0.9"/><path d="M186.0,455.4 L183.2,452.7 Q183.2,450.9 184.6,450.9 Q186.0,450.9 186.0,452.0 Q186.0,450.9 187.4,450.9 Q188.8,450.9 188.8,452.7 Z" fill="#000"/><path d="M193.0,455.4 L190.2,452.7 Q190.2,450.9 191.6,450.9 Q193.0,450.9 193.0,452.0 Q193.0,450.9 194.4,450.9 Q195.8,450.9 195.8,452.7 Z" fill="#000"/><path d="M200.0,455.4 L197.2,452.7 Q197.2,450.9 198.6,450.9 Q200.0,450.9 200.0,452.0 Q200.0,450.9 201.4,450.9 Q202.8,450.9 202.8,452.7 Z" fill="#000"/><rect x="206.2" y="452.2" width="1.6" height="1.6" fill="#000"/><rect x="212.0" y="451.0" width="4.0" height="4.0" fill="#000"/><rect x="219.0" y="451.0" width="4.0" height="4.0" fill="#000"/><rect x="73.0" y="458.0" width="4.0" height="4.0" fill="#000"/><rect x="81.2" y="459.2" width="1.6" height="1.6" fill="#000"/><rect x="87.0" y="458.0" width="4.0" height="4.0" fill="#000"/><rect x="95.2" y="459.2" width="1.6" height="1.6" fill="#000"/><path d="M103.0,462.4 L100.2,459.7 Q100.2,457.9 101.6,457.9 Q103.0,457.9 103.0,459.0 Q103.0,457.9 104.4,457.9 Q105.8,457.9 105.8,459.7 Z" fill="#000"/><path d="M110.0,462.4 L107.2,459.7 Q107.2,457.9 108.6,457.9 Q110.0,457.9 110.0,459.0 Q110.0,457.9 111.4,457.9 Q112.8,457.9 112.8,459.7 Z" fill="#000"/><path d="M117.0,462.4 L114.2,459.7 Q114.2,457.9 115.6,457.9 Q117.0,457.9 117.0,459.0 Q117.0,457.9 118.4,457.9 Q119.8,457.9 119.8,459.7 Z" fill="#000"/><path d="M122.3,458.1 L123.4,458.7 L123.8,460.1 L124.5,461.4 L125.7,461.8" fill="none" stroke="#505050" stroke-width="0.9"/><rect x="128.8" y="457.8" width="4.4" height="4.4" fill="#c2c2c2" stroke="#4a4a4a" stroke-width="0.75"/><rect x="135.8" y="457.8" width="4.4" height="4.4" fill="#c2c2c2" stroke="#4a4a4a" stroke-width="0.75"/><rect x="142.8" y="457.8" width="4.4" height="4.4" fill="#c2c2c2" stroke="#4a4a4a" stroke-width="0.75"/><rect x="149.3" y="457.8" width="4.4" height="4.4" fill="#c2c2c2" stroke="#4a4a4a" stroke-width="0.75"/><rect x="155.8" y="457.8" width="4.4" height="4.4" fill="#c2c2c2" stroke="#4a4a4a" stroke-width="0.75"/><path d="M163.3,458.1 L164.4,458.7 L164.8,460.1 L165.5,461.4 L166.7,461.8" fill="none" stroke="#505050" stroke-width="0.9"/><rect x="169.8" y="457.8" width="4.4" height="4.4" fill="#c2c2c2" stroke="#4a4a4a" stroke-width="0.75"/><path d="M177.3,458.1 L178.4,458.7 L178.8,460.1 L179.5,461.4 L180.7,461.8" fill="none" stroke="#505050" stroke-width="0.9"/><path d="M186.0,462.4 L183.2,459.7 Q183.2,457.9 184.6,457.9 Q186.0,457.9 186.0,459.0 Q186.0,457.9 187.4,457.9 Q188.8,457.9 188.8,459.7 Z" fill="#000"/><rect x="192.2" y="459.2" width="1.6" height="1.6" fill="#000"/><rect x="199.2" y="459.2" width="1.6" height="1.6" fill="#000"/><rect x="206.2" y="459.2" width="1.6" height="1.6" fill="#000"/><rect x="212.0" y="458.0" width="4.0" height="4.0" fill="#000"/><rect x="219.0" y="458.0" width="4.0" height="4.0" fill="#000"/><path d="M67.7,465.3V468.7M69.3,465.3V468.7M66.8,466.2H70.2M66.8,467.8H70.2" stroke="#555" stroke-width="0.7"/><rect x="73.0" y="465.0" width="4.0" height="4.0" fill="#000"/><rect x="80.0" y="465.0" width="4.0" height="4.0" fill="#000"/><rect x="88.2" y="466.2" width="1.6" height="1.6" fill="#000"/><rect x="95.2" y="466.2" width="1.6" height="1.6" fill="#000"/><rect x="101.2" y="465.2" width="3.6" height="3.6" fill="#8e8e8e"/><path d="M103.0,465.2V468.8M101.2,467.0H104.8" stroke="#c8c8c8" stroke-width="0.35"/><rect x="108.2" y="465.2" width="3.6" height="3.6" fill="#8e8e8e"/><path d="M110.0,465.2V468.8M108.2,467.0H111.8" stroke="#c8c8c8" stroke-width="0.35"/><line x1="114.0" y1="464.0" x2="120.0" y2="470.0" stroke="#777" stroke-width="0.5"/><ellipse cx="117.0" cy="467.0" rx="2.1" ry="1.05" transform="rotate(38 117.0 467.0)" fill="#000"/><line x1="121.0" y1="464.0" x2="127.0" y2="470.0" stroke="#777" stroke-width="0.5"/><ellipse cx="124.0" cy="467.0" rx="2.1" ry="1.05" transform="rotate(38 124.0 467.0)" fill="#000"/><line x1="128.0" y1="464.0" x2="134.0" y2="470.0" stroke="#777" stroke-width="0.5"/><ellipse cx="131.0" cy="467.0" rx="2.1" ry="1.05" transform="rotate(38 131.0 467.0)" fill="#000"/><line x1="135.0" y1="464.0" x2="141.0" y2="470.0" stroke="#777" stroke-width="0.5"/><ellipse cx="138.0" cy="467.0" rx="2.1" ry="1.05" transform="rotate(38 138.0 467.0)" fill="#000"/><rect x="143.4" y="466.4" width="3.2" height="1.2" fill="#444"/><rect x="149.9" y="466.4" width="3.2" height="1.2" fill="#444"/><rect x="156.4" y="466.4" width="3.2" height="1.2" fill="#444"/><line x1="162.0" y1="464.0" x2="168.0" y2="470.0" stroke="#777" stroke-width="0.5"/><ellipse cx="165.0" cy="467.0" rx="2.1" ry="1.05" transform="rotate(38 165.0 467.0)" fill="#000"/><line x1="169.0" y1="464.0" x2="175.0" y2="470.0" stroke="#777" stroke-width="0.5"/><ellipse cx="172.0" cy="467.0" rx="2.1" ry="1.05" transform="rotate(38 172.0 467.0)" fill="#000"/><line x1="176.0" y1="464.0" x2="182.0" y2="470.0" stroke="#777" stroke-width="0.5"/><ellipse cx="179.0" cy="467.0" rx="2.1" ry="1.05" transform="rotate(38 179.0 467.0)" fill="#000"/><rect x="184.2" y="465.2" width="3.6" height="3.6" fill="#8e8e8e"/><path d="M186.0,465.2V468.8M184.2,467.0H187.8" stroke="#c8c8c8" stroke-width="0.35"/><polygon points="193.0,464.6 195.5,466.4 194.5,469.3 191.5,469.3 190.5,466.4" fill="#000"/><circle cx="193.0" cy="467.3" r="0.85" fill="#fff"/><circle cx="193.0" cy="467.3" r="0.35" fill="#555"/><rect x="199.2" y="466.2" width="1.6" height="1.6" fill="#000"/><rect x="206.2" y="466.2" width="1.6" height="1.6" fill="#000"/><rect x="212.0" y="465.0" width="4.0" height="4.0" fill="#000"/><rect x="219.0" y="465.0" width="4.0" height="4.0" fill="#000"/><path d="M227.2,465.3V468.7M228.8,465.3V468.7M226.3,466.2H229.7M226.3,467.8H229.7" stroke="#555" stroke-width="0.7"/><path d="M67.7,472.3V475.7M69.3,472.3V475.7M66.8,473.2H70.2M66.8,474.8H70.2" stroke="#555" stroke-width="0.7"/><path d="M74.2,472.3V475.7M75.8,472.3V475.7M73.3,473.2H76.7M73.3,474.8H76.7" stroke="#555" stroke-width="0.7"/><polygon points="82.0,471.6 84.5,473.4 83.5,476.3 80.5,476.3 79.5,473.4" fill="#000"/><circle cx="82.0" cy="474.3" r="0.85" fill="#fff"/><circle cx="82.0" cy="474.3" r="0.35" fill="#555"/><polygon points="89.0,471.6 91.5,473.4 90.5,476.3 87.5,476.3 86.5,473.4" fill="#000"/><circle cx="89.0" cy="474.3" r="0.85" fill="#fff"/><circle cx="89.0" cy="474.3" r="0.35" fill="#555"/><rect x="94.2" y="472.2" width="3.6" height="3.6" fill="#8e8e8e"/><path d="M96.0,472.2V475.8M94.2,474.0H97.8" stroke="#c8c8c8" stroke-width="0.35"/><rect x="101.2" y="472.2" width="3.6" height="3.6" fill="#8e8e8e"/><path d="M103.0,472.2V475.8M101.2,474.0H104.8" stroke="#c8c8c8" stroke-width="0.35"/><line x1="107.0" y1="471.0" x2="113.0" y2="477.0" stroke="#777" stroke-width="0.5"/><ellipse cx="110.0" cy="474.0" rx="2.1" ry="1.05" transform="rotate(38 110.0 474.0)" fill="#000"/><line x1="114.0" y1="471.0" x2="120.0" y2="477.0" stroke="#777" stroke-width="0.5"/><ellipse cx="117.0" cy="474.0" rx="2.1" ry="1.05" transform="rotate(38 117.0 474.0)" fill="#000"/><rect x="122.4" y="473.4" width="3.2" height="1.2" fill="#444"/><line x1="128.0" y1="471.0" x2="134.0" y2="477.0" stroke="#777" stroke-width="0.5"/><ellipse cx="131.0" cy="474.0" rx="2.1" ry="1.05" transform="rotate(38 131.0 474.0)" fill="#000"/><rect x="136.4" y="473.4" width="3.2" height="1.2" fill="#444"/><rect x="143.4" y="473.4" width="3.2" height="1.2" fill="#444"/><rect x="149.9" y="473.4" width="3.2" height="1.2" fill="#444"/><rect x="156.4" y="473.4" width="3.2" height="1.2" fill="#444"/><rect x="163.4" y="473.4" width="3.2" height="1.2" fill="#444"/><line x1="169.0" y1="471.0" x2="175.0" y2="477.0" stroke="#777" stroke-width="0.5"/><ellipse cx="172.0" cy="474.0" rx="2.1" ry="1.05" transform="rotate(38 172.0 474.0)" fill="#000"/><line x1="176.0" y1="471.0" x2="182.0" y2="477.0" stroke="#777" stroke-width="0.5"/><ellipse cx="179.0" cy="474.0" rx="2.1" ry="1.05" transform="rotate(38 179.0 474.0)" fill="#000"/><line x1="183.0" y1="471.0" x2="189.0" y2="477.0" stroke="#777" stroke-width="0.5"/><ellipse cx="186.0" cy="474.0" rx="2.1" ry="1.05" transform="rotate(38 186.0 474.0)" fill="#000"/><rect x="191.2" y="472.2" width="3.6" height="3.6" fill="#8e8e8e"/><path d="M193.0,472.2V475.8M191.2,474.0H194.8" stroke="#c8c8c8" stroke-width="0.35"/><rect x="198.2" y="472.2" width="3.6" height="3.6" fill="#8e8e8e"/><path d="M200.0,472.2V475.8M198.2,474.0H201.8" stroke="#c8c8c8" stroke-width="0.35"/><polygon points="207.0,471.6 209.5,473.4 208.5,476.3 205.5,476.3 204.5,473.4" fill="#000"/><circle cx="207.0" cy="474.3" r="0.85" fill="#fff"/><circle cx="207.0" cy="474.3" r="0.35" fill="#555"/><rect x="212.0" y="472.0" width="4.0" height="4.0" fill="#000"/><path d="M220.2,472.3V475.7M221.8,472.3V475.7M219.3,473.2H222.7M219.3,474.8H222.7" stroke="#555" stroke-width="0.7"/><path d="M227.2,472.3V475.7M228.8,472.3V475.7M226.3,473.2H229.7M226.3,474.8H229.7" stroke="#555" stroke-width="0.7"/><path d="M66.3,482.5 A2.2,2.2 0 0 1 70.7,482.5" fill="none" stroke="#3a3a3a" stroke-width="0.7"/><polygon points="75.0,478.6 77.5,480.4 76.5,483.3 73.5,483.3 72.5,480.4" fill="#000"/><circle cx="75.0" cy="481.3" r="0.85" fill="#fff"/><circle cx="75.0" cy="481.3" r="0.35" fill="#555"/><polygon points="82.0,478.6 84.5,480.4 83.5,483.3 80.5,483.3 79.5,480.4" fill="#000"/><circle cx="82.0" cy="481.3" r="0.85" fill="#fff"/><circle cx="82.0" cy="481.3" r="0.35" fill="#555"/><rect x="87.2" y="479.2" width="3.6" height="3.6" fill="#8e8e8e"/><path d="M89.0,479.2V482.8M87.2,481.0H90.8" stroke="#c8c8c8" stroke-width="0.35"/><rect x="94.2" y="479.2" width="3.6" height="3.6" fill="#8e8e8e"/><path d="M96.0,479.2V482.8M94.2,481.0H97.8" stroke="#c8c8c8" stroke-width="0.35"/><line x1="100.0" y1="478.0" x2="106.0" y2="484.0" stroke="#777" stroke-width="0.5"/><ellipse cx="103.0" cy="481.0" rx="2.1" ry="1.05" transform="rotate(38 103.0 481.0)" fill="#000"/><line x1="107.0" y1="478.0" x2="113.0" y2="484.0" stroke="#777" stroke-width="0.5"/><ellipse cx="110.0" cy="481.0" rx="2.1" ry="1.05" transform="rotate(38 110.0 481.0)" fill="#000"/><rect x="115.4" y="480.4" width="3.2" height="1.2" fill="#444"/><line x1="121.0" y1="478.0" x2="127.0" y2="484.0" stroke="#777" stroke-width="0.5"/><ellipse cx="124.0" cy="481.0" rx="2.1" ry="1.05" transform="rotate(38 124.0 481.0)" fill="#000"/><rect x="129.4" y="480.4" width="3.2" height="1.2" fill="#444"/><rect x="136.4" y="480.4" width="3.2" height="1.2" fill="#444"/><rect x="143.4" y="480.4" width="3.2" height="1.2" fill="#444"/><rect x="149.9" y="480.4" width="3.2" height="1.2" fill="#444"/><rect x="156.4" y="480.4" width="3.2" height="1.2" fill="#444"/><line x1="162.0" y1="478.0" x2="168.0" y2="484.0" stroke="#777" stroke-width="0.5"/><ellipse cx="165.0" cy="481.0" rx="2.1" ry="1.05" transform="rotate(38 165.0 481.0)" fill="#000"/><rect x="170.4" y="480.4" width="3.2" height="1.2" fill="#444"/><line x1="176.0" y1="478.0" x2="182.0" y2="484.0" stroke="#777" stroke-width="0.5"/><ellipse cx="179.0" cy="481.0" rx="2.1" ry="1.05" transform="rotate(38 179.0 481.0)" fill="#000"/><line x1="183.0" y1="478.0" x2="189.0" y2="484.0" stroke="#777" stroke-width="0.5"/><ellipse cx="186.0" cy="481.0" rx="2.1" ry="1.05" transform="rotate(38 186.0 481.0)" fill="#000"/><rect x="191.2" y="479.2" width="3.6" height="3.6" fill="#8e8e8e"/><path d="M193.0,479.2V482.8M191.2,481.0H194.8" stroke="#c8c8c8" stroke-width="0.35"/><rect x="198.2" y="479.2" width="3.6" height="3.6" fill="#8e8e8e"/><path d="M200.0,479.2V482.8M198.2,481.0H201.8" stroke="#c8c8c8" stroke-width="0.35"/><polygon points="207.0,478.6 209.5,480.4 208.5,483.3 205.5,483.3 204.5,480.4" fill="#000"/><circle cx="207.0" cy="481.3" r="0.85" fill="#fff"/><circle cx="207.0" cy="481.3" r="0.35" fill="#555"/><polygon points="214.0,478.6 216.5,480.4 215.5,483.3 212.5,483.3 211.5,480.4" fill="#000"/><circle cx="214.0" cy="481.3" r="0.85" fill="#fff"/><circle cx="214.0" cy="481.3" r="0.35" fill="#555"/><polygon points="221.0,478.6 223.5,480.4 222.5,483.3 219.5,483.3 218.5,480.4" fill="#000"/><circle cx="221.0" cy="481.3" r="0.85" fill="#fff"/><circle cx="221.0" cy="481.3" r="0.35" fill="#555"/><path d="M225.8,482.5 A2.2,2.2 0 0 1 230.2,482.5" fill="none" stroke="#3a3a3a" stroke-width="0.7"/><path d="M66.3,489.5 A2.2,2.2 0 0 1 70.7,489.5" fill="none" stroke="#3a3a3a" stroke-width="0.7"/><polygon points="75.0,485.6 77.5,487.4 76.5,490.3 73.5,490.3 72.5,487.4" fill="#000"/><circle cx="75.0" cy="488.3" r="0.85" fill="#fff"/><circle cx="75.0" cy="488.3" r="0.35" fill="#555"/><polygon points="82.0,485.6 84.5,487.4 83.5,490.3 80.5,490.3 79.5,487.4" fill="#000"/><circle cx="82.0" cy="488.3" r="0.85" fill="#fff"/><circle cx="82.0" cy="488.3" r="0.35" fill="#555"/><rect x="87.2" y="486.2" width="3.6" height="3.6" fill="#8e8e8e"/><path d="M89.0,486.2V489.8M87.2,488.0H90.8" stroke="#c8c8c8" stroke-width="0.35"/><rect x="94.2" y="486.2" width="3.6" height="3.6" fill="#8e8e8e"/><path d="M96.0,486.2V489.8M94.2,488.0H97.8" stroke="#c8c8c8" stroke-width="0.35"/><line x1="100.0" y1="485.0" x2="106.0" y2="491.0" stroke="#777" stroke-width="0.5"/><ellipse cx="103.0" cy="488.0" rx="2.1" ry="1.05" transform="rotate(38 103.0 488.0)" fill="#000"/><rect x="108.4" y="487.4" width="3.2" height="1.2" fill="#444"/><line x1="114.0" y1="485.0" x2="120.0" y2="491.0" stroke="#777" stroke-width="0.5"/><ellipse cx="117.0" cy="488.0" rx="2.1" ry="1.05" transform="rotate(38 117.0 488.0)" fill="#000"/><rect x="122.4" y="487.4" width="3.2" height="1.2" fill="#444"/><line x1="128.0" y1="485.0" x2="134.0" y2="491.0" stroke="#777" stroke-width="0.5"/><ellipse cx="131.0" cy="488.0" rx="2.1" ry="1.05" transform="rotate(38 131.0 488.0)" fill="#000"/><rect x="136.4" y="487.4" width="3.2" height="1.2" fill="#444"/><rect x="143.4" y="487.4" width="3.2" height="1.2" fill="#444"/><rect x="149.9" y="487.4" width="3.2" height="1.2" fill="#444"/><rect x="156.4" y="487.4" width="3.2" height="1.2" fill="#444"/><rect x="163.4" y="487.4" width="3.2" height="1.2" fill="#444"/><line x1="169.0" y1="485.0" x2="175.0" y2="491.0" stroke="#777" stroke-width="0.5"/><ellipse cx="172.0" cy="488.0" rx="2.1" ry="1.05" transform="rotate(38 172.0 488.0)" fill="#000"/><line x1="176.0" y1="485.0" x2="182.0" y2="491.0" stroke="#777" stroke-width="0.5"/><ellipse cx="179.0" cy="488.0" rx="2.1" ry="1.05" transform="rotate(38 179.0 488.0)" fill="#000"/><rect x="184.2" y="486.2" width="3.6" height="3.6" fill="#8e8e8e"/><path d="M186.0,486.2V489.8M184.2,488.0H187.8" stroke="#c8c8c8" stroke-width="0.35"/><line x1="190.0" y1="485.0" x2="196.0" y2="491.0" stroke="#777" stroke-width="0.5"/><ellipse cx="193.0" cy="488.0" rx="2.1" ry="1.05" transform="rotate(38 193.0 488.0)" fill="#000"/><rect x="198.2" y="486.2" width="3.6" height="3.6" fill="#8e8e8e"/><path d="M200.0,486.2V489.8M198.2,488.0H201.8" stroke="#c8c8c8" stroke-width="0.35"/><rect x="205.2" y="486.2" width="3.6" height="3.6" fill="#8e8e8e"/><path d="M207.0,486.2V489.8M205.2,488.0H208.8" stroke="#c8c8c8" stroke-width="0.35"/><polygon points="214.0,485.6 216.5,487.4 215.5,490.3 212.5,490.3 211.5,487.4" fill="#000"/><circle cx="214.0" cy="488.3" r="0.85" fill="#fff"/><circle cx="214.0" cy="488.3" r="0.35" fill="#555"/><polygon points="221.0,485.6 223.5,487.4 222.5,490.3 219.5,490.3 218.5,487.4" fill="#000"/><circle cx="221.0" cy="488.3" r="0.85" fill="#fff"/><circle cx="221.0" cy="488.3" r="0.35" fill="#555"/><path d="M225.8,489.5 A2.2,2.2 0 0 1 230.2,489.5" fill="none" stroke="#3a3a3a" stroke-width="0.7"/><path d="M59.8,496.5 A2.2,2.2 0 0 1 64.2,496.5" fill="none" stroke="#3a3a3a" stroke-width="0.7"/><path d="M66.3,496.5 A2.2,2.2 0 0 1 70.7,496.5" fill="none" stroke="#3a3a3a" stroke-width="0.7"/><polygon points="75.0,492.6 77.5,494.4 76.5,497.3 73.5,497.3 72.5,494.4" fill="#000"/><circle cx="75.0" cy="495.3" r="0.85" fill="#fff"/><circle cx="75.0" cy="495.3" r="0.35" fill="#555"/><polygon points="82.0,492.6 84.5,494.4 83.5,497.3 80.5,497.3 79.5,494.4" fill="#000"/><circle cx="82.0" cy="495.3" r="0.85" fill="#fff"/><circle cx="82.0" cy="495.3" r="0.35" fill="#555"/><polygon points="89.0,492.6 91.5,494.4 90.5,497.3 87.5,497.3 86.5,494.4" fill="#000"/><circle cx="89.0" cy="495.3" r="0.85" fill="#fff"/><circle cx="89.0" cy="495.3" r="0.35" fill="#555"/><rect x="94.2" y="493.2" width="3.6" height="3.6" fill="#8e8e8e"/><path d="M96.0,493.2V496.8M94.2,495.0H97.8" stroke="#c8c8c8" stroke-width="0.35"/><rect x="101.2" y="493.2" width="3.6" height="3.6" fill="#8e8e8e"/><path d="M103.0,493.2V496.8M101.2,495.0H104.8" stroke="#c8c8c8" stroke-width="0.35"/><line x1="107.0" y1="492.0" x2="113.0" y2="498.0" stroke="#777" stroke-width="0.5"/><ellipse cx="110.0" cy="495.0" rx="2.1" ry="1.05" transform="rotate(38 110.0 495.0)" fill="#000"/><path d="M115.3,493.1 L116.4,493.7 L116.8,495.1 L117.5,496.4 L118.7,496.8" fill="none" stroke="#505050" stroke-width="0.9"/><path d="M122.3,493.1 L123.4,493.7 L123.8,495.1 L124.5,496.4 L125.7,496.8" fill="none" stroke="#505050" stroke-width="0.9"/><rect x="128.8" y="492.8" width="4.4" height="4.4" fill="#c2c2c2" stroke="#4a4a4a" stroke-width="0.75"/><rect x="135.8" y="492.8" width="4.4" height="4.4" fill="#c2c2c2" stroke="#4a4a4a" stroke-width="0.75"/><rect x="142.8" y="492.8" width="4.4" height="4.4" fill="#c2c2c2" stroke="#4a4a4a" stroke-width="0.75"/><rect x="149.3" y="492.8" width="4.4" height="4.4" fill="#c2c2c2" stroke="#4a4a4a" stroke-width="0.75"/><rect x="155.8" y="492.8" width="4.4" height="4.4" fill="#c2c2c2" stroke="#4a4a4a" stroke-width="0.75"/><rect x="162.8" y="492.8" width="4.4" height="4.4" fill="#c2c2c2" stroke="#4a4a4a" stroke-width="0.75"/><path d="M170.3,493.1 L171.4,493.7 L171.8,495.1 L172.5,496.4 L173.7,496.8" fill="none" stroke="#505050" stroke-width="0.9"/><path d="M177.3,493.1 L178.4,493.7 L178.8,495.1 L179.5,496.4 L180.7,496.8" fill="none" stroke="#505050" stroke-width="0.9"/><path d="M184.3,493.1 L185.4,493.7 L185.8,495.1 L186.5,496.4 L187.7,496.8" fill="none" stroke="#505050" stroke-width="0.9"/><rect x="191.2" y="493.2" width="3.6" height="3.6" fill="#8e8e8e"/><path d="M193.0,493.2V496.8M191.2,495.0H194.8" stroke="#c8c8c8" stroke-width="0.35"/><polygon points="200.0,492.6 202.5,494.4 201.5,497.3 198.5,497.3 197.5,494.4" fill="#000"/><circle cx="200.0" cy="495.3" r="0.85" fill="#fff"/><circle cx="200.0" cy="495.3" r="0.35" fill="#555"/><polygon points="207.0,492.6 209.5,494.4 208.5,497.3 205.5,497.3 204.5,494.4" fill="#000"/><circle cx="207.0" cy="495.3" r="0.85" fill="#fff"/><circle cx="207.0" cy="495.3" r="0.35" fill="#555"/><polygon points="214.0,492.6 216.5,494.4 215.5,497.3 212.5,497.3 211.5,494.4" fill="#000"/><circle cx="214.0" cy="495.3" r="0.85" fill="#fff"/><circle cx="214.0" cy="495.3" r="0.35" fill="#555"/><polygon points="221.0,492.6 223.5,494.4 222.5,497.3 219.5,497.3 218.5,494.4" fill="#000"/><circle cx="221.0" cy="495.3" r="0.85" fill="#fff"/><circle cx="221.0" cy="495.3" r="0.35" fill="#555"/><path d="M225.8,496.5 A2.2,2.2 0 0 1 230.2,496.5" fill="none" stroke="#3a3a3a" stroke-width="0.7"/><path d="M232.3,496.5 A2.2,2.2 0 0 1 236.7,496.5" fill="none" stroke="#3a3a3a" stroke-width="0.7"/><path d="M59.8,503.5 A2.2,2.2 0 0 1 64.2,503.5" fill="none" stroke="#3a3a3a" stroke-width="0.7"/><path d="M66.3,503.5 A2.2,2.2 0 0 1 70.7,503.5" fill="none" stroke="#3a3a3a" stroke-width="0.7"/><path d="M72.8,503.5 A2.2,2.2 0 0 1 77.2,503.5" fill="none" stroke="#3a3a3a" stroke-width="0.7"/><polygon points="82.0,499.6 84.5,501.4 83.5,504.3 80.5,504.3 79.5,501.4" fill="#000"/><circle cx="82.0" cy="502.3" r="0.85" fill="#fff"/><circle cx="82.0" cy="502.3" r="0.35" fill="#555"/><polygon points="89.0,499.6 91.5,501.4 90.5,504.3 87.5,504.3 86.5,501.4" fill="#000"/><circle cx="89.0" cy="502.3" r="0.85" fill="#fff"/><circle cx="89.0" cy="502.3" r="0.35" fill="#555"/><path d="M96.0,504.4 L93.2,501.7 Q93.2,499.9 94.6,499.9 Q96.0,499.9 96.0,501.0 Q96.0,499.9 97.4,499.9 Q98.8,499.9 98.8,501.7 Z" fill="#000"/><path d="M101.3,500.1 L102.4,500.7 L102.8,502.1 L103.5,503.4 L104.7,503.8" fill="none" stroke="#505050" stroke-width="0.9"/><path d="M108.3,500.1 L109.4,500.7 L109.8,502.1 L110.5,503.4 L111.7,503.8" fill="none" stroke="#505050" stroke-width="0.9"/><path d="M115.3,500.1 L116.4,500.7 L116.8,502.1 L117.5,503.4 L118.7,503.8" fill="none" stroke="#505050" stroke-width="0.9"/><rect x="121.8" y="499.8" width="4.4" height="4.4" fill="#c2c2c2" stroke="#4a4a4a" stroke-width="0.75"/><rect x="128.8" y="499.8" width="4.4" height="4.4" fill="#c2c2c2" stroke="#4a4a4a" stroke-width="0.75"/><rect x="135.8" y="499.8" width="4.4" height="4.4" fill="#c2c2c2" stroke="#4a4a4a" stroke-width="0.75"/><rect x="142.8" y="499.8" width="4.4" height="4.4" fill="#c2c2c2" stroke="#4a4a4a" stroke-width="0.75"/><rect x="149.3" y="499.8" width="4.4" height="4.4" fill="#c2c2c2" stroke="#4a4a4a" stroke-width="0.75"/><rect x="155.8" y="499.8" width="4.4" height="4.4" fill="#c2c2c2" stroke="#4a4a4a" stroke-width="0.75"/><rect x="162.8" y="499.8" width="4.4" height="4.4" fill="#c2c2c2" stroke="#4a4a4a" stroke-width="0.75"/><rect x="169.8" y="499.8" width="4.4" height="4.4" fill="#c2c2c2" stroke="#4a4a4a" stroke-width="0.75"/><path d="M177.3,500.1 L178.4,500.7 L178.8,502.1 L179.5,503.4 L180.7,503.8" fill="none" stroke="#505050" stroke-width="0.9"/><path d="M184.3,500.1 L185.4,500.7 L185.8,502.1 L186.5,503.4 L187.7,503.8" fill="none" stroke="#505050" stroke-width="0.9"/><path d="M191.3,500.1 L192.4,500.7 L192.8,502.1 L193.5,503.4 L194.7,503.8" fill="none" stroke="#505050" stroke-width="0.9"/><path d="M200.0,504.4 L197.2,501.7 Q197.2,499.9 198.6,499.9 Q200.0,499.9 200.0,501.0 Q200.0,499.9 201.4,499.9 Q202.8,499.9 202.8,501.7 Z" fill="#000"/><path d="M207.0,504.4 L204.2,501.7 Q204.2,499.9 205.6,499.9 Q207.0,499.9 207.0,501.0 Q207.0,499.9 208.4,499.9 Q209.8,499.9 209.8,501.7 Z" fill="#000"/><polygon points="214.0,499.6 216.5,501.4 215.5,504.3 212.5,504.3 211.5,501.4" fill="#000"/><circle cx="214.0" cy="502.3" r="0.85" fill="#fff"/><circle cx="214.0" cy="502.3" r="0.35" fill="#555"/><path d="M218.8,503.5 A2.2,2.2 0 0 1 223.2,503.5" fill="none" stroke="#3a3a3a" stroke-width="0.7"/><path d="M225.8,503.5 A2.2,2.2 0 0 1 230.2,503.5" fill="none" stroke="#3a3a3a" stroke-width="0.7"/><path d="M232.3,503.5 A2.2,2.2 0 0 1 236.7,503.5" fill="none" stroke="#3a3a3a" stroke-width="0.7"/><path d="M59.8,510.5 A2.2,2.2 0 0 1 64.2,510.5" fill="none" stroke="#3a3a3a" stroke-width="0.7"/><path d="M66.3,510.5 A2.2,2.2 0 0 1 70.7,510.5" fill="none" stroke="#3a3a3a" stroke-width="0.7"/><path d="M72.8,510.5 A2.2,2.2 0 0 1 77.2,510.5" fill="none" stroke="#3a3a3a" stroke-width="0.7"/><rect x="81.2" y="508.2" width="1.6" height="1.6" fill="#000"/><path d="M89.0,511.4 L86.2,508.7 Q86.2,506.9 87.6,506.9 Q89.0,506.9 89.0,508.0 Q89.0,506.9 90.4,506.9 Q91.8,506.9 91.8,508.7 Z" fill="#000"/><path d="M96.0,511.4 L93.2,508.7 Q93.2,506.9 94.6,506.9 Q96.0,506.9 96.0,508.0 Q96.0,506.9 97.4,506.9 Q98.8,506.9 98.8,508.7 Z" fill="#000"/><path d="M101.3,507.1 L102.4,507.7 L102.8,509.1 L103.5,510.4 L104.7,510.8" fill="none" stroke="#505050" stroke-width="0.9"/><path d="M108.3,507.1 L109.4,507.7 L109.8,509.1 L110.5,510.4 L111.7,510.8" fill="none" stroke="#505050" stroke-width="0.9"/><rect x="114.8" y="506.8" width="4.4" height="4.4" fill="#c2c2c2" stroke="#4a4a4a" stroke-width="0.75"/><rect x="121.8" y="506.8" width="4.4" height="4.4" fill="#c2c2c2" stroke="#4a4a4a" stroke-width="0.75"/><rect x="128.8" y="506.8" width="4.4" height="4.4" fill="#c2c2c2" stroke="#4a4a4a" stroke-width="0.75"/><rect x="135.8" y="506.8" width="4.4" height="4.4" fill="#c2c2c2" stroke="#4a4a4a" stroke-width="0.75"/><rect x="142.8" y="506.8" width="4.4" height="4.4" fill="#c2c2c2" stroke="#4a4a4a" stroke-width="0.75"/><rect x="149.3" y="506.8" width="4.4" height="4.4" fill="#c2c2c2" stroke="#4a4a4a" stroke-width="0.75"/><rect x="155.8" y="506.8" width="4.4" height="4.4" fill="#c2c2c2" stroke="#4a4a4a" stroke-width="0.75"/><rect x="162.8" y="506.8" width="4.4" height="4.4" fill="#c2c2c2" stroke="#4a4a4a" stroke-width="0.75"/><rect x="169.8" y="506.8" width="4.4" height="4.4" fill="#c2c2c2" stroke="#4a4a4a" stroke-width="0.75"/><rect x="176.8" y="506.8" width="4.4" height="4.4" fill="#c2c2c2" stroke="#4a4a4a" stroke-width="0.75"/><path d="M184.3,507.1 L185.4,507.7 L185.8,509.1 L186.5,510.4 L187.7,510.8" fill="none" stroke="#505050" stroke-width="0.9"/><path d="M191.3,507.1 L192.4,507.7 L192.8,509.1 L193.5,510.4 L194.7,510.8" fill="none" stroke="#505050" stroke-width="0.9"/><path d="M200.0,511.4 L197.2,508.7 Q197.2,506.9 198.6,506.9 Q200.0,506.9 200.0,508.0 Q200.0,506.9 201.4,506.9 Q202.8,506.9 202.8,508.7 Z" fill="#000"/><path d="M207.0,511.4 L204.2,508.7 Q204.2,506.9 205.6,506.9 Q207.0,506.9 207.0,508.0 Q207.0,506.9 208.4,506.9 Q209.8,506.9 209.8,508.7 Z" fill="#000"/><path d="M214.0,511.4 L211.2,508.7 Q211.2,506.9 212.6,506.9 Q214.0,506.9 214.0,508.0 Q214.0,506.9 215.4,506.9 Q216.8,506.9 216.8,508.7 Z" fill="#000"/><rect x="220.2" y="508.2" width="1.6" height="1.6" fill="#000"/><path d="M225.8,510.5 A2.2,2.2 0 0 1 230.2,510.5" fill="none" stroke="#3a3a3a" stroke-width="0.7"/><path d="M232.3,510.5 A2.2,2.2 0 0 1 236.7,510.5" fill="none" stroke="#3a3a3a" stroke-width="0.7"/><path d="M59.8,517.0 A2.2,2.2 0 0 1 64.2,517.0" fill="none" stroke="#3a3a3a" stroke-width="0.7"/><rect x="66.5" y="513.5" width="4.0" height="4.0" fill="#000"/><rect x="74.2" y="514.7" width="1.6" height="1.6" fill="#000"/><rect x="81.2" y="514.7" width="1.6" height="1.6" fill="#000"/><path d="M89.0,517.9 L86.2,515.2 Q86.2,513.4 87.6,513.4 Q89.0,513.4 89.0,514.5 Q89.0,513.4 90.4,513.4 Q91.8,513.4 91.8,515.2 Z" fill="#000"/><path d="M96.0,517.9 L93.2,515.2 Q93.2,513.4 94.6,513.4 Q96.0,513.4 96.0,514.5 Q96.0,513.4 97.4,513.4 Q98.8,513.4 98.8,515.2 Z" fill="#000"/><path d="M103.0,517.9 L100.2,515.2 Q100.2,513.4 101.6,513.4 Q103.0,513.4 103.0,514.5 Q103.0,513.4 104.4,513.4 Q105.8,513.4 105.8,515.2 Z" fill="#000"/><path d="M108.3,513.6 L109.4,514.2 L109.8,515.6 L110.5,516.9 L111.7,517.3" fill="none" stroke="#505050" stroke-width="0.9"/><path d="M115.3,513.6 L116.4,514.2 L116.8,515.6 L117.5,516.9 L118.7,517.3" fill="none" stroke="#505050" stroke-width="0.9"/><rect x="121.8" y="513.3" width="4.4" height="4.4" fill="#c2c2c2" stroke="#4a4a4a" stroke-width="0.75"/><rect x="128.8" y="513.3" width="4.4" height="4.4" fill="#c2c2c2" stroke="#4a4a4a" stroke-width="0.75"/><rect x="135.8" y="513.3" width="4.4" height="4.4" fill="#c2c2c2" stroke="#4a4a4a" stroke-width="0.75"/><rect x="142.8" y="513.3" width="4.4" height="4.4" fill="#c2c2c2" stroke="#4a4a4a" stroke-width="0.75"/><rect x="149.3" y="513.3" width="4.4" height="4.4" fill="#c2c2c2" stroke="#4a4a4a" stroke-width="0.75"/><rect x="155.8" y="513.3" width="4.4" height="4.4" fill="#c2c2c2" stroke="#4a4a4a" stroke-width="0.75"/><rect x="162.8" y="513.3" width="4.4" height="4.4" fill="#c2c2c2" stroke="#4a4a4a" stroke-width="0.75"/><rect x="169.8" y="513.3" width="4.4" height="4.4" fill="#c2c2c2" stroke="#4a4a4a" stroke-width="0.75"/><path d="M177.3,513.6 L178.4,514.2 L178.8,515.6 L179.5,516.9 L180.7,517.3" fill="none" stroke="#505050" stroke-width="0.9"/><rect x="183.8" y="513.3" width="4.4" height="4.4" fill="#c2c2c2" stroke="#4a4a4a" stroke-width="0.75"/><path d="M191.3,513.6 L192.4,514.2 L192.8,515.6 L193.5,516.9 L194.7,517.3" fill="none" stroke="#505050" stroke-width="0.9"/><path d="M200.0,517.9 L197.2,515.2 Q197.2,513.4 198.6,513.4 Q200.0,513.4 200.0,514.5 Q200.0,513.4 201.4,513.4 Q202.8,513.4 202.8,515.2 Z" fill="#000"/><path d="M207.0,517.9 L204.2,515.2 Q204.2,513.4 205.6,513.4 Q207.0,513.4 207.0,514.5 Q207.0,513.4 208.4,513.4 Q209.8,513.4 209.8,515.2 Z" fill="#000"/><path d="M214.0,517.9 L211.2,515.2 Q211.2,513.4 212.6,513.4 Q214.0,513.4 214.0,514.5 Q214.0,513.4 215.4,513.4 Q216.8,513.4 216.8,515.2 Z" fill="#000"/><rect x="220.2" y="514.7" width="1.6" height="1.6" fill="#000"/><rect x="226.0" y="513.5" width="4.0" height="4.0" fill="#000"/><rect x="232.5" y="513.5" width="4.0" height="4.0" fill="#000"/><text x="60.6" y="282.4" font-family="Liberation Sans" font-size="4.3" fill="#111" stroke="#111" stroke-width="0.12">20</text><text x="129.6" y="282.4" font-family="Liberation Sans" font-size="4.3" fill="#111" stroke="#111" stroke-width="0.12">10</text><text x="267.6" y="282.4" font-family="Liberation Sans" font-size="4.3" fill="#111" stroke="#111" stroke-width="0.12">10</text><text x="336.6" y="282.4" font-family="Liberation Sans" font-size="4.3" fill="#111" stroke="#111" stroke-width="0.12">20</text><path d="M196.7,277.6H203.1L199.9,284.5Z" fill="#000"/><text x="8.2" y="317.8" font-family="Liberation Sans" font-size="4.3" fill="#111" stroke="#111" stroke-width="0.12" text-anchor="end">30</text><text x="8.2" y="386.8" font-family="Liberation Sans" font-size="4.3" fill="#111" stroke="#111" stroke-width="0.12" text-anchor="end">20</text><text x="8.2" y="455.8" font-family="Liberation Sans" font-size="4.3" fill="#111" stroke="#111" stroke-width="0.12" text-anchor="end">10</text><text x="9.5" y="276.0" font-family="Liberation Sans" font-size="4.0" fill="#111" stroke="#111" stroke-width="0.15">Page 1</text><text x="200.2" y="276.0" font-family="Liberation Sans" font-size="4.0" fill="#111" stroke="#111" stroke-width="0.15" text-anchor="middle">Gnome with pumpkin</text><text x="390.5" y="276.0" font-family="Liberation Sans" font-size="4.0" fill="#111" stroke="#111" stroke-width="0.15" text-anchor="end">Svitlana Sichkar</text><rect x="485.5" y="284.5" width="7" height="6" fill="#f0882c"/><rect x="492.5" y="284.5" width="7" height="6" fill="#3c414a"/><rect x="499.5" y="284.5" width="7" height="6" fill="#3c414a"/><rect x="506.5" y="284.5" width="7" height="6" fill="#3c414a"/><rect x="513.5" y="284.5" width="7" height="6" fill="#3c414a"/><rect x="520.5" y="284.5" width="7" height="6" fill="#3c414a"/><rect x="471.5" y="290.5" width="7" height="7" fill="#f0882c"/><rect x="478.5" y="290.5" width="7" height="7" fill="#f0882c"/><rect x="485.5" y="290.5" width="7" height="7" fill="#f0882c"/><rect x="492.5" y="290.5" width="7" height="7" fill="#f0882c"/><rect x="499.5" y="290.5" width="7" height="7" fill="#2c2f37"/><rect x="506.5" y="290.5" width="7" height="7" fill="#2c2f37"/><rect x="513.5" y="290.5" width="7" height="7" fill="#2c2f37"/><rect x="520.5" y="290.5" width="7" height="7" fill="#2c2f37"/><rect x="527.5" y="290.5" width="7" height="7" fill="#3c414a"/><rect x="534.5" y="290.5" width="7" height="7" fill="#3c414a"/><rect x="471.5" y="297.5" width="7" height="7" fill="#f0882c"/><rect x="478.5" y="297.5" width="7" height="7" fill="#ea7b2c"/><rect x="485.5" y="297.5" width="7" height="7" fill="#ea7b2c"/><rect x="492.5" y="297.5" width="7" height="7" fill="#ea7b2c"/><rect x="499.5" y="297.5" width="7" height="7" fill="#24272e"/><rect x="506.5" y="297.5" width="7" height="7" fill="#24272e"/><rect x="513.5" y="297.5" width="7" height="7" fill="#24272e"/><rect x="520.5" y="297.5" width="7" height="7" fill="#2c2f37"/><rect x="527.5" y="297.5" width="7" height="7" fill="#2c2f37"/><rect x="534.5" y="297.5" width="7" height="7" fill="#2c2f37"/><rect x="541.5" y="297.5" width="7" height="7" fill="#f0882c"/><rect x="548.5" y="297.5" width="6" height="7" fill="#f0882c"/><rect x="465.5" y="304.5" width="6" height="7" fill="#24272e"/><rect x="471.5" y="304.5" width="7" height="7" fill="#24272e"/><rect x="478.5" y="304.5" width="7" height="7" fill="#ea7b2c"/><rect x="513.5" y="304.5" width="7" height="7" fill="#24272e"/><rect x="520.5" y="304.5" width="7" height="7" fill="#24272e"/><rect x="527.5" y="304.5" width="7" height="7" fill="#f4ae5e"/><rect x="534.5" y="304.5" width="7" height="7" fill="#d8a458"/><rect x="541.5" y="304.5" width="7" height="7" fill="#f4ae5e"/><rect x="548.5" y="304.5" width="6" height="7" fill="#f0882c"/><rect x="554.5" y="304.5" width="7" height="7" fill="#f0882c"/><rect x="465.5" y="311.5" width="6" height="7" fill="#24272e"/><rect x="471.5" y="311.5" width="7" height="7" fill="#24272e"/><rect x="520.5" y="311.5" width="7" height="7" fill="#f0882c"/><rect x="527.5" y="311.5" width="7" height="7" fill="#f4ae5e"/><rect x="534.5" y="311.5" width="7" height="7" fill="#f4ae5e"/><rect x="541.5" y="311.5" width="7" height="7" fill="#d8a458"/><rect x="548.5" y="311.5" width="6" height="7" fill="#f4ae5e"/><rect x="554.5" y="311.5" width="7" height="7" fill="#f0882c"/><rect x="465.5" y="318.5" width="6" height="7" fill="#24272e"/><rect x="527.5" y="318.5" width="7" height="7" fill="#f0882c"/><rect x="534.5" y="318.5" width="7" height="7" fill="#d8a458"/><rect x="541.5" y="318.5" width="7" height="7" fill="#d8a458"/><rect x="548.5" y="318.5" width="6" height="7" fill="#d8a458"/><rect x="554.5" y="318.5" width="7" height="7" fill="#f4ae5e"/><rect x="561.5" y="318.5" width="7" height="7" fill="#f0882c"/><rect x="465.5" y="325.5" width="6" height="7" fill="#24272e"/><rect x="527.5" y="325.5" width="7" height="7" fill="#f0882c"/><rect x="534.5" y="325.5" width="7" height="7" fill="#f4ae5e"/><rect x="541.5" y="325.5" width="7" height="7" fill="#d8a458"/><rect x="548.5" y="325.5" width="6" height="7" fill="#d8a458"/><rect x="554.5" y="325.5" width="7" height="7" fill="#f4ae5e"/><rect x="561.5" y="325.5" width="7" height="7" fill="#f0882c"/><rect x="465.5" y="332.5" width="6" height="7" fill="#24272e"/><rect x="520.5" y="332.5" width="7" height="7" fill="#24272e"/><rect x="527.5" y="332.5" width="7" height="7" fill="#24272e"/><rect x="534.5" y="332.5" width="7" height="7" fill="#2c2f37"/><rect x="541.5" y="332.5" width="7" height="7" fill="#2c2f37"/><rect x="548.5" y="332.5" width="6" height="7" fill="#3c414a"/><rect x="554.5" y="332.5" width="7" height="7" fill="#2c2f37"/><rect x="561.5" y="332.5" width="7" height="7" fill="#24272e"/><rect x="568.5" y="332.5" width="7" height="7" fill="#24272e"/><rect x="465.5" y="339.5" width="6" height="7" fill="#24272e"/><rect x="520.5" y="339.5" width="7" height="7" fill="#24272e"/><rect x="527.5" y="339.5" width="7" height="7" fill="#24272e"/><rect x="534.5" y="339.5" width="7" height="7" fill="#2c2f37"/><rect x="541.5" y="339.5" width="7" height="7" fill="#3c414a"/><rect x="548.5" y="339.5" width="6" height="7" fill="#3c414a"/><rect x="554.5" y="339.5" width="7" height="7" fill="#2c2f37"/><rect x="561.5" y="339.5" width="7" height="7" fill="#2c2f37"/><rect x="568.5" y="339.5" width="7" height="7" fill="#24272e"/><rect x="575.5" y="339.5" width="7" height="7" fill="#24272e"/><rect x="513.5" y="346.5" width="7" height="7" fill="#24272e"/><rect x="520.5" y="346.5" width="7" height="7" fill="#24272e"/><rect x="527.5" y="346.5" width="7" height="7" fill="#2c2f37"/><rect x="534.5" y="346.5" width="7" height="7" fill="#2c2f37"/><rect x="541.5" y="346.5" width="7" height="7" fill="#3c414a"/><rect x="548.5" y="346.5" width="6" height="7" fill="#4a5060"/><rect x="554.5" y="346.5" width="7" height="7" fill="#3c414a"/><rect x="561.5" y="346.5" width="7" height="7" fill="#2c2f37"/><rect x="568.5" y="346.5" width="7" height="7" fill="#2c2f37"/><rect x="575.5" y="346.5" width="7" height="7" fill="#24272e"/><rect x="506.5" y="353.5" width="7" height="7" fill="#24272e"/><rect x="513.5" y="353.5" width="7" height="7" fill="#24272e"/><rect x="520.5" y="353.5" width="7" height="7" fill="#24272e"/><rect x="527.5" y="353.5" width="7" height="7" fill="#2c2f37"/><rect x="534.5" y="353.5" width="7" height="7" fill="#3c414a"/><rect x="541.5" y="353.5" width="7" height="7" fill="#4a5060"/><rect x="548.5" y="353.5" width="6" height="7" fill="#4a5060"/><rect x="554.5" y="353.5" width="7" height="7" fill="#4a5060"/><rect x="561.5" y="353.5" width="7" height="7" fill="#3c414a"/><rect x="568.5" y="353.5" width="7" height="7" fill="#2c2f37"/><rect x="575.5" y="353.5" width="7" height="7" fill="#24272e"/><rect x="582.5" y="353.5" width="7" height="7" fill="#24272e"/><rect x="506.5" y="360.5" width="7" height="6" fill="#24272e"/><rect x="513.5" y="360.5" width="7" height="6" fill="#ea7b2c"/><rect x="520.5" y="360.5" width="7" height="6" fill="#f0882c"/><rect x="527.5" y="360.5" width="7" height="6" fill="#f0882c"/><rect x="534.5" y="360.5" width="7" height="6" fill="#f4ae5e"/><rect x="541.5" y="360.5" width="7" height="6" fill="#f4ae5e"/><rect x="548.5" y="360.5" width="6" height="6" fill="#d8a458"/><rect x="554.5" y="360.5" width="7" height="6" fill="#f4ae5e"/><rect x="561.5" y="360.5" width="7" height="6" fill="#f4ae5e"/><rect x="568.5" y="360.5" width="7" height="6" fill="#f0882c"/><rect x="575.5" y="360.5" width="7" height="6" fill="#ea7b2c"/><rect x="582.5" y="360.5" width="7" height="6" fill="#24272e"/><rect x="506.5" y="366.5" width="7" height="7" fill="#ea7b2c"/><rect x="513.5" y="366.5" width="7" height="7" fill="#ea7b2c"/><rect x="520.5" y="366.5" width="7" height="7" fill="#f0882c"/><rect x="527.5" y="366.5" width="7" height="7" fill="#f4ae5e"/><rect x="534.5" y="366.5" width="7" height="7" fill="#f4ae5e"/><rect x="541.5" y="366.5" width="7" height="7" fill="#d8a458"/><rect x="548.5" y="366.5" width="6" height="7" fill="#d8a458"/><rect x="554.5" y="366.5" width="7" height="7" fill="#d8a458"/><rect x="561.5" y="366.5" width="7" height="7" fill="#f4ae5e"/><rect x="568.5" y="366.5" width="7" height="7" fill="#f0882c"/><rect x="575.5" y="366.5" width="7" height="7" fill="#f0882c"/><rect x="582.5" y="366.5" width="7" height="7" fill="#ea7b2c"/><rect x="458.5" y="373.5" width="7" height="7" fill="#111111"/><rect x="465.5" y="373.5" width="6" height="7" fill="#111111"/><rect x="499.5" y="373.5" width="7" height="7" fill="#d0581e"/><rect x="506.5" y="373.5" width="7" height="7" fill="#ea7b2c"/><rect x="513.5" y="373.5" width="7" height="7" fill="#f0882c"/><rect x="520.5" y="373.5" width="7" height="7" fill="#f0882c"/><rect x="527.5" y="373.5" width="7" height="7" fill="#f4ae5e"/><rect x="534.5" y="373.5" width="7" height="7" fill="#d8a458"/><rect x="541.5" y="373.5" width="7" height="7" fill="#f4ae5e"/><rect x="548.5" y="373.5" width="6" height="7" fill="#d8a458"/><rect x="554.5" y="373.5" width="7" height="7" fill="#d8a458"/><rect x="561.5" y="373.5" width="7" height="7" fill="#f4ae5e"/><rect x="568.5" y="373.5" width="7" height="7" fill="#f4ae5e"/><rect x="575.5" y="373.5" width="7" height="7" fill="#f0882c"/><rect x="582.5" y="373.5" width="7" height="7" fill="#ea7b2c"/><rect x="589.5" y="373.5" width="7" height="7" fill="#ea7b2c"/><rect x="458.5" y="380.5" width="7" height="7" fill="#111111"/><rect x="465.5" y="380.5" width="6" height="7" fill="#111111"/><rect x="492.5" y="380.5" width="7" height="7" fill="#d0581e"/><rect x="499.5" y="380.5" width="7" height="7" fill="#ea7b2c"/><rect x="506.5" y="380.5" width="7" height="7" fill="#ea7b2c"/><rect x="513.5" y="380.5" width="7" height="7" fill="#f0882c"/><rect x="520.5" y="380.5" width="7" height="7" fill="#f4ae5e"/><rect x="527.5" y="380.5" width="7" height="7" fill="#f4ae5e"/><rect x="534.5" y="380.5" width="7" height="7" fill="#d8a458"/><rect x="541.5" y="380.5" width="7" height="7" fill="#d8a458"/><rect x="548.5" y="380.5" width="6" height="7" fill="#d8a458"/><rect x="554.5" y="380.5" width="7" height="7" fill="#d8a458"/><rect x="561.5" y="380.5" width="7" height="7" fill="#d8a458"/><rect x="568.5" y="380.5" width="7" height="7" fill="#f4ae5e"/><rect x="575.5" y="380.5" width="7" height="7" fill="#f0882c"/><rect x="582.5" y="380.5" width="7" height="7" fill="#f0882c"/><rect x="589.5" y="380.5" width="7" height="7" fill="#ea7b2c"/><rect x="492.5" y="387.5" width="7" height="7" fill="#d0581e"/><rect x="499.5" y="387.5" width="7" height="7" fill="#ea7b2c"/><rect x="506.5" y="387.5" width="7" height="7" fill="#f0882c"/><rect x="513.5" y="387.5" width="7" height="7" fill="#f0882c"/><rect x="520.5" y="387.5" width="7" height="7" fill="#f4ae5e"/><rect x="527.5" y="387.5" width="7" height="7" fill="#d8a458"/><rect x="534.5" y="387.5" width="7" height="7" fill="#f4ae5e"/><rect x="541.5" y="387.5" width="7" height="7" fill="#d8a458"/><rect x="548.5" y="387.5" width="6" height="7" fill="#d8a458"/><rect x="554.5" y="387.5" width="7" height="7" fill="#f4ae5e"/><rect x="561.5" y="387.5" width="7" height="7" fill="#d8a458"/><rect x="568.5" y="387.5" width="7" height="7" fill="#f4ae5e"/><rect x="575.5" y="387.5" width="7" height="7" fill="#f0882c"/><rect x="582.5" y="387.5" width="7" height="7" fill="#f0882c"/><rect x="589.5" y="387.5" width="7" height="7" fill="#ea7b2c"/><rect x="596.5" y="387.5" width="7" height="7" fill="#ea7b2c"/><rect x="485.5" y="394.5" width="7" height="7" fill="#d0581e"/><rect x="492.5" y="394.5" width="7" height="7" fill="#d0581e"/><rect x="499.5" y="394.5" width="7" height="7" fill="#ea7b2c"/><rect x="506.5" y="394.5" width="7" height="7" fill="#f0882c"/><rect x="513.5" y="394.5" width="7" height="7" fill="#2c2f37"/><rect x="520.5" y="394.5" width="7" height="7" fill="#2c2f37"/><rect x="527.5" y="394.5" width="7" height="7" fill="#3c414a"/><rect x="534.5" y="394.5" width="7" height="7" fill="#3c414a"/><rect x="541.5" y="394.5" width="7" height="7" fill="#4a5060"/><rect x="548.5" y="394.5" width="6" height="7" fill="#4a5060"/><rect x="554.5" y="394.5" width="7" height="7" fill="#4a5060"/><rect x="561.5" y="394.5" width="7" height="7" fill="#3c414a"/><rect x="568.5" y="394.5" width="7" height="7" fill="#3c414a"/><rect x="575.5" y="394.5" width="7" height="7" fill="#2c2f37"/><rect x="582.5" y="394.5" width="7" height="7" fill="#f0882c"/><rect x="589.5" y="394.5" width="7" height="7" fill="#ea7b2c"/><rect x="596.5" y="394.5" width="7" height="7" fill="#ea7b2c"/><rect x="485.5" y="401.5" width="7" height="7" fill="#d0581e"/><rect x="492.5" y="401.5" width="7" height="7" fill="#24272e"/><rect x="499.5" y="401.5" width="7" height="7" fill="#24272e"/><rect x="506.5" y="401.5" width="7" height="7" fill="#2c2f37"/><rect x="513.5" y="401.5" width="7" height="7" fill="#2c2f37"/><rect x="520.5" y="401.5" width="7" height="7" fill="#3c414a"/><rect x="527.5" y="401.5" width="7" height="7" fill="#3c414a"/><rect x="534.5" y="401.5" width="7" height="7" fill="#4a5060"/><rect x="541.5" y="401.5" width="7" height="7" fill="#4a5060"/><rect x="548.5" y="401.5" width="6" height="7" fill="#4a5060"/><rect x="554.5" y="401.5" width="7" height="7" fill="#3c414a"/><rect x="561.5" y="401.5" width="7" height="7" fill="#4a5060"/><rect x="568.5" y="401.5" width="7" height="7" fill="#3c414a"/><rect x="575.5" y="401.5" width="7" height="7" fill="#2c2f37"/><rect x="582.5" y="401.5" width="7" height="7" fill="#2c2f37"/><rect x="589.5" y="401.5" width="7" height="7" fill="#24272e"/><rect x="596.5" y="401.5" width="7" height="7" fill="#24272e"/><rect x="603.5" y="401.5" width="7" height="7" fill="#24272e"/><rect x="485.5" y="408.5" width="7" height="7" fill="#24272e"/><rect x="492.5" y="408.5" width="7" height="7" fill="#24272e"/><rect x="499.5" y="408.5" width="7" height="7" fill="#2c2f37"/><rect x="506.5" y="408.5" width="7" height="7" fill="#2c2f37"/><rect x="513.5" y="408.5" width="7" height="7" fill="#2c2f37"/><rect x="520.5" y="408.5" width="7" height="7" fill="#3c414a"/><rect x="527.5" y="408.5" width="7" height="7" fill="#3c414a"/><rect x="534.5" y="408.5" width="7" height="7" fill="#4a5060"/><rect x="541.5" y="408.5" width="7" height="7" fill="#4a5060"/><rect x="548.5" y="408.5" width="6" height="7" fill="#5a6172"/><rect x="554.5" y="408.5" width="7" height="7" fill="#4a5060"/><rect x="561.5" y="408.5" width="7" height="7" fill="#3c414a"/><rect x="568.5" y="408.5" width="7" height="7" fill="#3c414a"/><rect x="575.5" y="408.5" width="7" height="7" fill="#3c414a"/><rect x="582.5" y="408.5" width="7" height="7" fill="#2c2f37"/><rect x="589.5" y="408.5" width="7" height="7" fill="#2c2f37"/><rect x="596.5" y="408.5" width="7" height="7" fill="#24272e"/><rect x="603.5" y="408.5" width="7" height="7" fill="#24272e"/><rect x="485.5" y="415.5" width="7" height="7" fill="#24272e"/><rect x="492.5" y="415.5" width="7" height="7" fill="#2c2f37"/><rect x="499.5" y="415.5" width="7" height="7" fill="#2c2f37"/><rect x="506.5" y="415.5" width="7" height="7" fill="#2c2f37"/><rect x="513.5" y="415.5" width="7" height="7" fill="#3c414a"/><rect x="520.5" y="415.5" width="7" height="7" fill="#2c2f37"/><rect x="527.5" y="415.5" width="7" height="7" fill="#3c414a"/><rect x="534.5" y="415.5" width="7" height="7" fill="#4a5060"/><rect x="541.5" y="415.5" width="7" height="7" fill="#5a6172"/><rect x="548.5" y="415.5" width="6" height="7" fill="#5a6172"/><rect x="554.5" y="415.5" width="7" height="7" fill="#5a6172"/><rect x="561.5" y="415.5" width="7" height="7" fill="#4a5060"/><rect x="568.5" y="415.5" width="7" height="7" fill="#3c414a"/><rect x="575.5" y="415.5" width="7" height="7" fill="#2c2f37"/><rect x="582.5" y="415.5" width="7" height="7" fill="#3c414a"/><rect x="589.5" y="415.5" width="7" height="7" fill="#2c2f37"/><rect x="596.5" y="415.5" width="7" height="7" fill="#2c2f37"/><rect x="603.5" y="415.5" width="7" height="7" fill="#24272e"/><rect x="478.5" y="422.5" width="7" height="7" fill="#24272e"/><rect x="485.5" y="422.5" width="7" height="7" fill="#24272e"/><rect x="492.5" y="422.5" width="7" height="7" fill="#24272e"/><rect x="499.5" y="422.5" width="7" height="7" fill="#2c2f37"/><rect x="506.5" y="422.5" width="7" height="7" fill="#2c2f37"/><rect x="513.5" y="422.5" width="7" height="7" fill="#2c2f37"/><rect x="520.5" y="422.5" width="7" height="7" fill="#3c414a"/><rect x="527.5" y="422.5" width="7" height="7" fill="#4a5060"/><rect x="534.5" y="422.5" width="7" height="7" fill="#4a5060"/><rect x="541.5" y="422.5" width="7" height="7" fill="#5a6172"/><rect x="548.5" y="422.5" width="6" height="7" fill="#5a6172"/><rect x="554.5" y="422.5" width="7" height="7" fill="#5a6172"/><rect x="561.5" y="422.5" width="7" height="7" fill="#4a5060"/><rect x="568.5" y="422.5" width="7" height="7" fill="#3c414a"/><rect x="575.5" y="422.5" width="7" height="7" fill="#3c414a"/><rect x="582.5" y="422.5" width="7" height="7" fill="#2c2f37"/><rect x="589.5" y="422.5" width="7" height="7" fill="#2c2f37"/><rect x="596.5" y="422.5" width="7" height="7" fill="#2c2f37"/><rect x="603.5" y="422.5" width="7" height="7" fill="#24272e"/><rect x="610.5" y="422.5" width="7" height="7" fill="#24272e"/><rect x="478.5" y="429.5" width="7" height="7" fill="#24272e"/><rect x="485.5" y="429.5" width="7" height="7" fill="#24272e"/><rect x="492.5" y="429.5" width="7" height="7" fill="#24272e"/><rect x="499.5" y="429.5" width="7" height="7" fill="#24272e"/><rect x="506.5" y="429.5" width="7" height="7" fill="#f0882c"/><rect x="513.5" y="429.5" width="7" height="7" fill="#f4ae5e"/><rect x="520.5" y="429.5" width="7" height="7" fill="#f4ae5e"/><rect x="527.5" y="429.5" width="7" height="7" fill="#f4ae5e"/><rect x="534.5" y="429.5" width="7" height="7" fill="#d8a458"/><rect x="541.5" y="429.5" width="7" height="7" fill="#d8a458"/><rect x="548.5" y="429.5" width="6" height="7" fill="#d8a458"/><rect x="554.5" y="429.5" width="7" height="7" fill="#f4ae5e"/><rect x="561.5" y="429.5" width="7" height="7" fill="#f4ae5e"/><rect x="568.5" y="429.5" width="7" height="7" fill="#f0882c"/><rect x="575.5" y="429.5" width="7" height="7" fill="#f0882c"/><rect x="582.5" y="429.5" width="7" height="7" fill="#ea7b2c"/><rect x="589.5" y="429.5" width="7" height="7" fill="#2c2f37"/><rect x="596.5" y="429.5" width="7" height="7" fill="#24272e"/><rect x="603.5" y="429.5" width="7" height="7" fill="#24272e"/><rect x="610.5" y="429.5" width="7" height="7" fill="#24272e"/><rect x="478.5" y="436.5" width="7" height="6" fill="#24272e"/><rect x="485.5" y="436.5" width="7" height="6" fill="#d0581e"/><rect x="492.5" y="436.5" width="7" height="6" fill="#ea7b2c"/><rect x="499.5" y="436.5" width="7" height="6" fill="#f0882c"/><rect x="506.5" y="436.5" width="7" height="6" fill="#f0882c"/><rect x="513.5" y="436.5" width="7" height="6" fill="#f4ae5e"/><rect x="520.5" y="436.5" width="7" height="6" fill="#f4ae5e"/><rect x="527.5" y="436.5" width="7" height="6" fill="#d8a458"/><rect x="534.5" y="436.5" width="7" height="6" fill="#d8a458"/><rect x="541.5" y="436.5" width="7" height="6" fill="#d8a458"/><rect x="548.5" y="436.5" width="6" height="6" fill="#d8a458"/><rect x="554.5" y="436.5" width="7" height="6" fill="#d8a458"/><rect x="561.5" y="436.5" width="7" height="6" fill="#f4ae5e"/><rect x="568.5" y="436.5" width="7" height="6" fill="#f4ae5e"/><rect x="575.5" y="436.5" width="7" height="6" fill="#f0882c"/><rect x="582.5" y="436.5" width="7" height="6" fill="#f0882c"/><rect x="589.5" y="436.5" width="7" height="6" fill="#ea7b2c"/><rect x="596.5" y="436.5" width="7" height="6" fill="#ea7b2c"/><rect x="603.5" y="436.5" width="7" height="6" fill="#d0581e"/><rect x="610.5" y="436.5" width="7" height="6" fill="#24272e"/><rect x="471.5" y="442.5" width="7" height="7" fill="#d0581e"/><rect x="478.5" y="442.5" width="7" height="7" fill="#d0581e"/><rect x="485.5" y="442.5" width="7" height="7" fill="#ea7b2c"/><rect x="492.5" y="442.5" width="7" height="7" fill="#ea7b2c"/><rect x="499.5" y="442.5" width="7" height="7" fill="#f0882c"/><rect x="506.5" y="442.5" width="7" height="7" fill="#f0882c"/><rect x="513.5" y="442.5" width="7" height="7" fill="#f0882c"/><rect x="520.5" y="442.5" width="7" height="7" fill="#f4ae5e"/><rect x="527.5" y="442.5" width="7" height="7" fill="#d8a458"/><rect x="534.5" y="442.5" width="7" height="7" fill="#f4ae5e"/><rect x="541.5" y="442.5" width="7" height="7" fill="#d8a458"/><rect x="548.5" y="442.5" width="6" height="7" fill="#d8a458"/><rect x="554.5" y="442.5" width="7" height="7" fill="#d8a458"/><rect x="561.5" y="442.5" width="7" height="7" fill="#f4ae5e"/><rect x="568.5" y="442.5" width="7" height="7" fill="#f4ae5e"/><rect x="575.5" y="442.5" width="7" height="7" fill="#f4ae5e"/><rect x="582.5" y="442.5" width="7" height="7" fill="#f0882c"/><rect x="589.5" y="442.5" width="7" height="7" fill="#f0882c"/><rect x="596.5" y="442.5" width="7" height="7" fill="#ea7b2c"/><rect x="603.5" y="442.5" width="7" height="7" fill="#ea7b2c"/><rect x="610.5" y="442.5" width="7" height="7" fill="#d0581e"/><rect x="617.5" y="442.5" width="7" height="7" fill="#d0581e"/><rect x="471.5" y="449.5" width="7" height="7" fill="#d0581e"/><rect x="478.5" y="449.5" width="7" height="7" fill="#d0581e"/><rect x="485.5" y="449.5" width="7" height="7" fill="#ea7b2c"/><rect x="492.5" y="449.5" width="7" height="7" fill="#f0882c"/><rect x="499.5" y="449.5" width="7" height="7" fill="#ea7b2c"/><rect x="506.5" y="449.5" width="7" height="7" fill="#f0882c"/><rect x="513.5" y="449.5" width="7" height="7" fill="#f4ae5e"/><rect x="520.5" y="449.5" width="7" height="7" fill="#d8a458"/><rect x="527.5" y="449.5" width="7" height="7" fill="#f4ae5e"/><rect x="534.5" y="449.5" width="7" height="7" fill="#d8a458"/><rect x="541.5" y="449.5" width="7" height="7" fill="#d8a458"/><rect x="548.5" y="449.5" width="6" height="7" fill="#d8a458"/><rect x="554.5" y="449.5" width="7" height="7" fill="#d8a458"/><rect x="561.5" y="449.5" width="7" height="7" fill="#d8a458"/><rect x="568.5" y="449.5" width="7" height="7" fill="#f4ae5e"/><rect x="575.5" y="449.5" width="7" height="7" fill="#f4ae5e"/><rect x="582.5" y="449.5" width="7" height="7" fill="#f0882c"/><rect x="589.5" y="449.5" width="7" height="7" fill="#f0882c"/><rect x="596.5" y="449.5" width="7" height="7" fill="#f0882c"/><rect x="603.5" y="449.5" width="7" height="7" fill="#ea7b2c"/><rect x="610.5" y="449.5" width="7" height="7" fill="#d0581e"/><rect x="617.5" y="449.5" width="7" height="7" fill="#d0581e"/><rect x="471.5" y="456.5" width="7" height="7" fill="#d0581e"/><rect x="478.5" y="456.5" width="7" height="7" fill="#ea7b2c"/><rect x="485.5" y="456.5" width="7" height="7" fill="#d0581e"/><rect x="492.5" y="456.5" width="7" height="7" fill="#ea7b2c"/><rect x="499.5" y="456.5" width="7" height="7" fill="#f0882c"/><rect x="506.5" y="456.5" width="7" height="7" fill="#f0882c"/><rect x="513.5" y="456.5" width="7" height="7" fill="#f0882c"/><rect x="520.5" y="456.5" width="7" height="7" fill="#f4ae5e"/><rect x="527.5" y="456.5" width="7" height="7" fill="#d8a458"/><rect x="534.5" y="456.5" width="7" height="7" fill="#d8a458"/><rect x="541.5" y="456.5" width="7" height="7" fill="#d8a458"/><rect x="548.5" y="456.5" width="6" height="7" fill="#d8a458"/><rect x="554.5" y="456.5" width="7" height="7" fill="#d8a458"/><rect x="561.5" y="456.5" width="7" height="7" fill="#f4ae5e"/><rect x="568.5" y="456.5" width="7" height="7" fill="#d8a458"/><rect x="575.5" y="456.5" width="7" height="7" fill="#f4ae5e"/><rect x="582.5" y="456.5" width="7" height="7" fill="#f0882c"/><rect x="589.5" y="456.5" width="7" height="7" fill="#ea7b2c"/><rect x="596.5" y="456.5" width="7" height="7" fill="#ea7b2c"/><rect x="603.5" y="456.5" width="7" height="7" fill="#ea7b2c"/><rect x="610.5" y="456.5" width="7" height="7" fill="#d0581e"/><rect x="617.5" y="456.5" width="7" height="7" fill="#d0581e"/><rect x="465.5" y="463.5" width="6" height="7" fill="#d8502c"/><rect x="471.5" y="463.5" width="7" height="7" fill="#d0581e"/><rect x="478.5" y="463.5" width="7" height="7" fill="#d0581e"/><rect x="485.5" y="463.5" width="7" height="7" fill="#ea7b2c"/><rect x="492.5" y="463.5" width="7" height="7" fill="#ea7b2c"/><rect x="499.5" y="463.5" width="7" height="7" fill="#3c414a"/><rect x="506.5" y="463.5" width="7" height="7" fill="#3c414a"/><rect x="513.5" y="463.5" width="7" height="7" fill="#4a5060"/><rect x="520.5" y="463.5" width="7" height="7" fill="#4a5060"/><rect x="527.5" y="463.5" width="7" height="7" fill="#4a5060"/><rect x="534.5" y="463.5" width="7" height="7" fill="#4a5060"/><rect x="541.5" y="463.5" width="7" height="7" fill="#5a6172"/><rect x="548.5" y="463.5" width="6" height="7" fill="#5a6172"/><rect x="554.5" y="463.5" width="7" height="7" fill="#5a6172"/><rect x="561.5" y="463.5" width="7" height="7" fill="#4a5060"/><rect x="568.5" y="463.5" width="7" height="7" fill="#4a5060"/><rect x="575.5" y="463.5" width="7" height="7" fill="#4a5060"/><rect x="582.5" y="463.5" width="7" height="7" fill="#3c414a"/><rect x="589.5" y="463.5" width="7" height="7" fill="#2c2f37"/><rect x="596.5" y="463.5" width="7" height="7" fill="#ea7b2c"/><rect x="603.5" y="463.5" width="7" height="7" fill="#ea7b2c"/><rect x="610.5" y="463.5" width="7" height="7" fill="#d0581e"/><rect x="617.5" y="463.5" width="7" height="7" fill="#d0581e"/><rect x="624.5" y="463.5" width="7" height="7" fill="#d8502c"/><rect x="465.5" y="470.5" width="6" height="7" fill="#d8502c"/><rect x="471.5" y="470.5" width="7" height="7" fill="#d8502c"/><rect x="478.5" y="470.5" width="7" height="7" fill="#2c2f37"/><rect x="485.5" y="470.5" width="7" height="7" fill="#2c2f37"/><rect x="492.5" y="470.5" width="7" height="7" fill="#3c414a"/><rect x="499.5" y="470.5" width="7" height="7" fill="#3c414a"/><rect x="506.5" y="470.5" width="7" height="7" fill="#4a5060"/><rect x="513.5" y="470.5" width="7" height="7" fill="#4a5060"/><rect x="520.5" y="470.5" width="7" height="7" fill="#5a6172"/><rect x="527.5" y="470.5" width="7" height="7" fill="#4a5060"/><rect x="534.5" y="470.5" width="7" height="7" fill="#5a6172"/><rect x="541.5" y="470.5" width="7" height="7" fill="#5a6172"/><rect x="548.5" y="470.5" width="6" height="7" fill="#5a6172"/><rect x="554.5" y="470.5" width="7" height="7" fill="#5a6172"/><rect x="561.5" y="470.5" width="7" height="7" fill="#5a6172"/><rect x="568.5" y="470.5" width="7" height="7" fill="#4a5060"/><rect x="575.5" y="470.5" width="7" height="7" fill="#4a5060"/><rect x="582.5" y="470.5" width="7" height="7" fill="#4a5060"/><rect x="589.5" y="470.5" width="7" height="7" fill="#3c414a"/><rect x="596.5" y="470.5" width="7" height="7" fill="#3c414a"/><rect x="603.5" y="470.5" width="7" height="7" fill="#2c2f37"/><rect x="610.5" y="470.5" width="7" height="7" fill="#d0581e"/><rect x="617.5" y="470.5" width="7" height="7" fill="#d8502c"/><rect x="624.5" y="470.5" width="7" height="7" fill="#d8502c"/><rect x="465.5" y="477.5" width="6" height="7" fill="#24272e"/><rect x="471.5" y="477.5" width="7" height="7" fill="#2c2f37"/><rect x="478.5" y="477.5" width="7" height="7" fill="#2c2f37"/><rect x="485.5" y="477.5" width="7" height="7" fill="#3c414a"/><rect x="492.5" y="477.5" width="7" height="7" fill="#3c414a"/><rect x="499.5" y="477.5" width="7" height="7" fill="#4a5060"/><rect x="506.5" y="477.5" width="7" height="7" fill="#4a5060"/><rect x="513.5" y="477.5" width="7" height="7" fill="#5a6172"/><rect x="520.5" y="477.5" width="7" height="7" fill="#4a5060"/><rect x="527.5" y="477.5" width="7" height="7" fill="#5a6172"/><rect x="534.5" y="477.5" width="7" height="7" fill="#5a6172"/><rect x="541.5" y="477.5" width="7" height="7" fill="#5a6172"/><rect x="548.5" y="477.5" width="6" height="7" fill="#5a6172"/><rect x="554.5" y="477.5" width="7" height="7" fill="#5a6172"/><rect x="561.5" y="477.5" width="7" height="7" fill="#4a5060"/><rect x="568.5" y="477.5" width="7" height="7" fill="#5a6172"/><rect x="575.5" y="477.5" width="7" height="7" fill="#4a5060"/><rect x="582.5" y="477.5" width="7" height="7" fill="#4a5060"/><rect x="589.5" y="477.5" width="7" height="7" fill="#3c414a"/><rect x="596.5" y="477.5" width="7" height="7" fill="#3c414a"/><rect x="603.5" y="477.5" width="7" height="7" fill="#2c2f37"/><rect x="610.5" y="477.5" width="7" height="7" fill="#2c2f37"/><rect x="617.5" y="477.5" width="7" height="7" fill="#2c2f37"/><rect x="624.5" y="477.5" width="7" height="7" fill="#24272e"/><rect x="465.5" y="484.5" width="6" height="7" fill="#24272e"/><rect x="471.5" y="484.5" width="7" height="7" fill="#2c2f37"/><rect x="478.5" y="484.5" width="7" height="7" fill="#2c2f37"/><rect x="485.5" y="484.5" width="7" height="7" fill="#3c414a"/><rect x="492.5" y="484.5" width="7" height="7" fill="#3c414a"/><rect x="499.5" y="484.5" width="7" height="7" fill="#4a5060"/><rect x="506.5" y="484.5" width="7" height="7" fill="#5a6172"/><rect x="513.5" y="484.5" width="7" height="7" fill="#4a5060"/><rect x="520.5" y="484.5" width="7" height="7" fill="#5a6172"/><rect x="527.5" y="484.5" width="7" height="7" fill="#4a5060"/><rect x="534.5" y="484.5" width="7" height="7" fill="#5a6172"/><rect x="541.5" y="484.5" width="7" height="7" fill="#5a6172"/><rect x="548.5" y="484.5" width="6" height="7" fill="#5a6172"/><rect x="554.5" y="484.5" width="7" height="7" fill="#5a6172"/><rect x="561.5" y="484.5" width="7" height="7" fill="#5a6172"/><rect x="568.5" y="484.5" width="7" height="7" fill="#4a5060"/><rect x="575.5" y="484.5" width="7" height="7" fill="#4a5060"/><rect x="582.5" y="484.5" width="7" height="7" fill="#3c414a"/><rect x="589.5" y="484.5" width="7" height="7" fill="#4a5060"/><rect x="596.5" y="484.5" width="7" height="7" fill="#3c414a"/><rect x="603.5" y="484.5" width="7" height="7" fill="#3c414a"/><rect x="610.5" y="484.5" width="7" height="7" fill="#2c2f37"/><rect x="617.5" y="484.5" width="7" height="7" fill="#2c2f37"/><rect x="624.5" y="484.5" width="7" height="7" fill="#24272e"/><rect x="458.5" y="491.5" width="7" height="7" fill="#24272e"/><rect x="465.5" y="491.5" width="6" height="7" fill="#24272e"/><rect x="471.5" y="491.5" width="7" height="7" fill="#2c2f37"/><rect x="478.5" y="491.5" width="7" height="7" fill="#2c2f37"/><rect x="485.5" y="491.5" width="7" height="7" fill="#2c2f37"/><rect x="492.5" y="491.5" width="7" height="7" fill="#3c414a"/><rect x="499.5" y="491.5" width="7" height="7" fill="#3c414a"/><rect x="506.5" y="491.5" width="7" height="7" fill="#4a5060"/><rect x="513.5" y="491.5" width="7" height="7" fill="#f4ae5e"/><rect x="520.5" y="491.5" width="7" height="7" fill="#f4ae5e"/><rect x="527.5" y="491.5" width="7" height="7" fill="#d8a458"/><rect x="534.5" y="491.5" width="7" height="7" fill="#d8a458"/><rect x="541.5" y="491.5" width="7" height="7" fill="#d8a458"/><rect x="548.5" y="491.5" width="6" height="7" fill="#d8a458"/><rect x="554.5" y="491.5" width="7" height="7" fill="#d8a458"/><rect x="561.5" y="491.5" width="7" height="7" fill="#d8a458"/><rect x="568.5" y="491.5" width="7" height="7" fill="#f4ae5e"/><rect x="575.5" y="491.5" width="7" height="7" fill="#f4ae5e"/><rect x="582.5" y="491.5" width="7" height="7" fill="#f4ae5e"/><rect x="589.5" y="491.5" width="7" height="7" fill="#3c414a"/><rect x="596.5" y="491.5" width="7" height="7" fill="#2c2f37"/><rect x="603.5" y="491.5" width="7" height="7" fill="#2c2f37"/><rect x="610.5" y="491.5" width="7" height="7" fill="#2c2f37"/><rect x="617.5" y="491.5" width="7" height="7" fill="#2c2f37"/><rect x="624.5" y="491.5" width="7" height="7" fill="#24272e"/><rect x="631.5" y="491.5" width="6" height="7" fill="#24272e"/><rect x="458.5" y="498.5" width="7" height="7" fill="#24272e"/><rect x="465.5" y="498.5" width="6" height="7" fill="#24272e"/><rect x="471.5" y="498.5" width="7" height="7" fill="#24272e"/><rect x="478.5" y="498.5" width="7" height="7" fill="#2c2f37"/><rect x="485.5" y="498.5" width="7" height="7" fill="#2c2f37"/><rect x="492.5" y="498.5" width="7" height="7" fill="#f0882c"/><rect x="499.5" y="498.5" width="7" height="7" fill="#f4ae5e"/><rect x="506.5" y="498.5" width="7" height="7" fill="#f4ae5e"/><rect x="513.5" y="498.5" width="7" height="7" fill="#f4ae5e"/><rect x="520.5" y="498.5" width="7" height="7" fill="#d8a458"/><rect x="527.5" y="498.5" width="7" height="7" fill="#d8a458"/><rect x="534.5" y="498.5" width="7" height="7" fill="#d8a458"/><rect x="541.5" y="498.5" width="7" height="7" fill="#d8a458"/><rect x="548.5" y="498.5" width="6" height="7" fill="#d8a458"/><rect x="554.5" y="498.5" width="7" height="7" fill="#d8a458"/><rect x="561.5" y="498.5" width="7" height="7" fill="#d8a458"/><rect x="568.5" y="498.5" width="7" height="7" fill="#d8a458"/><rect x="575.5" y="498.5" width="7" height="7" fill="#f4ae5e"/><rect x="582.5" y="498.5" width="7" height="7" fill="#f4ae5e"/><rect x="589.5" y="498.5" width="7" height="7" fill="#f4ae5e"/><rect x="596.5" y="498.5" width="7" height="7" fill="#f0882c"/><rect x="603.5" y="498.5" width="7" height="7" fill="#f0882c"/><rect x="610.5" y="498.5" width="7" height="7" fill="#2c2f37"/><rect x="617.5" y="498.5" width="7" height="7" fill="#24272e"/><rect x="624.5" y="498.5" width="7" height="7" fill="#24272e"/><rect x="631.5" y="498.5" width="6" height="7" fill="#24272e"/><rect x="458.5" y="505.5" width="7" height="7" fill="#24272e"/><rect x="465.5" y="505.5" width="6" height="7" fill="#24272e"/><rect x="471.5" y="505.5" width="7" height="7" fill="#24272e"/><rect x="478.5" y="505.5" width="7" height="7" fill="#ea7b2c"/><rect x="485.5" y="505.5" width="7" height="7" fill="#f0882c"/><rect x="492.5" y="505.5" width="7" height="7" fill="#f0882c"/><rect x="499.5" y="505.5" width="7" height="7" fill="#f4ae5e"/><rect x="506.5" y="505.5" width="7" height="7" fill="#f4ae5e"/><rect x="513.5" y="505.5" width="7" height="7" fill="#d8a458"/><rect x="520.5" y="505.5" width="7" height="7" fill="#d8a458"/><rect x="527.5" y="505.5" width="7" height="7" fill="#d8a458"/><rect x="534.5" y="505.5" width="7" height="7" fill="#d8a458"/><rect x="541.5" y="505.5" width="7" height="7" fill="#d8a458"/><rect x="548.5" y="505.5" width="6" height="7" fill="#d8a458"/><rect x="554.5" y="505.5" width="7" height="7" fill="#d8a458"/><rect x="561.5" y="505.5" width="7" height="7" fill="#d8a458"/><rect x="568.5" y="505.5" width="7" height="7" fill="#d8a458"/><rect x="575.5" y="505.5" width="7" height="7" fill="#d8a458"/><rect x="582.5" y="505.5" width="7" height="7" fill="#f4ae5e"/><rect x="589.5" y="505.5" width="7" height="7" fill="#f4ae5e"/><rect x="596.5" y="505.5" width="7" height="7" fill="#f0882c"/><rect x="603.5" y="505.5" width="7" height="7" fill="#f0882c"/><rect x="610.5" y="505.5" width="7" height="7" fill="#f0882c"/><rect x="617.5" y="505.5" width="7" height="7" fill="#ea7b2c"/><rect x="624.5" y="505.5" width="7" height="7" fill="#24272e"/><rect x="631.5" y="505.5" width="6" height="7" fill="#24272e"/><rect x="458.5" y="512.5" width="7" height="6" fill="#24272e"/><rect x="465.5" y="512.5" width="6" height="6" fill="#d0581e"/><rect x="471.5" y="512.5" width="7" height="6" fill="#ea7b2c"/><rect x="478.5" y="512.5" width="7" height="6" fill="#ea7b2c"/><rect x="485.5" y="512.5" width="7" height="6" fill="#f0882c"/><rect x="492.5" y="512.5" width="7" height="6" fill="#f0882c"/><rect x="499.5" y="512.5" width="7" height="6" fill="#f0882c"/><rect x="506.5" y="512.5" width="7" height="6" fill="#f4ae5e"/><rect x="513.5" y="512.5" width="7" height="6" fill="#f4ae5e"/><rect x="520.5" y="512.5" width="7" height="6" fill="#d8a458"/><rect x="527.5" y="512.5" width="7" height="6" fill="#d8a458"/><rect x="534.5" y="512.5" width="7" height="6" fill="#d8a458"/><rect x="541.5" y="512.5" width="7" height="6" fill="#d8a458"/><rect x="548.5" y="512.5" width="6" height="6" fill="#d8a458"/><rect x="554.5" y="512.5" width="7" height="6" fill="#d8a458"/><rect x="561.5" y="512.5" width="7" height="6" fill="#d8a458"/><rect x="568.5" y="512.5" width="7" height="6" fill="#d8a458"/><rect x="575.5" y="512.5" width="7" height="6" fill="#f4ae5e"/><rect x="582.5" y="512.5" width="7" height="6" fill="#d8a458"/><rect x="589.5" y="512.5" width="7" height="6" fill="#f4ae5e"/><rect x="596.5" y="512.5" width="7" height="6" fill="#f0882c"/><rect x="603.5" y="512.5" width="7" height="6" fill="#f0882c"/><rect x="610.5" y="512.5" width="7" height="6" fill="#f0882c"/><rect x="617.5" y="512.5" width="7" height="6" fill="#ea7b2c"/><rect x="624.5" y="512.5" width="7" height="6" fill="#d0581e"/><rect x="631.5" y="512.5" width="6" height="6" fill="#d0581e"/><path d="M416.5,284.5V518.5M423.5,284.5V518.5M430.5,284.5V518.5M437.5,284.5V518.5M444.5,284.5V518.5M451.5,284.5V518.5M465.5,284.5V518.5M471.5,284.5V518.5M478.5,284.5V518.5M485.5,284.5V518.5M492.5,284.5V518.5M499.5,284.5V518.5M506.5,284.5V518.5M513.5,284.5V518.5M520.5,284.5V518.5M534.5,284.5V518.5M541.5,284.5V518.5M548.5,284.5V518.5M554.5,284.5V518.5M561.5,284.5V518.5M568.5,284.5V518.5M575.5,284.5V518.5M582.5,284.5V518.5M589.5,284.5V518.5M603.5,284.5V518.5M610.5,284.5V518.5M617.5,284.5V518.5M624.5,284.5V518.5M631.5,284.5V518.5M637.5,284.5V518.5M644.5,284.5V518.5M651.5,284.5V518.5M658.5,284.5V518.5M672.5,284.5V518.5M679.5,284.5V518.5M686.5,284.5V518.5M693.5,284.5V518.5M700.5,284.5V518.5M707.5,284.5V518.5M714.5,284.5V518.5M720.5,284.5V518.5M727.5,284.5V518.5M741.5,284.5V518.5M748.5,284.5V518.5M755.5,284.5V518.5M762.5,284.5V518.5M769.5,284.5V518.5M776.5,284.5V518.5M783.5,284.5V518.5M409.5,290.5H790.5M409.5,297.5H790.5M409.5,304.5H790.5M409.5,318.5H790.5M409.5,325.5H790.5M409.5,332.5H790.5M409.5,339.5H790.5M409.5,346.5H790.5M409.5,353.5H790.5M409.5,360.5H790.5M409.5,366.5H790.5M409.5,373.5H790.5M409.5,387.5H790.5M409.5,394.5H790.5M409.5,401.5H790.5M409.5,408.5H790.5M409.5,415.5H790.5M409.5,422.5H790.5M409.5,429.5H790.5M409.5,436.5H790.5M409.5,442.5H790.5M409.5,456.5H790.5M409.5,463.5H790.5M409.5,470.5H790.5M409.5,477.5H790.5M409.5,484.5H790.5M409.5,491.5H790.5M409.5,498.5H790.5M409.5,505.5H790.5M409.5,512.5H790.5" stroke="rgba(0,0,0,0.55)" stroke-width="1" fill="none"/><path d="M458.5,284.5V518.5M527.5,284.5V518.5M596.5,284.5V518.5M665.5,284.5V518.5M734.5,284.5V518.5M409.5,311.5H790.5M409.5,380.5H790.5M409.5,449.5H790.5" stroke="rgba(0,0,0,0.85)" stroke-width="1.6" fill="none"/><rect x="409.5" y="284.5" width="381.0" height="234.0" stroke="rgba(0,0,0,0.85)" stroke-width="1.2" fill="none"/><path d="M489.0,289.9 L486.2,287.2 Q486.2,285.4 487.6,285.4 Q489.0,285.4 489.0,286.5 Q489.0,285.4 490.4,285.4 Q491.8,285.4 491.8,287.2 Z" fill="#000"/><rect x="494.2" y="285.7" width="3.6" height="3.6" fill="#858b96"/><path d="M496.0,285.7V289.3M494.2,287.5H497.8" stroke="#3c414a" stroke-width="0.35"/><rect x="501.2" y="285.7" width="3.6" height="3.6" fill="#858b96"/><path d="M503.0,285.7V289.3M501.2,287.5H504.8" stroke="#3c414a" stroke-width="0.35"/><rect x="508.2" y="285.7" width="3.6" height="3.6" fill="#858b96"/><path d="M510.0,285.7V289.3M508.2,287.5H511.8" stroke="#3c414a" stroke-width="0.35"/><rect x="515.2" y="285.7" width="3.6" height="3.6" fill="#858b96"/><path d="M517.0,285.7V289.3M515.2,287.5H518.8" stroke="#3c414a" stroke-width="0.35"/><rect x="522.2" y="285.7" width="3.6" height="3.6" fill="#858b96"/><path d="M524.0,285.7V289.3M522.2,287.5H525.8" stroke="#3c414a" stroke-width="0.35"/><path d="M475.0,296.4 L472.2,293.7 Q472.2,291.9 473.6,291.9 Q475.0,291.9 475.0,293.0 Q475.0,291.9 476.4,291.9 Q477.8,291.9 477.8,293.7 Z" fill="#000"/><path d="M482.0,296.4 L479.2,293.7 Q479.2,291.9 480.6,291.9 Q482.0,291.9 482.0,293.0 Q482.0,291.9 483.4,291.9 Q484.8,291.9 484.8,293.7 Z" fill="#000"/><path d="M489.0,296.4 L486.2,293.7 Q486.2,291.9 487.6,291.9 Q489.0,291.9 489.0,293.0 Q489.0,291.9 490.4,291.9 Q491.8,291.9 491.8,293.7 Z" fill="#000"/><path d="M496.0,296.4 L493.2,293.7 Q493.2,291.9 494.6,291.9 Q496.0,291.9 496.0,293.0 Q496.0,291.9 497.4,291.9 Q498.8,291.9 498.8,293.7 Z" fill="#000"/><polygon points="503.0,291.6 505.5,293.4 504.5,296.3 501.5,296.3 500.5,293.4" fill="#fff"/><circle cx="503.0" cy="294.3" r="0.8" fill="#333"/><polygon points="510.0,291.6 512.5,293.4 511.5,296.3 508.5,296.3 507.5,293.4" fill="#fff"/><circle cx="510.0" cy="294.3" r="0.8" fill="#333"/><polygon points="517.0,291.6 519.5,293.4 518.5,296.3 515.5,296.3 514.5,293.4" fill="#fff"/><circle cx="517.0" cy="294.3" r="0.8" fill="#333"/><polygon points="524.0,291.6 526.5,293.4 525.5,296.3 522.5,296.3 521.5,293.4" fill="#fff"/><circle cx="524.0" cy="294.3" r="0.8" fill="#333"/><rect x="529.2" y="292.2" width="3.6" height="3.6" fill="#858b96"/><path d="M531.0,292.2V295.8M529.2,294.0H532.8" stroke="#3c414a" stroke-width="0.35"/><rect x="536.2" y="292.2" width="3.6" height="3.6" fill="#858b96"/><path d="M538.0,292.2V295.8M536.2,294.0H539.8" stroke="#3c414a" stroke-width="0.35"/><path d="M475.0,303.4 L472.2,300.7 Q472.2,298.9 473.6,298.9 Q475.0,298.9 475.0,300.0 Q475.0,298.9 476.4,298.9 Q477.8,298.9 477.8,300.7 Z" fill="#000"/><rect x="481.2" y="300.2" width="1.6" height="1.6" fill="#000"/><rect x="488.2" y="300.2" width="1.6" height="1.6" fill="#000"/><rect x="495.2" y="300.2" width="1.6" height="1.6" fill="#000"/><path d="M500.8,302.5 A2.2,2.2 0 0 1 505.2,302.5" fill="none" stroke="#a8aeb8" stroke-width="0.85"/><path d="M507.8,302.5 A2.2,2.2 0 0 1 512.2,302.5" fill="none" stroke="#a8aeb8" stroke-width="0.85"/><path d="M514.8,302.5 A2.2,2.2 0 0 1 519.2,302.5" fill="none" stroke="#a8aeb8" stroke-width="0.85"/><polygon points="524.0,298.6 526.5,300.4 525.5,303.3 522.5,303.3 521.5,300.4" fill="#fff"/><circle cx="524.0" cy="301.3" r="0.8" fill="#333"/><polygon points="531.0,298.6 533.5,300.4 532.5,303.3 529.5,303.3 528.5,300.4" fill="#fff"/><circle cx="531.0" cy="301.3" r="0.8" fill="#333"/><polygon points="538.0,298.6 540.5,300.4 539.5,303.3 536.5,303.3 535.5,300.4" fill="#fff"/><circle cx="538.0" cy="301.3" r="0.8" fill="#333"/><path d="M545.0,303.4 L542.2,300.7 Q542.2,298.9 543.6,298.9 Q545.0,298.9 545.0,300.0 Q545.0,298.9 546.4,298.9 Q547.8,298.9 547.8,300.7 Z" fill="#000"/><path d="M551.5,303.4 L548.7,300.7 Q548.7,298.9 550.1,298.9 Q551.5,298.9 551.5,300.0 Q551.5,298.9 552.9,298.9 Q554.3,298.9 554.3,300.7 Z" fill="#000"/><path d="M466.3,309.5 A2.2,2.2 0 0 1 470.7,309.5" fill="none" stroke="#a8aeb8" stroke-width="0.85"/><path d="M472.8,309.5 A2.2,2.2 0 0 1 477.2,309.5" fill="none" stroke="#a8aeb8" stroke-width="0.85"/><rect x="481.2" y="307.2" width="1.6" height="1.6" fill="#000"/><path d="M514.8,309.5 A2.2,2.2 0 0 1 519.2,309.5" fill="none" stroke="#a8aeb8" stroke-width="0.85"/><path d="M521.8,309.5 A2.2,2.2 0 0 1 526.2,309.5" fill="none" stroke="#a8aeb8" stroke-width="0.85"/><path d="M529.3,306.1 L530.4,306.7 L530.8,308.1 L531.5,309.4 L532.7,309.8" fill="none" stroke="#5a3410" stroke-width="0.9"/><rect x="535.8" y="305.8" width="4.4" height="4.4" fill="#c0904c" stroke="#5a3c18" stroke-width="0.7"/><path d="M543.3,306.1 L544.4,306.7 L544.8,308.1 L545.5,309.4 L546.7,309.8" fill="none" stroke="#5a3410" stroke-width="0.9"/><path d="M551.5,310.4 L548.7,307.7 Q548.7,305.9 550.1,305.9 Q551.5,305.9 551.5,307.0 Q551.5,305.9 552.9,305.9 Q554.3,305.9 554.3,307.7 Z" fill="#000"/><path d="M558.0,310.4 L555.2,307.7 Q555.2,305.9 556.6,305.9 Q558.0,305.9 558.0,307.0 Q558.0,305.9 559.4,305.9 Q560.8,305.9 560.8,307.7 Z" fill="#000"/><path d="M466.3,316.5 A2.2,2.2 0 0 1 470.7,316.5" fill="none" stroke="#a8aeb8" stroke-width="0.85"/><path d="M472.8,316.5 A2.2,2.2 0 0 1 477.2,316.5" fill="none" stroke="#a8aeb8" stroke-width="0.85"/><path d="M524.0,317.4 L521.2,314.7 Q521.2,312.9 522.6,312.9 Q524.0,312.9 524.0,314.0 Q524.0,312.9 525.4,312.9 Q526.8,312.9 526.8,314.7 Z" fill="#000"/><path d="M529.3,313.1 L530.4,313.7 L530.8,315.1 L531.5,316.4 L532.7,316.8" fill="none" stroke="#5a3410" stroke-width="0.9"/><path d="M536.3,313.1 L537.4,313.7 L537.8,315.1 L538.5,316.4 L539.7,316.8" fill="none" stroke="#5a3410" stroke-width="0.9"/><rect x="542.8" y="312.8" width="4.4" height="4.4" fill="#c0904c" stroke="#5a3c18" stroke-width="0.7"/><path d="M549.8,313.1 L550.9,313.7 L551.3,315.1 L552.0,316.4 L553.2,316.8" fill="none" stroke="#5a3410" stroke-width="0.9"/><path d="M558.0,317.4 L555.2,314.7 Q555.2,312.9 556.6,312.9 Q558.0,312.9 558.0,314.0 Q558.0,312.9 559.4,312.9 Q560.8,312.9 560.8,314.7 Z" fill="#000"/><path d="M466.3,323.5 A2.2,2.2 0 0 1 470.7,323.5" fill="none" stroke="#a8aeb8" stroke-width="0.85"/><path d="M531.0,324.4 L528.2,321.7 Q528.2,319.9 529.6,319.9 Q531.0,319.9 531.0,321.0 Q531.0,319.9 532.4,319.9 Q533.8,319.9 533.8,321.7 Z" fill="#000"/><rect x="535.8" y="319.8" width="4.4" height="4.4" fill="#c0904c" stroke="#5a3c18" stroke-width="0.7"/><rect x="542.8" y="319.8" width="4.4" height="4.4" fill="#c0904c" stroke="#5a3c18" stroke-width="0.7"/><rect x="549.3" y="319.8" width="4.4" height="4.4" fill="#c0904c" stroke="#5a3c18" stroke-width="0.7"/><path d="M556.3,320.1 L557.4,320.7 L557.8,322.1 L558.5,323.4 L559.7,323.8" fill="none" stroke="#5a3410" stroke-width="0.9"/><path d="M565.0,324.4 L562.2,321.7 Q562.2,319.9 563.6,319.9 Q565.0,319.9 565.0,321.0 Q565.0,319.9 566.4,319.9 Q567.8,319.9 567.8,321.7 Z" fill="#000"/><path d="M466.3,330.5 A2.2,2.2 0 0 1 470.7,330.5" fill="none" stroke="#a8aeb8" stroke-width="0.85"/><path d="M531.0,331.4 L528.2,328.7 Q528.2,326.9 529.6,326.9 Q531.0,326.9 531.0,328.0 Q531.0,326.9 532.4,326.9 Q533.8,326.9 533.8,328.7 Z" fill="#000"/><path d="M536.3,327.1 L537.4,327.7 L537.8,329.1 L538.5,330.4 L539.7,330.8" fill="none" stroke="#5a3410" stroke-width="0.9"/><rect x="542.8" y="326.8" width="4.4" height="4.4" fill="#c0904c" stroke="#5a3c18" stroke-width="0.7"/><rect x="549.3" y="326.8" width="4.4" height="4.4" fill="#c0904c" stroke="#5a3c18" stroke-width="0.7"/><path d="M556.3,327.1 L557.4,327.7 L557.8,329.1 L558.5,330.4 L559.7,330.8" fill="none" stroke="#5a3410" stroke-width="0.9"/><path d="M565.0,331.4 L562.2,328.7 Q562.2,326.9 563.6,326.9 Q565.0,326.9 565.0,328.0 Q565.0,326.9 566.4,326.9 Q567.8,326.9 567.8,328.7 Z" fill="#000"/><path d="M466.3,337.5 A2.2,2.2 0 0 1 470.7,337.5" fill="none" stroke="#a8aeb8" stroke-width="0.85"/><path d="M521.8,337.5 A2.2,2.2 0 0 1 526.2,337.5" fill="none" stroke="#a8aeb8" stroke-width="0.85"/><path d="M528.8,337.5 A2.2,2.2 0 0 1 533.2,337.5" fill="none" stroke="#a8aeb8" stroke-width="0.85"/><polygon points="538.0,333.6 540.5,335.4 539.5,338.3 536.5,338.3 535.5,335.4" fill="#fff"/><circle cx="538.0" cy="336.3" r="0.8" fill="#333"/><polygon points="545.0,333.6 547.5,335.4 546.5,338.3 543.5,338.3 542.5,335.4" fill="#fff"/><circle cx="545.0" cy="336.3" r="0.8" fill="#333"/><rect x="549.7" y="334.2" width="3.6" height="3.6" fill="#858b96"/><path d="M551.5,334.2V337.8M549.7,336.0H553.3" stroke="#3c414a" stroke-width="0.35"/><polygon points="558.0,333.6 560.5,335.4 559.5,338.3 556.5,338.3 555.5,335.4" fill="#fff"/><circle cx="558.0" cy="336.3" r="0.8" fill="#333"/><path d="M562.8,337.5 A2.2,2.2 0 0 1 567.2,337.5" fill="none" stroke="#a8aeb8" stroke-width="0.85"/><path d="M569.8,337.5 A2.2,2.2 0 0 1 574.2,337.5" fill="none" stroke="#a8aeb8" stroke-width="0.85"/><path d="M466.3,344.5 A2.2,2.2 0 0 1 470.7,344.5" fill="none" stroke="#a8aeb8" stroke-width="0.85"/><path d="M521.8,344.5 A2.2,2.2 0 0 1 526.2,344.5" fill="none" stroke="#a8aeb8" stroke-width="0.85"/><path d="M528.8,344.5 A2.2,2.2 0 0 1 533.2,344.5" fill="none" stroke="#a8aeb8" stroke-width="0.85"/><polygon points="538.0,340.6 540.5,342.4 539.5,345.3 536.5,345.3 535.5,342.4" fill="#fff"/><circle cx="538.0" cy="343.3" r="0.8" fill="#333"/><rect x="543.2" y="341.2" width="3.6" height="3.6" fill="#858b96"/><path d="M545.0,341.2V344.8M543.2,343.0H546.8" stroke="#3c414a" stroke-width="0.35"/><rect x="549.7" y="341.2" width="3.6" height="3.6" fill="#858b96"/><path d="M551.5,341.2V344.8M549.7,343.0H553.3" stroke="#3c414a" stroke-width="0.35"/><polygon points="558.0,340.6 560.5,342.4 559.5,345.3 556.5,345.3 555.5,342.4" fill="#fff"/><circle cx="558.0" cy="343.3" r="0.8" fill="#333"/><polygon points="565.0,340.6 567.5,342.4 566.5,345.3 563.5,345.3 562.5,342.4" fill="#fff"/><circle cx="565.0" cy="343.3" r="0.8" fill="#333"/><path d="M569.8,344.5 A2.2,2.2 0 0 1 574.2,344.5" fill="none" stroke="#a8aeb8" stroke-width="0.85"/><path d="M576.8,344.5 A2.2,2.2 0 0 1 581.2,344.5" fill="none" stroke="#a8aeb8" stroke-width="0.85"/><path d="M514.8,351.5 A2.2,2.2 0 0 1 519.2,351.5" fill="none" stroke="#a8aeb8" stroke-width="0.85"/><path d="M521.8,351.5 A2.2,2.2 0 0 1 526.2,351.5" fill="none" stroke="#a8aeb8" stroke-width="0.85"/><polygon points="531.0,347.6 533.5,349.4 532.5,352.3 529.5,352.3 528.5,349.4" fill="#fff"/><circle cx="531.0" cy="350.3" r="0.8" fill="#333"/><polygon points="538.0,347.6 540.5,349.4 539.5,352.3 536.5,352.3 535.5,349.4" fill="#fff"/><circle cx="538.0" cy="350.3" r="0.8" fill="#333"/><rect x="543.2" y="348.2" width="3.6" height="3.6" fill="#858b96"/><path d="M545.0,348.2V351.8M543.2,350.0H546.8" stroke="#3c414a" stroke-width="0.35"/><line x1="548.5" y1="347.0" x2="554.5" y2="353.0" stroke="#fff" stroke-width="0.5"/><ellipse cx="551.5" cy="350.0" rx="2.1" ry="1.05" transform="rotate(38 551.5 350.0)" fill="#fff"/><rect x="556.2" y="348.2" width="3.6" height="3.6" fill="#858b96"/><path d="M558.0,348.2V351.8M556.2,350.0H559.8" stroke="#3c414a" stroke-width="0.35"/><polygon points="565.0,347.6 567.5,349.4 566.5,352.3 563.5,352.3 562.5,349.4" fill="#fff"/><circle cx="565.0" cy="350.3" r="0.8" fill="#333"/><polygon points="572.0,347.6 574.5,349.4 573.5,352.3 570.5,352.3 569.5,349.4" fill="#fff"/><circle cx="572.0" cy="350.3" r="0.8" fill="#333"/><path d="M576.8,351.5 A2.2,2.2 0 0 1 581.2,351.5" fill="none" stroke="#a8aeb8" stroke-width="0.85"/><path d="M507.8,358.5 A2.2,2.2 0 0 1 512.2,358.5" fill="none" stroke="#a8aeb8" stroke-width="0.85"/><path d="M514.8,358.5 A2.2,2.2 0 0 1 519.2,358.5" fill="none" stroke="#a8aeb8" stroke-width="0.85"/><path d="M521.8,358.5 A2.2,2.2 0 0 1 526.2,358.5" fill="none" stroke="#a8aeb8" stroke-width="0.85"/><polygon points="531.0,354.6 533.5,356.4 532.5,359.3 529.5,359.3 528.5,356.4" fill="#fff"/><circle cx="531.0" cy="357.3" r="0.8" fill="#333"/><rect x="536.2" y="355.2" width="3.6" height="3.6" fill="#858b96"/><path d="M538.0,355.2V358.8M536.2,357.0H539.8" stroke="#3c414a" stroke-width="0.35"/><line x1="542.0" y1="354.0" x2="548.0" y2="360.0" stroke="#fff" stroke-width="0.5"/><ellipse cx="545.0" cy="357.0" rx="2.1" ry="1.05" transform="rotate(38 545.0 357.0)" fill="#fff"/><line x1="548.5" y1="354.0" x2="554.5" y2="360.0" stroke="#fff" stroke-width="0.5"/><ellipse cx="551.5" cy="357.0" rx="2.1" ry="1.05" transform="rotate(38 551.5 357.0)" fill="#fff"/><line x1="555.0" y1="354.0" x2="561.0" y2="360.0" stroke="#fff" stroke-width="0.5"/><ellipse cx="558.0" cy="357.0" rx="2.1" ry="1.05" transform="rotate(38 558.0 357.0)" fill="#fff"/><rect x="563.2" y="355.2" width="3.6" height="3.6" fill="#858b96"/><path d="M565.0,355.2V358.8M563.2,357.0H566.8" stroke="#3c414a" stroke-width="0.35"/><polygon points="572.0,354.6 574.5,356.4 573.5,359.3 570.5,359.3 569.5,356.4" fill="#fff"/><circle cx="572.0" cy="357.3" r="0.8" fill="#333"/><path d="M576.8,358.5 A2.2,2.2 0 0 1 581.2,358.5" fill="none" stroke="#a8aeb8" stroke-width="0.85"/><path d="M583.8,358.5 A2.2,2.2 0 0 1 588.2,358.5" fill="none" stroke="#a8aeb8" stroke-width="0.85"/><path d="M507.8,365.0 A2.2,2.2 0 0 1 512.2,365.0" fill="none" stroke="#a8aeb8" stroke-width="0.85"/><rect x="516.2" y="362.7" width="1.6" height="1.6" fill="#000"/><path d="M524.0,365.9 L521.2,363.2 Q521.2,361.4 522.6,361.4 Q524.0,361.4 524.0,362.5 Q524.0,361.4 525.4,361.4 Q526.8,361.4 526.8,363.2 Z" fill="#000"/><path d="M531.0,365.9 L528.2,363.2 Q528.2,361.4 529.6,361.4 Q531.0,361.4 531.0,362.5 Q531.0,361.4 532.4,361.4 Q533.8,361.4 533.8,363.2 Z" fill="#000"/><path d="M536.3,361.6 L537.4,362.2 L537.8,363.6 L538.5,364.9 L539.7,365.3" fill="none" stroke="#5a3410" stroke-width="0.9"/><path d="M543.3,361.6 L544.4,362.2 L544.8,363.6 L545.5,364.9 L546.7,365.3" fill="none" stroke="#5a3410" stroke-width="0.9"/><rect x="549.3" y="361.3" width="4.4" height="4.4" fill="#c0904c" stroke="#5a3c18" stroke-width="0.7"/><path d="M556.3,361.6 L557.4,362.2 L557.8,363.6 L558.5,364.9 L559.7,365.3" fill="none" stroke="#5a3410" stroke-width="0.9"/><path d="M563.3,361.6 L564.4,362.2 L564.8,363.6 L565.5,364.9 L566.7,365.3" fill="none" stroke="#5a3410" stroke-width="0.9"/><path d="M572.0,365.9 L569.2,363.2 Q569.2,361.4 570.6,361.4 Q572.0,361.4 572.0,362.5 Q572.0,361.4 573.4,361.4 Q574.8,361.4 574.8,363.2 Z" fill="#000"/><rect x="578.2" y="362.7" width="1.6" height="1.6" fill="#000"/><path d="M583.8,365.0 A2.2,2.2 0 0 1 588.2,365.0" fill="none" stroke="#a8aeb8" stroke-width="0.85"/><rect x="509.2" y="369.2" width="1.6" height="1.6" fill="#000"/><rect x="516.2" y="369.2" width="1.6" height="1.6" fill="#000"/><path d="M524.0,372.4 L521.2,369.7 Q521.2,367.9 522.6,367.9 Q524.0,367.9 524.0,369.0 Q524.0,367.9 525.4,367.9 Q526.8,367.9 526.8,369.7 Z" fill="#000"/><path d="M529.3,368.1 L530.4,368.7 L530.8,370.1 L531.5,371.4 L532.7,371.8" fill="none" stroke="#5a3410" stroke-width="0.9"/><path d="M536.3,368.1 L537.4,368.7 L537.8,370.1 L538.5,371.4 L539.7,371.8" fill="none" stroke="#5a3410" stroke-width="0.9"/><rect x="542.8" y="367.8" width="4.4" height="4.4" fill="#c0904c" stroke="#5a3c18" stroke-width="0.7"/><rect x="549.3" y="367.8" width="4.4" height="4.4" fill="#c0904c" stroke="#5a3c18" stroke-width="0.7"/><rect x="555.8" y="367.8" width="4.4" height="4.4" fill="#c0904c" stroke="#5a3c18" stroke-width="0.7"/><path d="M563.3,368.1 L564.4,368.7 L564.8,370.1 L565.5,371.4 L566.7,371.8" fill="none" stroke="#5a3410" stroke-width="0.9"/><path d="M572.0,372.4 L569.2,369.7 Q569.2,367.9 570.6,367.9 Q572.0,367.9 572.0,369.0 Q572.0,367.9 573.4,367.9 Q574.8,367.9 574.8,369.7 Z" fill="#000"/><path d="M579.0,372.4 L576.2,369.7 Q576.2,367.9 577.6,367.9 Q579.0,367.9 579.0,369.0 Q579.0,367.9 580.4,367.9 Q581.8,367.9 581.8,369.7 Z" fill="#000"/><rect x="585.2" y="369.2" width="1.6" height="1.6" fill="#000"/><path d="M462.0,374.7L464.3,377.0L462.0,379.3L459.7,377.0Z" fill="#fff"/><path d="M468.5,374.7L470.8,377.0L468.5,379.3L466.2,377.0Z" fill="#fff"/><rect x="501.0" y="375.0" width="4.0" height="4.0" fill="#fff"/><rect x="509.2" y="376.2" width="1.6" height="1.6" fill="#000"/><path d="M517.0,379.4 L514.2,376.7 Q514.2,374.9 515.6,374.9 Q517.0,374.9 517.0,376.0 Q517.0,374.9 518.4,374.9 Q519.8,374.9 519.8,376.7 Z" fill="#000"/><path d="M524.0,379.4 L521.2,376.7 Q521.2,374.9 522.6,374.9 Q524.0,374.9 524.0,376.0 Q524.0,374.9 525.4,374.9 Q526.8,374.9 526.8,376.7 Z" fill="#000"/><path d="M529.3,375.1 L530.4,375.7 L530.8,377.1 L531.5,378.4 L532.7,378.8" fill="none" stroke="#5a3410" stroke-width="0.9"/><rect x="535.8" y="374.8" width="4.4" height="4.4" fill="#c0904c" stroke="#5a3c18" stroke-width="0.7"/><path d="M543.3,375.1 L544.4,375.7 L544.8,377.1 L545.5,378.4 L546.7,378.8" fill="none" stroke="#5a3410" stroke-width="0.9"/><rect x="549.3" y="374.8" width="4.4" height="4.4" fill="#c0904c" stroke="#5a3c18" stroke-width="0.7"/><rect x="555.8" y="374.8" width="4.4" height="4.4" fill="#c0904c" stroke="#5a3c18" stroke-width="0.7"/><path d="M563.3,375.1 L564.4,375.7 L564.8,377.1 L565.5,378.4 L566.7,378.8" fill="none" stroke="#5a3410" stroke-width="0.9"/><path d="M570.3,375.1 L571.4,375.7 L571.8,377.1 L572.5,378.4 L573.7,378.8" fill="none" stroke="#5a3410" stroke-width="0.9"/><path d="M579.0,379.4 L576.2,376.7 Q576.2,374.9 577.6,374.9 Q579.0,374.9 579.0,376.0 Q579.0,374.9 580.4,374.9 Q581.8,374.9 581.8,376.7 Z" fill="#000"/><rect x="585.2" y="376.2" width="1.6" height="1.6" fill="#000"/><rect x="592.2" y="376.2" width="1.6" height="1.6" fill="#000"/><path d="M462.0,381.7L464.3,384.0L462.0,386.3L459.7,384.0Z" fill="#fff"/><path d="M468.5,381.7L470.8,384.0L468.5,386.3L466.2,384.0Z" fill="#fff"/><rect x="494.0" y="382.0" width="4.0" height="4.0" fill="#fff"/><rect x="502.2" y="383.2" width="1.6" height="1.6" fill="#000"/><rect x="509.2" y="383.2" width="1.6" height="1.6" fill="#000"/><path d="M517.0,386.4 L514.2,383.7 Q514.2,381.9 515.6,381.9 Q517.0,381.9 517.0,383.0 Q517.0,381.9 518.4,381.9 Q519.8,381.9 519.8,383.7 Z" fill="#000"/><path d="M522.3,382.1 L523.4,382.7 L523.8,384.1 L524.5,385.4 L525.7,385.8" fill="none" stroke="#5a3410" stroke-width="0.9"/><path d="M529.3,382.1 L530.4,382.7 L530.8,384.1 L531.5,385.4 L532.7,385.8" fill="none" stroke="#5a3410" stroke-width="0.9"/><rect x="535.8" y="381.8" width="4.4" height="4.4" fill="#c0904c" stroke="#5a3c18" stroke-width="0.7"/><rect x="542.8" y="381.8" width="4.4" height="4.4" fill="#c0904c" stroke="#5a3c18" stroke-width="0.7"/><rect x="549.3" y="381.8" width="4.4" height="4.4" fill="#c0904c" stroke="#5a3c18" stroke-width="0.7"/><rect x="555.8" y="381.8" width="4.4" height="4.4" fill="#c0904c" stroke="#5a3c18" stroke-width="0.7"/><rect x="562.8" y="381.8" width="4.4" height="4.4" fill="#c0904c" stroke="#5a3c18" stroke-width="0.7"/><path d="M570.3,382.1 L571.4,382.7 L571.8,384.1 L572.5,385.4 L573.7,385.8" fill="none" stroke="#5a3410" stroke-width="0.9"/><path d="M579.0,386.4 L576.2,383.7 Q576.2,381.9 577.6,381.9 Q579.0,381.9 579.0,383.0 Q579.0,381.9 580.4,381.9 Q581.8,381.9 581.8,383.7 Z" fill="#000"/><path d="M586.0,386.4 L583.2,383.7 Q583.2,381.9 584.6,381.9 Q586.0,381.9 586.0,383.0 Q586.0,381.9 587.4,381.9 Q588.8,381.9 588.8,383.7 Z" fill="#000"/><rect x="592.2" y="383.2" width="1.6" height="1.6" fill="#000"/><rect x="494.0" y="389.0" width="4.0" height="4.0" fill="#fff"/><rect x="502.2" y="390.2" width="1.6" height="1.6" fill="#000"/><path d="M510.0,393.4 L507.2,390.7 Q507.2,388.9 508.6,388.9 Q510.0,388.9 510.0,390.0 Q510.0,388.9 511.4,388.9 Q512.8,388.9 512.8,390.7 Z" fill="#000"/><path d="M517.0,393.4 L514.2,390.7 Q514.2,388.9 515.6,388.9 Q517.0,388.9 517.0,390.0 Q517.0,388.9 518.4,388.9 Q519.8,388.9 519.8,390.7 Z" fill="#000"/><path d="M522.3,389.1 L523.4,389.7 L523.8,391.1 L524.5,392.4 L525.7,392.8" fill="none" stroke="#5a3410" stroke-width="0.9"/><rect x="528.8" y="388.8" width="4.4" height="4.4" fill="#c0904c" stroke="#5a3c18" stroke-width="0.7"/><path d="M536.3,389.1 L537.4,389.7 L537.8,391.1 L538.5,392.4 L539.7,392.8" fill="none" stroke="#5a3410" stroke-width="0.9"/><rect x="542.8" y="388.8" width="4.4" height="4.4" fill="#c0904c" stroke="#5a3c18" stroke-width="0.7"/><rect x="549.3" y="388.8" width="4.4" height="4.4" fill="#c0904c" stroke="#5a3c18" stroke-width="0.7"/><path d="M556.3,389.1 L557.4,389.7 L557.8,391.1 L558.5,392.4 L559.7,392.8" fill="none" stroke="#5a3410" stroke-width="0.9"/><rect x="562.8" y="388.8" width="4.4" height="4.4" fill="#c0904c" stroke="#5a3c18" stroke-width="0.7"/><path d="M570.3,389.1 L571.4,389.7 L571.8,391.1 L572.5,392.4 L573.7,392.8" fill="none" stroke="#5a3410" stroke-width="0.9"/><path d="M579.0,393.4 L576.2,390.7 Q576.2,388.9 577.6,388.9 Q579.0,388.9 579.0,390.0 Q579.0,388.9 580.4,388.9 Q581.8,388.9 581.8,390.7 Z" fill="#000"/><path d="M586.0,393.4 L583.2,390.7 Q583.2,388.9 584.6,388.9 Q586.0,388.9 586.0,390.0 Q586.0,388.9 587.4,388.9 Q588.8,388.9 588.8,390.7 Z" fill="#000"/><rect x="592.2" y="390.2" width="1.6" height="1.6" fill="#000"/><rect x="599.2" y="390.2" width="1.6" height="1.6" fill="#000"/><rect x="487.0" y="396.0" width="4.0" height="4.0" fill="#fff"/><rect x="494.0" y="396.0" width="4.0" height="4.0" fill="#fff"/><rect x="502.2" y="397.2" width="1.6" height="1.6" fill="#000"/><path d="M510.0,400.4 L507.2,397.7 Q507.2,395.9 508.6,395.9 Q510.0,395.9 510.0,397.0 Q510.0,395.9 511.4,395.9 Q512.8,395.9 512.8,397.7 Z" fill="#000"/><polygon points="517.0,395.6 519.5,397.4 518.5,400.3 515.5,400.3 514.5,397.4" fill="#fff"/><circle cx="517.0" cy="398.3" r="0.8" fill="#333"/><polygon points="524.0,395.6 526.5,397.4 525.5,400.3 522.5,400.3 521.5,397.4" fill="#fff"/><circle cx="524.0" cy="398.3" r="0.8" fill="#333"/><rect x="529.2" y="396.2" width="3.6" height="3.6" fill="#858b96"/><path d="M531.0,396.2V399.8M529.2,398.0H532.8" stroke="#3c414a" stroke-width="0.35"/><rect x="536.2" y="396.2" width="3.6" height="3.6" fill="#858b96"/><path d="M538.0,396.2V399.8M536.2,398.0H539.8" stroke="#3c414a" stroke-width="0.35"/><line x1="542.0" y1="395.0" x2="548.0" y2="401.0" stroke="#fff" stroke-width="0.5"/><ellipse cx="545.0" cy="398.0" rx="2.1" ry="1.05" transform="rotate(38 545.0 398.0)" fill="#fff"/><line x1="548.5" y1="395.0" x2="554.5" y2="401.0" stroke="#fff" stroke-width="0.5"/><ellipse cx="551.5" cy="398.0" rx="2.1" ry="1.05" transform="rotate(38 551.5 398.0)" fill="#fff"/><line x1="555.0" y1="395.0" x2="561.0" y2="401.0" stroke="#fff" stroke-width="0.5"/><ellipse cx="558.0" cy="398.0" rx="2.1" ry="1.05" transform="rotate(38 558.0 398.0)" fill="#fff"/><rect x="563.2" y="396.2" width="3.6" height="3.6" fill="#858b96"/><path d="M565.0,396.2V399.8M563.2,398.0H566.8" stroke="#3c414a" stroke-width="0.35"/><rect x="570.2" y="396.2" width="3.6" height="3.6" fill="#858b96"/><path d="M572.0,396.2V399.8M570.2,398.0H573.8" stroke="#3c414a" stroke-width="0.35"/><polygon points="579.0,395.6 581.5,397.4 580.5,400.3 577.5,400.3 576.5,397.4" fill="#fff"/><circle cx="579.0" cy="398.3" r="0.8" fill="#333"/><path d="M586.0,400.4 L583.2,397.7 Q583.2,395.9 584.6,395.9 Q586.0,395.9 586.0,397.0 Q586.0,395.9 587.4,395.9 Q588.8,395.9 588.8,397.7 Z" fill="#000"/><rect x="592.2" y="397.2" width="1.6" height="1.6" fill="#000"/><rect x="599.2" y="397.2" width="1.6" height="1.6" fill="#000"/><rect x="487.0" y="403.0" width="4.0" height="4.0" fill="#fff"/><path d="M493.8,406.5 A2.2,2.2 0 0 1 498.2,406.5" fill="none" stroke="#a8aeb8" stroke-width="0.85"/><path d="M500.8,406.5 A2.2,2.2 0 0 1 505.2,406.5" fill="none" stroke="#a8aeb8" stroke-width="0.85"/><polygon points="510.0,402.6 512.5,404.4 511.5,407.3 508.5,407.3 507.5,404.4" fill="#fff"/><circle cx="510.0" cy="405.3" r="0.8" fill="#333"/><polygon points="517.0,402.6 519.5,404.4 518.5,407.3 515.5,407.3 514.5,404.4" fill="#fff"/><circle cx="517.0" cy="405.3" r="0.8" fill="#333"/><rect x="522.2" y="403.2" width="3.6" height="3.6" fill="#858b96"/><path d="M524.0,403.2V406.8M522.2,405.0H525.8" stroke="#3c414a" stroke-width="0.35"/><rect x="529.2" y="403.2" width="3.6" height="3.6" fill="#858b96"/><path d="M531.0,403.2V406.8M529.2,405.0H532.8" stroke="#3c414a" stroke-width="0.35"/><line x1="535.0" y1="402.0" x2="541.0" y2="408.0" stroke="#fff" stroke-width="0.5"/><ellipse cx="538.0" cy="405.0" rx="2.1" ry="1.05" transform="rotate(38 538.0 405.0)" fill="#fff"/><line x1="542.0" y1="402.0" x2="548.0" y2="408.0" stroke="#fff" stroke-width="0.5"/><ellipse cx="545.0" cy="405.0" rx="2.1" ry="1.05" transform="rotate(38 545.0 405.0)" fill="#fff"/><line x1="548.5" y1="402.0" x2="554.5" y2="408.0" stroke="#fff" stroke-width="0.5"/><ellipse cx="551.5" cy="405.0" rx="2.1" ry="1.05" transform="rotate(38 551.5 405.0)" fill="#fff"/><rect x="556.2" y="403.2" width="3.6" height="3.6" fill="#858b96"/><path d="M558.0,403.2V406.8M556.2,405.0H559.8" stroke="#3c414a" stroke-width="0.35"/><line x1="562.0" y1="402.0" x2="568.0" y2="408.0" stroke="#fff" stroke-width="0.5"/><ellipse cx="565.0" cy="405.0" rx="2.1" ry="1.05" transform="rotate(38 565.0 405.0)" fill="#fff"/><rect x="570.2" y="403.2" width="3.6" height="3.6" fill="#858b96"/><path d="M572.0,403.2V406.8M570.2,405.0H573.8" stroke="#3c414a" stroke-width="0.35"/><polygon points="579.0,402.6 581.5,404.4 580.5,407.3 577.5,407.3 576.5,404.4" fill="#fff"/><circle cx="579.0" cy="405.3" r="0.8" fill="#333"/><polygon points="586.0,402.6 588.5,404.4 587.5,407.3 584.5,407.3 583.5,404.4" fill="#fff"/><circle cx="586.0" cy="405.3" r="0.8" fill="#333"/><path d="M590.8,406.5 A2.2,2.2 0 0 1 595.2,406.5" fill="none" stroke="#a8aeb8" stroke-width="0.85"/><path d="M597.8,406.5 A2.2,2.2 0 0 1 602.2,406.5" fill="none" stroke="#a8aeb8" stroke-width="0.85"/><path d="M604.8,406.5 A2.2,2.2 0 0 1 609.2,406.5" fill="none" stroke="#a8aeb8" stroke-width="0.85"/><path d="M486.8,413.5 A2.2,2.2 0 0 1 491.2,413.5" fill="none" stroke="#a8aeb8" stroke-width="0.85"/><path d="M493.8,413.5 A2.2,2.2 0 0 1 498.2,413.5" fill="none" stroke="#a8aeb8" stroke-width="0.85"/><polygon points="503.0,409.6 505.5,411.4 504.5,414.3 501.5,414.3 500.5,411.4" fill="#fff"/><circle cx="503.0" cy="412.3" r="0.8" fill="#333"/><polygon points="510.0,409.6 512.5,411.4 511.5,414.3 508.5,414.3 507.5,411.4" fill="#fff"/><circle cx="510.0" cy="412.3" r="0.8" fill="#333"/><polygon points="517.0,409.6 519.5,411.4 518.5,414.3 515.5,414.3 514.5,411.4" fill="#fff"/><circle cx="517.0" cy="412.3" r="0.8" fill="#333"/><rect x="522.2" y="410.2" width="3.6" height="3.6" fill="#858b96"/><path d="M524.0,410.2V413.8M522.2,412.0H525.8" stroke="#3c414a" stroke-width="0.35"/><rect x="529.2" y="410.2" width="3.6" height="3.6" fill="#858b96"/><path d="M531.0,410.2V413.8M529.2,412.0H532.8" stroke="#3c414a" stroke-width="0.35"/><line x1="535.0" y1="409.0" x2="541.0" y2="415.0" stroke="#fff" stroke-width="0.5"/><ellipse cx="538.0" cy="412.0" rx="2.1" ry="1.05" transform="rotate(38 538.0 412.0)" fill="#fff"/><line x1="542.0" y1="409.0" x2="548.0" y2="415.0" stroke="#fff" stroke-width="0.5"/><ellipse cx="545.0" cy="412.0" rx="2.1" ry="1.05" transform="rotate(38 545.0 412.0)" fill="#fff"/><rect x="549.9" y="411.4" width="3.2" height="1.2" fill="#dde0e6"/><line x1="555.0" y1="409.0" x2="561.0" y2="415.0" stroke="#fff" stroke-width="0.5"/><ellipse cx="558.0" cy="412.0" rx="2.1" ry="1.05" transform="rotate(38 558.0 412.0)" fill="#fff"/><rect x="563.2" y="410.2" width="3.6" height="3.6" fill="#858b96"/><path d="M565.0,410.2V413.8M563.2,412.0H566.8" stroke="#3c414a" stroke-width="0.35"/><rect x="570.2" y="410.2" width="3.6" height="3.6" fill="#858b96"/><path d="M572.0,410.2V413.8M570.2,412.0H573.8" stroke="#3c414a" stroke-width="0.35"/><rect x="577.2" y="410.2" width="3.6" height="3.6" fill="#858b96"/><path d="M579.0,410.2V413.8M577.2,412.0H580.8" stroke="#3c414a" stroke-width="0.35"/><polygon points="586.0,409.6 588.5,411.4 587.5,414.3 584.5,414.3 583.5,411.4" fill="#fff"/><circle cx="586.0" cy="412.3" r="0.8" fill="#333"/><polygon points="593.0,409.6 595.5,411.4 594.5,414.3 591.5,414.3 590.5,411.4" fill="#fff"/><circle cx="593.0" cy="412.3" r="0.8" fill="#333"/><path d="M597.8,413.5 A2.2,2.2 0 0 1 602.2,413.5" fill="none" stroke="#a8aeb8" stroke-width="0.85"/><path d="M604.8,413.5 A2.2,2.2 0 0 1 609.2,413.5" fill="none" stroke="#a8aeb8" stroke-width="0.85"/><path d="M486.8,420.5 A2.2,2.2 0 0 1 491.2,420.5" fill="none" stroke="#a8aeb8" stroke-width="0.85"/><polygon points="496.0,416.6 498.5,418.4 497.5,421.3 494.5,421.3 493.5,418.4" fill="#fff"/><circle cx="496.0" cy="419.3" r="0.8" fill="#333"/><polygon points="503.0,416.6 505.5,418.4 504.5,421.3 501.5,421.3 500.5,418.4" fill="#fff"/><circle cx="503.0" cy="419.3" r="0.8" fill="#333"/><polygon points="510.0,416.6 512.5,418.4 511.5,421.3 508.5,421.3 507.5,418.4" fill="#fff"/><circle cx="510.0" cy="419.3" r="0.8" fill="#333"/><rect x="515.2" y="417.2" width="3.6" height="3.6" fill="#858b96"/><path d="M517.0,417.2V420.8M515.2,419.0H518.8" stroke="#3c414a" stroke-width="0.35"/><polygon points="524.0,416.6 526.5,418.4 525.5,421.3 522.5,421.3 521.5,418.4" fill="#fff"/><circle cx="524.0" cy="419.3" r="0.8" fill="#333"/><rect x="529.2" y="417.2" width="3.6" height="3.6" fill="#858b96"/><path d="M531.0,417.2V420.8M529.2,419.0H532.8" stroke="#3c414a" stroke-width="0.35"/><line x1="535.0" y1="416.0" x2="541.0" y2="422.0" stroke="#fff" stroke-width="0.5"/><ellipse cx="538.0" cy="419.0" rx="2.1" ry="1.05" transform="rotate(38 538.0 419.0)" fill="#fff"/><rect x="543.4" y="418.4" width="3.2" height="1.2" fill="#dde0e6"/><rect x="549.9" y="418.4" width="3.2" height="1.2" fill="#dde0e6"/><rect x="556.4" y="418.4" width="3.2" height="1.2" fill="#dde0e6"/><line x1="562.0" y1="416.0" x2="568.0" y2="422.0" stroke="#fff" stroke-width="0.5"/><ellipse cx="565.0" cy="419.0" rx="2.1" ry="1.05" transform="rotate(38 565.0 419.0)" fill="#fff"/><rect x="570.2" y="417.2" width="3.6" height="3.6" fill="#858b96"/><path d="M572.0,417.2V420.8M570.2,419.0H573.8" stroke="#3c414a" stroke-width="0.35"/><polygon points="579.0,416.6 581.5,418.4 580.5,421.3 577.5,421.3 576.5,418.4" fill="#fff"/><circle cx="579.0" cy="419.3" r="0.8" fill="#333"/><rect x="584.2" y="417.2" width="3.6" height="3.6" fill="#858b96"/><path d="M586.0,417.2V420.8M584.2,419.0H587.8" stroke="#3c414a" stroke-width="0.35"/><polygon points="593.0,416.6 595.5,418.4 594.5,421.3 591.5,421.3 590.5,418.4" fill="#fff"/><circle cx="593.0" cy="419.3" r="0.8" fill="#333"/><polygon points="600.0,416.6 602.5,418.4 601.5,421.3 598.5,421.3 597.5,418.4" fill="#fff"/><circle cx="600.0" cy="419.3" r="0.8" fill="#333"/><path d="M604.8,420.5 A2.2,2.2 0 0 1 609.2,420.5" fill="none" stroke="#a8aeb8" stroke-width="0.85"/><path d="M479.8,427.5 A2.2,2.2 0 0 1 484.2,427.5" fill="none" stroke="#a8aeb8" stroke-width="0.85"/><path d="M486.8,427.5 A2.2,2.2 0 0 1 491.2,427.5" fill="none" stroke="#a8aeb8" stroke-width="0.85"/><path d="M493.8,427.5 A2.2,2.2 0 0 1 498.2,427.5" fill="none" stroke="#a8aeb8" stroke-width="0.85"/><polygon points="503.0,423.6 505.5,425.4 504.5,428.3 501.5,428.3 500.5,425.4" fill="#fff"/><circle cx="503.0" cy="426.3" r="0.8" fill="#333"/><polygon points="510.0,423.6 512.5,425.4 511.5,428.3 508.5,428.3 507.5,425.4" fill="#fff"/><circle cx="510.0" cy="426.3" r="0.8" fill="#333"/><polygon points="517.0,423.6 519.5,425.4 518.5,428.3 515.5,428.3 514.5,425.4" fill="#fff"/><circle cx="517.0" cy="426.3" r="0.8" fill="#333"/><rect x="522.2" y="424.2" width="3.6" height="3.6" fill="#858b96"/><path d="M524.0,424.2V427.8M522.2,426.0H525.8" stroke="#3c414a" stroke-width="0.35"/><line x1="528.0" y1="423.0" x2="534.0" y2="429.0" stroke="#fff" stroke-width="0.5"/><ellipse cx="531.0" cy="426.0" rx="2.1" ry="1.05" transform="rotate(38 531.0 426.0)" fill="#fff"/><line x1="535.0" y1="423.0" x2="541.0" y2="429.0" stroke="#fff" stroke-width="0.5"/><ellipse cx="538.0" cy="426.0" rx="2.1" ry="1.05" transform="rotate(38 538.0 426.0)" fill="#fff"/><rect x="543.4" y="425.4" width="3.2" height="1.2" fill="#dde0e6"/><rect x="549.9" y="425.4" width="3.2" height="1.2" fill="#dde0e6"/><rect x="556.4" y="425.4" width="3.2" height="1.2" fill="#dde0e6"/><line x1="562.0" y1="423.0" x2="568.0" y2="429.0" stroke="#fff" stroke-width="0.5"/><ellipse cx="565.0" cy="426.0" rx="2.1" ry="1.05" transform="rotate(38 565.0 426.0)" fill="#fff"/><rect x="570.2" y="424.2" width="3.6" height="3.6" fill="#858b96"/><path d="M572.0,424.2V427.8M570.2,426.0H573.8" stroke="#3c414a" stroke-width="0.35"/><rect x="577.2" y="424.2" width="3.6" height="3.6" fill="#858b96"/><path d="M579.0,424.2V427.8M577.2,426.0H580.8" stroke="#3c414a" stroke-width="0.35"/><polygon points="586.0,423.6 588.5,425.4 587.5,428.3 584.5,428.3 583.5,425.4" fill="#fff"/><circle cx="586.0" cy="426.3" r="0.8" fill="#333"/><polygon points="593.0,423.6 595.5,425.4 594.5,428.3 591.5,428.3 590.5,425.4" fill="#fff"/><circle cx="593.0" cy="426.3" r="0.8" fill="#333"/><polygon points="600.0,423.6 602.5,425.4 601.5,428.3 598.5,428.3 597.5,425.4" fill="#fff"/><circle cx="600.0" cy="426.3" r="0.8" fill="#333"/><path d="M604.8,427.5 A2.2,2.2 0 0 1 609.2,427.5" fill="none" stroke="#a8aeb8" stroke-width="0.85"/><path d="M611.8,427.5 A2.2,2.2 0 0 1 616.2,427.5" fill="none" stroke="#a8aeb8" stroke-width="0.85"/><path d="M479.8,434.5 A2.2,2.2 0 0 1 484.2,434.5" fill="none" stroke="#a8aeb8" stroke-width="0.85"/><path d="M486.8,434.5 A2.2,2.2 0 0 1 491.2,434.5" fill="none" stroke="#a8aeb8" stroke-width="0.85"/><path d="M493.8,434.5 A2.2,2.2 0 0 1 498.2,434.5" fill="none" stroke="#a8aeb8" stroke-width="0.85"/><path d="M500.8,434.5 A2.2,2.2 0 0 1 505.2,434.5" fill="none" stroke="#a8aeb8" stroke-width="0.85"/><path d="M510.0,435.4 L507.2,432.7 Q507.2,430.9 508.6,430.9 Q510.0,430.9 510.0,432.0 Q510.0,430.9 511.4,430.9 Q512.8,430.9 512.8,432.7 Z" fill="#000"/><path d="M515.3,431.1 L516.4,431.7 L516.8,433.1 L517.5,434.4 L518.7,434.8" fill="none" stroke="#5a3410" stroke-width="0.9"/><path d="M522.3,431.1 L523.4,431.7 L523.8,433.1 L524.5,434.4 L525.7,434.8" fill="none" stroke="#5a3410" stroke-width="0.9"/><path d="M529.3,431.1 L530.4,431.7 L530.8,433.1 L531.5,434.4 L532.7,434.8" fill="none" stroke="#5a3410" stroke-width="0.9"/><rect x="535.8" y="430.8" width="4.4" height="4.4" fill="#c0904c" stroke="#5a3c18" stroke-width="0.7"/><rect x="542.8" y="430.8" width="4.4" height="4.4" fill="#c0904c" stroke="#5a3c18" stroke-width="0.7"/><rect x="549.3" y="430.8" width="4.4" height="4.4" fill="#c0904c" stroke="#5a3c18" stroke-width="0.7"/><path d="M556.3,431.1 L557.4,431.7 L557.8,433.1 L558.5,434.4 L559.7,434.8" fill="none" stroke="#5a3410" stroke-width="0.9"/><path d="M563.3,431.1 L564.4,431.7 L564.8,433.1 L565.5,434.4 L566.7,434.8" fill="none" stroke="#5a3410" stroke-width="0.9"/><path d="M572.0,435.4 L569.2,432.7 Q569.2,430.9 570.6,430.9 Q572.0,430.9 572.0,432.0 Q572.0,430.9 573.4,430.9 Q574.8,430.9 574.8,432.7 Z" fill="#000"/><path d="M579.0,435.4 L576.2,432.7 Q576.2,430.9 577.6,430.9 Q579.0,430.9 579.0,432.0 Q579.0,430.9 580.4,430.9 Q581.8,430.9 581.8,432.7 Z" fill="#000"/><rect x="585.2" y="432.2" width="1.6" height="1.6" fill="#000"/><polygon points="593.0,430.6 595.5,432.4 594.5,435.3 591.5,435.3 590.5,432.4" fill="#fff"/><circle cx="593.0" cy="433.3" r="0.8" fill="#333"/><path d="M597.8,434.5 A2.2,2.2 0 0 1 602.2,434.5" fill="none" stroke="#a8aeb8" stroke-width="0.85"/><path d="M604.8,434.5 A2.2,2.2 0 0 1 609.2,434.5" fill="none" stroke="#a8aeb8" stroke-width="0.85"/><path d="M611.8,434.5 A2.2,2.2 0 0 1 616.2,434.5" fill="none" stroke="#a8aeb8" stroke-width="0.85"/><path d="M479.8,441.0 A2.2,2.2 0 0 1 484.2,441.0" fill="none" stroke="#a8aeb8" stroke-width="0.85"/><rect x="487.0" y="437.5" width="4.0" height="4.0" fill="#fff"/><rect x="495.2" y="438.7" width="1.6" height="1.6" fill="#000"/><path d="M503.0,441.9 L500.2,439.2 Q500.2,437.4 501.6,437.4 Q503.0,437.4 503.0,438.5 Q503.0,437.4 504.4,437.4 Q505.8,437.4 505.8,439.2 Z" fill="#000"/><path d="M510.0,441.9 L507.2,439.2 Q507.2,437.4 508.6,437.4 Q510.0,437.4 510.0,438.5 Q510.0,437.4 511.4,437.4 Q512.8,437.4 512.8,439.2 Z" fill="#000"/><path d="M515.3,437.6 L516.4,438.2 L516.8,439.6 L517.5,440.9 L518.7,441.3" fill="none" stroke="#5a3410" stroke-width="0.9"/><path d="M522.3,437.6 L523.4,438.2 L523.8,439.6 L524.5,440.9 L525.7,441.3" fill="none" stroke="#5a3410" stroke-width="0.9"/><rect x="528.8" y="437.3" width="4.4" height="4.4" fill="#c0904c" stroke="#5a3c18" stroke-width="0.7"/><rect x="535.8" y="437.3" width="4.4" height="4.4" fill="#c0904c" stroke="#5a3c18" stroke-width="0.7"/><rect x="542.8" y="437.3" width="4.4" height="4.4" fill="#c0904c" stroke="#5a3c18" stroke-width="0.7"/><rect x="549.3" y="437.3" width="4.4" height="4.4" fill="#c0904c" stroke="#5a3c18" stroke-width="0.7"/><rect x="555.8" y="437.3" width="4.4" height="4.4" fill="#c0904c" stroke="#5a3c18" stroke-width="0.7"/><path d="M563.3,437.6 L564.4,438.2 L564.8,439.6 L565.5,440.9 L566.7,441.3" fill="none" stroke="#5a3410" stroke-width="0.9"/><path d="M570.3,437.6 L571.4,438.2 L571.8,439.6 L572.5,440.9 L573.7,441.3" fill="none" stroke="#5a3410" stroke-width="0.9"/><path d="M579.0,441.9 L576.2,439.2 Q576.2,437.4 577.6,437.4 Q579.0,437.4 579.0,438.5 Q579.0,437.4 580.4,437.4 Q581.8,437.4 581.8,439.2 Z" fill="#000"/><path d="M586.0,441.9 L583.2,439.2 Q583.2,437.4 584.6,437.4 Q586.0,437.4 586.0,438.5 Q586.0,437.4 587.4,437.4 Q588.8,437.4 588.8,439.2 Z" fill="#000"/><rect x="592.2" y="438.7" width="1.6" height="1.6" fill="#000"/><rect x="599.2" y="438.7" width="1.6" height="1.6" fill="#000"/><rect x="605.0" y="437.5" width="4.0" height="4.0" fill="#fff"/><path d="M611.8,441.0 A2.2,2.2 0 0 1 616.2,441.0" fill="none" stroke="#a8aeb8" stroke-width="0.85"/><rect x="473.0" y="444.0" width="4.0" height="4.0" fill="#fff"/><rect x="480.0" y="444.0" width="4.0" height="4.0" fill="#fff"/><rect x="488.2" y="445.2" width="1.6" height="1.6" fill="#000"/><rect x="495.2" y="445.2" width="1.6" height="1.6" fill="#000"/><path d="M503.0,448.4 L500.2,445.7 Q500.2,443.9 501.6,443.9 Q503.0,443.9 503.0,445.0 Q503.0,443.9 504.4,443.9 Q505.8,443.9 505.8,445.7 Z" fill="#000"/><path d="M510.0,448.4 L507.2,445.7 Q507.2,443.9 508.6,443.9 Q510.0,443.9 510.0,445.0 Q510.0,443.9 511.4,443.9 Q512.8,443.9 512.8,445.7 Z" fill="#000"/><path d="M517.0,448.4 L514.2,445.7 Q514.2,443.9 515.6,443.9 Q517.0,443.9 517.0,445.0 Q517.0,443.9 518.4,443.9 Q519.8,443.9 519.8,445.7 Z" fill="#000"/><path d="M522.3,444.1 L523.4,444.7 L523.8,446.1 L524.5,447.4 L525.7,447.8" fill="none" stroke="#5a3410" stroke-width="0.9"/><rect x="528.8" y="443.8" width="4.4" height="4.4" fill="#c0904c" stroke="#5a3c18" stroke-width="0.7"/><path d="M536.3,444.1 L537.4,444.7 L537.8,446.1 L538.5,447.4 L539.7,447.8" fill="none" stroke="#5a3410" stroke-width="0.9"/><rect x="542.8" y="443.8" width="4.4" height="4.4" fill="#c0904c" stroke="#5a3c18" stroke-width="0.7"/><rect x="549.3" y="443.8" width="4.4" height="4.4" fill="#c0904c" stroke="#5a3c18" stroke-width="0.7"/><rect x="555.8" y="443.8" width="4.4" height="4.4" fill="#c0904c" stroke="#5a3c18" stroke-width="0.7"/><path d="M563.3,444.1 L564.4,444.7 L564.8,446.1 L565.5,447.4 L566.7,447.8" fill="none" stroke="#5a3410" stroke-width="0.9"/><path d="M570.3,444.1 L571.4,444.7 L571.8,446.1 L572.5,447.4 L573.7,447.8" fill="none" stroke="#5a3410" stroke-width="0.9"/><path d="M577.3,444.1 L578.4,444.7 L578.8,446.1 L579.5,447.4 L580.7,447.8" fill="none" stroke="#5a3410" stroke-width="0.9"/><path d="M586.0,448.4 L583.2,445.7 Q583.2,443.9 584.6,443.9 Q586.0,443.9 586.0,445.0 Q586.0,443.9 587.4,443.9 Q588.8,443.9 588.8,445.7 Z" fill="#000"/><path d="M593.0,448.4 L590.2,445.7 Q590.2,443.9 591.6,443.9 Q593.0,443.9 593.0,445.0 Q593.0,443.9 594.4,443.9 Q595.8,443.9 595.8,445.7 Z" fill="#000"/><rect x="599.2" y="445.2" width="1.6" height="1.6" fill="#000"/><rect x="606.2" y="445.2" width="1.6" height="1.6" fill="#000"/><rect x="612.0" y="444.0" width="4.0" height="4.0" fill="#fff"/><rect x="619.0" y="444.0" width="4.0" height="4.0" fill="#fff"/><rect x="473.0" y="451.0" width="4.0" height="4.0" fill="#fff"/><rect x="480.0" y="451.0" width="4.0" height="4.0" fill="#fff"/><rect x="488.2" y="452.2" width="1.6" height="1.6" fill="#000"/><path d="M496.0,455.4 L493.2,452.7 Q493.2,450.9 494.6,450.9 Q496.0,450.9 496.0,452.0 Q496.0,450.9 497.4,450.9 Q498.8,450.9 498.8,452.7 Z" fill="#000"/><rect x="502.2" y="452.2" width="1.6" height="1.6" fill="#000"/><path d="M510.0,455.4 L507.2,452.7 Q507.2,450.9 508.6,450.9 Q510.0,450.9 510.0,452.0 Q510.0,450.9 511.4,450.9 Q512.8,450.9 512.8,452.7 Z" fill="#000"/><path d="M515.3,451.1 L516.4,451.7 L516.8,453.1 L517.5,454.4 L518.7,454.8" fill="none" stroke="#5a3410" stroke-width="0.9"/><rect x="521.8" y="450.8" width="4.4" height="4.4" fill="#c0904c" stroke="#5a3c18" stroke-width="0.7"/><path d="M529.3,451.1 L530.4,451.7 L530.8,453.1 L531.5,454.4 L532.7,454.8" fill="none" stroke="#5a3410" stroke-width="0.9"/><rect x="535.8" y="450.8" width="4.4" height="4.4" fill="#c0904c" stroke="#5a3c18" stroke-width="0.7"/><rect x="542.8" y="450.8" width="4.4" height="4.4" fill="#c0904c" stroke="#5a3c18" stroke-width="0.7"/><rect x="549.3" y="450.8" width="4.4" height="4.4" fill="#c0904c" stroke="#5a3c18" stroke-width="0.7"/><rect x="555.8" y="450.8" width="4.4" height="4.4" fill="#c0904c" stroke="#5a3c18" stroke-width="0.7"/><rect x="562.8" y="450.8" width="4.4" height="4.4" fill="#c0904c" stroke="#5a3c18" stroke-width="0.7"/><path d="M570.3,451.1 L571.4,451.7 L571.8,453.1 L572.5,454.4 L573.7,454.8" fill="none" stroke="#5a3410" stroke-width="0.9"/><path d="M577.3,451.1 L578.4,451.7 L578.8,453.1 L579.5,454.4 L580.7,454.8" fill="none" stroke="#5a3410" stroke-width="0.9"/><path d="M586.0,455.4 L583.2,452.7 Q583.2,450.9 584.6,450.9 Q586.0,450.9 586.0,452.0 Q586.0,450.9 587.4,450.9 Q588.8,450.9 588.8,452.7 Z" fill="#000"/><path d="M593.0,455.4 L590.2,452.7 Q590.2,450.9 591.6,450.9 Q593.0,450.9 593.0,452.0 Q593.0,450.9 594.4,450.9 Q595.8,450.9 595.8,452.7 Z" fill="#000"/><path d="M600.0,455.4 L597.2,452.7 Q597.2,450.9 598.6,450.9 Q600.0,450.9 600.0,452.0 Q600.0,450.9 601.4,450.9 Q602.8,450.9 602.8,452.7 Z" fill="#000"/><rect x="606.2" y="452.2" width="1.6" height="1.6" fill="#000"/><rect x="612.0" y="451.0" width="4.0" height="4.0" fill="#fff"/><rect x="619.0" y="451.0" width="4.0" height="4.0" fill="#fff"/><rect x="473.0" y="458.0" width="4.0" height="4.0" fill="#fff"/><rect x="481.2" y="459.2" width="1.6" height="1.6" fill="#000"/><rect x="487.0" y="458.0" width="4.0" height="4.0" fill="#fff"/><rect x="495.2" y="459.2" width="1.6" height="1.6" fill="#000"/><path d="M503.0,462.4 L500.2,459.7 Q500.2,457.9 501.6,457.9 Q503.0,457.9 503.0,459.0 Q503.0,457.9 504.4,457.9 Q505.8,457.9 505.8,459.7 Z" fill="#000"/><path d="M510.0,462.4 L507.2,459.7 Q507.2,457.9 508.6,457.9 Q510.0,457.9 510.0,459.0 Q510.0,457.9 511.4,457.9 Q512.8,457.9 512.8,459.7 Z" fill="#000"/><path d="M517.0,462.4 L514.2,459.7 Q514.2,457.9 515.6,457.9 Q517.0,457.9 517.0,459.0 Q517.0,457.9 518.4,457.9 Q519.8,457.9 519.8,459.7 Z" fill="#000"/><path d="M522.3,458.1 L523.4,458.7 L523.8,460.1 L524.5,461.4 L525.7,461.8" fill="none" stroke="#5a3410" stroke-width="0.9"/><rect x="528.8" y="457.8" width="4.4" height="4.4" fill="#c0904c" stroke="#5a3c18" stroke-width="0.7"/><rect x="535.8" y="457.8" width="4.4" height="4.4" fill="#c0904c" stroke="#5a3c18" stroke-width="0.7"/><rect x="542.8" y="457.8" width="4.4" height="4.4" fill="#c0904c" stroke="#5a3c18" stroke-width="0.7"/><rect x="549.3" y="457.8" width="4.4" height="4.4" fill="#c0904c" stroke="#5a3c18" stroke-width="0.7"/><rect x="555.8" y="457.8" width="4.4" height="4.4" fill="#c0904c" stroke="#5a3c18" stroke-width="0.7"/><path d="M563.3,458.1 L564.4,458.7 L564.8,460.1 L565.5,461.4 L566.7,461.8" fill="none" stroke="#5a3410" stroke-width="0.9"/><rect x="569.8" y="457.8" width="4.4" height="4.4" fill="#c0904c" stroke="#5a3c18" stroke-width="0.7"/><path d="M577.3,458.1 L578.4,458.7 L578.8,460.1 L579.5,461.4 L580.7,461.8" fill="none" stroke="#5a3410" stroke-width="0.9"/><path d="M586.0,462.4 L583.2,459.7 Q583.2,457.9 584.6,457.9 Q586.0,457.9 586.0,459.0 Q586.0,457.9 587.4,457.9 Q588.8,457.9 588.8,459.7 Z" fill="#000"/><rect x="592.2" y="459.2" width="1.6" height="1.6" fill="#000"/><rect x="599.2" y="459.2" width="1.6" height="1.6" fill="#000"/><rect x="606.2" y="459.2" width="1.6" height="1.6" fill="#000"/><rect x="612.0" y="458.0" width="4.0" height="4.0" fill="#fff"/><rect x="619.0" y="458.0" width="4.0" height="4.0" fill="#fff"/><path d="M467.7,465.3V468.7M469.3,465.3V468.7M466.8,466.2H470.2M466.8,467.8H470.2" stroke="#f6c8b8" stroke-width="0.7"/><rect x="473.0" y="465.0" width="4.0" height="4.0" fill="#fff"/><rect x="480.0" y="465.0" width="4.0" height="4.0" fill="#fff"/><rect x="488.2" y="466.2" width="1.6" height="1.6" fill="#000"/><rect x="495.2" y="466.2" width="1.6" height="1.6" fill="#000"/><rect x="501.2" y="465.2" width="3.6" height="3.6" fill="#858b96"/><path d="M503.0,465.2V468.8M501.2,467.0H504.8" stroke="#3c414a" stroke-width="0.35"/><rect x="508.2" y="465.2" width="3.6" height="3.6" fill="#858b96"/><path d="M510.0,465.2V468.8M508.2,467.0H511.8" stroke="#3c414a" stroke-width="0.35"/><line x1="514.0" y1="464.0" x2="520.0" y2="470.0" stroke="#fff" stroke-width="0.5"/><ellipse cx="517.0" cy="467.0" rx="2.1" ry="1.05" transform="rotate(38 517.0 467.0)" fill="#fff"/><line x1="521.0" y1="464.0" x2="527.0" y2="470.0" stroke="#fff" stroke-width="0.5"/><ellipse cx="524.0" cy="467.0" rx="2.1" ry="1.05" transform="rotate(38 524.0 467.0)" fill="#fff"/><line x1="528.0" y1="464.0" x2="534.0" y2="470.0" stroke="#fff" stroke-width="0.5"/><ellipse cx="531.0" cy="467.0" rx="2.1" ry="1.05" transform="rotate(38 531.0 467.0)" fill="#fff"/><line x1="535.0" y1="464.0" x2="541.0" y2="470.0" stroke="#fff" stroke-width="0.5"/><ellipse cx="538.0" cy="467.0" rx="2.1" ry="1.05" transform="rotate(38 538.0 467.0)" fill="#fff"/><rect x="543.4" y="466.4" width="3.2" height="1.2" fill="#dde0e6"/><rect x="549.9" y="466.4" width="3.2" height="1.2" fill="#dde0e6"/><rect x="556.4" y="466.4" width="3.2" height="1.2" fill="#dde0e6"/><line x1="562.0" y1="464.0" x2="568.0" y2="470.0" stroke="#fff" stroke-width="0.5"/><ellipse cx="565.0" cy="467.0" rx="2.1" ry="1.05" transform="rotate(38 565.0 467.0)" fill="#fff"/><line x1="569.0" y1="464.0" x2="575.0" y2="470.0" stroke="#fff" stroke-width="0.5"/><ellipse cx="572.0" cy="467.0" rx="2.1" ry="1.05" transform="rotate(38 572.0 467.0)" fill="#fff"/><line x1="576.0" y1="464.0" x2="582.0" y2="470.0" stroke="#fff" stroke-width="0.5"/><ellipse cx="579.0" cy="467.0" rx="2.1" ry="1.05" transform="rotate(38 579.0 467.0)" fill="#fff"/><rect x="584.2" y="465.2" width="3.6" height="3.6" fill="#858b96"/><path d="M586.0,465.2V468.8M584.2,467.0H587.8" stroke="#3c414a" stroke-width="0.35"/><polygon points="593.0,464.6 595.5,466.4 594.5,469.3 591.5,469.3 590.5,466.4" fill="#fff"/><circle cx="593.0" cy="467.3" r="0.8" fill="#333"/><rect x="599.2" y="466.2" width="1.6" height="1.6" fill="#000"/><rect x="606.2" y="466.2" width="1.6" height="1.6" fill="#000"/><rect x="612.0" y="465.0" width="4.0" height="4.0" fill="#fff"/><rect x="619.0" y="465.0" width="4.0" height="4.0" fill="#fff"/><path d="M627.2,465.3V468.7M628.8,465.3V468.7M626.3,466.2H629.7M626.3,467.8H629.7" stroke="#f6c8b8" stroke-width="0.7"/><path d="M467.7,472.3V475.7M469.3,472.3V475.7M466.8,473.2H470.2M466.8,474.8H470.2" stroke="#f6c8b8" stroke-width="0.7"/><path d="M474.2,472.3V475.7M475.8,472.3V475.7M473.3,473.2H476.7M473.3,474.8H476.7" stroke="#f6c8b8" stroke-width="0.7"/><polygon points="482.0,471.6 484.5,473.4 483.5,476.3 480.5,476.3 479.5,473.4" fill="#fff"/><circle cx="482.0" cy="474.3" r="0.8" fill="#333"/><polygon points="489.0,471.6 491.5,473.4 490.5,476.3 487.5,476.3 486.5,473.4" fill="#fff"/><circle cx="489.0" cy="474.3" r="0.8" fill="#333"/><rect x="494.2" y="472.2" width="3.6" height="3.6" fill="#858b96"/><path d="M496.0,472.2V475.8M494.2,474.0H497.8" stroke="#3c414a" stroke-width="0.35"/><rect x="501.2" y="472.2" width="3.6" height="3.6" fill="#858b96"/><path d="M503.0,472.2V475.8M501.2,474.0H504.8" stroke="#3c414a" stroke-width="0.35"/><line x1="507.0" y1="471.0" x2="513.0" y2="477.0" stroke="#fff" stroke-width="0.5"/><ellipse cx="510.0" cy="474.0" rx="2.1" ry="1.05" transform="rotate(38 510.0 474.0)" fill="#fff"/><line x1="514.0" y1="471.0" x2="520.0" y2="477.0" stroke="#fff" stroke-width="0.5"/><ellipse cx="517.0" cy="474.0" rx="2.1" ry="1.05" transform="rotate(38 517.0 474.0)" fill="#fff"/><rect x="522.4" y="473.4" width="3.2" height="1.2" fill="#dde0e6"/><line x1="528.0" y1="471.0" x2="534.0" y2="477.0" stroke="#fff" stroke-width="0.5"/><ellipse cx="531.0" cy="474.0" rx="2.1" ry="1.05" transform="rotate(38 531.0 474.0)" fill="#fff"/><rect x="536.4" y="473.4" width="3.2" height="1.2" fill="#dde0e6"/><rect x="543.4" y="473.4" width="3.2" height="1.2" fill="#dde0e6"/><rect x="549.9" y="473.4" width="3.2" height="1.2" fill="#dde0e6"/><rect x="556.4" y="473.4" width="3.2" height="1.2" fill="#dde0e6"/><rect x="563.4" y="473.4" width="3.2" height="1.2" fill="#dde0e6"/><line x1="569.0" y1="471.0" x2="575.0" y2="477.0" stroke="#fff" stroke-width="0.5"/><ellipse cx="572.0" cy="474.0" rx="2.1" ry="1.05" transform="rotate(38 572.0 474.0)" fill="#fff"/><line x1="576.0" y1="471.0" x2="582.0" y2="477.0" stroke="#fff" stroke-width="0.5"/><ellipse cx="579.0" cy="474.0" rx="2.1" ry="1.05" transform="rotate(38 579.0 474.0)" fill="#fff"/><line x1="583.0" y1="471.0" x2="589.0" y2="477.0" stroke="#fff" stroke-width="0.5"/><ellipse cx="586.0" cy="474.0" rx="2.1" ry="1.05" transform="rotate(38 586.0 474.0)" fill="#fff"/><rect x="591.2" y="472.2" width="3.6" height="3.6" fill="#858b96"/><path d="M593.0,472.2V475.8M591.2,474.0H594.8" stroke="#3c414a" stroke-width="0.35"/><rect x="598.2" y="472.2" width="3.6" height="3.6" fill="#858b96"/><path d="M600.0,472.2V475.8M598.2,474.0H601.8" stroke="#3c414a" stroke-width="0.35"/><polygon points="607.0,471.6 609.5,473.4 608.5,476.3 605.5,476.3 604.5,473.4" fill="#fff"/><circle cx="607.0" cy="474.3" r="0.8" fill="#333"/><rect x="612.0" y="472.0" width="4.0" height="4.0" fill="#fff"/><path d="M620.2,472.3V475.7M621.8,472.3V475.7M619.3,473.2H622.7M619.3,474.8H622.7" stroke="#f6c8b8" stroke-width="0.7"/><path d="M627.2,472.3V475.7M628.8,472.3V475.7M626.3,473.2H629.7M626.3,474.8H629.7" stroke="#f6c8b8" stroke-width="0.7"/><path d="M466.3,482.5 A2.2,2.2 0 0 1 470.7,482.5" fill="none" stroke="#a8aeb8" stroke-width="0.85"/><polygon points="475.0,478.6 477.5,480.4 476.5,483.3 473.5,483.3 472.5,480.4" fill="#fff"/><circle cx="475.0" cy="481.3" r="0.8" fill="#333"/><polygon points="482.0,478.6 484.5,480.4 483.5,483.3 480.5,483.3 479.5,480.4" fill="#fff"/><circle cx="482.0" cy="481.3" r="0.8" fill="#333"/><rect x="487.2" y="479.2" width="3.6" height="3.6" fill="#858b96"/><path d="M489.0,479.2V482.8M487.2,481.0H490.8" stroke="#3c414a" stroke-width="0.35"/><rect x="494.2" y="479.2" width="3.6" height="3.6" fill="#858b96"/><path d="M496.0,479.2V482.8M494.2,481.0H497.8" stroke="#3c414a" stroke-width="0.35"/><line x1="500.0" y1="478.0" x2="506.0" y2="484.0" stroke="#fff" stroke-width="0.5"/><ellipse cx="503.0" cy="481.0" rx="2.1" ry="1.05" transform="rotate(38 503.0 481.0)" fill="#fff"/><line x1="507.0" y1="478.0" x2="513.0" y2="484.0" stroke="#fff" stroke-width="0.5"/><ellipse cx="510.0" cy="481.0" rx="2.1" ry="1.05" transform="rotate(38 510.0 481.0)" fill="#fff"/><rect x="515.4" y="480.4" width="3.2" height="1.2" fill="#dde0e6"/><line x1="521.0" y1="478.0" x2="527.0" y2="484.0" stroke="#fff" stroke-width="0.5"/><ellipse cx="524.0" cy="481.0" rx="2.1" ry="1.05" transform="rotate(38 524.0 481.0)" fill="#fff"/><rect x="529.4" y="480.4" width="3.2" height="1.2" fill="#dde0e6"/><rect x="536.4" y="480.4" width="3.2" height="1.2" fill="#dde0e6"/><rect x="543.4" y="480.4" width="3.2" height="1.2" fill="#dde0e6"/><rect x="549.9" y="480.4" width="3.2" height="1.2" fill="#dde0e6"/><rect x="556.4" y="480.4" width="3.2" height="1.2" fill="#dde0e6"/><line x1="562.0" y1="478.0" x2="568.0" y2="484.0" stroke="#fff" stroke-width="0.5"/><ellipse cx="565.0" cy="481.0" rx="2.1" ry="1.05" transform="rotate(38 565.0 481.0)" fill="#fff"/><rect x="570.4" y="480.4" width="3.2" height="1.2" fill="#dde0e6"/><line x1="576.0" y1="478.0" x2="582.0" y2="484.0" stroke="#fff" stroke-width="0.5"/><ellipse cx="579.0" cy="481.0" rx="2.1" ry="1.05" transform="rotate(38 579.0 481.0)" fill="#fff"/><line x1="583.0" y1="478.0" x2="589.0" y2="484.0" stroke="#fff" stroke-width="0.5"/><ellipse cx="586.0" cy="481.0" rx="2.1" ry="1.05" transform="rotate(38 586.0 481.0)" fill="#fff"/><rect x="591.2" y="479.2" width="3.6" height="3.6" fill="#858b96"/><path d="M593.0,479.2V482.8M591.2,481.0H594.8" stroke="#3c414a" stroke-width="0.35"/><rect x="598.2" y="479.2" width="3.6" height="3.6" fill="#858b96"/><path d="M600.0,479.2V482.8M598.2,481.0H601.8" stroke="#3c414a" stroke-width="0.35"/><polygon points="607.0,478.6 609.5,480.4 608.5,483.3 605.5,483.3 604.5,480.4" fill="#fff"/><circle cx="607.0" cy="481.3" r="0.8" fill="#333"/><polygon points="614.0,478.6 616.5,480.4 615.5,483.3 612.5,483.3 611.5,480.4" fill="#fff"/><circle cx="614.0" cy="481.3" r="0.8" fill="#333"/><polygon points="621.0,478.6 623.5,480.4 622.5,483.3 619.5,483.3 618.5,480.4" fill="#fff"/><circle cx="621.0" cy="481.3" r="0.8" fill="#333"/><path d="M625.8,482.5 A2.2,2.2 0 0 1 630.2,482.5" fill="none" stroke="#a8aeb8" stroke-width="0.85"/><path d="M466.3,489.5 A2.2,2.2 0 0 1 470.7,489.5" fill="none" stroke="#a8aeb8" stroke-width="0.85"/><polygon points="475.0,485.6 477.5,487.4 476.5,490.3 473.5,490.3 472.5,487.4" fill="#fff"/><circle cx="475.0" cy="488.3" r="0.8" fill="#333"/><polygon points="482.0,485.6 484.5,487.4 483.5,490.3 480.5,490.3 479.5,487.4" fill="#fff"/><circle cx="482.0" cy="488.3" r="0.8" fill="#333"/><rect x="487.2" y="486.2" width="3.6" height="3.6" fill="#858b96"/><path d="M489.0,486.2V489.8M487.2,488.0H490.8" stroke="#3c414a" stroke-width="0.35"/><rect x="494.2" y="486.2" width="3.6" height="3.6" fill="#858b96"/><path d="M496.0,486.2V489.8M494.2,488.0H497.8" stroke="#3c414a" stroke-width="0.35"/><line x1="500.0" y1="485.0" x2="506.0" y2="491.0" stroke="#fff" stroke-width="0.5"/><ellipse cx="503.0" cy="488.0" rx="2.1" ry="1.05" transform="rotate(38 503.0 488.0)" fill="#fff"/><rect x="508.4" y="487.4" width="3.2" height="1.2" fill="#dde0e6"/><line x1="514.0" y1="485.0" x2="520.0" y2="491.0" stroke="#fff" stroke-width="0.5"/><ellipse cx="517.0" cy="488.0" rx="2.1" ry="1.05" transform="rotate(38 517.0 488.0)" fill="#fff"/><rect x="522.4" y="487.4" width="3.2" height="1.2" fill="#dde0e6"/><line x1="528.0" y1="485.0" x2="534.0" y2="491.0" stroke="#fff" stroke-width="0.5"/><ellipse cx="531.0" cy="488.0" rx="2.1" ry="1.05" transform="rotate(38 531.0 488.0)" fill="#fff"/><rect x="536.4" y="487.4" width="3.2" height="1.2" fill="#dde0e6"/><rect x="543.4" y="487.4" width="3.2" height="1.2" fill="#dde0e6"/><rect x="549.9" y="487.4" width="3.2" height="1.2" fill="#dde0e6"/><rect x="556.4" y="487.4" width="3.2" height="1.2" fill="#dde0e6"/><rect x="563.4" y="487.4" width="3.2" height="1.2" fill="#dde0e6"/><line x1="569.0" y1="485.0" x2="575.0" y2="491.0" stroke="#fff" stroke-width="0.5"/><ellipse cx="572.0" cy="488.0" rx="2.1" ry="1.05" transform="rotate(38 572.0 488.0)" fill="#fff"/><line x1="576.0" y1="485.0" x2="582.0" y2="491.0" stroke="#fff" stroke-width="0.5"/><ellipse cx="579.0" cy="488.0" rx="2.1" ry="1.05" transform="rotate(38 579.0 488.0)" fill="#fff"/><rect x="584.2" y="486.2" width="3.6" height="3.6" fill="#858b96"/><path d="M586.0,486.2V489.8M584.2,488.0H587.8" stroke="#3c414a" stroke-width="0.35"/><line x1="590.0" y1="485.0" x2="596.0" y2="491.0" stroke="#fff" stroke-width="0.5"/><ellipse cx="593.0" cy="488.0" rx="2.1" ry="1.05" transform="rotate(38 593.0 488.0)" fill="#fff"/><rect x="598.2" y="486.2" width="3.6" height="3.6" fill="#858b96"/><path d="M600.0,486.2V489.8M598.2,488.0H601.8" stroke="#3c414a" stroke-width="0.35"/><rect x="605.2" y="486.2" width="3.6" height="3.6" fill="#858b96"/><path d="M607.0,486.2V489.8M605.2,488.0H608.8" stroke="#3c414a" stroke-width="0.35"/><polygon points="614.0,485.6 616.5,487.4 615.5,490.3 612.5,490.3 611.5,487.4" fill="#fff"/><circle cx="614.0" cy="488.3" r="0.8" fill="#333"/><polygon points="621.0,485.6 623.5,487.4 622.5,490.3 619.5,490.3 618.5,487.4" fill="#fff"/><circle cx="621.0" cy="488.3" r="0.8" fill="#333"/><path d="M625.8,489.5 A2.2,2.2 0 0 1 630.2,489.5" fill="none" stroke="#a8aeb8" stroke-width="0.85"/><path d="M459.8,496.5 A2.2,2.2 0 0 1 464.2,496.5" fill="none" stroke="#a8aeb8" stroke-width="0.85"/><path d="M466.3,496.5 A2.2,2.2 0 0 1 470.7,496.5" fill="none" stroke="#a8aeb8" stroke-width="0.85"/><polygon points="475.0,492.6 477.5,494.4 476.5,497.3 473.5,497.3 472.5,494.4" fill="#fff"/><circle cx="475.0" cy="495.3" r="0.8" fill="#333"/><polygon points="482.0,492.6 484.5,494.4 483.5,497.3 480.5,497.3 479.5,494.4" fill="#fff"/><circle cx="482.0" cy="495.3" r="0.8" fill="#333"/><polygon points="489.0,492.6 491.5,494.4 490.5,497.3 487.5,497.3 486.5,494.4" fill="#fff"/><circle cx="489.0" cy="495.3" r="0.8" fill="#333"/><rect x="494.2" y="493.2" width="3.6" height="3.6" fill="#858b96"/><path d="M496.0,493.2V496.8M494.2,495.0H497.8" stroke="#3c414a" stroke-width="0.35"/><rect x="501.2" y="493.2" width="3.6" height="3.6" fill="#858b96"/><path d="M503.0,493.2V496.8M501.2,495.0H504.8" stroke="#3c414a" stroke-width="0.35"/><line x1="507.0" y1="492.0" x2="513.0" y2="498.0" stroke="#fff" stroke-width="0.5"/><ellipse cx="510.0" cy="495.0" rx="2.1" ry="1.05" transform="rotate(38 510.0 495.0)" fill="#fff"/><path d="M515.3,493.1 L516.4,493.7 L516.8,495.1 L517.5,496.4 L518.7,496.8" fill="none" stroke="#5a3410" stroke-width="0.9"/><path d="M522.3,493.1 L523.4,493.7 L523.8,495.1 L524.5,496.4 L525.7,496.8" fill="none" stroke="#5a3410" stroke-width="0.9"/><rect x="528.8" y="492.8" width="4.4" height="4.4" fill="#c0904c" stroke="#5a3c18" stroke-width="0.7"/><rect x="535.8" y="492.8" width="4.4" height="4.4" fill="#c0904c" stroke="#5a3c18" stroke-width="0.7"/><rect x="542.8" y="492.8" width="4.4" height="4.4" fill="#c0904c" stroke="#5a3c18" stroke-width="0.7"/><rect x="549.3" y="492.8" width="4.4" height="4.4" fill="#c0904c" stroke="#5a3c18" stroke-width="0.7"/><rect x="555.8" y="492.8" width="4.4" height="4.4" fill="#c0904c" stroke="#5a3c18" stroke-width="0.7"/><rect x="562.8" y="492.8" width="4.4" height="4.4" fill="#c0904c" stroke="#5a3c18" stroke-width="0.7"/><path d="M570.3,493.1 L571.4,493.7 L571.8,495.1 L572.5,496.4 L573.7,496.8" fill="none" stroke="#5a3410" stroke-width="0.9"/><path d="M577.3,493.1 L578.4,493.7 L578.8,495.1 L579.5,496.4 L580.7,496.8" fill="none" stroke="#5a3410" stroke-width="0.9"/><path d="M584.3,493.1 L585.4,493.7 L585.8,495.1 L586.5,496.4 L587.7,496.8" fill="none" stroke="#5a3410" stroke-width="0.9"/><rect x="591.2" y="493.2" width="3.6" height="3.6" fill="#858b96"/><path d="M593.0,493.2V496.8M591.2,495.0H594.8" stroke="#3c414a" stroke-width="0.35"/><polygon points="600.0,492.6 602.5,494.4 601.5,497.3 598.5,497.3 597.5,494.4" fill="#fff"/><circle cx="600.0" cy="495.3" r="0.8" fill="#333"/><polygon points="607.0,492.6 609.5,494.4 608.5,497.3 605.5,497.3 604.5,494.4" fill="#fff"/><circle cx="607.0" cy="495.3" r="0.8" fill="#333"/><polygon points="614.0,492.6 616.5,494.4 615.5,497.3 612.5,497.3 611.5,494.4" fill="#fff"/><circle cx="614.0" cy="495.3" r="0.8" fill="#333"/><polygon points="621.0,492.6 623.5,494.4 622.5,497.3 619.5,497.3 618.5,494.4" fill="#fff"/><circle cx="621.0" cy="495.3" r="0.8" fill="#333"/><path d="M625.8,496.5 A2.2,2.2 0 0 1 630.2,496.5" fill="none" stroke="#a8aeb8" stroke-width="0.85"/><path d="M632.3,496.5 A2.2,2.2 0 0 1 636.7,496.5" fill="none" stroke="#a8aeb8" stroke-width="0.85"/><path d="M459.8,503.5 A2.2,2.2 0 0 1 464.2,503.5" fill="none" stroke="#a8aeb8" stroke-width="0.85"/><path d="M466.3,503.5 A2.2,2.2 0 0 1 470.7,503.5" fill="none" stroke="#a8aeb8" stroke-width="0.85"/><path d="M472.8,503.5 A2.2,2.2 0 0 1 477.2,503.5" fill="none" stroke="#a8aeb8" stroke-width="0.85"/><polygon points="482.0,499.6 484.5,501.4 483.5,504.3 480.5,504.3 479.5,501.4" fill="#fff"/><circle cx="482.0" cy="502.3" r="0.8" fill="#333"/><polygon points="489.0,499.6 491.5,501.4 490.5,504.3 487.5,504.3 486.5,501.4" fill="#fff"/><circle cx="489.0" cy="502.3" r="0.8" fill="#333"/><path d="M496.0,504.4 L493.2,501.7 Q493.2,499.9 494.6,499.9 Q496.0,499.9 496.0,501.0 Q496.0,499.9 497.4,499.9 Q498.8,499.9 498.8,501.7 Z" fill="#000"/><path d="M501.3,500.1 L502.4,500.7 L502.8,502.1 L503.5,503.4 L504.7,503.8" fill="none" stroke="#5a3410" stroke-width="0.9"/><path d="M508.3,500.1 L509.4,500.7 L509.8,502.1 L510.5,503.4 L511.7,503.8" fill="none" stroke="#5a3410" stroke-width="0.9"/><path d="M515.3,500.1 L516.4,500.7 L516.8,502.1 L517.5,503.4 L518.7,503.8" fill="none" stroke="#5a3410" stroke-width="0.9"/><rect x="521.8" y="499.8" width="4.4" height="4.4" fill="#c0904c" stroke="#5a3c18" stroke-width="0.7"/><rect x="528.8" y="499.8" width="4.4" height="4.4" fill="#c0904c" stroke="#5a3c18" stroke-width="0.7"/><rect x="535.8" y="499.8" width="4.4" height="4.4" fill="#c0904c" stroke="#5a3c18" stroke-width="0.7"/><rect x="542.8" y="499.8" width="4.4" height="4.4" fill="#c0904c" stroke="#5a3c18" stroke-width="0.7"/><rect x="549.3" y="499.8" width="4.4" height="4.4" fill="#c0904c" stroke="#5a3c18" stroke-width="0.7"/><rect x="555.8" y="499.8" width="4.4" height="4.4" fill="#c0904c" stroke="#5a3c18" stroke-width="0.7"/><rect x="562.8" y="499.8" width="4.4" height="4.4" fill="#c0904c" stroke="#5a3c18" stroke-width="0.7"/><rect x="569.8" y="499.8" width="4.4" height="4.4" fill="#c0904c" stroke="#5a3c18" stroke-width="0.7"/><path d="M577.3,500.1 L578.4,500.7 L578.8,502.1 L579.5,503.4 L580.7,503.8" fill="none" stroke="#5a3410" stroke-width="0.9"/><path d="M584.3,500.1 L585.4,500.7 L585.8,502.1 L586.5,503.4 L587.7,503.8" fill="none" stroke="#5a3410" stroke-width="0.9"/><path d="M591.3,500.1 L592.4,500.7 L592.8,502.1 L593.5,503.4 L594.7,503.8" fill="none" stroke="#5a3410" stroke-width="0.9"/><path d="M600.0,504.4 L597.2,501.7 Q597.2,499.9 598.6,499.9 Q600.0,499.9 600.0,501.0 Q600.0,499.9 601.4,499.9 Q602.8,499.9 602.8,501.7 Z" fill="#000"/><path d="M607.0,504.4 L604.2,501.7 Q604.2,499.9 605.6,499.9 Q607.0,499.9 607.0,501.0 Q607.0,499.9 608.4,499.9 Q609.8,499.9 609.8,501.7 Z" fill="#000"/><polygon points="614.0,499.6 616.5,501.4 615.5,504.3 612.5,504.3 611.5,501.4" fill="#fff"/><circle cx="614.0" cy="502.3" r="0.8" fill="#333"/><path d="M618.8,503.5 A2.2,2.2 0 0 1 623.2,503.5" fill="none" stroke="#a8aeb8" stroke-width="0.85"/><path d="M625.8,503.5 A2.2,2.2 0 0 1 630.2,503.5" fill="none" stroke="#a8aeb8" stroke-width="0.85"/><path d="M632.3,503.5 A2.2,2.2 0 0 1 636.7,503.5" fill="none" stroke="#a8aeb8" stroke-width="0.85"/><path d="M459.8,510.5 A2.2,2.2 0 0 1 464.2,510.5" fill="none" stroke="#a8aeb8" stroke-width="0.85"/><path d="M466.3,510.5 A2.2,2.2 0 0 1 470.7,510.5" fill="none" stroke="#a8aeb8" stroke-width="0.85"/><path d="M472.8,510.5 A2.2,2.2 0 0 1 477.2,510.5" fill="none" stroke="#a8aeb8" stroke-width="0.85"/><rect x="481.2" y="508.2" width="1.6" height="1.6" fill="#000"/><path d="M489.0,511.4 L486.2,508.7 Q486.2,506.9 487.6,506.9 Q489.0,506.9 489.0,508.0 Q489.0,506.9 490.4,506.9 Q491.8,506.9 491.8,508.7 Z" fill="#000"/><path d="M496.0,511.4 L493.2,508.7 Q493.2,506.9 494.6,506.9 Q496.0,506.9 496.0,508.0 Q496.0,506.9 497.4,506.9 Q498.8,506.9 498.8,508.7 Z" fill="#000"/><path d="M501.3,507.1 L502.4,507.7 L502.8,509.1 L503.5,510.4 L504.7,510.8" fill="none" stroke="#5a3410" stroke-width="0.9"/><path d="M508.3,507.1 L509.4,507.7 L509.8,509.1 L510.5,510.4 L511.7,510.8" fill="none" stroke="#5a3410" stroke-width="0.9"/><rect x="514.8" y="506.8" width="4.4" height="4.4" fill="#c0904c" stroke="#5a3c18" stroke-width="0.7"/><rect x="521.8" y="506.8" width="4.4" height="4.4" fill="#c0904c" stroke="#5a3c18" stroke-width="0.7"/><rect x="528.8" y="506.8" width="4.4" height="4.4" fill="#c0904c" stroke="#5a3c18" stroke-width="0.7"/><rect x="535.8" y="506.8" width="4.4" height="4.4" fill="#c0904c" stroke="#5a3c18" stroke-width="0.7"/><rect x="542.8" y="506.8" width="4.4" height="4.4" fill="#c0904c" stroke="#5a3c18" stroke-width="0.7"/><rect x="549.3" y="506.8" width="4.4" height="4.4" fill="#c0904c" stroke="#5a3c18" stroke-width="0.7"/><rect x="555.8" y="506.8" width="4.4" height="4.4" fill="#c0904c" stroke="#5a3c18" stroke-width="0.7"/><rect x="562.8" y="506.8" width="4.4" height="4.4" fill="#c0904c" stroke="#5a3c18" stroke-width="0.7"/><rect x="569.8" y="506.8" width="4.4" height="4.4" fill="#c0904c" stroke="#5a3c18" stroke-width="0.7"/><rect x="576.8" y="506.8" width="4.4" height="4.4" fill="#c0904c" stroke="#5a3c18" stroke-width="0.7"/><path d="M584.3,507.1 L585.4,507.7 L585.8,509.1 L586.5,510.4 L587.7,510.8" fill="none" stroke="#5a3410" stroke-width="0.9"/><path d="M591.3,507.1 L592.4,507.7 L592.8,509.1 L593.5,510.4 L594.7,510.8" fill="none" stroke="#5a3410" stroke-width="0.9"/><path d="M600.0,511.4 L597.2,508.7 Q597.2,506.9 598.6,506.9 Q600.0,506.9 600.0,508.0 Q600.0,506.9 601.4,506.9 Q602.8,506.9 602.8,508.7 Z" fill="#000"/><path d="M607.0,511.4 L604.2,508.7 Q604.2,506.9 605.6,506.9 Q607.0,506.9 607.0,508.0 Q607.0,506.9 608.4,506.9 Q609.8,506.9 609.8,508.7 Z" fill="#000"/><path d="M614.0,511.4 L611.2,508.7 Q611.2,506.9 612.6,506.9 Q614.0,506.9 614.0,508.0 Q614.0,506.9 615.4,506.9 Q616.8,506.9 616.8,508.7 Z" fill="#000"/><rect x="620.2" y="508.2" width="1.6" height="1.6" fill="#000"/><path d="M625.8,510.5 A2.2,2.2 0 0 1 630.2,510.5" fill="none" stroke="#a8aeb8" stroke-width="0.85"/><path d="M632.3,510.5 A2.2,2.2 0 0 1 636.7,510.5" fill="none" stroke="#a8aeb8" stroke-width="0.85"/><path d="M459.8,517.0 A2.2,2.2 0 0 1 464.2,517.0" fill="none" stroke="#a8aeb8" stroke-width="0.85"/><rect x="466.5" y="513.5" width="4.0" height="4.0" fill="#fff"/><rect x="474.2" y="514.7" width="1.6" height="1.6" fill="#000"/><rect x="481.2" y="514.7" width="1.6" height="1.6" fill="#000"/><path d="M489.0,517.9 L486.2,515.2 Q486.2,513.4 487.6,513.4 Q489.0,513.4 489.0,514.5 Q489.0,513.4 490.4,513.4 Q491.8,513.4 491.8,515.2 Z" fill="#000"/><path d="M496.0,517.9 L493.2,515.2 Q493.2,513.4 494.6,513.4 Q496.0,513.4 496.0,514.5 Q496.0,513.4 497.4,513.4 Q498.8,513.4 498.8,515.2 Z" fill="#000"/><path d="M503.0,517.9 L500.2,515.2 Q500.2,513.4 501.6,513.4 Q503.0,513.4 503.0,514.5 Q503.0,513.4 504.4,513.4 Q505.8,513.4 505.8,515.2 Z" fill="#000"/><path d="M508.3,513.6 L509.4,514.2 L509.8,515.6 L510.5,516.9 L511.7,517.3" fill="none" stroke="#5a3410" stroke-width="0.9"/><path d="M515.3,513.6 L516.4,514.2 L516.8,515.6 L517.5,516.9 L518.7,517.3" fill="none" stroke="#5a3410" stroke-width="0.9"/><rect x="521.8" y="513.3" width="4.4" height="4.4" fill="#c0904c" stroke="#5a3c18" stroke-width="0.7"/><rect x="528.8" y="513.3" width="4.4" height="4.4" fill="#c0904c" stroke="#5a3c18" stroke-width="0.7"/><rect x="535.8" y="513.3" width="4.4" height="4.4" fill="#c0904c" stroke="#5a3c18" stroke-width="0.7"/><rect x="542.8" y="513.3" width="4.4" height="4.4" fill="#c0904c" stroke="#5a3c18" stroke-width="0.7"/><rect x="549.3" y="513.3" width="4.4" height="4.4" fill="#c0904c" stroke="#5a3c18" stroke-width="0.7"/><rect x="555.8" y="513.3" width="4.4" height="4.4" fill="#c0904c" stroke="#5a3c18" stroke-width="0.7"/><rect x="562.8" y="513.3" width="4.4" height="4.4" fill="#c0904c" stroke="#5a3c18" stroke-width="0.7"/><rect x="569.8" y="513.3" width="4.4" height="4.4" fill="#c0904c" stroke="#5a3c18" stroke-width="0.7"/><path d="M577.3,513.6 L578.4,514.2 L578.8,515.6 L579.5,516.9 L580.7,517.3" fill="none" stroke="#5a3410" stroke-width="0.9"/><rect x="583.8" y="513.3" width="4.4" height="4.4" fill="#c0904c" stroke="#5a3c18" stroke-width="0.7"/><path d="M591.3,513.6 L592.4,514.2 L592.8,515.6 L593.5,516.9 L594.7,517.3" fill="none" stroke="#5a3410" stroke-width="0.9"/><path d="M600.0,517.9 L597.2,515.2 Q597.2,513.4 598.6,513.4 Q600.0,513.4 600.0,514.5 Q600.0,513.4 601.4,513.4 Q602.8,513.4 602.8,515.2 Z" fill="#000"/><path d="M607.0,517.9 L604.2,515.2 Q604.2,513.4 605.6,513.4 Q607.0,513.4 607.0,514.5 Q607.0,513.4 608.4,513.4 Q609.8,513.4 609.8,515.2 Z" fill="#000"/><path d="M614.0,517.9 L611.2,515.2 Q611.2,513.4 612.6,513.4 Q614.0,513.4 614.0,514.5 Q614.0,513.4 615.4,513.4 Q616.8,513.4 616.8,515.2 Z" fill="#000"/><rect x="620.2" y="514.7" width="1.6" height="1.6" fill="#000"/><rect x="626.0" y="513.5" width="4.0" height="4.0" fill="#fff"/><rect x="632.5" y="513.5" width="4.0" height="4.0" fill="#fff"/><text x="460.6" y="282.4" font-family="Liberation Sans" font-size="4.3" fill="#111" stroke="#111" stroke-width="0.12">20</text><text x="529.6" y="282.4" font-family="Liberation Sans" font-size="4.3" fill="#111" stroke="#111" stroke-width="0.12">10</text><text x="667.6" y="282.4" font-family="Liberation Sans" font-size="4.3" fill="#111" stroke="#111" stroke-width="0.12">10</text><text x="736.6" y="282.4" font-family="Liberation Sans" font-size="4.3" fill="#111" stroke="#111" stroke-width="0.12">20</text><path d="M596.7,277.6H603.1L599.9,284.5Z" fill="#000"/><text x="408.2" y="317.8" font-family="Liberation Sans" font-size="4.3" fill="#111" stroke="#111" stroke-width="0.12" text-anchor="end">30</text><text x="408.2" y="386.8" font-family="Liberation Sans" font-size="4.3" fill="#111" stroke="#111" stroke-width="0.12" text-anchor="end">20</text><text x="408.2" y="455.8" font-family="Liberation Sans" font-size="4.3" fill="#111" stroke="#111" stroke-width="0.12" text-anchor="end">10</text><text x="409.5" y="276.0" font-family="Liberation Sans" font-size="4.0" fill="#111" stroke="#111" stroke-width="0.15">Page 1</text><text x="600.2" y="276.0" font-family="Liberation Sans" font-size="4.0" fill="#111" stroke="#111" stroke-width="0.15" text-anchor="middle">Gnome with pumpkin</text><text x="790.5" y="276.0" font-family="Liberation Sans" font-size="4.0" fill="#111" stroke="#111" stroke-width="0.15" text-anchor="end">Svitlana Sichkar</text><circle cx="3.5" cy="239.7" r="0.6" fill="#444"/><circle cx="396.3" cy="239.7" r="0.6" fill="#444"/><circle cx="403.5" cy="239.7" r="0.6" fill="#444"/><circle cx="796.3" cy="239.7" r="0.6" fill="#444"/><circle cx="3.5" cy="519.5" r="0.6" fill="#444"/><circle cx="396.3" cy="519.5" r="0.6" fill="#444"/><circle cx="403.5" cy="519.5" r="0.6" fill="#444"/><circle cx="796.3" cy="519.5" r="0.6" fill="#444"/></svg>
</body></html>
